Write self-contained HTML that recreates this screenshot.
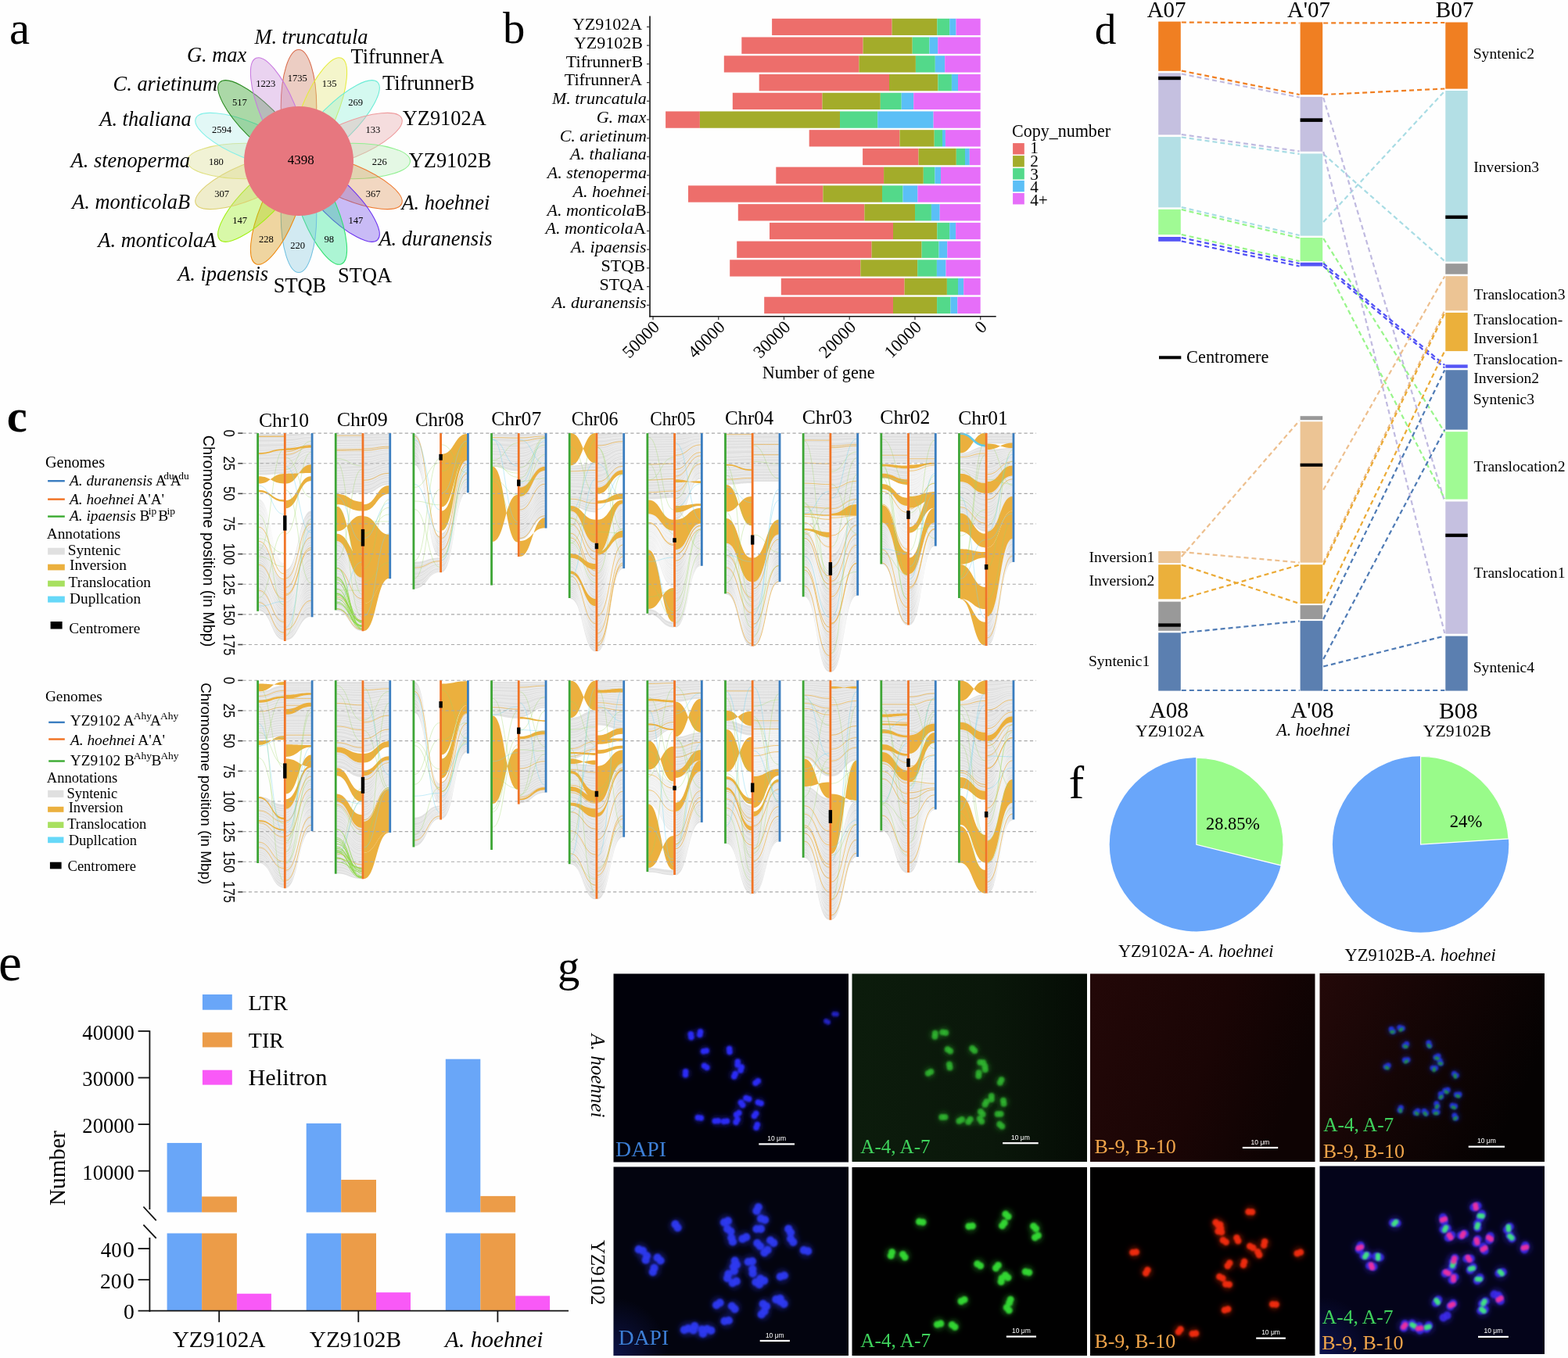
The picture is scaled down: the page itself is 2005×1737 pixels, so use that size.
<!DOCTYPE html>
<html><head><meta charset="utf-8"><title>Figure</title>
<style>html,body{margin:0;padding:0;background:#fff;} svg{display:block;}</style>
</head><body>
<svg width="2005" height="1737" viewBox="0 0 2005 1737">
<rect x="0" y="0" width="2005" height="1737" fill="#fefefe"/>
<text x="12.08" y="55.71" font-size="58.75" font-family='"Liberation Serif", "Times New Roman", serif' fill="#000">a</text>
<text x="642.98" y="55.33" font-size="56.60" font-family='"Liberation Serif", "Times New Roman", serif' fill="#000">b</text>
<text x="8.83" y="551.71" font-size="58.54" font-family='"Liberation Serif", "Times New Roman", serif' fill="#000" font-weight="bold">c</text>
<text x="1399.64" y="55.55" font-size="55.32" font-family='"Liberation Serif", "Times New Roman", serif' fill="#000">d</text>
<text x="-2.03" y="1254.33" font-size="67.29" font-family='"Liberation Serif", "Times New Roman", serif' fill="#000">e</text>
<text x="1366.71" y="1020.80" font-size="58.30" font-family='"Liberation Serif", "Times New Roman", serif' fill="#000">f</text>
<text x="712.91" y="1255.34" font-size="56.55" font-family='"Liberation Serif", "Times New Roman", serif' fill="#000">g</text>
<ellipse cx="382.00" cy="136.50" rx="22.8" ry="73.0" transform="rotate(0 382.00 136.50)" fill="#cd7a5f" fill-opacity="0.37" stroke="#d96a4a" stroke-width="1.05"/>
<ellipse cx="408.60" cy="141.79" rx="22.8" ry="73.0" transform="rotate(22.5 408.60 141.79)" fill="#e4e676" fill-opacity="0.37" stroke="#e6ec3c" stroke-width="1.05"/>
<ellipse cx="431.14" cy="156.86" rx="22.8" ry="73.0" transform="rotate(45 431.14 156.86)" fill="#8ef2d9" fill-opacity="0.37" stroke="#6aecd6" stroke-width="1.05"/>
<ellipse cx="446.21" cy="179.40" rx="22.8" ry="73.0" transform="rotate(67.5 446.21 179.40)" fill="#e6a5a7" fill-opacity="0.37" stroke="#ee9a9c" stroke-width="1.05"/>
<ellipse cx="451.50" cy="206.00" rx="22.8" ry="73.0" transform="rotate(90 451.50 206.00)" fill="#b9f0b9" fill-opacity="0.37" stroke="#90f090" stroke-width="1.05"/>
<ellipse cx="446.21" cy="232.60" rx="22.8" ry="73.0" transform="rotate(112.5 446.21 232.60)" fill="#de965a" fill-opacity="0.37" stroke="#ee7a30" stroke-width="1.05"/>
<ellipse cx="431.14" cy="255.14" rx="22.8" ry="73.0" transform="rotate(135 431.14 255.14)" fill="#6e48e8" fill-opacity="0.37" stroke="#6a30f0" stroke-width="1.05"/>
<ellipse cx="408.60" cy="270.21" rx="22.8" ry="73.0" transform="rotate(157.5 408.60 270.21)" fill="#20e68e" fill-opacity="0.37" stroke="#30e070" stroke-width="1.05"/>
<ellipse cx="382.00" cy="275.50" rx="22.8" ry="73.0" transform="rotate(180 382.00 275.50)" fill="#87c8de" fill-opacity="0.37" stroke="#70c0e0" stroke-width="1.05"/>
<ellipse cx="355.40" cy="270.21" rx="22.8" ry="73.0" transform="rotate(202.5 355.40 270.21)" fill="#d79100" fill-opacity="0.37" stroke="#ee8a10" stroke-width="1.05"/>
<ellipse cx="332.86" cy="255.14" rx="22.8" ry="73.0" transform="rotate(225 332.86 255.14)" fill="#98f016" fill-opacity="0.37" stroke="#a0f010" stroke-width="1.05"/>
<ellipse cx="317.79" cy="232.60" rx="22.8" ry="73.0" transform="rotate(247.5 317.79 232.60)" fill="#d7d276" fill-opacity="0.37" stroke="#ddd070" stroke-width="1.05"/>
<ellipse cx="312.50" cy="206.00" rx="22.8" ry="73.0" transform="rotate(270 312.50 206.00)" fill="#dcde91" fill-opacity="0.37" stroke="#e0e080" stroke-width="1.05"/>
<ellipse cx="317.79" cy="179.40" rx="22.8" ry="73.0" transform="rotate(292.5 317.79 179.40)" fill="#b4f0e8" fill-opacity="0.37" stroke="#80f0e8" stroke-width="1.05"/>
<ellipse cx="332.86" cy="156.86" rx="22.8" ry="73.0" transform="rotate(315 332.86 156.86)" fill="#1e9812" fill-opacity="0.37" stroke="#2a8a20" stroke-width="1.05"/>
<ellipse cx="355.40" cy="141.79" rx="22.8" ry="73.0" transform="rotate(337.5 355.40 141.79)" fill="#c88ada" fill-opacity="0.37" stroke="#c878e0" stroke-width="1.05"/>
<circle cx="382.0" cy="206.0" r="70" fill="#e7777f"/>
<text x="367.73" y="103.60" font-size="12.60" font-family='"Liberation Serif", "Times New Roman", serif' fill="#000"><tspan>1735</tspan></text>
<text x="327.13" y="111.40" font-size="12.60" font-family='"Liberation Serif", "Times New Roman", serif' fill="#000"><tspan>1223</tspan></text>
<text x="411.73" y="111.40" font-size="12.60" font-family='"Liberation Serif", "Times New Roman", serif' fill="#000"><tspan>135</tspan></text>
<text x="296.94" y="134.90" font-size="12.60" font-family='"Liberation Serif", "Times New Roman", serif' fill="#000"><tspan>517</tspan></text>
<text x="445.13" y="134.90" font-size="12.60" font-family='"Liberation Serif", "Times New Roman", serif' fill="#000"><tspan>269</tspan></text>
<text x="270.93" y="169.60" font-size="12.60" font-family='"Liberation Serif", "Times New Roman", serif' fill="#000"><tspan>2594</tspan></text>
<text x="467.53" y="169.60" font-size="12.60" font-family='"Liberation Serif", "Times New Roman", serif' fill="#000"><tspan>133</tspan></text>
<text x="266.93" y="210.70" font-size="12.60" font-family='"Liberation Serif", "Times New Roman", serif' fill="#000"><tspan>180</tspan></text>
<text x="475.83" y="210.70" font-size="12.60" font-family='"Liberation Serif", "Times New Roman", serif' fill="#000"><tspan>226</tspan></text>
<text x="274.23" y="251.80" font-size="12.60" font-family='"Liberation Serif", "Times New Roman", serif' fill="#000"><tspan>307</tspan></text>
<text x="467.63" y="251.80" font-size="12.60" font-family='"Liberation Serif", "Times New Roman", serif' fill="#000"><tspan>367</tspan></text>
<text x="297.23" y="286.20" font-size="12.60" font-family='"Liberation Serif", "Times New Roman", serif' fill="#000"><tspan>147</tspan></text>
<text x="445.43" y="286.20" font-size="12.60" font-family='"Liberation Serif", "Times New Roman", serif' fill="#000"><tspan>147</tspan></text>
<text x="331.03" y="310.10" font-size="12.60" font-family='"Liberation Serif", "Times New Roman", serif' fill="#000"><tspan>228</tspan></text>
<text x="414.42" y="310.10" font-size="12.60" font-family='"Liberation Serif", "Times New Roman", serif' fill="#000"><tspan>98</tspan></text>
<text x="371.13" y="318.00" font-size="12.60" font-family='"Liberation Serif", "Times New Roman", serif' fill="#000"><tspan>220</tspan></text>
<text x="367.86" y="210.30" font-size="17.00" font-family='"Liberation Serif", "Times New Roman", serif' fill="#000"><tspan>4398</tspan></text>
<text x="325.41" y="56.00" font-size="26.40" font-family='"Liberation Serif", "Times New Roman", serif' fill="#000"><tspan font-style="italic">M. truncatula</tspan></text>
<text x="238.97" y="79.00" font-size="26.40" font-family='"Liberation Serif", "Times New Roman", serif' fill="#000"><tspan font-style="italic">G. max</tspan></text>
<text x="448.47" y="80.60" font-size="26.40" font-family='"Liberation Serif", "Times New Roman", serif' fill="#000"><tspan>TifrunnerA</tspan></text>
<text x="144.60" y="116.00" font-size="26.40" font-family='"Liberation Serif", "Times New Roman", serif' fill="#000"><tspan font-style="italic">C. arietinum</tspan></text>
<text x="488.97" y="115.00" font-size="26.40" font-family='"Liberation Serif", "Times New Roman", serif' fill="#000"><tspan>TifrunnerB</tspan></text>
<text x="127.31" y="160.60" font-size="26.40" font-family='"Liberation Serif", "Times New Roman", serif' fill="#000"><tspan font-style="italic">A. thaliana</tspan></text>
<text x="514.74" y="160.30" font-size="26.40" font-family='"Liberation Serif", "Times New Roman", serif' fill="#000"><tspan>YZ9102A</tspan></text>
<text x="90.60" y="214.00" font-size="26.40" font-family='"Liberation Serif", "Times New Roman", serif' fill="#000"><tspan font-style="italic">A. stenoperma</tspan></text>
<text x="522.74" y="214.00" font-size="26.40" font-family='"Liberation Serif", "Times New Roman", serif' fill="#000"><tspan>YZ9102B</tspan></text>
<text x="92.12" y="266.60" font-size="26.40" font-family='"Liberation Serif", "Times New Roman", serif' fill="#000"><tspan font-style="italic">A. monticolaB</tspan></text>
<text x="513.45" y="268.00" font-size="26.40" font-family='"Liberation Serif", "Times New Roman", serif' fill="#000"><tspan font-style="italic">A. hoehnei</tspan></text>
<text x="125.36" y="316.00" font-size="26.40" font-family='"Liberation Serif", "Times New Roman", serif' fill="#000"><tspan font-style="italic">A. monticolaA</tspan></text>
<text x="484.45" y="314.00" font-size="26.40" font-family='"Liberation Serif", "Times New Roman", serif' fill="#000"><tspan font-style="italic">A. duranensis</tspan></text>
<text x="227.20" y="358.80" font-size="26.40" font-family='"Liberation Serif", "Times New Roman", serif' fill="#000"><tspan font-style="italic">A. ipaensis</tspan></text>
<text x="349.71" y="374.00" font-size="26.40" font-family='"Liberation Serif", "Times New Roman", serif' fill="#000"><tspan>STQB</tspan></text>
<text x="432.08" y="361.40" font-size="26.40" font-family='"Liberation Serif", "Times New Roman", serif' fill="#000"><tspan>STQA</tspan></text>
<rect x="987.10" y="23.80" width="153.50" height="21.30" fill="#ED6E6B"/>
<rect x="1140.60" y="23.80" width="57.70" height="21.30" fill="#A3AC2A"/>
<rect x="1198.30" y="23.80" width="15.90" height="21.30" fill="#53D98A"/>
<rect x="1214.20" y="23.80" width="8.30" height="21.30" fill="#5BBFF6"/>
<rect x="1222.50" y="23.80" width="31.20" height="21.30" fill="#E66EF9"/>
<rect x="948.30" y="47.53" width="155.30" height="21.30" fill="#ED6E6B"/>
<rect x="1103.60" y="47.53" width="63.10" height="21.30" fill="#A3AC2A"/>
<rect x="1166.70" y="47.53" width="21.70" height="21.30" fill="#53D98A"/>
<rect x="1188.40" y="47.53" width="10.80" height="21.30" fill="#5BBFF6"/>
<rect x="1199.20" y="47.53" width="54.50" height="21.30" fill="#E66EF9"/>
<rect x="925.80" y="71.26" width="172.60" height="21.30" fill="#ED6E6B"/>
<rect x="1098.40" y="71.26" width="72.50" height="21.30" fill="#A3AC2A"/>
<rect x="1170.90" y="71.26" width="24.90" height="21.30" fill="#53D98A"/>
<rect x="1195.80" y="71.26" width="12.40" height="21.30" fill="#5BBFF6"/>
<rect x="1208.20" y="71.26" width="45.50" height="21.30" fill="#E66EF9"/>
<rect x="970.70" y="94.99" width="166.30" height="21.30" fill="#ED6E6B"/>
<rect x="1137.00" y="94.99" width="62.40" height="21.30" fill="#A3AC2A"/>
<rect x="1199.40" y="94.99" width="17.50" height="21.30" fill="#53D98A"/>
<rect x="1216.90" y="94.99" width="8.10" height="21.30" fill="#5BBFF6"/>
<rect x="1225.00" y="94.99" width="28.70" height="21.30" fill="#E66EF9"/>
<rect x="936.80" y="118.72" width="114.70" height="21.30" fill="#ED6E6B"/>
<rect x="1051.50" y="118.72" width="74.30" height="21.30" fill="#A3AC2A"/>
<rect x="1125.80" y="118.72" width="26.90" height="21.30" fill="#53D98A"/>
<rect x="1152.70" y="118.72" width="15.50" height="21.30" fill="#5BBFF6"/>
<rect x="1168.20" y="118.72" width="85.50" height="21.30" fill="#E66EF9"/>
<rect x="851.10" y="142.45" width="43.80" height="21.30" fill="#ED6E6B"/>
<rect x="894.90" y="142.45" width="179.10" height="21.30" fill="#A3AC2A"/>
<rect x="1074.00" y="142.45" width="48.20" height="21.30" fill="#53D98A"/>
<rect x="1122.20" y="142.45" width="71.40" height="21.30" fill="#5BBFF6"/>
<rect x="1193.60" y="142.45" width="60.10" height="21.30" fill="#E66EF9"/>
<rect x="1034.70" y="166.18" width="115.80" height="21.30" fill="#ED6E6B"/>
<rect x="1150.50" y="166.18" width="44.20" height="21.30" fill="#A3AC2A"/>
<rect x="1194.70" y="166.18" width="10.30" height="21.30" fill="#53D98A"/>
<rect x="1205.00" y="166.18" width="3.90" height="21.30" fill="#5BBFF6"/>
<rect x="1208.90" y="166.18" width="44.80" height="21.30" fill="#E66EF9"/>
<rect x="1103.10" y="189.91" width="71.40" height="21.30" fill="#ED6E6B"/>
<rect x="1174.50" y="189.91" width="48.30" height="21.30" fill="#A3AC2A"/>
<rect x="1222.80" y="189.91" width="11.20" height="21.30" fill="#53D98A"/>
<rect x="1234.00" y="189.91" width="5.80" height="21.30" fill="#5BBFF6"/>
<rect x="1239.80" y="189.91" width="13.90" height="21.30" fill="#E66EF9"/>
<rect x="992.30" y="213.64" width="137.80" height="21.30" fill="#ED6E6B"/>
<rect x="1130.10" y="213.64" width="50.70" height="21.30" fill="#A3AC2A"/>
<rect x="1180.80" y="213.64" width="14.60" height="21.30" fill="#53D98A"/>
<rect x="1195.40" y="213.64" width="7.60" height="21.30" fill="#5BBFF6"/>
<rect x="1203.00" y="213.64" width="50.70" height="21.30" fill="#E66EF9"/>
<rect x="880.00" y="237.37" width="172.40" height="21.30" fill="#ED6E6B"/>
<rect x="1052.40" y="237.37" width="75.60" height="21.30" fill="#A3AC2A"/>
<rect x="1128.00" y="237.37" width="26.50" height="21.30" fill="#53D98A"/>
<rect x="1154.50" y="237.37" width="18.90" height="21.30" fill="#5BBFF6"/>
<rect x="1173.40" y="237.37" width="80.30" height="21.30" fill="#E66EF9"/>
<rect x="943.80" y="261.10" width="161.60" height="21.30" fill="#ED6E6B"/>
<rect x="1105.40" y="261.10" width="64.60" height="21.30" fill="#A3AC2A"/>
<rect x="1170.00" y="261.10" width="20.90" height="21.30" fill="#53D98A"/>
<rect x="1190.90" y="261.10" width="10.80" height="21.30" fill="#5BBFF6"/>
<rect x="1201.70" y="261.10" width="52.00" height="21.30" fill="#E66EF9"/>
<rect x="984.00" y="284.83" width="158.00" height="21.30" fill="#ED6E6B"/>
<rect x="1142.00" y="284.83" width="56.30" height="21.30" fill="#A3AC2A"/>
<rect x="1198.30" y="284.83" width="15.90" height="21.30" fill="#53D98A"/>
<rect x="1214.20" y="284.83" width="7.90" height="21.30" fill="#5BBFF6"/>
<rect x="1222.10" y="284.83" width="31.60" height="21.30" fill="#E66EF9"/>
<rect x="942.20" y="308.56" width="172.40" height="21.30" fill="#ED6E6B"/>
<rect x="1114.60" y="308.56" width="64.00" height="21.30" fill="#A3AC2A"/>
<rect x="1178.60" y="308.56" width="21.90" height="21.30" fill="#53D98A"/>
<rect x="1200.50" y="308.56" width="10.80" height="21.30" fill="#5BBFF6"/>
<rect x="1211.30" y="308.56" width="42.40" height="21.30" fill="#E66EF9"/>
<rect x="933.20" y="332.29" width="167.20" height="21.30" fill="#ED6E6B"/>
<rect x="1100.40" y="332.29" width="72.80" height="21.30" fill="#A3AC2A"/>
<rect x="1173.20" y="332.29" width="24.70" height="21.30" fill="#53D98A"/>
<rect x="1197.90" y="332.29" width="11.60" height="21.30" fill="#5BBFF6"/>
<rect x="1209.50" y="332.29" width="44.20" height="21.30" fill="#E66EF9"/>
<rect x="998.80" y="356.02" width="157.80" height="21.30" fill="#ED6E6B"/>
<rect x="1156.60" y="356.02" width="54.30" height="21.30" fill="#A3AC2A"/>
<rect x="1210.90" y="356.02" width="14.10" height="21.30" fill="#53D98A"/>
<rect x="1225.00" y="356.02" width="7.20" height="21.30" fill="#5BBFF6"/>
<rect x="1232.20" y="356.02" width="21.50" height="21.30" fill="#E66EF9"/>
<rect x="977.20" y="379.75" width="164.80" height="21.30" fill="#ED6E6B"/>
<rect x="1142.00" y="379.75" width="56.10" height="21.30" fill="#A3AC2A"/>
<rect x="1198.10" y="379.75" width="17.30" height="21.30" fill="#53D98A"/>
<rect x="1215.40" y="379.75" width="8.90" height="21.30" fill="#5BBFF6"/>
<rect x="1224.30" y="379.75" width="29.40" height="21.30" fill="#E66EF9"/>
<text x="731.90" y="38.30" font-size="22.00" font-family='"Liberation Serif", "Times New Roman", serif' fill="#000"><tspan>YZ9102A</tspan></text>
<text x="733.99" y="62.03" font-size="22.00" font-family='"Liberation Serif", "Times New Roman", serif' fill="#000"><tspan>YZ9102B</tspan></text>
<text x="723.87" y="85.76" font-size="22.00" font-family='"Liberation Serif", "Times New Roman", serif' fill="#000"><tspan>TifrunnerB</tspan></text>
<text x="721.78" y="109.49" font-size="22.00" font-family='"Liberation Serif", "Times New Roman", serif' fill="#000"><tspan>TifrunnerA</tspan></text>
<text x="705.88" y="133.22" font-size="22.00" font-family='"Liberation Serif", "Times New Roman", serif' fill="#000"><tspan font-style="italic">M. truncatula</tspan></text>
<text x="762.64" y="156.95" font-size="22.00" font-family='"Liberation Serif", "Times New Roman", serif' fill="#000"><tspan font-style="italic">G. max</tspan></text>
<text x="715.67" y="180.68" font-size="22.00" font-family='"Liberation Serif", "Times New Roman", serif' fill="#000"><tspan font-style="italic">C. arietinum</tspan></text>
<text x="729.09" y="204.41" font-size="22.00" font-family='"Liberation Serif", "Times New Roman", serif' fill="#000"><tspan font-style="italic">A. thaliana</tspan></text>
<text x="699.83" y="228.14" font-size="22.00" font-family='"Liberation Serif", "Times New Roman", serif' fill="#000"><tspan font-style="italic">A. stenoperma</tspan></text>
<text x="732.50" y="251.87" font-size="22.00" font-family='"Liberation Serif", "Times New Roman", serif' fill="#000"><tspan font-style="italic">A. hoehnei</tspan></text>
<text x="699.54" y="275.60" font-size="22.00" font-family='"Liberation Serif", "Times New Roman", serif' fill="#000"><tspan font-style="italic">A. monticola</tspan><tspan>B</tspan></text>
<text x="697.45" y="299.33" font-size="22.00" font-family='"Liberation Serif", "Times New Roman", serif' fill="#000"><tspan font-style="italic">A. monticola</tspan><tspan>A</tspan></text>
<text x="730.08" y="323.06" font-size="22.00" font-family='"Liberation Serif", "Times New Roman", serif' fill="#000"><tspan font-style="italic">A. ipaensis</tspan></text>
<text x="768.58" y="346.79" font-size="22.00" font-family='"Liberation Serif", "Times New Roman", serif' fill="#000"><tspan>STQB</tspan></text>
<text x="766.49" y="370.52" font-size="22.00" font-family='"Liberation Serif", "Times New Roman", serif' fill="#000"><tspan>STQA</tspan></text>
<text x="705.66" y="394.25" font-size="22.00" font-family='"Liberation Serif", "Times New Roman", serif' fill="#000"><tspan font-style="italic">A. duranensis</tspan></text>
<line x1="831.00" y1="20.50" x2="831.00" y2="405.40" stroke="#111" stroke-width="1.6"/>
<line x1="830.20" y1="404.70" x2="1273.70" y2="404.70" stroke="#111" stroke-width="1.6"/>
<line x1="827.00" y1="34.40" x2="831.00" y2="34.40" stroke="#333" stroke-width="1.2"/>
<line x1="827.00" y1="58.13" x2="831.00" y2="58.13" stroke="#333" stroke-width="1.2"/>
<line x1="827.00" y1="81.86" x2="831.00" y2="81.86" stroke="#333" stroke-width="1.2"/>
<line x1="827.00" y1="105.59" x2="831.00" y2="105.59" stroke="#333" stroke-width="1.2"/>
<line x1="827.00" y1="129.32" x2="831.00" y2="129.32" stroke="#333" stroke-width="1.2"/>
<line x1="827.00" y1="153.05" x2="831.00" y2="153.05" stroke="#333" stroke-width="1.2"/>
<line x1="827.00" y1="176.78" x2="831.00" y2="176.78" stroke="#333" stroke-width="1.2"/>
<line x1="827.00" y1="200.51" x2="831.00" y2="200.51" stroke="#333" stroke-width="1.2"/>
<line x1="827.00" y1="224.24" x2="831.00" y2="224.24" stroke="#333" stroke-width="1.2"/>
<line x1="827.00" y1="247.97" x2="831.00" y2="247.97" stroke="#333" stroke-width="1.2"/>
<line x1="827.00" y1="271.70" x2="831.00" y2="271.70" stroke="#333" stroke-width="1.2"/>
<line x1="827.00" y1="295.43" x2="831.00" y2="295.43" stroke="#333" stroke-width="1.2"/>
<line x1="827.00" y1="319.16" x2="831.00" y2="319.16" stroke="#333" stroke-width="1.2"/>
<line x1="827.00" y1="342.89" x2="831.00" y2="342.89" stroke="#333" stroke-width="1.2"/>
<line x1="827.00" y1="366.62" x2="831.00" y2="366.62" stroke="#333" stroke-width="1.2"/>
<line x1="827.00" y1="390.35" x2="831.00" y2="390.35" stroke="#333" stroke-width="1.2"/>
<line x1="1253.70" y1="404.70" x2="1253.70" y2="409.00" stroke="#333" stroke-width="1.2"/>
<text x="1263.20" y="419.50" font-size="22.5" font-family='"Liberation Serif", "Times New Roman", serif' text-anchor="end" transform="rotate(-45 1263.20 419.5)">0</text>
<line x1="1169.96" y1="404.70" x2="1169.96" y2="409.00" stroke="#333" stroke-width="1.2"/>
<text x="1179.46" y="419.50" font-size="22.5" font-family='"Liberation Serif", "Times New Roman", serif' text-anchor="end" transform="rotate(-45 1179.46 419.5)">10000</text>
<line x1="1086.22" y1="404.70" x2="1086.22" y2="409.00" stroke="#333" stroke-width="1.2"/>
<text x="1095.72" y="419.50" font-size="22.5" font-family='"Liberation Serif", "Times New Roman", serif' text-anchor="end" transform="rotate(-45 1095.72 419.5)">20000</text>
<line x1="1002.48" y1="404.70" x2="1002.48" y2="409.00" stroke="#333" stroke-width="1.2"/>
<text x="1011.98" y="419.50" font-size="22.5" font-family='"Liberation Serif", "Times New Roman", serif' text-anchor="end" transform="rotate(-45 1011.98 419.5)">30000</text>
<line x1="918.74" y1="404.70" x2="918.74" y2="409.00" stroke="#333" stroke-width="1.2"/>
<text x="928.24" y="419.50" font-size="22.5" font-family='"Liberation Serif", "Times New Roman", serif' text-anchor="end" transform="rotate(-45 928.24 419.5)">40000</text>
<line x1="835.00" y1="404.70" x2="835.00" y2="409.00" stroke="#333" stroke-width="1.2"/>
<text x="844.50" y="419.50" font-size="22.5" font-family='"Liberation Serif", "Times New Roman", serif' text-anchor="end" transform="rotate(-45 844.50 419.5)">50000</text>
<text x="974.63" y="483.70" font-size="22.18" font-family='"Liberation Serif", "Times New Roman", serif' fill="#000"><tspan>Number of gene</tspan></text>
<text x="1294.02" y="174.70" font-size="22.03" font-family='"Liberation Serif", "Times New Roman", serif' fill="#000"><tspan>Copy_number</tspan></text>
<rect x="1295.10" y="183.10" width="14.70" height="14.40" fill="#ED6E6B"/>
<text x="1317.20" y="196.40" font-size="21.20" font-family='"Liberation Serif", "Times New Roman", serif' fill="#000" text-anchor="start"><tspan>1</tspan></text>
<rect x="1295.10" y="199.10" width="14.70" height="14.40" fill="#A3AC2A"/>
<text x="1317.20" y="213.00" font-size="21.20" font-family='"Liberation Serif", "Times New Roman", serif' fill="#000" text-anchor="start"><tspan>2</tspan></text>
<rect x="1295.10" y="215.10" width="14.70" height="14.40" fill="#53D98A"/>
<text x="1317.20" y="229.50" font-size="21.20" font-family='"Liberation Serif", "Times New Roman", serif' fill="#000" text-anchor="start"><tspan>3</tspan></text>
<rect x="1295.10" y="230.90" width="14.70" height="14.40" fill="#5BBFF6"/>
<text x="1317.20" y="245.60" font-size="21.20" font-family='"Liberation Serif", "Times New Roman", serif' fill="#000" text-anchor="start"><tspan>4</tspan></text>
<rect x="1295.10" y="247.00" width="14.70" height="14.40" fill="#E66EF9"/>
<text x="1317.20" y="262.50" font-size="21.20" font-family='"Liberation Serif", "Times New Roman", serif' fill="#000" text-anchor="start"><tspan>4+</tspan></text>
<rect x="1481.20" y="27.60" width="28.60" height="63.20" fill="#F07F22"/>
<rect x="1481.20" y="93.30" width="28.60" height="79.10" fill="#C5C0E0"/>
<rect x="1481.20" y="97.80" width="28.60" height="4.40" fill="#000"/>
<rect x="1481.20" y="175.10" width="28.60" height="90.20" fill="#B3DFE5"/>
<rect x="1481.20" y="267.80" width="28.60" height="32.30" fill="#A0FA94"/>
<rect x="1481.20" y="303.00" width="28.60" height="5.80" fill="#5555F5"/>
<rect x="1662.60" y="28.40" width="28.60" height="92.80" fill="#F07F22"/>
<rect x="1662.60" y="123.90" width="28.60" height="69.90" fill="#C5C0E0"/>
<rect x="1662.60" y="151.30" width="28.60" height="4.60" fill="#000"/>
<rect x="1662.60" y="196.50" width="28.60" height="105.10" fill="#B3DFE5"/>
<rect x="1662.60" y="304.00" width="28.60" height="30.10" fill="#A0FA94"/>
<rect x="1662.60" y="335.80" width="28.60" height="4.70" fill="#5555F5"/>
<rect x="1848.30" y="28.50" width="28.40" height="85.10" fill="#F07F22"/>
<rect x="1848.30" y="116.00" width="28.40" height="218.60" fill="#B3DFE5"/>
<rect x="1848.30" y="275.50" width="28.40" height="4.40" fill="#000"/>
<rect x="1848.30" y="337.20" width="28.40" height="13.50" fill="#999999"/>
<rect x="1848.30" y="353.20" width="28.40" height="44.10" fill="#ECC494"/>
<rect x="1848.30" y="399.90" width="28.40" height="49.20" fill="#EBB03B"/>
<rect x="1848.30" y="466.40" width="28.40" height="4.30" fill="#5555F5"/>
<rect x="1848.30" y="473.30" width="28.40" height="76.30" fill="#5B7FB0"/>
<rect x="1848.30" y="552.20" width="28.40" height="86.40" fill="#A0FA94"/>
<rect x="1848.30" y="641.50" width="28.40" height="169.20" fill="#C5C0E0"/>
<rect x="1848.30" y="682.60" width="28.40" height="4.30" fill="#000"/>
<rect x="1848.30" y="813.60" width="28.40" height="70.00" fill="#5B7FB0"/>
<rect x="1481.20" y="705.00" width="28.60" height="15.20" fill="#ECC494"/>
<rect x="1481.20" y="722.20" width="28.60" height="44.10" fill="#EBB03B"/>
<rect x="1481.20" y="769.60" width="28.60" height="37.20" fill="#999999"/>
<rect x="1481.20" y="797.40" width="28.60" height="4.30" fill="#000"/>
<rect x="1481.20" y="809.30" width="28.60" height="74.30" fill="#5B7FB0"/>
<rect x="1662.60" y="532.20" width="28.60" height="5.00" fill="#999999"/>
<rect x="1662.60" y="539.30" width="28.60" height="180.30" fill="#ECC494"/>
<rect x="1662.60" y="592.70" width="28.60" height="4.10" fill="#000"/>
<rect x="1662.60" y="722.20" width="28.60" height="49.90" fill="#EBB03B"/>
<rect x="1662.60" y="774.10" width="28.60" height="17.80" fill="#999999"/>
<rect x="1662.60" y="794.10" width="28.60" height="89.50" fill="#5B7FB0"/>
<line x1="1510.8" y1="28.5" x2="1661.6" y2="29.5" stroke="#F07F22" stroke-width="2.2" stroke-dasharray="6 4"/>
<line x1="1510.8" y1="90.5" x2="1661.6" y2="121.0" stroke="#F07F22" stroke-width="2.2" stroke-dasharray="6 4"/>
<line x1="1510.8" y1="94.5" x2="1661.6" y2="124.5" stroke="#C0BAE0" stroke-width="2.2" stroke-dasharray="6 4"/>
<line x1="1510.8" y1="172.0" x2="1661.6" y2="193.5" stroke="#C0BAE0" stroke-width="2.2" stroke-dasharray="6 4"/>
<line x1="1510.8" y1="175.5" x2="1661.6" y2="197.0" stroke="#A8DCE4" stroke-width="2.2" stroke-dasharray="6 4"/>
<line x1="1510.8" y1="265.0" x2="1661.6" y2="301.0" stroke="#A8DCE4" stroke-width="2.2" stroke-dasharray="6 4"/>
<line x1="1510.8" y1="268.0" x2="1661.6" y2="304.5" stroke="#98F58A" stroke-width="2.2" stroke-dasharray="6 4"/>
<line x1="1510.8" y1="300.0" x2="1661.6" y2="334.0" stroke="#98F58A" stroke-width="2.2" stroke-dasharray="6 4"/>
<line x1="1510.8" y1="304.0" x2="1661.6" y2="337.0" stroke="#4F4FF5" stroke-width="2.2" stroke-dasharray="6 4"/>
<line x1="1510.8" y1="308.5" x2="1661.6" y2="340.5" stroke="#4F4FF5" stroke-width="2.2" stroke-dasharray="6 4"/>
<line x1="1692.2" y1="29.5" x2="1847.3" y2="29.0" stroke="#F07F22" stroke-width="2.2" stroke-dasharray="6 4"/>
<line x1="1692.2" y1="121.0" x2="1847.3" y2="113.5" stroke="#F07F22" stroke-width="2.2" stroke-dasharray="6 4"/>
<line x1="1692.2" y1="197.0" x2="1847.3" y2="334.0" stroke="#A8DCE4" stroke-width="2.2" stroke-dasharray="6 4"/>
<line x1="1692.2" y1="284.0" x2="1847.3" y2="116.5" stroke="#A8DCE4" stroke-width="2.2" stroke-dasharray="6 4"/>
<line x1="1692.2" y1="125.0" x2="1847.3" y2="641.5" stroke="#C0BAE0" stroke-width="2.2" stroke-dasharray="6 4"/>
<line x1="1692.2" y1="194.0" x2="1847.3" y2="810.0" stroke="#C0BAE0" stroke-width="2.2" stroke-dasharray="6 4"/>
<line x1="1692.2" y1="305.0" x2="1847.3" y2="553.0" stroke="#98F58A" stroke-width="2.2" stroke-dasharray="6 4"/>
<line x1="1692.2" y1="334.5" x2="1847.3" y2="638.0" stroke="#98F58A" stroke-width="2.2" stroke-dasharray="6 4"/>
<line x1="1692.2" y1="337.0" x2="1847.3" y2="467.0" stroke="#4F4FF5" stroke-width="2.2" stroke-dasharray="6 4"/>
<line x1="1692.2" y1="340.5" x2="1847.3" y2="470.5" stroke="#4F4FF5" stroke-width="2.2" stroke-dasharray="6 4"/>
<line x1="1510.8" y1="712.0" x2="1661.6" y2="538.0" stroke="#EDBF8E" stroke-width="2.2" stroke-dasharray="6 4"/>
<line x1="1510.8" y1="706.0" x2="1661.6" y2="719.5" stroke="#EDBF8E" stroke-width="2.2" stroke-dasharray="6 4"/>
<line x1="1510.8" y1="722.5" x2="1661.6" y2="772.0" stroke="#EBAA35" stroke-width="2.2" stroke-dasharray="6 4"/>
<line x1="1510.8" y1="766.0" x2="1661.6" y2="722.5" stroke="#EBAA35" stroke-width="2.2" stroke-dasharray="6 4"/>
<line x1="1510.8" y1="809.5" x2="1661.6" y2="794.5" stroke="#4F7BB5" stroke-width="2.2" stroke-dasharray="6 4"/>
<line x1="1510.8" y1="883.0" x2="1661.6" y2="883.0" stroke="#4F7BB5" stroke-width="2.2" stroke-dasharray="6 4"/>
<line x1="1692.2" y1="626.5" x2="1847.3" y2="353.5" stroke="#EDBF8E" stroke-width="2.2" stroke-dasharray="6 4"/>
<line x1="1692.2" y1="719.5" x2="1847.3" y2="397.0" stroke="#EDBF8E" stroke-width="2.2" stroke-dasharray="6 4"/>
<line x1="1692.2" y1="722.5" x2="1847.3" y2="400.5" stroke="#EBAA35" stroke-width="2.2" stroke-dasharray="6 4"/>
<line x1="1692.2" y1="771.5" x2="1847.3" y2="449.0" stroke="#EBAA35" stroke-width="2.2" stroke-dasharray="6 4"/>
<line x1="1692.2" y1="792.0" x2="1847.3" y2="473.5" stroke="#4F7BB5" stroke-width="2.2" stroke-dasharray="6 4"/>
<line x1="1692.2" y1="843.0" x2="1847.3" y2="549.5" stroke="#4F7BB5" stroke-width="2.2" stroke-dasharray="6 4"/>
<line x1="1692.2" y1="852.5" x2="1847.3" y2="813.5" stroke="#4F7BB5" stroke-width="2.2" stroke-dasharray="6 4"/>
<line x1="1692.2" y1="883.0" x2="1847.3" y2="883.0" stroke="#4F7BB5" stroke-width="2.2" stroke-dasharray="6 4"/>
<text x="1466.71" y="22.40" font-size="28.93" font-family='"Liberation Serif", "Times New Roman", serif' fill="#000"><tspan>A07</tspan></text>
<text x="1645.91" y="22.40" font-size="28.98" font-family='"Liberation Serif", "Times New Roman", serif' fill="#000"><tspan>A'07</tspan></text>
<text x="1835.72" y="22.40" font-size="29.28" font-family='"Liberation Serif", "Times New Roman", serif' fill="#000"><tspan>B07</tspan></text>
<text x="1883.73" y="75.10" font-size="19.60" font-family='"Liberation Serif", "Times New Roman", serif' fill="#000"><tspan>Syntenic2</tspan></text>
<text x="1884.31" y="220.20" font-size="19.60" font-family='"Liberation Serif", "Times New Roman", serif' fill="#000"><tspan>Inversion3</tspan></text>
<text x="1884.61" y="383.00" font-size="19.60" font-family='"Liberation Serif", "Times New Roman", serif' fill="#000"><tspan>Translocation3</tspan></text>
<text x="1884.61" y="415.40" font-size="19.60" font-family='"Liberation Serif", "Times New Roman", serif' fill="#000"><tspan>Translocation-</tspan></text>
<text x="1884.31" y="438.70" font-size="19.60" font-family='"Liberation Serif", "Times New Roman", serif' fill="#000"><tspan>Inversion1</tspan></text>
<text x="1884.61" y="466.40" font-size="19.60" font-family='"Liberation Serif", "Times New Roman", serif' fill="#000"><tspan>Translocation-</tspan></text>
<text x="1884.31" y="489.70" font-size="19.60" font-family='"Liberation Serif", "Times New Roman", serif' fill="#000"><tspan>Inversion2</tspan></text>
<text x="1883.73" y="517.30" font-size="19.60" font-family='"Liberation Serif", "Times New Roman", serif' fill="#000"><tspan>Syntenic3</tspan></text>
<text x="1884.61" y="603.30" font-size="19.60" font-family='"Liberation Serif", "Times New Roman", serif' fill="#000"><tspan>Translocation2</tspan></text>
<text x="1884.61" y="738.60" font-size="19.60" font-family='"Liberation Serif", "Times New Roman", serif' fill="#000"><tspan>Translocation1</tspan></text>
<text x="1883.73" y="859.50" font-size="19.60" font-family='"Liberation Serif", "Times New Roman", serif' fill="#000"><tspan>Syntenic4</tspan></text>
<text x="1392.51" y="718.90" font-size="19.60" font-family='"Liberation Serif", "Times New Roman", serif' fill="#000"><tspan>Inversion1</tspan></text>
<text x="1392.51" y="749.30" font-size="19.60" font-family='"Liberation Serif", "Times New Roman", serif' fill="#000"><tspan>Inversion2</tspan></text>
<text x="1391.93" y="851.90" font-size="19.60" font-family='"Liberation Serif", "Times New Roman", serif' fill="#000"><tspan>Syntenic1</tspan></text>
<text x="1469.71" y="917.80" font-size="29.10" font-family='"Liberation Serif", "Times New Roman", serif' fill="#000"><tspan>A08</tspan></text>
<text x="1650.31" y="917.80" font-size="29.03" font-family='"Liberation Serif", "Times New Roman", serif' fill="#000"><tspan>A'08</tspan></text>
<text x="1840.01" y="919.40" font-size="29.72" font-family='"Liberation Serif", "Times New Roman", serif' fill="#000"><tspan>B08</tspan></text>
<text x="1451.98" y="941.80" font-size="21.76" font-family='"Liberation Serif", "Times New Roman", serif' fill="#000"><tspan>YZ9102A</tspan></text>
<text x="1632.21" y="941.30" font-size="22.07" font-family='"Liberation Serif", "Times New Roman", serif' fill="#000"><tspan font-style="italic">A. hoehnei</tspan></text>
<text x="1819.68" y="942.40" font-size="21.75" font-family='"Liberation Serif", "Times New Roman", serif' fill="#000"><tspan>YZ9102B</tspan></text>
<rect x="1482.00" y="455.30" width="28.30" height="4.00" fill="#000"/>
<text x="1517.11" y="463.50" font-size="22.30" font-family='"Liberation Serif", "Times New Roman", serif' fill="#000"><tspan>Centromere</tspan></text>
<rect x="213.60" y="1461.94" width="44.50" height="88.66" fill="#69A6F8"/>
<rect x="258.10" y="1530.48" width="44.80" height="20.12" fill="#EC9C48"/>
<rect x="213.60" y="1577.50" width="44.50" height="99.10" fill="#69A6F8"/>
<rect x="258.10" y="1577.50" width="44.80" height="99.10" fill="#EC9C48"/>
<rect x="302.90" y="1654.73" width="44.00" height="21.87" fill="#F959F7"/>
<rect x="391.70" y="1436.91" width="44.50" height="113.69" fill="#69A6F8"/>
<rect x="436.20" y="1509.02" width="44.80" height="41.58" fill="#EC9C48"/>
<rect x="391.70" y="1577.50" width="44.50" height="99.10" fill="#69A6F8"/>
<rect x="436.20" y="1577.50" width="44.80" height="99.10" fill="#EC9C48"/>
<rect x="481.00" y="1653.14" width="44.00" height="23.46" fill="#F959F7"/>
<rect x="569.80" y="1354.66" width="44.50" height="195.94" fill="#69A6F8"/>
<rect x="614.30" y="1529.88" width="44.80" height="20.72" fill="#EC9C48"/>
<rect x="569.80" y="1577.50" width="44.50" height="99.10" fill="#69A6F8"/>
<rect x="614.30" y="1577.50" width="44.80" height="99.10" fill="#EC9C48"/>
<rect x="659.10" y="1657.52" width="44.00" height="19.08" fill="#F959F7"/>
<line x1="191.40" y1="1318.20" x2="191.40" y2="1547.00" stroke="#111" stroke-width="1.8"/>
<line x1="191.40" y1="1583.00" x2="191.40" y2="1678.00" stroke="#111" stroke-width="1.8"/>
<line x1="183.40" y1="1543.50" x2="199.70" y2="1561.10" stroke="#111" stroke-width="1.8"/>
<line x1="183.40" y1="1566.70" x2="199.70" y2="1583.80" stroke="#111" stroke-width="1.8"/>
<line x1="176.60" y1="1676.60" x2="727.00" y2="1676.60" stroke="#111" stroke-width="1.8"/>
<line x1="176.60" y1="1318.90" x2="191.40" y2="1318.90" stroke="#111" stroke-width="1.8"/>
<text x="105.36" y="1329.70" font-size="26.60" font-family='"Liberation Serif", "Times New Roman", serif' fill="#000"><tspan>40000</tspan></text>
<line x1="176.60" y1="1378.50" x2="191.40" y2="1378.50" stroke="#111" stroke-width="1.8"/>
<text x="105.36" y="1389.30" font-size="26.60" font-family='"Liberation Serif", "Times New Roman", serif' fill="#000"><tspan>30000</tspan></text>
<line x1="176.60" y1="1438.10" x2="191.40" y2="1438.10" stroke="#111" stroke-width="1.8"/>
<text x="105.36" y="1448.90" font-size="26.60" font-family='"Liberation Serif", "Times New Roman", serif' fill="#000"><tspan>20000</tspan></text>
<line x1="176.60" y1="1497.70" x2="191.40" y2="1497.70" stroke="#111" stroke-width="1.8"/>
<text x="105.36" y="1508.50" font-size="26.60" font-family='"Liberation Serif", "Times New Roman", serif' fill="#000"><tspan>10000</tspan></text>
<line x1="176.60" y1="1597.08" x2="191.40" y2="1597.08" stroke="#111" stroke-width="1.8"/>
<text x="128.76" y="1607.88" font-size="26.81" font-family='"Liberation Serif", "Times New Roman", serif' fill="#000"><tspan>40</tspan></text>
<text x="157.00" y="1607.88" font-size="30.00" font-family='"Liberation Serif", "Times New Roman", serif' fill="#000"><tspan>0</tspan></text>
<line x1="176.60" y1="1636.84" x2="191.40" y2="1636.84" stroke="#111" stroke-width="1.8"/>
<text x="128.06" y="1647.64" font-size="27.54" font-family='"Liberation Serif", "Times New Roman", serif' fill="#000"><tspan>20</tspan></text>
<text x="157.00" y="1647.64" font-size="30.00" font-family='"Liberation Serif", "Times New Roman", serif' fill="#000"><tspan>0</tspan></text>
<text x="158.10" y="1687.40" font-size="27.62" font-family='"Liberation Serif", "Times New Roman", serif' fill="#000"><tspan>0</tspan></text>
<line x1="280.20" y1="1676.60" x2="280.20" y2="1691.20" stroke="#111" stroke-width="1.8"/>
<line x1="458.30" y1="1676.60" x2="458.30" y2="1691.20" stroke="#111" stroke-width="1.8"/>
<line x1="636.40" y1="1676.60" x2="636.40" y2="1691.20" stroke="#111" stroke-width="1.8"/>
<text x="220.71" y="1722.60" font-size="29.31" font-family='"Liberation Serif", "Times New Roman", serif' fill="#000"><tspan>YZ9102A</tspan></text>
<text x="395.71" y="1722.60" font-size="29.33" font-family='"Liberation Serif", "Times New Roman", serif' fill="#000"><tspan>YZ9102B</tspan></text>
<text x="569.11" y="1722.60" font-size="29.31" font-family='"Liberation Serif", "Times New Roman", serif' fill="#000"><tspan font-style="italic">A. hoehnei</tspan></text>
<text x="0" y="0" font-size="29.2" font-family='"Liberation Serif", "Times New Roman", serif' transform="translate(82.5 1542) rotate(-90)">Number</text>
<rect x="258.90" y="1272.00" width="37.90" height="19.70" fill="#69A6F8"/>
<rect x="258.90" y="1320.50" width="37.90" height="19.00" fill="#EC9C48"/>
<rect x="258.90" y="1368.70" width="37.90" height="18.90" fill="#F959F7"/>
<text x="317.56" y="1291.70" font-size="28.00" font-family='"Liberation Serif", "Times New Roman", serif' fill="#000"><tspan>LTR</tspan></text>
<text x="317.84" y="1339.50" font-size="28.00" font-family='"Liberation Serif", "Times New Roman", serif' fill="#000"><tspan>TIR</tspan></text>
<text x="317.49" y="1387.60" font-size="30.27" font-family='"Liberation Serif", "Times New Roman", serif' fill="#000"><tspan>Helitron</tspan></text>
<circle cx="1529.9" cy="1080.3" r="111.2" fill="#69A6FA"/>
<path d="M1529.9,1080.3 L1529.9,969.0999999999999 A111.2,111.2 0 0 1 1637.86,1106.94 Z" fill="#99FB8A" stroke="#fff" stroke-width="1.2"/>
<circle cx="1816.6" cy="1080.0" r="112.7" fill="#69A6FA"/>
<path d="M1816.6,1080.0 L1816.6,967.3 A112.7,112.7 0 0 1 1929.08,1072.92 Z" fill="#99FB8A" stroke="#fff" stroke-width="1.2"/>
<text x="1541.99" y="1061.00" font-size="22.40" font-family='"Liberation Serif", "Times New Roman", serif' fill="#000"><tspan>28.85%</tspan></text>
<text x="1853.78" y="1058.40" font-size="22.68" font-family='"Liberation Serif", "Times New Roman", serif' fill="#000"><tspan>24%</tspan></text>
<text x="1429.98" y="1223.60" font-size="22.28" font-family='"Liberation Serif", "Times New Roman", serif' fill="#000"><tspan>YZ9102A- </tspan><tspan font-style="italic">A. hoehnei</tspan></text>
<text x="1719.58" y="1228.60" font-size="22.44" font-family='"Liberation Serif", "Times New Roman", serif' fill="#000"><tspan>YZ9102B-</tspan><tspan font-style="italic">A. hoehnei</tspan></text>
<defs>
<filter id="bl" x="-50%" y="-50%" width="200%" height="200%"><feGaussianBlur stdDeviation="1.1"/></filter><filter id="bl2" x="-50%" y="-50%" width="200%" height="200%"><feGaussianBlur stdDeviation="3"/></filter>
<linearGradient id="gGreen" x1="0" y1="0" x2="1" y2="0"><stop offset="0" stop-color="#0c1c0c"/><stop offset="0.6" stop-color="#0a170a"/><stop offset="1" stop-color="#050c05"/></linearGradient>
<linearGradient id="gRed" x1="0" y1="0" x2="1" y2="0.3"><stop offset="0" stop-color="#230808"/><stop offset="0.6" stop-color="#1a0505"/><stop offset="1" stop-color="#0e0303"/></linearGradient>
<linearGradient id="gMerge" x1="0" y1="0" x2="1" y2="0.4"><stop offset="0" stop-color="#240909"/><stop offset="0.5" stop-color="#140505"/><stop offset="1" stop-color="#050202"/></linearGradient>
</defs>
<rect x="784.50" y="1245.50" width="300.50" height="241.00" fill="#01010a"/>
<rect x="1089.50" y="1245.50" width="300.50" height="240.50" fill="url(#gGreen)"/>
<rect x="1394.00" y="1245.50" width="287.50" height="240.50" fill="url(#gRed)"/>
<rect x="1687.50" y="1245.00" width="287.50" height="241.00" fill="url(#gMerge)"/>
<rect x="784.50" y="1492.50" width="300.50" height="241.50" fill="#03040f"/>
<rect x="1089.50" y="1493.00" width="300.50" height="241.00" fill="#010101"/>
<rect x="1394.00" y="1493.00" width="287.50" height="241.00" fill="#010000"/>
<rect x="1687.50" y="1491.50" width="287.50" height="240.50" fill="#04041a"/>
<g filter="url(#bl2)" fill="#2a2cf5" fill-opacity="0.35"><circle cx="883.6" cy="1324.8" r="6.60"/><circle cx="895.3" cy="1321.6" r="6.60"/><circle cx="901.4" cy="1344.3" r="6.60"/><circle cx="932.8" cy="1343.5" r="6.60"/><circle cx="943.3" cy="1360.0" r="6.60"/><circle cx="947.6" cy="1367.0" r="6.60"/><circle cx="902.3" cy="1364.4" r="6.60"/><circle cx="876.6" cy="1372.8" r="6.60"/><circle cx="939.4" cy="1375.2" r="6.60"/><circle cx="967.7" cy="1384.0" r="6.60"/><circle cx="955.8" cy="1405.1" r="6.60"/><circle cx="948.5" cy="1411.9" r="6.60"/><circle cx="971.2" cy="1410.7" r="6.60"/><circle cx="943.3" cy="1424.6" r="6.60"/><circle cx="965.6" cy="1425.8" r="6.60"/><circle cx="894.4" cy="1429.9" r="6.60"/><circle cx="916.2" cy="1433.9" r="6.60"/><circle cx="927.6" cy="1434.2" r="6.60"/><circle cx="942.1" cy="1433.7" r="6.60"/><circle cx="967.7" cy="1440.3" r="6.60"/></g>
<g filter="url(#bl)" fill="#2a2cf5" fill-opacity="1.0"><circle cx="883.9" cy="1326.7" r="3.74"/><circle cx="883.3" cy="1322.8" r="3.74"/><circle cx="894.9" cy="1323.6" r="3.74"/><circle cx="895.6" cy="1319.7" r="3.74"/><circle cx="899.5" cy="1344.8" r="3.74"/><circle cx="903.3" cy="1343.9" r="3.74"/><circle cx="933.0" cy="1345.4" r="3.74"/><circle cx="932.6" cy="1341.5" r="3.74"/><circle cx="943.2" cy="1362.0" r="3.74"/><circle cx="943.3" cy="1358.1" r="3.74"/><circle cx="947.1" cy="1368.9" r="3.74"/><circle cx="948.2" cy="1365.1" r="3.74"/><circle cx="903.9" cy="1365.5" r="3.74"/><circle cx="900.6" cy="1363.3" r="3.74"/><circle cx="876.5" cy="1374.8" r="3.74"/><circle cx="876.7" cy="1370.8" r="3.74"/><circle cx="938.7" cy="1377.0" r="3.74"/><circle cx="940.2" cy="1373.4" r="3.74"/><circle cx="966.1" cy="1385.2" r="3.74"/><circle cx="969.3" cy="1382.8" r="3.74"/><circle cx="957.7" cy="1405.7" r="3.74"/><circle cx="954.0" cy="1404.5" r="3.74"/><circle cx="949.7" cy="1413.5" r="3.74"/><circle cx="947.4" cy="1410.3" r="3.74"/><circle cx="973.1" cy="1411.2" r="3.74"/><circle cx="969.3" cy="1410.1" r="3.74"/><circle cx="941.6" cy="1425.7" r="3.74"/><circle cx="944.9" cy="1423.5" r="3.74"/><circle cx="964.5" cy="1427.5" r="3.74"/><circle cx="966.8" cy="1424.2" r="3.74"/><circle cx="896.4" cy="1430.1" r="3.74"/><circle cx="892.4" cy="1429.6" r="3.74"/><circle cx="914.2" cy="1434.0" r="3.74"/><circle cx="918.2" cy="1433.8" r="3.74"/><circle cx="925.6" cy="1434.4" r="3.74"/><circle cx="929.5" cy="1434.0" r="3.74"/><circle cx="941.1" cy="1435.5" r="3.74"/><circle cx="943.0" cy="1431.9" r="3.74"/><circle cx="967.0" cy="1442.2" r="3.74"/><circle cx="968.4" cy="1438.5" r="3.74"/></g>
<g filter="url(#bl2)" fill="#2020c0" fill-opacity="0.35"><circle cx="1057.6" cy="1306.8" r="5.25"/><circle cx="1068.1" cy="1297.2" r="5.25"/></g>
<g filter="url(#bl)" fill="#2020c0" fill-opacity="1.0"><circle cx="1059.0" cy="1307.6" r="2.98"/><circle cx="1056.2" cy="1306.1" r="2.98"/><circle cx="1069.7" cy="1297.3" r="2.98"/><circle cx="1066.5" cy="1297.1" r="2.98"/></g>
<g filter="url(#bl2)" fill="#2fb52f" fill-opacity="0.2975"><circle cx="1195.6" cy="1323.8" r="6.90"/><circle cx="1207.3" cy="1320.6" r="6.90"/><circle cx="1213.4" cy="1343.3" r="6.90"/><circle cx="1244.8" cy="1342.5" r="6.90"/><circle cx="1255.3" cy="1359.0" r="6.90"/><circle cx="1259.6" cy="1366.0" r="6.90"/><circle cx="1214.3" cy="1363.4" r="6.90"/><circle cx="1188.6" cy="1371.8" r="6.90"/><circle cx="1251.4" cy="1374.2" r="6.90"/><circle cx="1279.7" cy="1383.0" r="6.90"/><circle cx="1267.8" cy="1404.1" r="6.90"/><circle cx="1260.5" cy="1410.9" r="6.90"/><circle cx="1283.2" cy="1409.7" r="6.90"/><circle cx="1255.3" cy="1423.6" r="6.90"/><circle cx="1277.6" cy="1424.8" r="6.90"/><circle cx="1206.4" cy="1428.9" r="6.90"/><circle cx="1228.2" cy="1432.9" r="6.90"/><circle cx="1239.6" cy="1433.2" r="6.90"/><circle cx="1254.1" cy="1432.7" r="6.90"/><circle cx="1279.7" cy="1439.3" r="6.90"/></g>
<g filter="url(#bl)" fill="#2fb52f" fill-opacity="0.85"><circle cx="1195.4" cy="1325.8" r="3.91"/><circle cx="1195.8" cy="1321.7" r="3.91"/><circle cx="1209.3" cy="1321.0" r="3.91"/><circle cx="1205.2" cy="1320.3" r="3.91"/><circle cx="1215.1" cy="1344.5" r="3.91"/><circle cx="1211.7" cy="1342.2" r="3.91"/><circle cx="1246.3" cy="1343.9" r="3.91"/><circle cx="1243.3" cy="1341.0" r="3.91"/><circle cx="1257.3" cy="1359.2" r="3.91"/><circle cx="1253.2" cy="1358.8" r="3.91"/><circle cx="1259.9" cy="1368.1" r="3.91"/><circle cx="1259.4" cy="1364.0" r="3.91"/><circle cx="1214.6" cy="1365.4" r="3.91"/><circle cx="1213.9" cy="1361.4" r="3.91"/><circle cx="1186.8" cy="1372.8" r="3.91"/><circle cx="1190.4" cy="1370.8" r="3.91"/><circle cx="1251.3" cy="1376.3" r="3.91"/><circle cx="1251.6" cy="1372.2" r="3.91"/><circle cx="1278.8" cy="1384.8" r="3.91"/><circle cx="1280.6" cy="1381.1" r="3.91"/><circle cx="1267.8" cy="1406.1" r="3.91"/><circle cx="1267.8" cy="1402.0" r="3.91"/><circle cx="1259.5" cy="1412.7" r="3.91"/><circle cx="1261.5" cy="1409.1" r="3.91"/><circle cx="1283.5" cy="1411.7" r="3.91"/><circle cx="1282.9" cy="1407.6" r="3.91"/><circle cx="1256.6" cy="1425.2" r="3.91"/><circle cx="1253.9" cy="1422.0" r="3.91"/><circle cx="1275.6" cy="1424.9" r="3.91"/><circle cx="1279.7" cy="1424.8" r="3.91"/><circle cx="1204.3" cy="1428.9" r="3.91"/><circle cx="1208.5" cy="1428.8" r="3.91"/><circle cx="1226.4" cy="1433.9" r="3.91"/><circle cx="1230.0" cy="1431.9" r="3.91"/><circle cx="1238.3" cy="1434.9" r="3.91"/><circle cx="1240.8" cy="1431.6" r="3.91"/><circle cx="1255.2" cy="1434.4" r="3.91"/><circle cx="1252.9" cy="1431.0" r="3.91"/><circle cx="1281.3" cy="1440.7" r="3.91"/><circle cx="1278.2" cy="1438.0" r="3.91"/></g>
<g filter="url(#bl2)" fill="#2333d8" fill-opacity="0.35"><circle cx="1780.3" cy="1317.9" r="6.00"/><circle cx="1791.5" cy="1314.9" r="6.00"/><circle cx="1797.4" cy="1336.6" r="6.00"/><circle cx="1827.4" cy="1335.7" r="6.00"/><circle cx="1837.5" cy="1351.6" r="6.00"/><circle cx="1841.6" cy="1358.3" r="6.00"/><circle cx="1798.2" cy="1355.8" r="6.00"/><circle cx="1773.6" cy="1363.8" r="6.00"/><circle cx="1833.8" cy="1366.1" r="6.00"/><circle cx="1860.8" cy="1374.5" r="6.00"/><circle cx="1849.5" cy="1394.7" r="6.00"/><circle cx="1842.5" cy="1401.2" r="6.00"/><circle cx="1864.2" cy="1400.1" r="6.00"/><circle cx="1837.5" cy="1413.4" r="6.00"/><circle cx="1858.8" cy="1414.6" r="6.00"/><circle cx="1790.7" cy="1418.4" r="6.00"/><circle cx="1811.6" cy="1422.3" r="6.00"/><circle cx="1822.4" cy="1422.6" r="6.00"/><circle cx="1836.3" cy="1422.1" r="6.00"/><circle cx="1860.8" cy="1428.5" r="6.00"/></g>
<g filter="url(#bl)" fill="#2333d8" fill-opacity="1.0"><circle cx="1781.4" cy="1319.3" r="3.40"/><circle cx="1779.2" cy="1316.5" r="3.40"/><circle cx="1793.3" cy="1315.3" r="3.40"/><circle cx="1789.8" cy="1314.5" r="3.40"/><circle cx="1796.0" cy="1337.8" r="3.40"/><circle cx="1798.7" cy="1335.4" r="3.40"/><circle cx="1828.0" cy="1337.5" r="3.40"/><circle cx="1826.9" cy="1334.0" r="3.40"/><circle cx="1835.9" cy="1352.4" r="3.40"/><circle cx="1839.0" cy="1350.8" r="3.40"/><circle cx="1842.3" cy="1360.0" r="3.40"/><circle cx="1841.0" cy="1356.6" r="3.40"/><circle cx="1796.4" cy="1356.0" r="3.40"/><circle cx="1800.0" cy="1355.6" r="3.40"/><circle cx="1772.0" cy="1364.6" r="3.40"/><circle cx="1775.2" cy="1363.0" r="3.40"/><circle cx="1835.6" cy="1366.2" r="3.40"/><circle cx="1832.0" cy="1366.1" r="3.40"/><circle cx="1862.3" cy="1375.6" r="3.40"/><circle cx="1859.4" cy="1373.4" r="3.40"/><circle cx="1847.7" cy="1395.2" r="3.40"/><circle cx="1851.2" cy="1394.2" r="3.40"/><circle cx="1842.6" cy="1403.0" r="3.40"/><circle cx="1842.3" cy="1399.4" r="3.40"/><circle cx="1862.4" cy="1400.2" r="3.40"/><circle cx="1866.0" cy="1399.9" r="3.40"/><circle cx="1838.0" cy="1415.1" r="3.40"/><circle cx="1836.9" cy="1411.7" r="3.40"/><circle cx="1860.6" cy="1415.0" r="3.40"/><circle cx="1857.1" cy="1414.2" r="3.40"/><circle cx="1790.0" cy="1420.1" r="3.40"/><circle cx="1791.4" cy="1416.8" r="3.40"/><circle cx="1810.2" cy="1423.4" r="3.40"/><circle cx="1812.9" cy="1421.1" r="3.40"/><circle cx="1823.6" cy="1424.0" r="3.40"/><circle cx="1821.2" cy="1421.3" r="3.40"/><circle cx="1838.0" cy="1422.6" r="3.40"/><circle cx="1834.5" cy="1421.6" r="3.40"/><circle cx="1861.7" cy="1430.0" r="3.40"/><circle cx="1859.9" cy="1426.9" r="3.40"/></g>
<g filter="url(#bl)" fill="#1f9a3a" fill-opacity="0.8"><circle cx="1779.2" cy="1320.0" r="2.21"/><circle cx="1781.5" cy="1319.7" r="2.21"/><circle cx="1790.7" cy="1317.7" r="2.21"/><circle cx="1792.4" cy="1316.1" r="2.21"/><circle cx="1798.5" cy="1339.0" r="2.21"/><circle cx="1796.3" cy="1338.2" r="2.21"/><circle cx="1828.3" cy="1338.6" r="2.21"/><circle cx="1826.6" cy="1336.9" r="2.21"/><circle cx="1838.6" cy="1354.0" r="2.21"/><circle cx="1836.3" cy="1353.2" r="2.21"/><circle cx="1842.8" cy="1360.5" r="2.21"/><circle cx="1840.5" cy="1360.1" r="2.21"/><circle cx="1797.3" cy="1358.5" r="2.21"/><circle cx="1799.1" cy="1357.1" r="2.21"/><circle cx="1774.6" cy="1366.4" r="2.21"/><circle cx="1772.6" cy="1365.2" r="2.21"/><circle cx="1833.6" cy="1369.3" r="2.21"/><circle cx="1834.0" cy="1367.0" r="2.21"/><circle cx="1861.0" cy="1377.7" r="2.21"/><circle cx="1860.6" cy="1375.3" r="2.21"/><circle cx="1850.4" cy="1397.4" r="2.21"/><circle cx="1848.5" cy="1396.1" r="2.21"/><circle cx="1841.7" cy="1404.1" r="2.21"/><circle cx="1843.2" cy="1402.4" r="2.21"/><circle cx="1865.3" cy="1402.5" r="2.21"/><circle cx="1863.1" cy="1401.6" r="2.21"/><circle cx="1836.9" cy="1416.5" r="2.21"/><circle cx="1838.0" cy="1414.4" r="2.21"/><circle cx="1859.9" cy="1417.0" r="2.21"/><circle cx="1857.7" cy="1416.2" r="2.21"/><circle cx="1791.0" cy="1421.6" r="2.21"/><circle cx="1790.4" cy="1419.3" r="2.21"/><circle cx="1812.5" cy="1425.0" r="2.21"/><circle cx="1810.6" cy="1423.5" r="2.21"/><circle cx="1823.2" cy="1425.5" r="2.21"/><circle cx="1821.6" cy="1423.7" r="2.21"/><circle cx="1835.1" cy="1424.2" r="2.21"/><circle cx="1837.4" cy="1424.0" r="2.21"/><circle cx="1859.9" cy="1431.1" r="2.21"/><circle cx="1861.8" cy="1429.8" r="2.21"/></g>
<g filter="url(#bl2)" fill="#2d38f0" fill-opacity="0.33249999999999996"><circle cx="865.0" cy="1568.1" r="9.00"/><circle cx="928.4" cy="1562.7" r="9.00"/><circle cx="932.3" cy="1573.5" r="9.00"/><circle cx="936.2" cy="1585.9" r="9.00"/><circle cx="951.9" cy="1583.5" r="9.00"/><circle cx="968.6" cy="1546.4" r="9.00"/><circle cx="975.6" cy="1559.6" r="9.00"/><circle cx="970.2" cy="1571.9" r="9.00"/><circle cx="987.2" cy="1588.2" r="9.00"/><circle cx="970.2" cy="1592.0" r="9.00"/><circle cx="979.4" cy="1600.5" r="9.00"/><circle cx="1009.6" cy="1574.3" r="9.00"/><circle cx="1012.7" cy="1586.6" r="9.00"/><circle cx="1030.5" cy="1599.8" r="9.00"/><circle cx="819.4" cy="1599.0" r="9.00"/><circle cx="826.4" cy="1609.0" r="9.00"/><circle cx="842.6" cy="1610.6" r="9.00"/><circle cx="835.7" cy="1624.5" r="9.00"/><circle cx="940.8" cy="1615.2" r="9.00"/><circle cx="938.5" cy="1623.0" r="9.00"/><circle cx="959.3" cy="1613.7" r="9.00"/><circle cx="962.4" cy="1626.1" r="9.00"/><circle cx="930.7" cy="1632.2" r="9.00"/><circle cx="939.2" cy="1640.0" r="9.00"/><circle cx="968.6" cy="1641.5" r="9.00"/><circle cx="974.8" cy="1636.9" r="9.00"/><circle cx="1000.3" cy="1632.2" r="9.00"/><circle cx="918.4" cy="1667.8" r="9.00"/><circle cx="937.7" cy="1672.4" r="9.00"/><circle cx="977.9" cy="1669.3" r="9.00"/><circle cx="975.6" cy="1679.4" r="9.00"/><circle cx="994.9" cy="1661.6" r="9.00"/><circle cx="1000.3" cy="1666.3" r="9.00"/><circle cx="929.2" cy="1689.4" r="9.00"/><circle cx="877.4" cy="1700.3" r="9.00"/><circle cx="887.5" cy="1698.7" r="9.00"/><circle cx="898.3" cy="1703.4" r="9.00"/><circle cx="906.8" cy="1701.0" r="9.00"/></g>
<g filter="url(#bl)" fill="#2d38f0" fill-opacity="0.95"><circle cx="866.6" cy="1570.3" r="5.10"/><circle cx="863.5" cy="1565.9" r="5.10"/><circle cx="925.9" cy="1563.6" r="5.10"/><circle cx="930.9" cy="1561.7" r="5.10"/><circle cx="934.4" cy="1575.1" r="5.10"/><circle cx="930.2" cy="1571.8" r="5.10"/><circle cx="937.0" cy="1588.4" r="5.10"/><circle cx="935.3" cy="1583.3" r="5.10"/><circle cx="949.5" cy="1584.7" r="5.10"/><circle cx="954.3" cy="1582.3" r="5.10"/><circle cx="967.5" cy="1548.9" r="5.10"/><circle cx="969.8" cy="1544.0" r="5.10"/><circle cx="978.1" cy="1560.4" r="5.10"/><circle cx="973.0" cy="1558.7" r="5.10"/><circle cx="967.5" cy="1572.0" r="5.10"/><circle cx="972.9" cy="1571.9" r="5.10"/><circle cx="989.3" cy="1589.9" r="5.10"/><circle cx="985.1" cy="1586.5" r="5.10"/><circle cx="972.0" cy="1594.0" r="5.10"/><circle cx="968.3" cy="1590.1" r="5.10"/><circle cx="977.4" cy="1602.3" r="5.10"/><circle cx="981.5" cy="1598.8" r="5.10"/><circle cx="1011.0" cy="1576.6" r="5.10"/><circle cx="1008.2" cy="1571.9" r="5.10"/><circle cx="1014.3" cy="1588.8" r="5.10"/><circle cx="1011.1" cy="1584.5" r="5.10"/><circle cx="1033.1" cy="1600.4" r="5.10"/><circle cx="1027.8" cy="1599.2" r="5.10"/><circle cx="822.0" cy="1599.8" r="5.10"/><circle cx="816.8" cy="1598.2" r="5.10"/><circle cx="825.7" cy="1611.7" r="5.10"/><circle cx="827.1" cy="1606.4" r="5.10"/><circle cx="844.6" cy="1612.5" r="5.10"/><circle cx="840.7" cy="1608.7" r="5.10"/><circle cx="834.8" cy="1627.1" r="5.10"/><circle cx="836.5" cy="1621.9" r="5.10"/><circle cx="941.9" cy="1617.7" r="5.10"/><circle cx="939.7" cy="1612.7" r="5.10"/><circle cx="938.9" cy="1625.6" r="5.10"/><circle cx="938.1" cy="1620.3" r="5.10"/><circle cx="956.7" cy="1614.0" r="5.10"/><circle cx="962.0" cy="1613.3" r="5.10"/><circle cx="962.6" cy="1628.8" r="5.10"/><circle cx="962.3" cy="1623.4" r="5.10"/><circle cx="930.1" cy="1634.9" r="5.10"/><circle cx="931.4" cy="1629.6" r="5.10"/><circle cx="936.8" cy="1641.1" r="5.10"/><circle cx="941.7" cy="1638.9" r="5.10"/><circle cx="970.9" cy="1643.0" r="5.10"/><circle cx="966.4" cy="1640.0" r="5.10"/><circle cx="977.2" cy="1638.1" r="5.10"/><circle cx="972.4" cy="1635.6" r="5.10"/><circle cx="997.7" cy="1633.0" r="5.10"/><circle cx="1002.9" cy="1631.5" r="5.10"/><circle cx="916.1" cy="1669.3" r="5.10"/><circle cx="920.6" cy="1666.3" r="5.10"/><circle cx="939.6" cy="1674.3" r="5.10"/><circle cx="935.8" cy="1670.5" r="5.10"/><circle cx="980.1" cy="1670.9" r="5.10"/><circle cx="975.7" cy="1667.8" r="5.10"/><circle cx="973.7" cy="1681.4" r="5.10"/><circle cx="977.4" cy="1677.4" r="5.10"/><circle cx="992.3" cy="1662.1" r="5.10"/><circle cx="997.6" cy="1661.1" r="5.10"/><circle cx="1002.5" cy="1667.8" r="5.10"/><circle cx="998.1" cy="1664.7" r="5.10"/><circle cx="926.5" cy="1689.9" r="5.10"/><circle cx="931.9" cy="1689.0" r="5.10"/><circle cx="874.9" cy="1701.2" r="5.10"/><circle cx="879.9" cy="1699.3" r="5.10"/><circle cx="886.6" cy="1701.3" r="5.10"/><circle cx="888.3" cy="1696.2" r="5.10"/><circle cx="898.9" cy="1706.0" r="5.10"/><circle cx="897.6" cy="1700.7" r="5.10"/><circle cx="909.3" cy="1701.9" r="5.10"/><circle cx="904.2" cy="1700.2" r="5.10"/></g>
<g filter="url(#bl2)" fill="#34d834" fill-opacity="0.33249999999999996"><circle cx="1177.8" cy="1563.0" r="7.80"/><circle cx="1241.2" cy="1568.4" r="7.80"/><circle cx="1287.5" cy="1554.5" r="7.80"/><circle cx="1282.9" cy="1566.1" r="7.80"/><circle cx="1323.1" cy="1569.9" r="7.80"/><circle cx="1325.4" cy="1581.5" r="7.80"/><circle cx="1139.9" cy="1604.0" r="7.80"/><circle cx="1155.8" cy="1606.3" r="7.80"/><circle cx="1251.7" cy="1617.9" r="7.80"/><circle cx="1274.9" cy="1620.2" r="7.80"/><circle cx="1313.5" cy="1627.1" r="7.80"/><circle cx="1287.2" cy="1632.6" r="7.80"/><circle cx="1280.6" cy="1637.2" r="7.80"/><circle cx="1231.1" cy="1663.5" r="7.80"/><circle cx="1291.4" cy="1664.3" r="7.80"/><circle cx="1288.8" cy="1674.3" r="7.80"/><circle cx="1200.6" cy="1693.6" r="7.80"/><circle cx="1219.2" cy="1695.9" r="7.80"/></g>
<g filter="url(#bl)" fill="#34d834" fill-opacity="0.95"><circle cx="1180.1" cy="1563.3" r="4.42"/><circle cx="1175.4" cy="1562.7" r="4.42"/><circle cx="1238.8" cy="1568.7" r="4.42"/><circle cx="1243.5" cy="1568.1" r="4.42"/><circle cx="1289.2" cy="1556.1" r="4.42"/><circle cx="1285.8" cy="1552.9" r="4.42"/><circle cx="1281.5" cy="1567.9" r="4.42"/><circle cx="1284.3" cy="1564.2" r="4.42"/><circle cx="1324.7" cy="1571.6" r="4.42"/><circle cx="1321.5" cy="1568.3" r="4.42"/><circle cx="1323.4" cy="1582.8" r="4.42"/><circle cx="1327.4" cy="1580.3" r="4.42"/><circle cx="1139.2" cy="1606.2" r="4.42"/><circle cx="1140.6" cy="1601.7" r="4.42"/><circle cx="1157.2" cy="1608.1" r="4.42"/><circle cx="1154.4" cy="1604.4" r="4.42"/><circle cx="1253.7" cy="1619.1" r="4.42"/><circle cx="1249.7" cy="1616.6" r="4.42"/><circle cx="1273.4" cy="1622.0" r="4.42"/><circle cx="1276.4" cy="1618.4" r="4.42"/><circle cx="1315.8" cy="1627.6" r="4.42"/><circle cx="1311.2" cy="1626.6" r="4.42"/><circle cx="1289.0" cy="1634.1" r="4.42"/><circle cx="1285.5" cy="1631.0" r="4.42"/><circle cx="1280.1" cy="1639.5" r="4.42"/><circle cx="1281.0" cy="1634.9" r="4.42"/><circle cx="1229.0" cy="1664.5" r="4.42"/><circle cx="1233.2" cy="1662.4" r="4.42"/><circle cx="1290.6" cy="1666.4" r="4.42"/><circle cx="1292.2" cy="1662.1" r="4.42"/><circle cx="1290.3" cy="1676.1" r="4.42"/><circle cx="1287.3" cy="1672.5" r="4.42"/><circle cx="1198.4" cy="1694.2" r="4.42"/><circle cx="1202.9" cy="1693.0" r="4.42"/><circle cx="1221.1" cy="1697.3" r="4.42"/><circle cx="1217.3" cy="1694.5" r="4.42"/></g>
<g filter="url(#bl2)" fill="#f02a10" fill-opacity="0.33249999999999996"><circle cx="1598.7" cy="1550.1" r="7.50"/><circle cx="1556.1" cy="1565.1" r="7.50"/><circle cx="1560.6" cy="1568.8" r="7.50"/><circle cx="1559.8" cy="1575.5" r="7.50"/><circle cx="1565.8" cy="1587.5" r="7.50"/><circle cx="1582.3" cy="1585.3" r="7.50"/><circle cx="1616.7" cy="1590.5" r="7.50"/><circle cx="1600.2" cy="1595.0" r="7.50"/><circle cx="1609.2" cy="1603.2" r="7.50"/><circle cx="1660.8" cy="1602.5" r="7.50"/><circle cx="1450.6" cy="1601.7" r="7.50"/><circle cx="1466.3" cy="1626.4" r="7.50"/><circle cx="1571.1" cy="1617.4" r="7.50"/><circle cx="1590.5" cy="1615.9" r="7.50"/><circle cx="1561.3" cy="1633.9" r="7.50"/><circle cx="1569.6" cy="1642.9" r="7.50"/><circle cx="1629.4" cy="1668.3" r="7.50"/><circle cx="1568.1" cy="1675.0" r="7.50"/><circle cx="1508.2" cy="1702.0" r="7.50"/><circle cx="1526.9" cy="1705.7" r="7.50"/></g>
<g filter="url(#bl)" fill="#f02a10" fill-opacity="0.95"><circle cx="1601.0" cy="1550.2" r="4.25"/><circle cx="1596.5" cy="1550.0" r="4.25"/><circle cx="1557.6" cy="1566.7" r="4.25"/><circle cx="1554.6" cy="1563.4" r="4.25"/><circle cx="1561.0" cy="1571.0" r="4.25"/><circle cx="1560.2" cy="1566.6" r="4.25"/><circle cx="1562.0" cy="1576.0" r="4.25"/><circle cx="1557.6" cy="1575.1" r="4.25"/><circle cx="1567.7" cy="1588.7" r="4.25"/><circle cx="1563.9" cy="1586.3" r="4.25"/><circle cx="1583.2" cy="1587.3" r="4.25"/><circle cx="1581.4" cy="1583.2" r="4.25"/><circle cx="1616.2" cy="1592.7" r="4.25"/><circle cx="1617.2" cy="1588.3" r="4.25"/><circle cx="1602.3" cy="1595.9" r="4.25"/><circle cx="1598.2" cy="1594.1" r="4.25"/><circle cx="1610.2" cy="1605.3" r="4.25"/><circle cx="1608.3" cy="1601.2" r="4.25"/><circle cx="1658.7" cy="1603.2" r="4.25"/><circle cx="1663.0" cy="1601.7" r="4.25"/><circle cx="1448.4" cy="1601.9" r="4.25"/><circle cx="1452.8" cy="1601.6" r="4.25"/><circle cx="1465.2" cy="1628.4" r="4.25"/><circle cx="1467.4" cy="1624.4" r="4.25"/><circle cx="1569.8" cy="1619.3" r="4.25"/><circle cx="1572.3" cy="1615.6" r="4.25"/><circle cx="1589.9" cy="1618.1" r="4.25"/><circle cx="1591.1" cy="1613.8" r="4.25"/><circle cx="1563.4" cy="1634.9" r="4.25"/><circle cx="1559.3" cy="1632.9" r="4.25"/><circle cx="1571.8" cy="1643.1" r="4.25"/><circle cx="1567.3" cy="1642.6" r="4.25"/><circle cx="1631.7" cy="1668.4" r="4.25"/><circle cx="1627.2" cy="1668.2" r="4.25"/><circle cx="1565.9" cy="1675.7" r="4.25"/><circle cx="1570.2" cy="1674.4" r="4.25"/><circle cx="1506.9" cy="1703.8" r="4.25"/><circle cx="1509.5" cy="1700.2" r="4.25"/><circle cx="1524.7" cy="1706.0" r="4.25"/><circle cx="1529.1" cy="1705.5" r="4.25"/></g>
<g filter="url(#bl2)" fill="#3a2ae8" fill-opacity="0.315"><circle cx="1783.8" cy="1564.3" r="9.00"/><circle cx="1893.7" cy="1555.3" r="9.00"/><circle cx="1889.2" cy="1568.1" r="9.00"/><circle cx="1928.9" cy="1571.0" r="9.00"/><circle cx="1931.9" cy="1582.3" r="9.00"/><circle cx="1746.3" cy="1606.2" r="9.00"/><circle cx="1762.1" cy="1607.7" r="9.00"/><circle cx="1857.8" cy="1617.4" r="9.00"/><circle cx="1881.8" cy="1622.7" r="9.00"/><circle cx="1919.2" cy="1627.9" r="9.00"/><circle cx="1890.7" cy="1636.1" r="9.00"/><circle cx="1837.6" cy="1664.6" r="9.00"/><circle cx="1897.5" cy="1666.1" r="9.00"/><circle cx="1896.0" cy="1675.8" r="9.00"/><circle cx="1807.0" cy="1695.2" r="9.00"/><circle cx="1825.7" cy="1697.5" r="9.00"/><circle cx="1848.1" cy="1571.8" r="9.00"/><circle cx="1887.0" cy="1543.4" r="9.00"/><circle cx="1845.9" cy="1559.8" r="9.00"/><circle cx="1854.1" cy="1581.5" r="9.00"/><circle cx="1870.5" cy="1579.3" r="9.00"/><circle cx="1905.0" cy="1583.8" r="9.00"/><circle cx="1888.5" cy="1587.5" r="9.00"/><circle cx="1897.5" cy="1597.2" r="9.00"/><circle cx="1949.9" cy="1595.7" r="9.00"/><circle cx="1738.9" cy="1595.7" r="9.00"/><circle cx="1753.8" cy="1619.7" r="9.00"/><circle cx="1859.3" cy="1611.4" r="9.00"/><circle cx="1878.0" cy="1610.0" r="9.00"/><circle cx="1850.3" cy="1627.9" r="9.00"/><circle cx="1858.6" cy="1635.4" r="9.00"/><circle cx="1917.7" cy="1661.6" r="9.00"/><circle cx="1856.3" cy="1669.1" r="9.00"/><circle cx="1795.7" cy="1696.0" r="9.00"/><circle cx="1815.2" cy="1699.0" r="9.00"/><circle cx="1848.1" cy="1684.0" r="9.00"/><circle cx="1913.2" cy="1656.3" r="9.00"/></g>
<g filter="url(#bl)" fill="#3a2ae8" fill-opacity="0.9"><circle cx="1786.5" cy="1564.5" r="5.10"/><circle cx="1781.1" cy="1564.1" r="5.10"/><circle cx="1892.6" cy="1557.8" r="5.10"/><circle cx="1894.9" cy="1552.9" r="5.10"/><circle cx="1889.4" cy="1570.7" r="5.10"/><circle cx="1889.1" cy="1565.4" r="5.10"/><circle cx="1927.1" cy="1573.1" r="5.10"/><circle cx="1930.7" cy="1569.0" r="5.10"/><circle cx="1933.3" cy="1584.5" r="5.10"/><circle cx="1930.4" cy="1580.0" r="5.10"/><circle cx="1743.6" cy="1606.2" r="5.10"/><circle cx="1749.0" cy="1606.2" r="5.10"/><circle cx="1764.7" cy="1608.3" r="5.10"/><circle cx="1759.4" cy="1607.1" r="5.10"/><circle cx="1857.4" cy="1620.1" r="5.10"/><circle cx="1858.2" cy="1614.8" r="5.10"/><circle cx="1879.9" cy="1624.7" r="5.10"/><circle cx="1883.6" cy="1620.7" r="5.10"/><circle cx="1916.6" cy="1628.7" r="5.10"/><circle cx="1921.7" cy="1627.1" r="5.10"/><circle cx="1888.9" cy="1638.1" r="5.10"/><circle cx="1892.6" cy="1634.2" r="5.10"/><circle cx="1836.0" cy="1666.7" r="5.10"/><circle cx="1839.2" cy="1662.4" r="5.10"/><circle cx="1895.3" cy="1667.7" r="5.10"/><circle cx="1899.6" cy="1664.4" r="5.10"/><circle cx="1893.4" cy="1676.5" r="5.10"/><circle cx="1898.6" cy="1675.1" r="5.10"/><circle cx="1808.2" cy="1697.7" r="5.10"/><circle cx="1805.7" cy="1692.8" r="5.10"/><circle cx="1824.2" cy="1699.7" r="5.10"/><circle cx="1827.1" cy="1695.2" r="5.10"/><circle cx="1845.5" cy="1572.6" r="5.10"/><circle cx="1850.7" cy="1571.0" r="5.10"/><circle cx="1884.5" cy="1544.4" r="5.10"/><circle cx="1889.5" cy="1542.3" r="5.10"/><circle cx="1846.6" cy="1562.4" r="5.10"/><circle cx="1845.2" cy="1557.2" r="5.10"/><circle cx="1851.9" cy="1583.2" r="5.10"/><circle cx="1856.2" cy="1579.9" r="5.10"/><circle cx="1868.1" cy="1580.4" r="5.10"/><circle cx="1873.0" cy="1578.2" r="5.10"/><circle cx="1904.3" cy="1586.4" r="5.10"/><circle cx="1905.6" cy="1581.1" r="5.10"/><circle cx="1887.5" cy="1590.0" r="5.10"/><circle cx="1889.5" cy="1585.0" r="5.10"/><circle cx="1898.5" cy="1599.7" r="5.10"/><circle cx="1896.5" cy="1594.7" r="5.10"/><circle cx="1949.2" cy="1598.3" r="5.10"/><circle cx="1950.5" cy="1593.1" r="5.10"/><circle cx="1738.0" cy="1598.3" r="5.10"/><circle cx="1739.8" cy="1593.2" r="5.10"/><circle cx="1756.4" cy="1620.4" r="5.10"/><circle cx="1751.2" cy="1619.0" r="5.10"/><circle cx="1858.2" cy="1613.9" r="5.10"/><circle cx="1860.5" cy="1609.0" r="5.10"/><circle cx="1875.3" cy="1610.0" r="5.10"/><circle cx="1880.7" cy="1609.9" r="5.10"/><circle cx="1847.8" cy="1628.9" r="5.10"/><circle cx="1852.9" cy="1626.9" r="5.10"/><circle cx="1856.8" cy="1637.4" r="5.10"/><circle cx="1860.3" cy="1633.4" r="5.10"/><circle cx="1918.6" cy="1664.1" r="5.10"/><circle cx="1916.8" cy="1659.0" r="5.10"/><circle cx="1854.5" cy="1671.1" r="5.10"/><circle cx="1858.1" cy="1667.1" r="5.10"/><circle cx="1795.0" cy="1698.6" r="5.10"/><circle cx="1796.4" cy="1693.4" r="5.10"/><circle cx="1815.7" cy="1701.6" r="5.10"/><circle cx="1814.7" cy="1696.3" r="5.10"/><circle cx="1845.7" cy="1685.3" r="5.10"/><circle cx="1850.5" cy="1682.7" r="5.10"/><circle cx="1915.8" cy="1657.0" r="5.10"/><circle cx="1910.6" cy="1655.6" r="5.10"/></g>
<g filter="url(#bl)" fill="#40e880" fill-opacity="0.9"><circle cx="1782.5" cy="1565.6" r="3.40"/><circle cx="1785.0" cy="1563.0" r="3.40"/><circle cx="1895.5" cy="1555.5" r="3.40"/><circle cx="1891.9" cy="1555.2" r="3.40"/><circle cx="1888.7" cy="1569.8" r="3.40"/><circle cx="1889.8" cy="1566.3" r="3.40"/><circle cx="1929.0" cy="1572.8" r="3.40"/><circle cx="1928.8" cy="1569.2" r="3.40"/><circle cx="1933.2" cy="1583.5" r="3.40"/><circle cx="1930.5" cy="1581.1" r="3.40"/><circle cx="1745.3" cy="1607.7" r="3.40"/><circle cx="1747.4" cy="1604.7" r="3.40"/><circle cx="1762.1" cy="1609.5" r="3.40"/><circle cx="1762.0" cy="1605.9" r="3.40"/><circle cx="1857.2" cy="1619.1" r="3.40"/><circle cx="1858.5" cy="1615.7" r="3.40"/><circle cx="1880.0" cy="1623.1" r="3.40"/><circle cx="1883.5" cy="1622.2" r="3.40"/><circle cx="1920.4" cy="1629.2" r="3.40"/><circle cx="1917.9" cy="1626.6" r="3.40"/><circle cx="1892.5" cy="1636.2" r="3.40"/><circle cx="1888.9" cy="1636.1" r="3.40"/><circle cx="1838.7" cy="1666.0" r="3.40"/><circle cx="1836.6" cy="1663.1" r="3.40"/><circle cx="1896.5" cy="1667.6" r="3.40"/><circle cx="1898.4" cy="1664.5" r="3.40"/><circle cx="1897.4" cy="1676.9" r="3.40"/><circle cx="1894.5" cy="1674.7" r="3.40"/><circle cx="1808.5" cy="1696.2" r="3.40"/><circle cx="1805.4" cy="1694.3" r="3.40"/><circle cx="1823.9" cy="1698.0" r="3.40"/><circle cx="1827.4" cy="1697.0" r="3.40"/><circle cx="1847.2" cy="1573.4" r="3.40"/><circle cx="1849.0" cy="1570.2" r="3.40"/></g>
<g filter="url(#bl)" fill="#f030a0" fill-opacity="0.9"><circle cx="1887.3" cy="1545.2" r="3.57"/><circle cx="1886.7" cy="1541.5" r="3.57"/><circle cx="1844.1" cy="1560.5" r="3.57"/><circle cx="1847.6" cy="1559.2" r="3.57"/><circle cx="1855.1" cy="1583.1" r="3.57"/><circle cx="1853.1" cy="1579.9" r="3.57"/><circle cx="1869.6" cy="1580.9" r="3.57"/><circle cx="1871.5" cy="1577.6" r="3.57"/><circle cx="1906.5" cy="1584.9" r="3.57"/><circle cx="1903.4" cy="1582.7" r="3.57"/><circle cx="1888.9" cy="1589.4" r="3.57"/><circle cx="1888.1" cy="1585.7" r="3.57"/><circle cx="1895.9" cy="1598.3" r="3.57"/><circle cx="1899.0" cy="1596.2" r="3.57"/><circle cx="1948.0" cy="1596.2" r="3.57"/><circle cx="1951.7" cy="1595.2" r="3.57"/><circle cx="1737.1" cy="1596.4" r="3.57"/><circle cx="1740.6" cy="1595.0" r="3.57"/><circle cx="1754.5" cy="1621.4" r="3.57"/><circle cx="1753.2" cy="1617.9" r="3.57"/><circle cx="1858.8" cy="1613.3" r="3.57"/><circle cx="1859.8" cy="1609.6" r="3.57"/><circle cx="1879.1" cy="1611.5" r="3.57"/><circle cx="1877.0" cy="1608.4" r="3.57"/><circle cx="1852.1" cy="1628.7" r="3.57"/><circle cx="1848.6" cy="1627.1" r="3.57"/><circle cx="1858.6" cy="1637.3" r="3.57"/><circle cx="1858.6" cy="1633.5" r="3.57"/><circle cx="1916.0" cy="1662.5" r="3.57"/><circle cx="1919.3" cy="1660.6" r="3.57"/><circle cx="1854.6" cy="1669.9" r="3.57"/><circle cx="1858.0" cy="1668.2" r="3.57"/><circle cx="1794.6" cy="1697.5" r="3.57"/><circle cx="1796.9" cy="1694.5" r="3.57"/><circle cx="1813.3" cy="1699.3" r="3.57"/><circle cx="1817.0" cy="1698.7" r="3.57"/></g>
<radialGradient id="haze" cx="0" cy="1" r="1"><stop offset="0" stop-color="#2030b0" stop-opacity="0.35"/><stop offset="1" stop-color="#2030b0" stop-opacity="0"/></radialGradient>
<rect x="784.5" y="1660" width="70" height="74" fill="url(#haze)"/>
<rect x="1687.5" y="1658" width="70" height="74" fill="url(#haze)"/>
<text x="787.06" y="1479.30" font-size="27.84" font-family='"Liberation Serif", "Times New Roman", serif' fill="#3D7FD6"><tspan>DAPI</tspan></text>
<text x="790.77" y="1719.60" font-size="27.58" font-family='"Liberation Serif", "Times New Roman", serif' fill="#3D7FD6"><tspan>DAPI</tspan></text>
<text x="1100.25" y="1475.00" font-size="25.15" font-family='"Liberation Serif", "Times New Roman", serif' fill="#3FD25C"><tspan>A-4, A-7</tspan></text>
<text x="1100.25" y="1723.00" font-size="25.29" font-family='"Liberation Serif", "Times New Roman", serif' fill="#3FD25C"><tspan>A-4, A-7</tspan></text>
<text x="1399.42" y="1474.80" font-size="26.11" font-family='"Liberation Serif", "Times New Roman", serif' fill="#F0A44A"><tspan>B-9, B-10</tspan></text>
<text x="1399.42" y="1724.40" font-size="25.95" font-family='"Liberation Serif", "Times New Roman", serif' fill="#F0A44A"><tspan>B-9, B-10</tspan></text>
<text x="1692.25" y="1447.20" font-size="25.32" font-family='"Liberation Serif", "Times New Roman", serif' fill="#3FD25C"><tspan>A-4, A-7</tspan></text>
<text x="1691.72" y="1481.00" font-size="26.08" font-family='"Liberation Serif", "Times New Roman", serif' fill="#F0A44A"><tspan>B-9, B-10</tspan></text>
<text x="1690.74" y="1693.00" font-size="25.55" font-family='"Liberation Serif", "Times New Roman", serif' fill="#3FD25C"><tspan>A-4, A-7</tspan></text>
<text x="1690.22" y="1725.90" font-size="26.08" font-family='"Liberation Serif", "Times New Roman", serif' fill="#F0A44A"><tspan>B-9, B-10</tspan></text>
<rect x="970.30" y="1462.30" width="45.70" height="2.20" fill="#fff"/>
<text x="993.15" y="1458.90" font-size="8.50" font-family='"Liberation Sans", Arial, sans-serif' fill="#fff" text-anchor="middle"><tspan>10 μm</tspan></text>
<rect x="1282.10" y="1461.10" width="45.60" height="2.20" fill="#fff"/>
<text x="1304.90" y="1457.70" font-size="8.50" font-family='"Liberation Sans", Arial, sans-serif' fill="#fff" text-anchor="middle"><tspan>10 μm</tspan></text>
<rect x="1588.80" y="1466.90" width="45.40" height="2.20" fill="#fff"/>
<text x="1611.50" y="1463.50" font-size="8.50" font-family='"Liberation Sans", Arial, sans-serif' fill="#fff" text-anchor="middle"><tspan>10 μm</tspan></text>
<rect x="1877.70" y="1465.60" width="46.30" height="2.20" fill="#fff"/>
<text x="1900.85" y="1462.20" font-size="8.50" font-family='"Liberation Sans", Arial, sans-serif' fill="#fff" text-anchor="middle"><tspan>10 μm</tspan></text>
<rect x="971.70" y="1713.90" width="38.20" height="2.20" fill="#fff"/>
<text x="990.80" y="1710.50" font-size="8.50" font-family='"Liberation Sans", Arial, sans-serif' fill="#fff" text-anchor="middle"><tspan>10 μm</tspan></text>
<rect x="1286.80" y="1708.50" width="38.20" height="2.20" fill="#fff"/>
<text x="1305.90" y="1705.10" font-size="8.50" font-family='"Liberation Sans", Arial, sans-serif' fill="#fff" text-anchor="middle"><tspan>10 μm</tspan></text>
<rect x="1606.20" y="1710.60" width="37.70" height="2.20" fill="#fff"/>
<text x="1625.05" y="1707.20" font-size="8.50" font-family='"Liberation Sans", Arial, sans-serif' fill="#fff" text-anchor="middle"><tspan>10 μm</tspan></text>
<rect x="1890.00" y="1708.80" width="38.90" height="2.20" fill="#fff"/>
<text x="1909.45" y="1705.40" font-size="8.50" font-family='"Liberation Sans", Arial, sans-serif' fill="#fff" text-anchor="middle"><tspan>10 μm</tspan></text>
<text x="0" y="0" font-size="25" font-family='"Liberation Serif", "Times New Roman", serif' font-style="italic" transform="translate(755.5 1322.5) rotate(90)">A. hoehnei</text>
<text x="0" y="0" font-size="25" font-family='"Liberation Serif", "Times New Roman", serif' transform="translate(755.5 1586) rotate(90)">YZ9102</text>
<text x="0" y="0" font-size="19.8" font-family='"Liberation Sans", Arial, sans-serif' textLength="270.6" lengthAdjust="spacingAndGlyphs" transform="translate(259.8 556.7) rotate(90)">Chromosome position (in Mbp)</text>
<text x="0" y="0" font-size="19.2" font-family='"Liberation Sans", Arial, sans-serif' textLength="258" lengthAdjust="spacingAndGlyphs" transform="translate(256.6 873.2) rotate(90)">Chromosome position (in Mbp)</text>
<text x="330.97" y="545.90" font-size="25.4" font-family='"Liberation Serif", "Times New Roman", serif' textLength="64.26" lengthAdjust="spacingAndGlyphs">Chr10</text>
<text x="430.66" y="544.50" font-size="25.4" font-family='"Liberation Serif", "Times New Roman", serif' textLength="64.98" lengthAdjust="spacingAndGlyphs">Chr09</text>
<text x="530.90" y="544.50" font-size="25.4" font-family='"Liberation Serif", "Times New Roman", serif' textLength="62.40" lengthAdjust="spacingAndGlyphs">Chr08</text>
<text x="628.17" y="543.90" font-size="25.4" font-family='"Liberation Serif", "Times New Roman", serif' textLength="64.10" lengthAdjust="spacingAndGlyphs">Chr07</text>
<text x="730.75" y="543.50" font-size="25.4" font-family='"Liberation Serif", "Times New Roman", serif' textLength="59.57" lengthAdjust="spacingAndGlyphs">Chr06</text>
<text x="831.27" y="543.50" font-size="25.4" font-family='"Liberation Serif", "Times New Roman", serif' textLength="57.96" lengthAdjust="spacingAndGlyphs">Chr05</text>
<text x="927.01" y="543.20" font-size="25.4" font-family='"Liberation Serif", "Times New Roman", serif' textLength="62.17" lengthAdjust="spacingAndGlyphs">Chr04</text>
<text x="1025.67" y="542.40" font-size="25.4" font-family='"Liberation Serif", "Times New Roman", serif' textLength="64.26" lengthAdjust="spacingAndGlyphs">Chr03</text>
<text x="1125.38" y="542.40" font-size="25.4" font-family='"Liberation Serif", "Times New Roman", serif' textLength="64.04" lengthAdjust="spacingAndGlyphs">Chr02</text>
<text x="1225.28" y="543.30" font-size="25.4" font-family='"Liberation Serif", "Times New Roman", serif' textLength="63.44" lengthAdjust="spacingAndGlyphs">Chr01</text>
<text x="57.89" y="597.80" font-size="20.16" font-family='"Liberation Serif", "Times New Roman", serif' fill="#000"><tspan>Genomes</tspan></text>
<line x1="61.10" y1="615.20" x2="82.80" y2="615.20" stroke="#3A7DC0" stroke-width="2.4"/>
<text x="89.06" y="620.50" font-size="19.30" font-family='"Liberation Serif", "Times New Roman", serif' fill="#000"><tspan font-style="italic">A. duranensis</tspan><tspan> A</tspan><tspan font-size="13.51" dy="-7.72" dx="-3.50">du</tspan><tspan dy="7.72" dx="-5.00">A</tspan><tspan font-size="13.51" dy="-7.72" dx="-3.50">du</tspan></text>
<line x1="61.10" y1="638.60" x2="82.80" y2="638.60" stroke="#F07020" stroke-width="2.4"/>
<text x="89.06" y="644.90" font-size="19.30" font-family='"Liberation Serif", "Times New Roman", serif' fill="#000"><tspan font-style="italic">A. hoehnei</tspan><tspan> A'A'</tspan></text>
<line x1="61.10" y1="660.60" x2="82.80" y2="660.60" stroke="#3AAA30" stroke-width="2.4"/>
<text x="89.06" y="665.90" font-size="19.30" font-family='"Liberation Serif", "Times New Roman", serif' fill="#000"><tspan font-style="italic">A. ipaensis</tspan><tspan> B</tspan><tspan font-size="13.51" dy="-7.72" dx="-1.50">ip</tspan><tspan dy="7.72" dx="-3.00"> B</tspan><tspan font-size="13.51" dy="-7.72" dx="-1.50">ip</tspan></text>
<text x="59.81" y="688.50" font-size="19.30" font-family='"Liberation Serif", "Times New Roman", serif' fill="#000"><tspan>Annotations</tspan></text>
<rect x="61.10" y="700.80" width="21.70" height="8.70" fill="#e0e0e0"/>
<text x="86.75" y="709.50" font-size="19.30" font-family='"Liberation Serif", "Times New Roman", serif' fill="#000"><tspan>Syntenic</tspan></text>
<rect x="61.10" y="721.70" width="21.70" height="7.70" fill="#EBB03E"/>
<text x="89.02" y="729.40" font-size="19.30" font-family='"Liberation Serif", "Times New Roman", serif' fill="#000"><tspan>Inversion</tspan></text>
<rect x="61.10" y="742.70" width="21.70" height="7.60" fill="#A8E060"/>
<text x="87.61" y="751.40" font-size="19.30" font-family='"Liberation Serif", "Times New Roman", serif' fill="#000"><tspan>Translocation</tspan></text>
<rect x="61.10" y="762.60" width="21.70" height="8.00" fill="#66D8F8"/>
<text x="89.12" y="772.30" font-size="19.30" font-family='"Liberation Serif", "Times New Roman", serif' fill="#000"><tspan>Dupllcation</tspan></text>
<rect x="64.60" y="795.00" width="15.00" height="9.50" fill="#000"/>
<text x="88.23" y="810.00" font-size="19.30" font-family='"Liberation Serif", "Times New Roman", serif' fill="#000"><tspan>Centromere</tspan></text>
<text x="57.93" y="896.70" font-size="19.30" font-family='"Liberation Serif", "Times New Roman", serif' fill="#000"><tspan>Genomes</tspan></text>
<line x1="62.20" y1="923.90" x2="82.80" y2="923.90" stroke="#3A7DC0" stroke-width="2.4"/>
<text x="89.81" y="928.10" font-size="19.30" font-family='"Liberation Serif", "Times New Roman", serif' fill="#000"><tspan>YZ9102 A</tspan><tspan font-size="13.51" dy="-7.72" dx="-1.00">Ahy</tspan><tspan dy="7.72" dx="-2.00">A</tspan><tspan font-size="13.51" dy="-7.72" dx="-1.00">Ahy</tspan></text>
<line x1="62.20" y1="945.50" x2="82.80" y2="945.50" stroke="#F07020" stroke-width="2.4"/>
<text x="90.06" y="952.50" font-size="19.30" font-family='"Liberation Serif", "Times New Roman", serif' fill="#000"><tspan font-style="italic">A. hoehnei</tspan><tspan> A'A'</tspan></text>
<line x1="62.20" y1="973.50" x2="82.80" y2="973.50" stroke="#3AAA30" stroke-width="2.4"/>
<text x="89.81" y="978.70" font-size="19.30" font-family='"Liberation Serif", "Times New Roman", serif' fill="#000"><tspan>YZ9102 B</tspan><tspan font-size="13.51" dy="-7.72" dx="-1.00">Ahy</tspan><tspan dy="7.72" dx="-0.50">B</tspan><tspan font-size="13.51" dy="-7.72" dx="-1.00">Ahy</tspan></text>
<text x="59.81" y="1000.70" font-size="18.50" font-family='"Liberation Serif", "Times New Roman", serif' fill="#000"><tspan>Annotations</tspan></text>
<rect x="61.10" y="1010.80" width="20.30" height="9.10" fill="#e0e0e0"/>
<text x="85.40" y="1021.30" font-size="18.50" font-family='"Liberation Serif", "Times New Roman", serif' fill="#000"><tspan>Syntenic</tspan></text>
<rect x="61.10" y="1031.80" width="20.30" height="7.00" fill="#EBB03E"/>
<text x="87.65" y="1039.10" font-size="18.50" font-family='"Liberation Serif", "Times New Roman", serif' fill="#000"><tspan>Inversion</tspan></text>
<rect x="61.10" y="1051.30" width="20.30" height="7.70" fill="#A8E060"/>
<text x="86.23" y="1060.00" font-size="18.50" font-family='"Liberation Serif", "Times New Roman", serif' fill="#000"><tspan>Translocation</tspan></text>
<rect x="61.10" y="1070.50" width="20.30" height="7.70" fill="#66D8F8"/>
<text x="87.74" y="1080.70" font-size="18.50" font-family='"Liberation Serif", "Times New Roman", serif' fill="#000"><tspan>Dupllcation</tspan></text>
<rect x="63.90" y="1102.70" width="14.70" height="8.70" fill="#000"/>
<text x="86.56" y="1114.20" font-size="18.50" font-family='"Liberation Serif", "Times New Roman", serif' fill="#000"><tspan>Centromere</tspan></text>
<path d="M330.8,638.5 C347.0,638.5 347.0,720.3 363.1,720.3 L363.1,742.0 C347.0,742.0 347.0,695.3 330.8,695.3 Z" fill="#e1e1e1" fill-opacity="0.55"/>
<path d="M330.8,641.5 C347.0,641.5 347.0,721.5 363.1,721.5 M330.8,644.5 C347.0,644.5 347.0,722.6 363.1,722.6 M330.8,648.8 C347.0,648.8 347.0,724.3 363.1,724.3 M330.8,651.0 C347.0,651.0 347.0,725.1 363.1,725.1 M330.8,655.3 C347.0,655.3 347.0,726.7 363.1,726.7 M330.8,658.3 C347.0,658.3 347.0,727.9 363.1,727.9 M330.8,661.0 C347.0,661.0 347.0,728.9 363.1,728.9 M330.8,665.2 C347.0,665.2 347.0,730.5 363.1,730.5 M330.8,667.6 C347.0,667.6 347.0,731.5 363.1,731.5 M330.8,671.8 C347.0,671.8 347.0,733.0 363.1,733.0 M330.8,674.4 C347.0,674.4 347.0,734.0 363.1,734.0 M330.8,677.8 C347.0,677.8 347.0,735.3 363.1,735.3 M330.8,681.8 C347.0,681.8 347.0,736.9 363.1,736.9 M330.8,685.9 C347.0,685.9 347.0,738.4 363.1,738.4 M330.8,687.8 C347.0,687.8 347.0,739.2 363.1,739.2 M330.8,691.4 C347.0,691.4 347.0,740.5 363.1,740.5 " fill="none" stroke="#fff" stroke-width="0.55" stroke-opacity="0.85"/>
<path d="M330.8,674.1 C347.0,674.1 347.0,733.9 363.1,733.9" fill="none" stroke="#EBAA35" stroke-width="0.8" stroke-opacity="0.8"/>
<path d="M330.8,692.3 C347.0,692.3 347.0,740.9 363.1,740.9" fill="none" stroke="#EBAA35" stroke-width="0.8" stroke-opacity="0.8"/>
<path d="M330.8,555.0 C347.0,555.0 347.0,555.0 363.1,555.0 L363.1,605.9 C347.0,605.9 347.0,607.6 330.8,607.6 Z" fill="#e1e1e1" fill-opacity="1.0"/>
<path d="M330.8,558.5 C347.0,558.5 347.0,558.3 363.1,558.3 M330.8,561.4 C347.0,561.4 347.0,561.2 363.1,561.2 M330.8,565.8 C347.0,565.8 347.0,565.5 363.1,565.5 M330.8,567.3 C347.0,567.3 347.0,566.9 363.1,566.9 M330.8,572.2 C347.0,572.2 347.0,571.6 363.1,571.6 M330.8,574.3 C347.0,574.3 347.0,573.7 363.1,573.7 M330.8,577.3 C347.0,577.3 347.0,576.6 363.1,576.6 M330.8,580.6 C347.0,580.6 347.0,579.8 363.1,579.8 M330.8,584.2 C347.0,584.2 347.0,583.3 363.1,583.3 M330.8,588.5 C347.0,588.5 347.0,587.5 363.1,587.5 M330.8,590.5 C347.0,590.5 347.0,589.4 363.1,589.4 M330.8,594.6 C347.0,594.6 347.0,593.4 363.1,593.4 M330.8,598.0 C347.0,598.0 347.0,596.7 363.1,596.7 M330.8,600.8 C347.0,600.8 347.0,599.3 363.1,599.3 M330.8,604.4 C347.0,604.4 347.0,602.9 363.1,602.9 " fill="none" stroke="#fff" stroke-width="0.55" stroke-opacity="0.85"/>
<path d="M330.8,558.3 C347.0,558.3 347.0,558.2 363.1,558.2" fill="none" stroke="#EBAA35" stroke-width="0.8" stroke-opacity="0.8"/>
<path d="M330.8,558.2 C347.0,558.2 347.0,558.1 363.1,558.1" fill="none" stroke="#EBAA35" stroke-width="0.8" stroke-opacity="0.8"/>
<path d="M330.8,695.3 C347.0,695.3 347.0,742.0 363.1,742.0 L363.1,818.8 C347.0,818.8 347.0,781.3 330.8,781.3 Z" fill="#e1e1e1" fill-opacity="1.0"/>
<path d="M330.8,698.0 C347.0,698.0 347.0,744.5 363.1,744.5 M330.8,702.2 C347.0,702.2 347.0,748.3 363.1,748.3 M330.8,705.1 C347.0,705.1 347.0,750.8 363.1,750.8 M330.8,708.1 C347.0,708.1 347.0,753.5 363.1,753.5 M330.8,712.0 C347.0,712.0 347.0,757.0 363.1,757.0 M330.8,715.0 C347.0,715.0 347.0,759.7 363.1,759.7 M330.8,718.0 C347.0,718.0 347.0,762.4 363.1,762.4 M330.8,722.3 C347.0,722.3 347.0,766.2 363.1,766.2 M330.8,725.4 C347.0,725.4 347.0,769.0 363.1,769.0 M330.8,727.8 C347.0,727.8 347.0,771.1 363.1,771.1 M330.8,731.8 C347.0,731.8 347.0,774.7 363.1,774.7 M330.8,735.0 C347.0,735.0 347.0,777.5 363.1,777.5 M330.8,739.0 C347.0,739.0 347.0,781.1 363.1,781.1 M330.8,742.0 C347.0,742.0 347.0,783.8 363.1,783.8 M330.8,744.5 C347.0,744.5 347.0,786.0 363.1,786.0 M330.8,749.1 C347.0,749.1 347.0,790.1 363.1,790.1 M330.8,750.7 C347.0,750.7 347.0,791.6 363.1,791.6 M330.8,754.6 C347.0,754.6 347.0,795.1 363.1,795.1 M330.8,758.6 C347.0,758.6 347.0,798.6 363.1,798.6 M330.8,760.7 C347.0,760.7 347.0,800.5 363.1,800.5 M330.8,764.7 C347.0,764.7 347.0,804.0 363.1,804.0 M330.8,767.1 C347.0,767.1 347.0,806.2 363.1,806.2 M330.8,771.7 C347.0,771.7 347.0,810.3 363.1,810.3 M330.8,775.2 C347.0,775.2 347.0,813.4 363.1,813.4 M330.8,778.1 C347.0,778.1 347.0,816.0 363.1,816.0 " fill="none" stroke="#fff" stroke-width="0.55" stroke-opacity="0.85"/>
<path d="M330.8,770.6 C347.0,770.6 347.0,809.3 363.1,809.3" fill="none" stroke="#EBAA35" stroke-width="0.8" stroke-opacity="0.8"/>
<path d="M330.8,722.3 C347.0,722.3 347.0,766.1 363.1,766.1" fill="none" stroke="#EBAA35" stroke-width="0.8" stroke-opacity="0.8"/>
<path d="M330.8,755.1 C347.0,755.1 347.0,795.4 363.1,795.4" fill="none" stroke="#EBAA35" stroke-width="0.8" stroke-opacity="0.8"/>
<path d="M330.8,579.2 C347.0,579.2 347.0,574.2 363.1,574.2 L363.1,575.9 C347.0,575.9 347.0,580.9 330.8,580.9 Z" fill="#EBB03E" fill-opacity="1.0"/>
<path d="M330.8,609.3 C347.0,609.3 347.0,618.5 363.1,618.5 L363.1,605.9 C347.0,605.9 347.0,618.5 330.8,618.5 Z" fill="#EBB03E" fill-opacity="1.0"/>
<path d="M330.8,626.8 C347.0,626.8 347.0,639.3 363.1,639.3 L363.1,641.8 C347.0,641.8 347.0,629.3 330.8,629.3 Z" fill="#EBB03E" fill-opacity="1.0"/>
<path d="M330.8,688.5 C347.0,688.5 347.0,707.5 363.1,707.5" fill="none" stroke="#9AD860" stroke-width="0.7" stroke-opacity="0.5"/>
<path d="M330.8,658.4 C347.0,658.4 347.0,774.0 363.1,774.0" fill="none" stroke="#9AD860" stroke-width="0.7" stroke-opacity="0.5"/>
<path d="M330.8,764.8 C347.0,764.8 347.0,680.4 363.1,680.4" fill="none" stroke="#9AD860" stroke-width="0.7" stroke-opacity="0.5"/>
<path d="M330.8,703.7 C347.0,703.7 347.0,574.6 363.1,574.6" fill="none" stroke="#9AD860" stroke-width="0.7" stroke-opacity="0.5"/>
<path d="M330.8,711.8 C347.0,711.8 347.0,724.7 363.1,724.7" fill="none" stroke="#9AD860" stroke-width="0.7" stroke-opacity="0.5"/>
<path d="M330.8,775.3 C347.0,775.3 347.0,769.4 363.1,769.4" fill="none" stroke="#72D4F0" stroke-width="0.7" stroke-opacity="0.6"/>
<path d="M330.8,621.1 C347.0,621.1 347.0,657.8 363.1,657.8" fill="none" stroke="#72D4F0" stroke-width="0.7" stroke-opacity="0.6"/>
<path d="M365.5,555.0 C381.7,555.0 381.7,555.0 397.9,555.0 L397.9,595.1 C381.7,595.1 381.7,618.5 365.5,618.5 Z" fill="#e1e1e1" fill-opacity="1.0"/>
<path d="M365.5,558.7 C381.7,558.7 381.7,557.3 397.9,557.3 M365.5,560.7 C381.7,560.7 381.7,558.6 397.9,558.6 M365.5,565.0 C381.7,565.0 381.7,561.3 397.9,561.3 M365.5,567.7 C381.7,567.7 381.7,563.0 397.9,563.0 M365.5,570.9 C381.7,570.9 381.7,565.1 397.9,565.1 M365.5,574.2 C381.7,574.2 381.7,567.1 397.9,567.1 M365.5,578.9 C381.7,578.9 381.7,570.1 397.9,570.1 M365.5,581.0 C381.7,581.0 381.7,571.4 397.9,571.4 M365.5,584.6 C381.7,584.6 381.7,573.7 397.9,573.7 M365.5,588.2 C381.7,588.2 381.7,576.0 397.9,576.0 M365.5,592.5 C381.7,592.5 381.7,578.7 397.9,578.7 M365.5,594.3 C381.7,594.3 381.7,579.8 397.9,579.8 M365.5,598.3 C381.7,598.3 381.7,582.4 397.9,582.4 M365.5,601.9 C381.7,601.9 381.7,584.6 397.9,584.6 M365.5,605.9 C381.7,605.9 381.7,587.1 397.9,587.1 M365.5,609.1 C381.7,609.1 381.7,589.2 397.9,589.2 M365.5,612.5 C381.7,612.5 381.7,591.3 397.9,591.3 M365.5,614.7 C381.7,614.7 381.7,592.7 397.9,592.7 " fill="none" stroke="#fff" stroke-width="0.55" stroke-opacity="0.85"/>
<path d="M365.5,581.4 C381.7,581.4 381.7,571.7 397.9,571.7" fill="none" stroke="#EBAA35" stroke-width="0.8" stroke-opacity="0.8"/>
<path d="M365.5,577.8 C381.7,577.8 381.7,569.4 397.9,569.4" fill="none" stroke="#EBAA35" stroke-width="0.8" stroke-opacity="0.8"/>
<path d="M365.5,728.7 C381.7,728.7 381.7,653.5 397.9,653.5 L397.9,788.8 C381.7,788.8 381.7,818.8 365.5,818.8 Z" fill="#e1e1e1" fill-opacity="1.0"/>
<path d="M365.5,731.3 C381.7,731.3 381.7,657.5 397.9,657.5 M365.5,733.6 C381.7,733.6 381.7,660.9 397.9,660.9 M365.5,734.7 C381.7,734.7 381.7,662.5 397.9,662.5 M365.5,736.8 C381.7,736.8 381.7,665.8 397.9,665.8 M365.5,739.1 C381.7,739.1 381.7,669.1 397.9,669.1 M365.5,741.2 C381.7,741.2 381.7,672.3 397.9,672.3 M365.5,743.7 C381.7,743.7 381.7,676.0 397.9,676.0 M365.5,746.0 C381.7,746.0 381.7,679.5 397.9,679.5 M365.5,747.7 C381.7,747.7 381.7,682.1 397.9,682.1 M365.5,749.5 C381.7,749.5 381.7,684.8 397.9,684.8 M365.5,752.2 C381.7,752.2 381.7,688.8 397.9,688.8 M365.5,754.3 C381.7,754.3 381.7,691.9 397.9,691.9 M365.5,756.7 C381.7,756.7 381.7,695.5 397.9,695.5 M365.5,759.3 C381.7,759.3 381.7,699.5 397.9,699.5 M365.5,761.1 C381.7,761.1 381.7,702.2 397.9,702.2 M365.5,763.0 C381.7,763.0 381.7,705.1 397.9,705.1 M365.5,765.3 C381.7,765.3 381.7,708.5 397.9,708.5 M365.5,767.5 C381.7,767.5 381.7,711.8 397.9,711.8 M365.5,768.9 C381.7,768.9 381.7,713.9 397.9,713.9 M365.5,772.1 C381.7,772.1 381.7,718.7 397.9,718.7 M365.5,774.1 C381.7,774.1 381.7,721.7 397.9,721.7 M365.5,776.4 C381.7,776.4 381.7,725.1 397.9,725.1 M365.5,778.4 C381.7,778.4 381.7,728.2 397.9,728.2 M365.5,780.1 C381.7,780.1 381.7,730.6 397.9,730.6 M365.5,782.2 C381.7,782.2 381.7,733.8 397.9,733.8 M365.5,784.0 C381.7,784.0 381.7,736.5 397.9,736.5 M365.5,786.8 C381.7,786.8 381.7,740.7 397.9,740.7 M365.5,788.2 C381.7,788.2 381.7,742.9 397.9,742.9 M365.5,790.4 C381.7,790.4 381.7,746.1 397.9,746.1 M365.5,792.7 C381.7,792.7 381.7,749.6 397.9,749.6 M365.5,794.8 C381.7,794.8 381.7,752.7 397.9,752.7 M365.5,797.2 C381.7,797.2 381.7,756.3 397.9,756.3 M365.5,798.9 C381.7,798.9 381.7,758.9 397.9,758.9 M365.5,801.0 C381.7,801.0 381.7,762.1 397.9,762.1 M365.5,803.4 C381.7,803.4 381.7,765.6 397.9,765.6 M365.5,805.4 C381.7,805.4 381.7,768.7 397.9,768.7 M365.5,807.9 C381.7,807.9 381.7,772.4 397.9,772.4 M365.5,809.6 C381.7,809.6 381.7,775.0 397.9,775.0 M365.5,812.9 C381.7,812.9 381.7,779.8 397.9,779.8 M365.5,814.7 C381.7,814.7 381.7,782.6 397.9,782.6 M365.5,816.2 C381.7,816.2 381.7,784.9 397.9,784.9 " fill="none" stroke="#fff" stroke-width="0.55" stroke-opacity="0.85"/>
<path d="M365.5,751.4 C381.7,751.4 381.7,687.6 397.9,687.6" fill="none" stroke="#EBAA35" stroke-width="0.8" stroke-opacity="0.8"/>
<path d="M365.5,760.0 C381.7,760.0 381.7,700.5 397.9,700.5" fill="none" stroke="#EBAA35" stroke-width="0.8" stroke-opacity="0.8"/>
<path d="M365.5,761.5 C381.7,761.5 381.7,702.8 397.9,702.8" fill="none" stroke="#EBAA35" stroke-width="0.8" stroke-opacity="0.8"/>
<path d="M365.5,739.7 C381.7,739.7 381.7,670.1 397.9,670.1" fill="none" stroke="#EBAA35" stroke-width="0.8" stroke-opacity="0.8"/>
<path d="M365.5,805.2 C381.7,805.2 381.7,768.3 397.9,768.3" fill="none" stroke="#EBAA35" stroke-width="0.8" stroke-opacity="0.8"/>
<path d="M365.5,573.4 C381.7,573.4 381.7,570.0 397.9,570.0 L397.9,572.6 C381.7,572.6 381.7,575.9 365.5,575.9 Z" fill="#EBB03E" fill-opacity="1.0"/>
<path d="M365.5,605.9 C381.7,605.9 381.7,605.1 397.9,605.1 L397.9,594.3 C381.7,594.3 381.7,618.5 365.5,618.5 Z" fill="#EBB03E" fill-opacity="1.0"/>
<path d="M365.5,640.2 C381.7,640.2 381.7,609.3 397.9,609.3 L397.9,615.1 C381.7,615.1 381.7,650.2 365.5,650.2 Z" fill="#EBB03E" fill-opacity="1.0"/>
<path d="M365.5,813.2 C381.7,813.2 381.7,664.0 397.9,664.0" fill="none" stroke="#9AD860" stroke-width="0.7" stroke-opacity="0.5"/>
<path d="M365.5,682.9 C381.7,682.9 381.7,578.4 397.9,578.4" fill="none" stroke="#9AD860" stroke-width="0.7" stroke-opacity="0.5"/>
<path d="M365.5,585.2 C381.7,585.2 381.7,636.3 397.9,636.3" fill="none" stroke="#9AD860" stroke-width="0.7" stroke-opacity="0.5"/>
<path d="M365.5,626.9 C381.7,626.9 381.7,745.8 397.9,745.8" fill="none" stroke="#9AD860" stroke-width="0.7" stroke-opacity="0.5"/>
<path d="M365.5,600.4 C381.7,600.4 381.7,564.3 397.9,564.3" fill="none" stroke="#9AD860" stroke-width="0.7" stroke-opacity="0.5"/>
<path d="M365.5,802.5 C381.7,802.5 381.7,678.1 397.9,678.1" fill="none" stroke="#72D4F0" stroke-width="0.7" stroke-opacity="0.6"/>
<path d="M365.5,596.6 C381.7,596.6 381.7,681.4 397.9,681.4" fill="none" stroke="#72D4F0" stroke-width="0.7" stroke-opacity="0.6"/>
<path d="M430.4,555.0 C446.6,555.0 446.6,555.0 462.8,555.0 L462.8,630.2 C446.6,630.2 446.6,631.8 430.4,631.8 Z" fill="#e1e1e1" fill-opacity="1.0"/>
<path d="M430.4,557.3 C446.6,557.3 446.6,557.3 462.8,557.3 M430.4,561.5 C446.6,561.5 446.6,561.3 462.8,561.3 M430.4,565.5 C446.6,565.5 446.6,565.3 462.8,565.3 M430.4,568.5 C446.6,568.5 446.6,568.2 462.8,568.2 M430.4,571.4 C446.6,571.4 446.6,571.0 462.8,571.0 M430.4,573.8 C446.6,573.8 446.6,573.4 462.8,573.4 M430.4,577.2 C446.6,577.2 446.6,576.7 462.8,576.7 M430.4,580.0 C446.6,580.0 446.6,579.4 462.8,579.4 M430.4,584.3 C446.6,584.3 446.6,583.7 462.8,583.7 M430.4,587.1 C446.6,587.1 446.6,586.4 462.8,586.4 M430.4,590.8 C446.6,590.8 446.6,590.0 462.8,590.0 M430.4,593.1 C446.6,593.1 446.6,592.3 462.8,592.3 M430.4,596.1 C446.6,596.1 446.6,595.2 462.8,595.2 M430.4,600.4 C446.6,600.4 446.6,599.4 462.8,599.4 M430.4,604.0 C446.6,604.0 446.6,602.9 462.8,602.9 M430.4,606.9 C446.6,606.9 446.6,605.8 462.8,605.8 M430.4,610.0 C446.6,610.0 446.6,608.8 462.8,608.8 M430.4,613.2 C446.6,613.2 446.6,612.0 462.8,612.0 M430.4,616.3 C446.6,616.3 446.6,615.0 462.8,615.0 M430.4,618.5 C446.6,618.5 446.6,617.1 462.8,617.1 M430.4,622.3 C446.6,622.3 446.6,620.8 462.8,620.8 M430.4,625.1 C446.6,625.1 446.6,623.6 462.8,623.6 M430.4,627.7 C446.6,627.7 446.6,626.1 462.8,626.1 " fill="none" stroke="#fff" stroke-width="0.55" stroke-opacity="0.85"/>
<path d="M430.4,557.2 C446.6,557.2 446.6,557.1 462.8,557.1" fill="none" stroke="#EBAA35" stroke-width="0.8" stroke-opacity="0.8"/>
<path d="M430.4,576.5 C446.6,576.5 446.6,576.0 462.8,576.0" fill="none" stroke="#EBAA35" stroke-width="0.8" stroke-opacity="0.8"/>
<path d="M430.4,574.9 C446.6,574.9 446.6,574.5 462.8,574.5" fill="none" stroke="#EBAA35" stroke-width="0.8" stroke-opacity="0.8"/>
<path d="M430.4,691.9 C446.6,691.9 446.6,738.7 462.8,738.7 L462.8,807.1 C446.6,807.1 446.6,781.3 430.4,781.3 Z" fill="#e1e1e1" fill-opacity="1.0"/>
<path d="M430.4,695.6 C446.6,695.6 446.6,741.5 462.8,741.5 M430.4,699.5 C446.6,699.5 446.6,744.5 462.8,744.5 M430.4,701.8 C446.6,701.8 446.6,746.2 462.8,746.2 M430.4,706.0 C446.6,706.0 446.6,749.5 462.8,749.5 M430.4,709.4 C446.6,709.4 446.6,752.1 462.8,752.1 M430.4,712.7 C446.6,712.7 446.6,754.6 462.8,754.6 M430.4,714.8 C446.6,714.8 446.6,756.2 462.8,756.2 M430.4,717.8 C446.6,717.8 446.6,758.5 462.8,758.5 M430.4,721.2 C446.6,721.2 446.6,761.1 462.8,761.1 M430.4,724.4 C446.6,724.4 446.6,763.6 462.8,763.6 M430.4,727.7 C446.6,727.7 446.6,766.1 462.8,766.1 M430.4,731.9 C446.6,731.9 446.6,769.3 462.8,769.3 M430.4,735.7 C446.6,735.7 446.6,772.3 462.8,772.3 M430.4,738.9 C446.6,738.9 446.6,774.7 462.8,774.7 M430.4,741.5 C446.6,741.5 446.6,776.7 462.8,776.7 M430.4,745.2 C446.6,745.2 446.6,779.5 462.8,779.5 M430.4,748.8 C446.6,748.8 446.6,782.2 462.8,782.2 M430.4,750.7 C446.6,750.7 446.6,783.7 462.8,783.7 M430.4,755.1 C446.6,755.1 446.6,787.1 462.8,787.1 M430.4,758.9 C446.6,758.9 446.6,790.0 462.8,790.0 M430.4,762.0 C446.6,762.0 446.6,792.4 462.8,792.4 M430.4,765.2 C446.6,765.2 446.6,794.9 462.8,794.9 M430.4,768.0 C446.6,768.0 446.6,797.0 462.8,797.0 M430.4,770.7 C446.6,770.7 446.6,799.1 462.8,799.1 M430.4,775.2 C446.6,775.2 446.6,802.5 462.8,802.5 M430.4,777.6 C446.6,777.6 446.6,804.4 462.8,804.4 " fill="none" stroke="#fff" stroke-width="0.55" stroke-opacity="0.85"/>
<path d="M430.4,763.5 C446.6,763.5 446.6,793.5 462.8,793.5" fill="none" stroke="#EBAA35" stroke-width="0.8" stroke-opacity="0.8"/>
<path d="M430.4,778.7 C446.6,778.7 446.6,805.2 462.8,805.2" fill="none" stroke="#EBAA35" stroke-width="0.8" stroke-opacity="0.8"/>
<path d="M430.4,727.3 C446.6,727.3 446.6,765.8 462.8,765.8" fill="none" stroke="#EBAA35" stroke-width="0.8" stroke-opacity="0.8"/>
<path d="M430.4,631.8 C446.6,631.8 446.6,641.8 462.8,641.8 L462.8,653.5 C446.6,653.5 446.6,645.2 430.4,645.2 Z" fill="#EBB03E" fill-opacity="1.0"/>
<path d="M430.4,647.7 C446.6,647.7 446.6,723.7 462.8,723.7 L462.8,659.4 C446.6,659.4 446.6,679.4 430.4,679.4 Z" fill="#EBB03E" fill-opacity="1.0"/>
<path d="M430.4,682.8 C446.6,682.8 446.6,712.0 462.8,712.0 L462.8,738.7 C446.6,738.7 446.6,691.9 430.4,691.9 Z" fill="#EBB03E" fill-opacity="1.0"/>
<path d="M430.4,645.9 C446.6,645.9 446.6,789.4 462.8,789.4" fill="none" stroke="#9AD860" stroke-width="0.7" stroke-opacity="0.5"/>
<path d="M430.4,715.9 C446.6,715.9 446.6,600.4 462.8,600.4" fill="none" stroke="#9AD860" stroke-width="0.7" stroke-opacity="0.5"/>
<path d="M430.4,586.6 C446.6,586.6 446.6,595.9 462.8,595.9" fill="none" stroke="#9AD860" stroke-width="0.7" stroke-opacity="0.5"/>
<path d="M430.4,754.8 C446.6,754.8 446.6,755.2 462.8,755.2" fill="none" stroke="#9AD860" stroke-width="0.7" stroke-opacity="0.5"/>
<path d="M430.4,590.7 C446.6,590.7 446.6,760.1 462.8,760.1" fill="none" stroke="#9AD860" stroke-width="0.7" stroke-opacity="0.5"/>
<path d="M430.4,771.1 C446.6,771.1 446.6,718.9 462.8,718.9" fill="none" stroke="#72D4F0" stroke-width="0.7" stroke-opacity="0.6"/>
<path d="M430.4,634.9 C446.6,634.9 446.6,692.5 462.8,692.5" fill="none" stroke="#72D4F0" stroke-width="0.7" stroke-opacity="0.6"/>
<path d="M465.1,712.0 C481.4,712.0 481.4,695.3 497.6,695.3 L497.6,738.7 C481.4,738.7 481.4,772.1 465.1,772.1 Z" fill="#e1e1e1" fill-opacity="0.55"/>
<path d="M465.1,714.6 C481.4,714.6 481.4,697.2 497.6,697.2 M465.1,717.7 C481.4,717.7 481.4,699.4 497.6,699.4 M465.1,722.9 C481.4,722.9 481.4,703.2 497.6,703.2 M465.1,725.6 C481.4,725.6 481.4,705.1 497.6,705.1 M465.1,728.7 C481.4,728.7 481.4,707.4 497.6,707.4 M465.1,732.9 C481.4,732.9 481.4,710.4 497.6,710.4 M465.1,735.2 C481.4,735.2 481.4,712.1 497.6,712.1 M465.1,739.4 C481.4,739.4 481.4,715.1 497.6,715.1 M465.1,742.7 C481.4,742.7 481.4,717.5 497.6,717.5 M465.1,744.8 C481.4,744.8 481.4,719.0 497.6,719.0 M465.1,748.2 C481.4,748.2 481.4,721.4 497.6,721.4 M465.1,751.6 C481.4,751.6 481.4,723.9 497.6,723.9 M465.1,754.9 C481.4,754.9 481.4,726.3 497.6,726.3 M465.1,758.9 C481.4,758.9 481.4,729.2 497.6,729.2 M465.1,761.6 C481.4,761.6 481.4,731.1 497.6,731.1 M465.1,765.2 C481.4,765.2 481.4,733.7 497.6,733.7 M465.1,768.0 C481.4,768.0 481.4,735.7 497.6,735.7 " fill="none" stroke="#fff" stroke-width="0.55" stroke-opacity="0.85"/>
<path d="M465.1,766.7 C481.4,766.7 481.4,734.8 497.6,734.8" fill="none" stroke="#EBAA35" stroke-width="0.8" stroke-opacity="0.8"/>
<path d="M465.1,733.2 C481.4,733.2 481.4,710.6 497.6,710.6" fill="none" stroke="#EBAA35" stroke-width="0.8" stroke-opacity="0.8"/>
<path d="M465.1,555.0 C481.4,555.0 481.4,555.0 497.6,555.0 L497.6,620.1 C481.4,620.1 481.4,631.8 465.1,631.8 Z" fill="#e1e1e1" fill-opacity="1.0"/>
<path d="M465.1,558.1 C481.4,558.1 481.4,557.7 497.6,557.7 M465.1,561.6 C481.4,561.6 481.4,560.6 497.6,560.6 M465.1,565.4 C481.4,565.4 481.4,563.8 497.6,563.8 M465.1,567.7 C481.4,567.7 481.4,565.7 497.6,565.7 M465.1,571.8 C481.4,571.8 481.4,569.3 497.6,569.3 M465.1,574.2 C481.4,574.2 481.4,571.3 497.6,571.3 M465.1,577.5 C481.4,577.5 481.4,574.1 497.6,574.1 M465.1,580.7 C481.4,580.7 481.4,576.8 497.6,576.8 M465.1,582.9 C481.4,582.9 481.4,578.7 497.6,578.7 M465.1,586.9 C481.4,586.9 481.4,582.1 497.6,582.1 M465.1,589.6 C481.4,589.6 481.4,584.3 497.6,584.3 M465.1,592.5 C481.4,592.5 481.4,586.8 497.6,586.8 M465.1,597.2 C481.4,597.2 481.4,590.8 497.6,590.8 M465.1,599.2 C481.4,599.2 481.4,592.5 497.6,592.5 M465.1,603.0 C481.4,603.0 481.4,595.7 497.6,595.7 M465.1,606.7 C481.4,606.7 481.4,598.8 497.6,598.8 M465.1,609.5 C481.4,609.5 481.4,601.2 497.6,601.2 M465.1,612.3 C481.4,612.3 481.4,603.6 497.6,603.6 M465.1,615.9 C481.4,615.9 481.4,606.6 497.6,606.6 M465.1,619.1 C481.4,619.1 481.4,609.4 497.6,609.4 M465.1,622.8 C481.4,622.8 481.4,612.5 497.6,612.5 M465.1,624.7 C481.4,624.7 481.4,614.1 497.6,614.1 M465.1,628.7 C481.4,628.7 481.4,617.5 497.6,617.5 " fill="none" stroke="#fff" stroke-width="0.55" stroke-opacity="0.85"/>
<path d="M465.1,574.1 C481.4,574.1 481.4,571.2 497.6,571.2" fill="none" stroke="#EBAA35" stroke-width="0.8" stroke-opacity="0.8"/>
<path d="M465.1,576.3 C481.4,576.3 481.4,573.1 497.6,573.1" fill="none" stroke="#EBAA35" stroke-width="0.8" stroke-opacity="0.8"/>
<path d="M465.1,614.3 C481.4,614.3 481.4,605.3 497.6,605.3" fill="none" stroke="#EBAA35" stroke-width="0.8" stroke-opacity="0.8"/>
<path d="M465.1,645.2 C481.4,645.2 481.4,621.0 497.6,621.0 L497.6,631.8 C481.4,631.8 481.4,653.5 465.1,653.5 Z" fill="#EBB03E" fill-opacity="1.0"/>
<path d="M465.1,660.2 C481.4,660.2 481.4,683.6 497.6,683.6 L497.6,739.5 C481.4,739.5 481.4,772.1 465.1,772.1 Z" fill="#EBB03E" fill-opacity="1.0"/>
<path d="M465.1,772.1 C481.4,772.1 481.4,738.7 497.6,738.7 L497.6,739.7 C481.4,739.7 481.4,807.1 465.1,807.1 Z" fill="#EBB03E" fill-opacity="1.0"/>
<path d="M465.1,682.6 C481.4,682.6 481.4,658.0 497.6,658.0" fill="none" stroke="#9AD860" stroke-width="0.7" stroke-opacity="0.5"/>
<path d="M465.1,743.9 C481.4,743.9 481.4,719.8 497.6,719.8" fill="none" stroke="#9AD860" stroke-width="0.7" stroke-opacity="0.5"/>
<path d="M465.1,666.9 C481.4,666.9 481.4,667.0 497.6,667.0" fill="none" stroke="#9AD860" stroke-width="0.7" stroke-opacity="0.5"/>
<path d="M465.1,682.1 C481.4,682.1 481.4,649.3 497.6,649.3" fill="none" stroke="#9AD860" stroke-width="0.7" stroke-opacity="0.5"/>
<path d="M465.1,727.6 C481.4,727.6 481.4,638.8 497.6,638.8" fill="none" stroke="#9AD860" stroke-width="0.7" stroke-opacity="0.5"/>
<path d="M465.1,688.8 C481.4,688.8 481.4,643.3 497.6,643.3" fill="none" stroke="#72D4F0" stroke-width="0.7" stroke-opacity="0.6"/>
<path d="M465.1,788.1 C481.4,788.1 481.4,682.2 497.6,682.2" fill="none" stroke="#72D4F0" stroke-width="0.7" stroke-opacity="0.6"/>
<path d="M530.1,555.0 C546.3,555.0 546.3,685.3 562.4,685.3 L562.4,712.0 C546.3,712.0 546.3,595.1 530.1,595.1 Z" fill="#e1e1e1" fill-opacity="1.0"/>
<path d="M530.1,559.1 C546.3,559.1 546.3,688.0 562.4,688.0 M530.1,562.6 C546.3,562.6 546.3,690.3 562.4,690.3 M530.1,564.6 C546.3,564.6 546.3,691.6 562.4,691.6 M530.1,568.5 C546.3,568.5 546.3,694.2 562.4,694.2 M530.1,572.6 C546.3,572.6 546.3,697.0 562.4,697.0 M530.1,575.7 C546.3,575.7 546.3,699.1 562.4,699.1 M530.1,577.7 C546.3,577.7 546.3,700.4 562.4,700.4 M530.1,581.0 C546.3,581.0 546.3,702.6 562.4,702.6 M530.1,585.0 C546.3,585.0 546.3,705.2 562.4,705.2 M530.1,587.6 C546.3,587.6 546.3,706.9 562.4,706.9 M530.1,591.2 C546.3,591.2 546.3,709.4 562.4,709.4 " fill="none" stroke="#fff" stroke-width="0.55" stroke-opacity="0.85"/>
<path d="M530.1,557.9 C546.3,557.9 546.3,687.2 562.4,687.2" fill="none" stroke="#EBAA35" stroke-width="0.8" stroke-opacity="0.8"/>
<path d="M530.1,718.7 C546.3,718.7 546.3,713.6 562.4,713.6 L562.4,732.0 C546.3,732.0 546.3,752.9 530.1,752.9 Z" fill="#e1e1e1" fill-opacity="1.0"/>
<path d="M530.1,722.4 C546.3,722.4 546.3,715.7 562.4,715.7 M530.1,726.1 C546.3,726.1 546.3,717.6 562.4,717.6 M530.1,729.7 C546.3,729.7 546.3,719.6 562.4,719.6 M530.1,731.6 C546.3,731.6 546.3,720.6 562.4,720.6 M530.1,736.2 C546.3,736.2 546.3,723.1 562.4,723.1 M530.1,739.5 C546.3,739.5 546.3,724.8 562.4,724.8 M530.1,741.9 C546.3,741.9 546.3,726.1 562.4,726.1 M530.1,746.8 C546.3,746.8 546.3,728.8 562.4,728.8 M530.1,750.4 C546.3,750.4 546.3,730.7 562.4,730.7 " fill="none" stroke="#fff" stroke-width="0.55" stroke-opacity="0.85"/>
<path d="M530.1,726.2 C546.3,726.2 546.3,717.7 562.4,717.7" fill="none" stroke="#EBAA35" stroke-width="0.8" stroke-opacity="0.8"/>
<path d="M530.1,739.8 C546.3,739.8 546.3,626.0 562.4,626.0" fill="none" stroke="#9AD860" stroke-width="0.7" stroke-opacity="0.5"/>
<path d="M530.1,651.5 C546.3,651.5 546.3,725.5 562.4,725.5" fill="none" stroke="#9AD860" stroke-width="0.7" stroke-opacity="0.5"/>
<path d="M530.1,717.0 C546.3,717.0 546.3,586.2 562.4,586.2" fill="none" stroke="#9AD860" stroke-width="0.7" stroke-opacity="0.5"/>
<path d="M530.1,641.0 C546.3,641.0 546.3,645.8 562.4,645.8" fill="none" stroke="#9AD860" stroke-width="0.7" stroke-opacity="0.5"/>
<path d="M530.1,623.4 C546.3,623.4 546.3,592.0 562.4,592.0" fill="none" stroke="#9AD860" stroke-width="0.7" stroke-opacity="0.5"/>
<path d="M530.1,619.5 C546.3,619.5 546.3,680.5 562.4,680.5" fill="none" stroke="#72D4F0" stroke-width="0.7" stroke-opacity="0.6"/>
<path d="M530.1,562.8 C546.3,562.8 546.3,652.2 562.4,652.2" fill="none" stroke="#72D4F0" stroke-width="0.7" stroke-opacity="0.6"/>
<path d="M564.8,681.9 C581.0,681.9 581.0,588.4 597.2,588.4 L597.2,629.3 C581.0,629.3 581.0,732.0 564.8,732.0 Z" fill="#e1e1e1" fill-opacity="1.0"/>
<path d="M564.8,685.1 C581.0,685.1 581.0,591.0 597.2,591.0 M564.8,687.6 C581.0,687.6 581.0,593.1 597.2,593.1 M564.8,691.6 C581.0,691.6 581.0,596.3 597.2,596.3 M564.8,695.5 C581.0,695.5 581.0,599.5 597.2,599.5 M564.8,698.6 C581.0,698.6 581.0,602.1 597.2,602.1 M564.8,701.1 C581.0,701.1 581.0,604.1 597.2,604.1 M564.8,706.3 C581.0,706.3 581.0,608.3 597.2,608.3 M564.8,709.2 C581.0,709.2 581.0,610.7 597.2,610.7 M564.8,712.9 C581.0,712.9 581.0,613.7 597.2,613.7 M564.8,714.5 C581.0,714.5 581.0,615.0 597.2,615.0 M564.8,718.2 C581.0,718.2 581.0,618.0 597.2,618.0 M564.8,721.1 C581.0,721.1 581.0,620.4 597.2,620.4 M564.8,725.9 C581.0,725.9 581.0,624.3 597.2,624.3 M564.8,728.2 C581.0,728.2 581.0,626.2 597.2,626.2 " fill="none" stroke="#fff" stroke-width="0.55" stroke-opacity="0.85"/>
<path d="M564.8,688.4 C581.0,688.4 581.0,593.7 597.2,593.7" fill="none" stroke="#EBAA35" stroke-width="0.8" stroke-opacity="0.8"/>
<path d="M564.8,703.1 C581.0,703.1 581.0,605.7 597.2,605.7" fill="none" stroke="#EBAA35" stroke-width="0.8" stroke-opacity="0.8"/>
<path d="M564.8,580.9 C581.0,580.9 581.0,555.0 597.2,555.0 L597.2,585.1 C581.0,585.1 581.0,648.5 564.8,648.5 Z" fill="#EBB03E" fill-opacity="1.0"/>
<path d="M564.8,653.5 C581.0,653.5 581.0,584.2 597.2,584.2 L597.2,588.7 C581.0,588.7 581.0,678.6 564.8,678.6 Z" fill="#EBB03E" fill-opacity="1.0"/>
<path d="M564.8,712.3 C581.0,712.3 581.0,613.2 597.2,613.2" fill="none" stroke="#9AD860" stroke-width="0.7" stroke-opacity="0.5"/>
<path d="M564.8,602.6 C581.0,602.6 581.0,569.0 597.2,569.0" fill="none" stroke="#9AD860" stroke-width="0.7" stroke-opacity="0.5"/>
<path d="M564.8,713.6 C581.0,713.6 581.0,596.8 597.2,596.8" fill="none" stroke="#9AD860" stroke-width="0.7" stroke-opacity="0.5"/>
<path d="M564.8,676.8 C581.0,676.8 581.0,565.0 597.2,565.0" fill="none" stroke="#9AD860" stroke-width="0.7" stroke-opacity="0.5"/>
<path d="M564.8,568.8 C581.0,568.8 581.0,604.6 597.2,604.6" fill="none" stroke="#9AD860" stroke-width="0.7" stroke-opacity="0.5"/>
<path d="M564.8,630.6 C581.0,630.6 581.0,563.9 597.2,563.9" fill="none" stroke="#72D4F0" stroke-width="0.7" stroke-opacity="0.6"/>
<path d="M564.8,716.8 C581.0,716.8 581.0,601.0 597.2,601.0" fill="none" stroke="#72D4F0" stroke-width="0.7" stroke-opacity="0.6"/>
<path d="M629.8,555.0 C645.9,555.0 645.9,555.0 662.1,555.0 L662.1,602.6 C645.9,602.6 645.9,596.8 629.8,596.8 Z" fill="#e1e1e1" fill-opacity="1.0"/>
<path d="M629.8,558.5 C645.9,558.5 645.9,559.0 662.1,559.0 M629.8,560.2 C645.9,560.2 645.9,561.0 662.1,561.0 M629.8,564.6 C645.9,564.6 645.9,565.9 662.1,565.9 M629.8,566.2 C645.9,566.2 645.9,567.7 662.1,567.7 M629.8,570.6 C645.9,570.6 645.9,572.8 662.1,572.8 M629.8,572.8 C645.9,572.8 645.9,575.3 662.1,575.3 M629.8,575.6 C645.9,575.6 645.9,578.5 662.1,578.5 M629.8,579.0 C645.9,579.0 645.9,582.3 662.1,582.3 M629.8,582.6 C645.9,582.6 645.9,586.5 662.1,586.5 M629.8,584.4 C645.9,584.4 645.9,588.5 662.1,588.5 M629.8,587.2 C645.9,587.2 645.9,591.7 662.1,591.7 M629.8,590.8 C645.9,590.8 645.9,595.9 662.1,595.9 M629.8,593.3 C645.9,593.3 645.9,598.7 662.1,598.7 " fill="none" stroke="#fff" stroke-width="0.55" stroke-opacity="0.85"/>
<path d="M629.8,559.6 C645.9,559.6 645.9,560.2 662.1,560.2" fill="none" stroke="#EBAA35" stroke-width="0.8" stroke-opacity="0.8"/>
<path d="M629.8,596.8 C645.9,596.8 645.9,693.6 662.1,693.6 L662.1,632.7 C645.9,632.7 645.9,692.8 629.8,692.8 Z" fill="#EBB03E" fill-opacity="1.0"/>
<path d="M629.8,588.9 C645.9,588.9 645.9,566.6 662.1,566.6" fill="none" stroke="#9AD860" stroke-width="0.7" stroke-opacity="0.5"/>
<path d="M629.8,596.3 C645.9,596.3 645.9,605.2 662.1,605.2" fill="none" stroke="#9AD860" stroke-width="0.7" stroke-opacity="0.5"/>
<path d="M629.8,615.4 C645.9,615.4 645.9,671.4 662.1,671.4" fill="none" stroke="#9AD860" stroke-width="0.7" stroke-opacity="0.5"/>
<path d="M629.8,612.6 C645.9,612.6 645.9,633.1 662.1,633.1" fill="none" stroke="#9AD860" stroke-width="0.7" stroke-opacity="0.5"/>
<path d="M629.8,591.9 C645.9,591.9 645.9,610.4 662.1,610.4" fill="none" stroke="#9AD860" stroke-width="0.7" stroke-opacity="0.5"/>
<path d="M629.8,562.5 C645.9,562.5 645.9,596.1 662.1,596.1" fill="none" stroke="#72D4F0" stroke-width="0.7" stroke-opacity="0.6"/>
<path d="M629.8,561.9 C645.9,561.9 645.9,667.5 662.1,667.5" fill="none" stroke="#72D4F0" stroke-width="0.7" stroke-opacity="0.6"/>
<path d="M664.5,555.0 C680.7,555.0 680.7,555.0 696.9,555.0 L696.9,596.8 C680.7,596.8 680.7,625.1 664.5,625.1 Z" fill="#e1e1e1" fill-opacity="1.0"/>
<path d="M664.5,558.5 C680.7,558.5 680.7,557.1 696.9,557.1 M664.5,561.1 C680.7,561.1 680.7,558.6 696.9,558.6 M664.5,565.0 C680.7,565.0 680.7,561.0 696.9,561.0 M664.5,569.2 C680.7,569.2 680.7,563.5 696.9,563.5 M664.5,570.9 C680.7,570.9 680.7,564.5 696.9,564.5 M664.5,575.7 C680.7,575.7 680.7,567.3 696.9,567.3 M664.5,578.3 C680.7,578.3 680.7,568.9 696.9,568.9 M664.5,581.7 C680.7,581.7 680.7,570.9 696.9,570.9 M664.5,585.7 C680.7,585.7 680.7,573.3 696.9,573.3 M664.5,588.2 C680.7,588.2 680.7,574.8 696.9,574.8 M664.5,591.8 C680.7,591.8 680.7,576.9 696.9,576.9 M664.5,595.5 C680.7,595.5 680.7,579.1 696.9,579.1 M664.5,599.4 C680.7,599.4 680.7,581.4 696.9,581.4 M664.5,601.5 C680.7,601.5 680.7,582.7 696.9,582.7 M664.5,605.8 C680.7,605.8 680.7,585.2 696.9,585.2 M664.5,608.9 C680.7,608.9 680.7,587.1 696.9,587.1 M664.5,612.1 C680.7,612.1 680.7,589.0 696.9,589.0 M664.5,614.9 C680.7,614.9 680.7,590.7 696.9,590.7 M664.5,618.2 C680.7,618.2 680.7,592.6 696.9,592.6 M664.5,620.9 C680.7,620.9 680.7,594.2 696.9,594.2 " fill="none" stroke="#fff" stroke-width="0.55" stroke-opacity="0.85"/>
<path d="M664.5,564.1 C680.7,564.1 680.7,560.4 696.9,560.4" fill="none" stroke="#EBAA35" stroke-width="0.8" stroke-opacity="0.8"/>
<path d="M664.5,560.0 C680.7,560.0 680.7,558.0 696.9,558.0" fill="none" stroke="#EBAA35" stroke-width="0.8" stroke-opacity="0.8"/>
<path d="M664.5,635.2 C680.7,635.2 680.7,600.1 696.9,600.1 L696.9,661.9 C680.7,661.9 680.7,690.3 664.5,690.3 Z" fill="#e1e1e1" fill-opacity="1.0"/>
<path d="M664.5,638.5 C680.7,638.5 680.7,603.8 696.9,603.8 M664.5,640.5 C680.7,640.5 680.7,606.1 696.9,606.1 M664.5,643.3 C680.7,643.3 680.7,609.2 696.9,609.2 M664.5,646.0 C680.7,646.0 680.7,612.3 696.9,612.3 M664.5,650.3 C680.7,650.3 680.7,617.0 696.9,617.0 M664.5,653.2 C680.7,653.2 680.7,620.3 696.9,620.3 M664.5,655.8 C680.7,655.8 680.7,623.2 696.9,623.2 M664.5,658.0 C680.7,658.0 680.7,625.7 696.9,625.7 M664.5,660.8 C680.7,660.8 680.7,628.9 696.9,628.9 M664.5,663.8 C680.7,663.8 680.7,632.2 696.9,632.2 M664.5,667.0 C680.7,667.0 680.7,635.8 696.9,635.8 M664.5,669.4 C680.7,669.4 680.7,638.5 696.9,638.5 M664.5,672.8 C680.7,672.8 680.7,642.3 696.9,642.3 M664.5,675.4 C680.7,675.4 680.7,645.2 696.9,645.2 M664.5,679.5 C680.7,679.5 680.7,649.8 696.9,649.8 M664.5,682.4 C680.7,682.4 680.7,653.0 696.9,653.0 M664.5,684.5 C680.7,684.5 680.7,655.5 696.9,655.5 M664.5,686.9 C680.7,686.9 680.7,658.1 696.9,658.1 " fill="none" stroke="#fff" stroke-width="0.55" stroke-opacity="0.85"/>
<path d="M664.5,688.4 C680.7,688.4 680.7,659.8 696.9,659.8" fill="none" stroke="#EBAA35" stroke-width="0.8" stroke-opacity="0.8"/>
<path d="M664.5,652.2 C680.7,652.2 680.7,619.2 696.9,619.2" fill="none" stroke="#EBAA35" stroke-width="0.8" stroke-opacity="0.8"/>
<path d="M664.5,623.5 C680.7,623.5 680.7,596.8 696.9,596.8 L696.9,601.8 C680.7,601.8 680.7,635.2 664.5,635.2 Z" fill="#EBB03E" fill-opacity="1.0"/>
<path d="M664.5,691.9 C680.7,691.9 680.7,675.2 696.9,675.2 L696.9,661.9 C680.7,661.9 680.7,712.0 664.5,712.0 Z" fill="#EBB03E" fill-opacity="1.0"/>
<path d="M664.5,611.8 C680.7,611.8 680.7,559.2 696.9,559.2" fill="none" stroke="#9AD860" stroke-width="0.7" stroke-opacity="0.5"/>
<path d="M664.5,615.5 C680.7,615.5 680.7,612.0 696.9,612.0" fill="none" stroke="#9AD860" stroke-width="0.7" stroke-opacity="0.5"/>
<path d="M664.5,633.5 C680.7,633.5 680.7,581.5 696.9,581.5" fill="none" stroke="#9AD860" stroke-width="0.7" stroke-opacity="0.5"/>
<path d="M664.5,633.8 C680.7,633.8 680.7,559.7 696.9,559.7" fill="none" stroke="#9AD860" stroke-width="0.7" stroke-opacity="0.5"/>
<path d="M664.5,598.2 C680.7,598.2 680.7,569.1 696.9,569.1" fill="none" stroke="#9AD860" stroke-width="0.7" stroke-opacity="0.5"/>
<path d="M664.5,618.2 C680.7,618.2 680.7,563.7 696.9,563.7" fill="none" stroke="#72D4F0" stroke-width="0.7" stroke-opacity="0.6"/>
<path d="M664.5,562.4 C680.7,562.4 680.7,593.0 696.9,593.0" fill="none" stroke="#72D4F0" stroke-width="0.7" stroke-opacity="0.6"/>
<path d="M729.4,595.5 C745.6,595.5 745.6,592.7 761.7,592.7 L761.7,655.4 C745.6,655.4 745.6,648.0 729.4,648.0 Z" fill="#e1e1e1" fill-opacity="1.0"/>
<path d="M729.4,597.9 C745.6,597.9 745.6,595.5 761.7,595.5 M729.4,601.2 C745.6,601.2 745.6,599.5 761.7,599.5 M729.4,603.9 C745.6,603.9 745.6,602.7 761.7,602.7 M729.4,607.0 C745.6,607.0 745.6,606.4 761.7,606.4 M729.4,609.6 C745.6,609.6 745.6,609.5 761.7,609.5 M729.4,612.5 C745.6,612.5 745.6,613.0 761.7,613.0 M729.4,615.5 C745.6,615.5 745.6,616.6 761.7,616.6 M729.4,617.4 C745.6,617.4 745.6,618.9 761.7,618.9 M729.4,620.1 C745.6,620.1 745.6,622.1 761.7,622.1 M729.4,623.9 C745.6,623.9 745.6,626.7 761.7,626.7 M729.4,625.3 C745.6,625.3 745.6,628.3 761.7,628.3 M729.4,629.0 C745.6,629.0 745.6,632.8 761.7,632.8 M729.4,631.6 C745.6,631.6 745.6,635.9 761.7,635.9 M729.4,633.4 C745.6,633.4 745.6,638.0 761.7,638.0 M729.4,637.5 C745.6,637.5 745.6,642.9 761.7,642.9 M729.4,640.3 C745.6,640.3 745.6,646.3 761.7,646.3 M729.4,642.7 C745.6,642.7 745.6,649.1 761.7,649.1 M729.4,645.6 C745.6,645.6 745.6,652.6 761.7,652.6 " fill="none" stroke="#fff" stroke-width="0.55" stroke-opacity="0.85"/>
<path d="M729.4,638.1 C745.6,638.1 745.6,643.7 761.7,643.7" fill="none" stroke="#EBAA35" stroke-width="0.8" stroke-opacity="0.8"/>
<path d="M729.4,602.8 C745.6,602.8 745.6,601.5 761.7,601.5" fill="none" stroke="#EBAA35" stroke-width="0.8" stroke-opacity="0.8"/>
<path d="M729.4,653.6 C745.6,653.6 745.6,694.8 761.7,694.8 L761.7,833.3 C745.6,833.3 745.6,765.9 729.4,765.9 Z" fill="#e1e1e1" fill-opacity="1.0"/>
<path d="M729.4,656.2 C745.6,656.2 745.6,698.0 761.7,698.0 M729.4,658.8 C745.6,658.8 745.6,701.2 761.7,701.2 M729.4,661.9 C745.6,661.9 745.6,705.1 761.7,705.1 M729.4,664.5 C745.6,664.5 745.6,708.2 761.7,708.2 M729.4,667.1 C745.6,667.1 745.6,711.5 761.7,711.5 M729.4,669.4 C745.6,669.4 745.6,714.2 761.7,714.2 M729.4,672.5 C745.6,672.5 745.6,718.1 761.7,718.1 M729.4,674.8 C745.6,674.8 745.6,720.9 761.7,720.9 M729.4,677.4 C745.6,677.4 745.6,724.1 761.7,724.1 M729.4,679.3 C745.6,679.3 745.6,726.4 761.7,726.4 M729.4,681.6 C745.6,681.6 745.6,729.3 761.7,729.3 M729.4,684.3 C745.6,684.3 745.6,732.7 761.7,732.7 M729.4,687.3 C745.6,687.3 745.6,736.4 761.7,736.4 M729.4,689.5 C745.6,689.5 745.6,739.1 761.7,739.1 M729.4,693.3 C745.6,693.3 745.6,743.7 761.7,743.7 M729.4,695.5 C745.6,695.5 745.6,746.4 761.7,746.4 M729.4,698.2 C745.6,698.2 745.6,749.8 761.7,749.8 M729.4,700.8 C745.6,700.8 745.6,753.0 761.7,753.0 M729.4,703.5 C745.6,703.5 745.6,756.3 761.7,756.3 M729.4,705.8 C745.6,705.8 745.6,759.2 761.7,759.2 M729.4,707.6 C745.6,707.6 745.6,761.4 761.7,761.4 M729.4,711.5 C745.6,711.5 745.6,766.2 761.7,766.2 M729.4,714.0 C745.6,714.0 745.6,769.3 761.7,769.3 M729.4,716.3 C745.6,716.3 745.6,772.1 761.7,772.1 M729.4,718.9 C745.6,718.9 745.6,775.4 761.7,775.4 M729.4,721.7 C745.6,721.7 745.6,778.8 761.7,778.8 M729.4,723.4 C745.6,723.4 745.6,780.9 761.7,780.9 M729.4,727.1 C745.6,727.1 745.6,785.4 761.7,785.4 M729.4,728.9 C745.6,728.9 745.6,787.7 761.7,787.7 M729.4,731.3 C745.6,731.3 745.6,790.6 761.7,790.6 M729.4,734.2 C745.6,734.2 745.6,794.2 761.7,794.2 M729.4,737.5 C745.6,737.5 745.6,798.3 761.7,798.3 M729.4,739.3 C745.6,739.3 745.6,800.5 761.7,800.5 M729.4,742.8 C745.6,742.8 745.6,804.8 761.7,804.8 M729.4,745.7 C745.6,745.7 745.6,808.4 761.7,808.4 M729.4,747.6 C745.6,747.6 745.6,810.7 761.7,810.7 M729.4,750.0 C745.6,750.0 745.6,813.7 761.7,813.7 M729.4,752.8 C745.6,752.8 745.6,817.1 761.7,817.1 M729.4,755.7 C745.6,755.7 745.6,820.8 761.7,820.8 M729.4,758.5 C745.6,758.5 745.6,824.1 761.7,824.1 M729.4,760.9 C745.6,760.9 745.6,827.1 761.7,827.1 M729.4,763.5 C745.6,763.5 745.6,830.3 761.7,830.3 " fill="none" stroke="#fff" stroke-width="0.55" stroke-opacity="0.85"/>
<path d="M729.4,662.3 C745.6,662.3 745.6,705.5 761.7,705.5" fill="none" stroke="#EBAA35" stroke-width="0.8" stroke-opacity="0.8"/>
<path d="M729.4,670.1 C745.6,670.1 745.6,715.2 761.7,715.2" fill="none" stroke="#EBAA35" stroke-width="0.8" stroke-opacity="0.8"/>
<path d="M729.4,682.1 C745.6,682.1 745.6,729.9 761.7,729.9" fill="none" stroke="#EBAA35" stroke-width="0.8" stroke-opacity="0.8"/>
<path d="M729.4,737.0 C745.6,737.0 745.6,797.7 761.7,797.7" fill="none" stroke="#EBAA35" stroke-width="0.8" stroke-opacity="0.8"/>
<path d="M729.4,687.8 C745.6,687.8 745.6,736.9 761.7,736.9" fill="none" stroke="#EBAA35" stroke-width="0.8" stroke-opacity="0.8"/>
<path d="M729.4,553.8 C745.6,553.8 745.6,592.7 761.7,592.7 L761.7,553.8 C745.6,553.8 745.6,595.5 729.4,595.5 Z" fill="#EBB03E" fill-opacity="1.0"/>
<path d="M729.4,647.0 C745.6,647.0 745.6,664.8 761.7,664.8 L761.7,694.8 C745.6,694.8 745.6,653.6 729.4,653.6 Z" fill="#EBB03E" fill-opacity="1.0"/>
<path d="M729.4,707.9 C745.6,707.9 745.6,721.0 761.7,721.0 L761.7,728.5 C745.6,728.5 745.6,713.5 729.4,713.5 Z" fill="#EBB03E" fill-opacity="1.0"/>
<path d="M729.4,730.3 C745.6,730.3 745.6,765.9 761.7,765.9 L761.7,775.3 C745.6,775.3 745.6,734.1 729.4,734.1 Z" fill="#EBB03E" fill-opacity="1.0"/>
<path d="M729.4,673.2 C745.6,673.2 745.6,562.5 761.7,562.5" fill="none" stroke="#9AD860" stroke-width="0.7" stroke-opacity="0.5"/>
<path d="M729.4,571.3 C745.6,571.3 745.6,631.4 761.7,631.4" fill="none" stroke="#9AD860" stroke-width="0.7" stroke-opacity="0.5"/>
<path d="M729.4,694.1 C745.6,694.1 745.6,745.3 761.7,745.3" fill="none" stroke="#9AD860" stroke-width="0.7" stroke-opacity="0.5"/>
<path d="M729.4,694.8 C745.6,694.8 745.6,637.3 761.7,637.3" fill="none" stroke="#9AD860" stroke-width="0.7" stroke-opacity="0.5"/>
<path d="M729.4,662.9 C745.6,662.9 745.6,684.1 761.7,684.1" fill="none" stroke="#9AD860" stroke-width="0.7" stroke-opacity="0.5"/>
<path d="M729.4,652.8 C745.6,652.8 745.6,591.0 761.7,591.0" fill="none" stroke="#72D4F0" stroke-width="0.7" stroke-opacity="0.6"/>
<path d="M729.4,738.6 C745.6,738.6 745.6,612.7 761.7,612.7" fill="none" stroke="#72D4F0" stroke-width="0.7" stroke-opacity="0.6"/>
<path d="M764.1,553.8 C780.3,553.8 780.3,553.8 796.5,553.8 L796.5,601.2 C780.3,601.2 780.3,623.6 764.1,623.6 Z" fill="#e1e1e1" fill-opacity="1.0"/>
<path d="M764.1,558.1 C780.3,558.1 780.3,556.7 796.5,556.7 M764.1,561.3 C780.3,561.3 780.3,558.9 796.5,558.9 M764.1,562.8 C780.3,562.8 780.3,559.9 796.5,559.9 M764.1,567.0 C780.3,567.0 780.3,562.8 796.5,562.8 M764.1,571.1 C780.3,571.1 780.3,565.5 796.5,565.5 M764.1,574.7 C780.3,574.7 780.3,568.0 796.5,568.0 M764.1,577.0 C780.3,577.0 780.3,569.5 796.5,569.5 M764.1,579.9 C780.3,579.9 780.3,571.5 796.5,571.5 M764.1,583.1 C780.3,583.1 780.3,573.7 796.5,573.7 M764.1,587.9 C780.3,587.9 780.3,577.0 796.5,577.0 M764.1,589.8 C780.3,589.8 780.3,578.2 796.5,578.2 M764.1,593.9 C780.3,593.9 780.3,581.0 796.5,581.0 M764.1,596.3 C780.3,596.3 780.3,582.6 796.5,582.6 M764.1,600.4 C780.3,600.4 780.3,585.4 796.5,585.4 M764.1,604.6 C780.3,604.6 780.3,588.2 796.5,588.2 M764.1,606.3 C780.3,606.3 780.3,589.4 796.5,589.4 M764.1,611.0 C780.3,611.0 780.3,592.6 796.5,592.6 M764.1,613.7 C780.3,613.7 780.3,594.4 796.5,594.4 M764.1,617.7 C780.3,617.7 780.3,597.2 796.5,597.2 M764.1,620.7 C780.3,620.7 780.3,599.2 796.5,599.2 " fill="none" stroke="#fff" stroke-width="0.55" stroke-opacity="0.85"/>
<path d="M764.1,570.0 C780.3,570.0 780.3,564.8 796.5,564.8" fill="none" stroke="#EBAA35" stroke-width="0.8" stroke-opacity="0.8"/>
<path d="M764.1,616.5 C780.3,616.5 780.3,596.3 796.5,596.3" fill="none" stroke="#EBAA35" stroke-width="0.8" stroke-opacity="0.8"/>
<path d="M764.1,709.7 C780.3,709.7 780.3,644.2 796.5,644.2 L796.5,727.5 C780.3,727.5 780.3,833.3 764.1,833.3 Z" fill="#e1e1e1" fill-opacity="1.0"/>
<path d="M764.1,713.0 C780.3,713.0 780.3,646.4 796.5,646.4 M764.1,715.3 C780.3,715.3 780.3,648.0 796.5,648.0 M764.1,718.5 C780.3,718.5 780.3,650.1 796.5,650.1 M764.1,722.7 C780.3,722.7 780.3,653.0 796.5,653.0 M764.1,725.9 C780.3,725.9 780.3,655.1 796.5,655.1 M764.1,728.9 C780.3,728.9 780.3,657.1 796.5,657.1 M764.1,731.8 C780.3,731.8 780.3,659.1 796.5,659.1 M764.1,735.4 C780.3,735.4 780.3,661.5 796.5,661.5 M764.1,738.6 C780.3,738.6 780.3,663.7 796.5,663.7 M764.1,742.9 C780.3,742.9 780.3,666.6 796.5,666.6 M764.1,744.5 C780.3,744.5 780.3,667.7 796.5,667.7 M764.1,749.2 C780.3,749.2 780.3,670.8 796.5,670.8 M764.1,752.7 C780.3,752.7 780.3,673.2 796.5,673.2 M764.1,754.5 C780.3,754.5 780.3,674.4 796.5,674.4 M764.1,759.3 C780.3,759.3 780.3,677.7 796.5,677.7 M764.1,762.2 C780.3,762.2 780.3,679.6 796.5,679.6 M764.1,765.8 C780.3,765.8 780.3,682.0 796.5,682.0 M764.1,767.8 C780.3,767.8 780.3,683.4 796.5,683.4 M764.1,771.3 C780.3,771.3 780.3,685.7 796.5,685.7 M764.1,774.5 C780.3,774.5 780.3,687.9 796.5,687.9 M764.1,779.0 C780.3,779.0 780.3,690.9 796.5,690.9 M764.1,781.4 C780.3,781.4 780.3,692.6 796.5,692.6 M764.1,784.2 C780.3,784.2 780.3,694.5 796.5,694.5 M764.1,787.6 C780.3,787.6 780.3,696.7 796.5,696.7 M764.1,790.6 C780.3,790.6 780.3,698.7 796.5,698.7 M764.1,793.4 C780.3,793.4 780.3,700.6 796.5,700.6 M764.1,796.7 C780.3,796.7 780.3,702.9 796.5,702.9 M764.1,801.4 C780.3,801.4 780.3,706.0 796.5,706.0 M764.1,803.6 C780.3,803.6 780.3,707.5 796.5,707.5 M764.1,808.1 C780.3,808.1 780.3,710.6 796.5,710.6 M764.1,810.0 C780.3,810.0 780.3,711.8 796.5,711.8 M764.1,813.3 C780.3,813.3 780.3,714.1 796.5,714.1 M764.1,817.0 C780.3,817.0 780.3,716.6 796.5,716.6 M764.1,819.7 C780.3,819.7 780.3,718.3 796.5,718.3 M764.1,823.3 C780.3,823.3 780.3,720.8 796.5,720.8 M764.1,827.7 C780.3,827.7 780.3,723.7 796.5,723.7 M764.1,830.8 C780.3,830.8 780.3,725.8 796.5,725.8 " fill="none" stroke="#fff" stroke-width="0.55" stroke-opacity="0.85"/>
<path d="M764.1,810.0 C780.3,810.0 780.3,711.9 796.5,711.9" fill="none" stroke="#EBAA35" stroke-width="0.8" stroke-opacity="0.8"/>
<path d="M764.1,787.7 C780.3,787.7 780.3,696.8 796.5,696.8" fill="none" stroke="#EBAA35" stroke-width="0.8" stroke-opacity="0.8"/>
<path d="M764.1,822.6 C780.3,822.6 780.3,720.3 796.5,720.3" fill="none" stroke="#EBAA35" stroke-width="0.8" stroke-opacity="0.8"/>
<path d="M764.1,826.0 C780.3,826.0 780.3,722.6 796.5,722.6" fill="none" stroke="#EBAA35" stroke-width="0.8" stroke-opacity="0.8"/>
<path d="M764.1,623.6 C780.3,623.6 780.3,601.2 796.5,601.2 L796.5,606.8 C780.3,606.8 780.3,632.0 764.1,632.0 Z" fill="#EBB03E" fill-opacity="1.0"/>
<path d="M764.1,640.5 C780.3,640.5 780.3,631.1 796.5,631.1 L796.5,638.6 C780.3,638.6 780.3,644.2 764.1,644.2 Z" fill="#EBB03E" fill-opacity="1.0"/>
<path d="M764.1,664.8 C780.3,664.8 780.3,639.5 796.5,639.5 L796.5,644.2 C780.3,644.2 780.3,707.9 764.1,707.9 Z" fill="#EBB03E" fill-opacity="1.0"/>
<path d="M764.1,706.0 C780.3,706.0 780.3,678.8 796.5,678.8 L796.5,687.3 C780.3,687.3 780.3,709.7 764.1,709.7 Z" fill="#EBB03E" fill-opacity="1.0"/>
<path d="M764.1,706.8 C780.3,706.8 780.3,676.4 796.5,676.4" fill="none" stroke="#9AD860" stroke-width="0.7" stroke-opacity="0.5"/>
<path d="M764.1,572.4 C780.3,572.4 780.3,678.5 796.5,678.5" fill="none" stroke="#9AD860" stroke-width="0.7" stroke-opacity="0.5"/>
<path d="M764.1,680.4 C780.3,680.4 780.3,681.8 796.5,681.8" fill="none" stroke="#9AD860" stroke-width="0.7" stroke-opacity="0.5"/>
<path d="M764.1,732.5 C780.3,732.5 780.3,605.8 796.5,605.8" fill="none" stroke="#9AD860" stroke-width="0.7" stroke-opacity="0.5"/>
<path d="M764.1,572.3 C780.3,572.3 780.3,710.2 796.5,710.2" fill="none" stroke="#9AD860" stroke-width="0.7" stroke-opacity="0.5"/>
<path d="M764.1,593.3 C780.3,593.3 780.3,636.1 796.5,636.1" fill="none" stroke="#72D4F0" stroke-width="0.7" stroke-opacity="0.6"/>
<path d="M764.1,651.5 C780.3,651.5 780.3,607.6 796.5,607.6" fill="none" stroke="#72D4F0" stroke-width="0.7" stroke-opacity="0.6"/>
<path d="M829.1,657.3 C845.2,657.3 845.2,678.8 861.4,678.8 L861.4,750.9 C845.2,750.9 845.2,703.2 829.1,703.2 Z" fill="#e1e1e1" fill-opacity="0.55"/>
<path d="M829.1,659.7 C845.2,659.7 845.2,682.6 861.4,682.6 M829.1,662.1 C845.2,662.1 845.2,686.3 861.4,686.3 M829.1,663.3 C845.2,663.3 845.2,688.2 861.4,688.2 M829.1,665.9 C845.2,665.9 845.2,692.3 861.4,692.3 M829.1,667.5 C845.2,667.5 845.2,694.8 861.4,694.8 M829.1,669.9 C845.2,669.9 845.2,698.6 861.4,698.6 M829.1,671.8 C845.2,671.8 845.2,701.6 861.4,701.6 M829.1,673.6 C845.2,673.6 845.2,704.4 861.4,704.4 M829.1,675.7 C845.2,675.7 845.2,707.7 861.4,707.7 M829.1,677.8 C845.2,677.8 845.2,711.0 861.4,711.0 M829.1,680.8 C845.2,680.8 845.2,715.7 861.4,715.7 M829.1,682.3 C845.2,682.3 845.2,718.2 861.4,718.2 M829.1,684.1 C845.2,684.1 845.2,720.9 861.4,720.9 M829.1,687.0 C845.2,687.0 845.2,725.5 861.4,725.5 M829.1,689.2 C845.2,689.2 845.2,729.0 861.4,729.0 M829.1,690.6 C845.2,690.6 845.2,731.2 861.4,731.2 M829.1,692.3 C845.2,692.3 845.2,733.8 861.4,733.8 M829.1,694.5 C845.2,694.5 845.2,737.2 861.4,737.2 M829.1,696.4 C845.2,696.4 845.2,740.3 861.4,740.3 M829.1,698.8 C845.2,698.8 845.2,744.1 861.4,744.1 M829.1,700.6 C845.2,700.6 845.2,746.8 861.4,746.8 " fill="none" stroke="#fff" stroke-width="0.55" stroke-opacity="0.85"/>
<path d="M829.1,668.3 C845.2,668.3 845.2,696.1 861.4,696.1" fill="none" stroke="#EBAA35" stroke-width="0.8" stroke-opacity="0.8"/>
<path d="M829.1,669.2 C845.2,669.2 845.2,697.5 861.4,697.5" fill="none" stroke="#EBAA35" stroke-width="0.8" stroke-opacity="0.8"/>
<path d="M829.1,553.8 C845.2,553.8 845.2,553.8 861.4,553.8 L861.4,636.7 C845.2,636.7 845.2,638.6 829.1,638.6 Z" fill="#e1e1e1" fill-opacity="1.0"/>
<path d="M829.1,557.2 C845.2,557.2 845.2,557.1 861.4,557.1 M829.1,561.1 C845.2,561.1 845.2,560.9 861.4,560.9 M829.1,564.1 C845.2,564.1 845.2,563.8 861.4,563.8 M829.1,566.7 C845.2,566.7 845.2,566.4 861.4,566.4 M829.1,569.9 C845.2,569.9 845.2,569.6 861.4,569.6 M829.1,573.4 C845.2,573.4 845.2,573.0 861.4,573.0 M829.1,576.4 C845.2,576.4 845.2,575.9 861.4,575.9 M829.1,579.6 C845.2,579.6 845.2,579.0 861.4,579.0 M829.1,582.3 C845.2,582.3 845.2,581.7 861.4,581.7 M829.1,586.0 C845.2,586.0 845.2,585.3 861.4,585.3 M829.1,590.6 C845.2,590.6 845.2,589.8 861.4,589.8 M829.1,592.2 C845.2,592.2 845.2,591.4 861.4,591.4 M829.1,596.2 C845.2,596.2 845.2,595.3 861.4,595.3 M829.1,599.7 C845.2,599.7 845.2,598.7 861.4,598.7 M829.1,603.4 C845.2,603.4 845.2,602.3 861.4,602.3 M829.1,605.4 C845.2,605.4 845.2,604.3 861.4,604.3 M829.1,608.8 C845.2,608.8 845.2,607.6 861.4,607.6 M829.1,612.0 C845.2,612.0 845.2,610.7 861.4,610.7 M829.1,615.6 C845.2,615.6 845.2,614.2 861.4,614.2 M829.1,618.9 C845.2,618.9 845.2,617.5 861.4,617.5 M829.1,623.2 C845.2,623.2 845.2,621.6 861.4,621.6 M829.1,626.2 C845.2,626.2 845.2,624.6 861.4,624.6 M829.1,629.5 C845.2,629.5 845.2,627.9 861.4,627.9 M829.1,631.1 C845.2,631.1 845.2,629.4 861.4,629.4 M829.1,634.4 C845.2,634.4 845.2,632.6 861.4,632.6 " fill="none" stroke="#fff" stroke-width="0.55" stroke-opacity="0.85"/>
<path d="M829.1,614.0 C845.2,614.0 845.2,612.6 861.4,612.6" fill="none" stroke="#EBAA35" stroke-width="0.8" stroke-opacity="0.8"/>
<path d="M829.1,629.8 C845.2,629.8 845.2,628.1 861.4,628.1" fill="none" stroke="#EBAA35" stroke-width="0.8" stroke-opacity="0.8"/>
<path d="M829.1,593.9 C845.2,593.9 845.2,593.0 861.4,593.0" fill="none" stroke="#EBAA35" stroke-width="0.8" stroke-opacity="0.8"/>
<path d="M829.1,779.0 C845.2,779.0 845.2,795.8 861.4,795.8 L861.4,802.4 C845.2,802.4 845.2,785.5 829.1,785.5 Z" fill="#e1e1e1" fill-opacity="1.0"/>
<path d="M829.1,782.4 C845.2,782.4 845.2,799.3 861.4,799.3 " fill="none" stroke="#fff" stroke-width="0.55" stroke-opacity="0.85"/>
<path d="M829.1,639.5 C845.2,639.5 845.2,664.8 861.4,664.8 L861.4,678.8 C845.2,678.8 845.2,657.3 829.1,657.3 Z" fill="#EBB03E" fill-opacity="1.0"/>
<path d="M829.1,703.2 C845.2,703.2 845.2,795.8 861.4,795.8 L861.4,751.9 C845.2,751.9 845.2,779.0 829.1,779.0 Z" fill="#EBB03E" fill-opacity="1.0"/>
<path d="M829.1,559.1 C845.2,559.1 845.2,652.2 861.4,652.2" fill="none" stroke="#9AD860" stroke-width="0.7" stroke-opacity="0.5"/>
<path d="M829.1,763.6 C845.2,763.6 845.2,755.3 861.4,755.3" fill="none" stroke="#9AD860" stroke-width="0.7" stroke-opacity="0.5"/>
<path d="M829.1,747.8 C845.2,747.8 845.2,790.2 861.4,790.2" fill="none" stroke="#9AD860" stroke-width="0.7" stroke-opacity="0.5"/>
<path d="M829.1,613.9 C845.2,613.9 845.2,585.0 861.4,585.0" fill="none" stroke="#9AD860" stroke-width="0.7" stroke-opacity="0.5"/>
<path d="M829.1,593.2 C845.2,593.2 845.2,683.3 861.4,683.3" fill="none" stroke="#9AD860" stroke-width="0.7" stroke-opacity="0.5"/>
<path d="M829.1,709.6 C845.2,709.6 845.2,782.9 861.4,782.9" fill="none" stroke="#72D4F0" stroke-width="0.7" stroke-opacity="0.6"/>
<path d="M829.1,718.3 C845.2,718.3 845.2,713.0 861.4,713.0" fill="none" stroke="#72D4F0" stroke-width="0.7" stroke-opacity="0.6"/>
<path d="M863.8,553.8 C880.0,553.8 880.0,553.8 896.1,553.8 L896.1,612.4 C880.0,612.4 880.0,664.8 863.8,664.8 Z" fill="#e1e1e1" fill-opacity="1.0"/>
<path d="M863.8,557.6 C880.0,557.6 880.0,555.8 896.1,555.8 M863.8,560.2 C880.0,560.2 880.0,557.2 896.1,557.2 M863.8,563.7 C880.0,563.7 880.0,559.0 896.1,559.0 M863.8,566.0 C880.0,566.0 880.0,560.2 896.1,560.2 M863.8,570.7 C880.0,570.7 880.0,562.7 896.1,562.7 M863.8,572.9 C880.0,572.9 880.0,563.9 896.1,563.9 M863.8,577.5 C880.0,577.5 880.0,566.3 896.1,566.3 M863.8,580.2 C880.0,580.2 880.0,567.7 896.1,567.7 M863.8,582.8 C880.0,582.8 880.0,569.1 896.1,569.1 M863.8,585.7 C880.0,585.7 880.0,570.6 896.1,570.6 M863.8,589.2 C880.0,589.2 880.0,572.5 896.1,572.5 M863.8,593.2 C880.0,593.2 880.0,574.6 896.1,574.6 M863.8,596.6 C880.0,596.6 880.0,576.4 896.1,576.4 M863.8,598.7 C880.0,598.7 880.0,577.5 896.1,577.5 M863.8,601.9 C880.0,601.9 880.0,579.2 896.1,579.2 M863.8,606.1 C880.0,606.1 880.0,581.4 896.1,581.4 M863.8,609.5 C880.0,609.5 880.0,583.2 896.1,583.2 M863.8,612.3 C880.0,612.3 880.0,584.7 896.1,584.7 M863.8,615.3 C880.0,615.3 880.0,586.3 896.1,586.3 M863.8,619.3 C880.0,619.3 880.0,588.4 896.1,588.4 M863.8,621.4 C880.0,621.4 880.0,589.5 896.1,589.5 M863.8,625.2 C880.0,625.2 880.0,591.5 896.1,591.5 M863.8,628.8 C880.0,628.8 880.0,593.4 896.1,593.4 M863.8,633.1 C880.0,633.1 880.0,595.6 896.1,595.6 M863.8,635.7 C880.0,635.7 880.0,597.0 896.1,597.0 M863.8,639.4 C880.0,639.4 880.0,599.0 896.1,599.0 M863.8,641.9 C880.0,641.9 880.0,600.3 896.1,600.3 M863.8,644.7 C880.0,644.7 880.0,601.8 896.1,601.8 M863.8,648.0 C880.0,648.0 880.0,603.5 896.1,603.5 M863.8,652.6 C880.0,652.6 880.0,606.0 896.1,606.0 M863.8,655.4 C880.0,655.4 880.0,607.4 896.1,607.4 M863.8,657.9 C880.0,657.9 880.0,608.7 896.1,608.7 M863.8,660.6 C880.0,660.6 880.0,610.2 896.1,610.2 " fill="none" stroke="#fff" stroke-width="0.55" stroke-opacity="0.85"/>
<path d="M863.8,609.1 C880.0,609.1 880.0,583.0 896.1,583.0" fill="none" stroke="#EBAA35" stroke-width="0.8" stroke-opacity="0.8"/>
<path d="M863.8,628.7 C880.0,628.7 880.0,593.3 896.1,593.3" fill="none" stroke="#EBAA35" stroke-width="0.8" stroke-opacity="0.8"/>
<path d="M863.8,600.4 C880.0,600.4 880.0,578.4 896.1,578.4" fill="none" stroke="#EBAA35" stroke-width="0.8" stroke-opacity="0.8"/>
<path d="M863.8,582.4 C880.0,582.4 880.0,568.9 896.1,568.9" fill="none" stroke="#EBAA35" stroke-width="0.8" stroke-opacity="0.8"/>
<path d="M863.8,703.2 C880.0,703.2 880.0,669.5 896.1,669.5 L896.1,723.8 C880.0,723.8 880.0,802.4 863.8,802.4 Z" fill="#e1e1e1" fill-opacity="1.0"/>
<path d="M863.8,706.7 C880.0,706.7 880.0,671.4 896.1,671.4 M863.8,710.4 C880.0,710.4 880.0,673.4 896.1,673.4 M863.8,712.3 C880.0,712.3 880.0,674.5 896.1,674.5 M863.8,715.1 C880.0,715.1 880.0,676.0 896.1,676.0 M863.8,718.9 C880.0,718.9 880.0,678.1 896.1,678.1 M863.8,722.2 C880.0,722.2 880.0,679.9 896.1,679.9 M863.8,725.9 C880.0,725.9 880.0,681.9 896.1,681.9 M863.8,728.2 C880.0,728.2 880.0,683.2 896.1,683.2 M863.8,732.6 C880.0,732.6 880.0,685.6 896.1,685.6 M863.8,735.6 C880.0,735.6 880.0,687.2 896.1,687.2 M863.8,738.4 C880.0,738.4 880.0,688.8 896.1,688.8 M863.8,741.0 C880.0,741.0 880.0,690.2 896.1,690.2 M863.8,745.7 C880.0,745.7 880.0,692.7 896.1,692.7 M863.8,747.6 C880.0,747.6 880.0,693.8 896.1,693.8 M863.8,751.8 C880.0,751.8 880.0,696.1 896.1,696.1 M863.8,753.9 C880.0,753.9 880.0,697.2 896.1,697.2 M863.8,757.1 C880.0,757.1 880.0,699.0 896.1,699.0 M863.8,761.3 C880.0,761.3 880.0,701.3 896.1,701.3 M863.8,763.6 C880.0,763.6 880.0,702.5 896.1,702.5 M863.8,768.1 C880.0,768.1 880.0,705.0 896.1,705.0 M863.8,770.4 C880.0,770.4 880.0,706.3 896.1,706.3 M863.8,773.0 C880.0,773.0 880.0,707.7 896.1,707.7 M863.8,776.3 C880.0,776.3 880.0,709.5 896.1,709.5 M863.8,779.8 C880.0,779.8 880.0,711.4 896.1,711.4 M863.8,783.5 C880.0,783.5 880.0,713.4 896.1,713.4 M863.8,787.3 C880.0,787.3 880.0,715.5 896.1,715.5 M863.8,788.9 C880.0,788.9 880.0,716.4 896.1,716.4 M863.8,792.6 C880.0,792.6 880.0,718.4 896.1,718.4 M863.8,795.4 C880.0,795.4 880.0,720.0 896.1,720.0 M863.8,800.1 C880.0,800.1 880.0,722.5 896.1,722.5 " fill="none" stroke="#fff" stroke-width="0.55" stroke-opacity="0.85"/>
<path d="M863.8,717.3 C880.0,717.3 880.0,677.2 896.1,677.2" fill="none" stroke="#EBAA35" stroke-width="0.8" stroke-opacity="0.8"/>
<path d="M863.8,708.3 C880.0,708.3 880.0,672.3 896.1,672.3" fill="none" stroke="#EBAA35" stroke-width="0.8" stroke-opacity="0.8"/>
<path d="M863.8,709.1 C880.0,709.1 880.0,672.7 896.1,672.7" fill="none" stroke="#EBAA35" stroke-width="0.8" stroke-opacity="0.8"/>
<path d="M863.8,613.3 C880.0,613.3 880.0,618.0 896.1,618.0 L896.1,615.2 C880.0,615.2 880.0,617.1 863.8,617.1 Z" fill="#EBB03E" fill-opacity="1.0"/>
<path d="M863.8,647.0 C880.0,647.0 880.0,644.2 896.1,644.2 L896.1,647.0 C880.0,647.0 880.0,655.4 863.8,655.4 Z" fill="#EBB03E" fill-opacity="1.0"/>
<path d="M863.8,664.8 C880.0,664.8 880.0,649.8 896.1,649.8 L896.1,669.5 C880.0,669.5 880.0,703.2 863.8,703.2 Z" fill="#EBB03E" fill-opacity="1.0"/>
<path d="M863.8,652.6 C880.0,652.6 880.0,702.5 896.1,702.5" fill="none" stroke="#9AD860" stroke-width="0.7" stroke-opacity="0.5"/>
<path d="M863.8,769.1 C880.0,769.1 880.0,676.1 896.1,676.1" fill="none" stroke="#9AD860" stroke-width="0.7" stroke-opacity="0.5"/>
<path d="M863.8,796.2 C880.0,796.2 880.0,707.9 896.1,707.9" fill="none" stroke="#9AD860" stroke-width="0.7" stroke-opacity="0.5"/>
<path d="M863.8,637.4 C880.0,637.4 880.0,588.7 896.1,588.7" fill="none" stroke="#9AD860" stroke-width="0.7" stroke-opacity="0.5"/>
<path d="M863.8,781.6 C880.0,781.6 880.0,678.3 896.1,678.3" fill="none" stroke="#9AD860" stroke-width="0.7" stroke-opacity="0.5"/>
<path d="M863.8,566.7 C880.0,566.7 880.0,665.2 896.1,665.2" fill="none" stroke="#72D4F0" stroke-width="0.7" stroke-opacity="0.6"/>
<path d="M863.8,649.1 C880.0,649.1 880.0,618.8 896.1,618.8" fill="none" stroke="#72D4F0" stroke-width="0.7" stroke-opacity="0.6"/>
<path d="M928.7,553.8 C944.9,553.8 944.9,553.8 961.0,553.8 L961.0,618.0 C944.9,618.0 944.9,619.9 928.7,619.9 Z" fill="#e1e1e1" fill-opacity="1.0"/>
<path d="M928.7,556.8 C944.9,556.8 944.9,556.7 961.0,556.7 M928.7,559.8 C944.9,559.8 944.9,559.6 961.0,559.6 M928.7,562.7 C944.9,562.7 944.9,562.5 961.0,562.5 M928.7,566.6 C944.9,566.6 944.9,566.2 961.0,566.2 M928.7,570.0 C944.9,570.0 944.9,569.6 961.0,569.6 M928.7,574.5 C944.9,574.5 944.9,573.9 961.0,573.9 M928.7,576.2 C944.9,576.2 944.9,575.5 961.0,575.5 M928.7,581.2 C944.9,581.2 944.9,580.4 961.0,580.4 M928.7,583.0 C944.9,583.0 944.9,582.1 961.0,582.1 M928.7,586.6 C944.9,586.6 944.9,585.6 961.0,585.6 M928.7,590.8 C944.9,590.8 944.9,589.7 961.0,589.7 M928.7,594.1 C944.9,594.1 944.9,592.9 961.0,592.9 M928.7,596.6 C944.9,596.6 944.9,595.4 961.0,595.4 M928.7,599.2 C944.9,599.2 944.9,597.9 961.0,597.9 M928.7,603.3 C944.9,603.3 944.9,601.9 961.0,601.9 M928.7,606.4 C944.9,606.4 944.9,604.9 961.0,604.9 M928.7,610.8 C944.9,610.8 944.9,609.2 961.0,609.2 M928.7,612.7 C944.9,612.7 944.9,611.0 961.0,611.0 M928.7,616.3 C944.9,616.3 944.9,614.5 961.0,614.5 " fill="none" stroke="#fff" stroke-width="0.55" stroke-opacity="0.85"/>
<path d="M928.7,613.1 C944.9,613.1 944.9,611.4 961.0,611.4" fill="none" stroke="#EBAA35" stroke-width="0.8" stroke-opacity="0.8"/>
<path d="M928.7,555.8 C944.9,555.8 944.9,555.7 961.0,555.7" fill="none" stroke="#EBAA35" stroke-width="0.8" stroke-opacity="0.8"/>
<path d="M928.7,694.8 C944.9,694.8 944.9,745.3 961.0,745.3 L961.0,826.7 C944.9,826.7 944.9,760.3 928.7,760.3 Z" fill="#e1e1e1" fill-opacity="1.0"/>
<path d="M928.7,697.2 C944.9,697.2 944.9,748.4 961.0,748.4 M928.7,700.5 C944.9,700.5 944.9,752.4 961.0,752.4 M928.7,703.0 C944.9,703.0 944.9,755.6 961.0,755.6 M928.7,704.5 C944.9,704.5 944.9,757.4 961.0,757.4 M928.7,707.1 C944.9,707.1 944.9,760.7 961.0,760.7 M928.7,709.8 C944.9,709.8 944.9,764.0 961.0,764.0 M928.7,713.8 C944.9,713.8 944.9,768.9 961.0,768.9 M928.7,715.3 C944.9,715.3 944.9,770.9 961.0,770.9 M928.7,718.7 C944.9,718.7 944.9,775.1 961.0,775.1 M928.7,721.6 C944.9,721.6 944.9,778.7 961.0,778.7 M928.7,723.3 C944.9,723.3 944.9,780.8 961.0,780.8 M928.7,725.8 C944.9,725.8 944.9,783.9 961.0,783.9 M928.7,729.5 C944.9,729.5 944.9,788.5 961.0,788.5 M928.7,731.6 C944.9,731.6 944.9,791.1 961.0,791.1 M928.7,733.7 C944.9,733.7 944.9,793.7 961.0,793.7 M928.7,737.0 C944.9,737.0 944.9,797.8 961.0,797.8 M928.7,739.0 C944.9,739.0 944.9,800.3 961.0,800.3 M928.7,741.6 C944.9,741.6 944.9,803.5 961.0,803.5 M928.7,743.8 C944.9,743.8 944.9,806.2 961.0,806.2 M928.7,747.6 C944.9,747.6 944.9,810.9 961.0,810.9 M928.7,750.4 C944.9,750.4 944.9,814.5 961.0,814.5 M928.7,752.6 C944.9,752.6 944.9,817.2 961.0,817.2 M928.7,755.7 C944.9,755.7 944.9,821.1 961.0,821.1 M928.7,756.9 C944.9,756.9 944.9,822.5 961.0,822.5 " fill="none" stroke="#fff" stroke-width="0.55" stroke-opacity="0.85"/>
<path d="M928.7,710.1 C944.9,710.1 944.9,764.3 961.0,764.3" fill="none" stroke="#EBAA35" stroke-width="0.8" stroke-opacity="0.8"/>
<path d="M928.7,725.9 C944.9,725.9 944.9,784.0 961.0,784.0" fill="none" stroke="#EBAA35" stroke-width="0.8" stroke-opacity="0.8"/>
<path d="M928.7,757.4 C944.9,757.4 944.9,823.2 961.0,823.2" fill="none" stroke="#EBAA35" stroke-width="0.8" stroke-opacity="0.8"/>
<path d="M928.7,593.7 C944.9,593.7 944.9,600.2 961.0,600.2 L961.0,602.1 C944.9,602.1 944.9,595.5 928.7,595.5 Z" fill="#EBB03E" fill-opacity="1.0"/>
<path d="M928.7,619.9 C944.9,619.9 944.9,672.3 961.0,672.3 L961.0,634.9 C944.9,634.9 944.9,654.5 928.7,654.5 Z" fill="#EBB03E" fill-opacity="1.0"/>
<path d="M928.7,662.9 C944.9,662.9 944.9,713.5 961.0,713.5 L961.0,744.4 C944.9,744.4 944.9,694.8 928.7,694.8 Z" fill="#EBB03E" fill-opacity="1.0"/>
<path d="M928.7,745.4 C944.9,745.4 944.9,660.5 961.0,660.5" fill="none" stroke="#9AD860" stroke-width="0.7" stroke-opacity="0.5"/>
<path d="M928.7,608.1 C944.9,608.1 944.9,671.9 961.0,671.9" fill="none" stroke="#9AD860" stroke-width="0.7" stroke-opacity="0.5"/>
<path d="M928.7,655.5 C944.9,655.5 944.9,802.6 961.0,802.6" fill="none" stroke="#9AD860" stroke-width="0.7" stroke-opacity="0.5"/>
<path d="M928.7,594.8 C944.9,594.8 944.9,769.7 961.0,769.7" fill="none" stroke="#9AD860" stroke-width="0.7" stroke-opacity="0.5"/>
<path d="M928.7,703.3 C944.9,703.3 944.9,775.0 961.0,775.0" fill="none" stroke="#9AD860" stroke-width="0.7" stroke-opacity="0.5"/>
<path d="M928.7,710.0 C944.9,710.0 944.9,718.4 961.0,718.4" fill="none" stroke="#72D4F0" stroke-width="0.7" stroke-opacity="0.6"/>
<path d="M928.7,623.1 C944.9,623.1 944.9,642.9 961.0,642.9" fill="none" stroke="#72D4F0" stroke-width="0.7" stroke-opacity="0.6"/>
<path d="M963.4,553.8 C979.6,553.8 979.6,553.8 995.8,553.8 L995.8,616.1 C979.6,616.1 979.6,616.1 963.4,616.1 Z" fill="#e1e1e1" fill-opacity="1.0"/>
<path d="M963.4,556.8 C979.6,556.8 979.6,556.8 995.8,556.8 M963.4,560.9 C979.6,560.9 979.6,560.9 995.8,560.9 M963.4,562.8 C979.6,562.8 979.6,562.8 995.8,562.8 M963.4,566.3 C979.6,566.3 979.6,566.3 995.8,566.3 M963.4,570.7 C979.6,570.7 979.6,570.7 995.8,570.7 M963.4,573.0 C979.6,573.0 979.6,573.0 995.8,573.0 M963.4,575.9 C979.6,575.9 979.6,575.9 995.8,575.9 M963.4,579.1 C979.6,579.1 979.6,579.1 995.8,579.1 M963.4,583.4 C979.6,583.4 979.6,583.4 995.8,583.4 M963.4,586.3 C979.6,586.3 979.6,586.3 995.8,586.3 M963.4,590.8 C979.6,590.8 979.6,590.8 995.8,590.8 M963.4,593.9 C979.6,593.9 979.6,593.9 995.8,593.9 M963.4,597.4 C979.6,597.4 979.6,597.4 995.8,597.4 M963.4,599.3 C979.6,599.3 979.6,599.3 995.8,599.3 M963.4,602.2 C979.6,602.2 979.6,602.2 995.8,602.2 M963.4,605.5 C979.6,605.5 979.6,605.5 995.8,605.5 M963.4,609.6 C979.6,609.6 979.6,609.6 995.8,609.6 M963.4,613.3 C979.6,613.3 979.6,613.3 995.8,613.3 " fill="none" stroke="#fff" stroke-width="0.55" stroke-opacity="0.85"/>
<path d="M963.4,581.7 C979.6,581.7 979.6,581.7 995.8,581.7" fill="none" stroke="#EBAA35" stroke-width="0.8" stroke-opacity="0.8"/>
<path d="M963.4,568.4 C979.6,568.4 979.6,568.4 995.8,568.4" fill="none" stroke="#EBAA35" stroke-width="0.8" stroke-opacity="0.8"/>
<path d="M963.4,744.4 C979.6,744.4 979.6,683.5 995.8,683.5 L995.8,744.4 C979.6,744.4 979.6,826.7 963.4,826.7 Z" fill="#e1e1e1" fill-opacity="1.0"/>
<path d="M963.4,747.5 C979.6,747.5 979.6,685.8 995.8,685.8 M963.4,751.2 C979.6,751.2 979.6,688.6 995.8,688.6 M963.4,754.6 C979.6,754.6 979.6,691.1 995.8,691.1 M963.4,758.0 C979.6,758.0 979.6,693.6 995.8,693.6 M963.4,761.5 C979.6,761.5 979.6,696.2 995.8,696.2 M963.4,764.5 C979.6,764.5 979.6,698.4 995.8,698.4 M963.4,766.7 C979.6,766.7 979.6,700.0 995.8,700.0 M963.4,771.4 C979.6,771.4 979.6,703.5 995.8,703.5 M963.4,773.6 C979.6,773.6 979.6,705.1 995.8,705.1 M963.4,777.4 C979.6,777.4 979.6,708.0 995.8,708.0 M963.4,780.4 C979.6,780.4 979.6,710.1 995.8,710.1 M963.4,784.4 C979.6,784.4 979.6,713.1 995.8,713.1 M963.4,786.6 C979.6,786.6 979.6,714.7 995.8,714.7 M963.4,790.0 C979.6,790.0 979.6,717.2 995.8,717.2 M963.4,793.3 C979.6,793.3 979.6,719.7 995.8,719.7 M963.4,796.4 C979.6,796.4 979.6,722.0 995.8,722.0 M963.4,801.1 C979.6,801.1 979.6,725.5 995.8,725.5 M963.4,803.8 C979.6,803.8 979.6,727.4 995.8,727.4 M963.4,806.6 C979.6,806.6 979.6,729.5 995.8,729.5 M963.4,810.1 C979.6,810.1 979.6,732.0 995.8,732.0 M963.4,814.5 C979.6,814.5 979.6,735.3 995.8,735.3 M963.4,816.9 C979.6,816.9 979.6,737.1 995.8,737.1 M963.4,819.6 C979.6,819.6 979.6,739.1 995.8,739.1 M963.4,824.0 C979.6,824.0 979.6,742.4 995.8,742.4 " fill="none" stroke="#fff" stroke-width="0.55" stroke-opacity="0.85"/>
<path d="M963.4,798.2 C979.6,798.2 979.6,723.3 995.8,723.3" fill="none" stroke="#EBAA35" stroke-width="0.8" stroke-opacity="0.8"/>
<path d="M963.4,826.0 C979.6,826.0 979.6,743.8 995.8,743.8" fill="none" stroke="#EBAA35" stroke-width="0.8" stroke-opacity="0.8"/>
<path d="M963.4,752.8 C979.6,752.8 979.6,689.8 995.8,689.8" fill="none" stroke="#EBAA35" stroke-width="0.8" stroke-opacity="0.8"/>
<path d="M963.4,713.5 C979.6,713.5 979.6,664.8 995.8,664.8 L995.8,683.5 C979.6,683.5 979.6,744.4 963.4,744.4 Z" fill="#EBB03E" fill-opacity="1.0"/>
<path d="M963.4,683.7 C979.6,683.7 979.6,706.6 995.8,706.6" fill="none" stroke="#9AD860" stroke-width="0.7" stroke-opacity="0.5"/>
<path d="M963.4,779.7 C979.6,779.7 979.6,723.8 995.8,723.8" fill="none" stroke="#9AD860" stroke-width="0.7" stroke-opacity="0.5"/>
<path d="M963.4,569.7 C979.6,569.7 979.6,612.0 995.8,612.0" fill="none" stroke="#9AD860" stroke-width="0.7" stroke-opacity="0.5"/>
<path d="M963.4,590.4 C979.6,590.4 979.6,593.2 995.8,593.2" fill="none" stroke="#9AD860" stroke-width="0.7" stroke-opacity="0.5"/>
<path d="M963.4,814.4 C979.6,814.4 979.6,664.1 995.8,664.1" fill="none" stroke="#9AD860" stroke-width="0.7" stroke-opacity="0.5"/>
<path d="M963.4,803.2 C979.6,803.2 979.6,626.1 995.8,626.1" fill="none" stroke="#72D4F0" stroke-width="0.7" stroke-opacity="0.6"/>
<path d="M963.4,786.4 C979.6,786.4 979.6,640.0 995.8,640.0" fill="none" stroke="#72D4F0" stroke-width="0.7" stroke-opacity="0.6"/>
<path d="M1028.4,659.6 C1044.5,659.6 1044.5,659.8 1060.7,659.8 L1060.7,732.2 C1044.5,732.2 1044.5,676.0 1028.4,676.0 Z" fill="#e1e1e1" fill-opacity="0.55"/>
<path d="M1028.4,660.2 C1044.5,660.2 1044.5,662.6 1060.7,662.6 M1028.4,661.2 C1044.5,661.2 1044.5,666.9 1060.7,666.9 M1028.4,662.0 C1044.5,662.0 1044.5,670.5 1060.7,670.5 M1028.4,662.4 C1044.5,662.4 1044.5,672.1 1060.7,672.1 M1028.4,663.4 C1044.5,663.4 1044.5,676.4 1060.7,676.4 M1028.4,664.1 C1044.5,664.1 1044.5,679.7 1060.7,679.7 M1028.4,664.7 C1044.5,664.7 1044.5,682.2 1060.7,682.2 M1028.4,665.5 C1044.5,665.5 1044.5,685.8 1060.7,685.8 M1028.4,666.1 C1044.5,666.1 1044.5,688.7 1060.7,688.7 M1028.4,666.9 C1044.5,666.9 1044.5,692.1 1060.7,692.1 M1028.4,667.7 C1044.5,667.7 1044.5,695.5 1060.7,695.5 M1028.4,668.6 C1044.5,668.6 1044.5,699.5 1060.7,699.5 M1028.4,669.4 C1044.5,669.4 1044.5,702.9 1060.7,702.9 M1028.4,669.9 C1044.5,669.9 1044.5,705.3 1060.7,705.3 M1028.4,670.6 C1044.5,670.6 1044.5,708.2 1060.7,708.2 M1028.4,671.5 C1044.5,671.5 1044.5,712.1 1060.7,712.1 M1028.4,672.4 C1044.5,672.4 1044.5,716.1 1060.7,716.1 M1028.4,672.9 C1044.5,672.9 1044.5,718.4 1060.7,718.4 M1028.4,673.7 C1044.5,673.7 1044.5,721.9 1060.7,721.9 M1028.4,674.4 C1044.5,674.4 1044.5,725.0 1060.7,725.0 M1028.4,675.4 C1044.5,675.4 1044.5,729.5 1060.7,729.5 " fill="none" stroke="#fff" stroke-width="0.55" stroke-opacity="0.85"/>
<path d="M1028.4,668.6 C1044.5,668.6 1044.5,699.5 1060.7,699.5" fill="none" stroke="#EBAA35" stroke-width="0.8" stroke-opacity="0.8"/>
<path d="M1028.4,660.6 C1044.5,660.6 1044.5,664.3 1060.7,664.3" fill="none" stroke="#EBAA35" stroke-width="0.8" stroke-opacity="0.8"/>
<path d="M1028.4,553.8 C1044.5,553.8 1044.5,553.8 1060.7,553.8 L1060.7,659.6 C1044.5,659.6 1044.5,657.3 1028.4,657.3 Z" fill="#e1e1e1" fill-opacity="1.0"/>
<path d="M1028.4,556.2 C1044.5,556.2 1044.5,556.2 1060.7,556.2 M1028.4,559.9 C1044.5,559.9 1044.5,560.0 1060.7,560.0 M1028.4,563.3 C1044.5,563.3 1044.5,563.5 1060.7,563.5 M1028.4,566.6 C1044.5,566.6 1044.5,566.9 1060.7,566.9 M1028.4,568.7 C1044.5,568.7 1044.5,569.0 1060.7,569.0 M1028.4,572.0 C1044.5,572.0 1044.5,572.4 1060.7,572.4 M1028.4,576.1 C1044.5,576.1 1044.5,576.6 1060.7,576.6 M1028.4,578.7 C1044.5,578.7 1044.5,579.3 1060.7,579.3 M1028.4,581.6 C1044.5,581.6 1044.5,582.2 1060.7,582.2 M1028.4,584.8 C1044.5,584.8 1044.5,585.5 1060.7,585.5 M1028.4,589.2 C1044.5,589.2 1044.5,589.9 1060.7,589.9 M1028.4,591.1 C1044.5,591.1 1044.5,591.9 1060.7,591.9 M1028.4,594.7 C1044.5,594.7 1044.5,595.6 1060.7,595.6 M1028.4,597.4 C1044.5,597.4 1044.5,598.4 1060.7,598.4 M1028.4,600.7 C1044.5,600.7 1044.5,601.7 1060.7,601.7 M1028.4,604.7 C1044.5,604.7 1044.5,605.8 1060.7,605.8 M1028.4,608.1 C1044.5,608.1 1044.5,609.2 1060.7,609.2 M1028.4,610.0 C1044.5,610.0 1044.5,611.2 1060.7,611.2 M1028.4,612.8 C1044.5,612.8 1044.5,614.1 1060.7,614.1 M1028.4,617.0 C1044.5,617.0 1044.5,618.3 1060.7,618.3 M1028.4,619.1 C1044.5,619.1 1044.5,620.5 1060.7,620.5 M1028.4,621.9 C1044.5,621.9 1044.5,623.4 1060.7,623.4 M1028.4,626.7 C1044.5,626.7 1044.5,628.3 1060.7,628.3 M1028.4,628.9 C1044.5,628.9 1044.5,630.6 1060.7,630.6 M1028.4,632.8 C1044.5,632.8 1044.5,634.5 1060.7,634.5 M1028.4,635.2 C1044.5,635.2 1044.5,636.9 1060.7,636.9 M1028.4,639.2 C1044.5,639.2 1044.5,641.1 1060.7,641.1 M1028.4,641.6 C1044.5,641.6 1044.5,643.5 1060.7,643.5 M1028.4,644.1 C1044.5,644.1 1044.5,646.1 1060.7,646.1 M1028.4,647.0 C1044.5,647.0 1044.5,649.0 1060.7,649.0 M1028.4,651.1 C1044.5,651.1 1044.5,653.3 1060.7,653.3 M1028.4,654.4 C1044.5,654.4 1044.5,656.6 1060.7,656.6 " fill="none" stroke="#fff" stroke-width="0.55" stroke-opacity="0.85"/>
<path d="M1028.4,648.0 C1044.5,648.0 1044.5,650.0 1060.7,650.0" fill="none" stroke="#EBAA35" stroke-width="0.8" stroke-opacity="0.8"/>
<path d="M1028.4,563.0 C1044.5,563.0 1044.5,563.2 1060.7,563.2" fill="none" stroke="#EBAA35" stroke-width="0.8" stroke-opacity="0.8"/>
<path d="M1028.4,618.2 C1044.5,618.2 1044.5,619.6 1060.7,619.6" fill="none" stroke="#EBAA35" stroke-width="0.8" stroke-opacity="0.8"/>
<path d="M1028.4,592.2 C1044.5,592.2 1044.5,593.0 1060.7,593.0" fill="none" stroke="#EBAA35" stroke-width="0.8" stroke-opacity="0.8"/>
<path d="M1028.4,678.3 C1044.5,678.3 1044.5,732.2 1060.7,732.2 L1060.7,859.5 C1044.5,859.5 1044.5,763.1 1028.4,763.1 Z" fill="#e1e1e1" fill-opacity="1.0"/>
<path d="M1028.4,680.5 C1044.5,680.5 1044.5,735.5 1060.7,735.5 M1028.4,682.2 C1044.5,682.2 1044.5,738.0 1060.7,738.0 M1028.4,684.5 C1044.5,684.5 1044.5,741.6 1060.7,741.6 M1028.4,687.0 C1044.5,687.0 1044.5,745.3 1060.7,745.3 M1028.4,689.7 C1044.5,689.7 1044.5,749.3 1060.7,749.3 M1028.4,690.8 C1044.5,690.8 1044.5,751.0 1060.7,751.0 M1028.4,693.5 C1044.5,693.5 1044.5,755.0 1060.7,755.0 M1028.4,696.1 C1044.5,696.1 1044.5,758.9 1060.7,758.9 M1028.4,698.5 C1044.5,698.5 1044.5,762.5 1060.7,762.5 M1028.4,699.6 C1044.5,699.6 1044.5,764.2 1060.7,764.2 M1028.4,701.7 C1044.5,701.7 1044.5,767.4 1060.7,767.4 M1028.4,705.0 C1044.5,705.0 1044.5,772.2 1060.7,772.2 M1028.4,707.2 C1044.5,707.2 1044.5,775.6 1060.7,775.6 M1028.4,708.7 C1044.5,708.7 1044.5,777.9 1060.7,777.9 M1028.4,710.3 C1044.5,710.3 1044.5,780.3 1060.7,780.3 M1028.4,713.6 C1044.5,713.6 1044.5,785.3 1060.7,785.3 M1028.4,715.1 C1044.5,715.1 1044.5,787.5 1060.7,787.5 M1028.4,717.9 C1044.5,717.9 1044.5,791.7 1060.7,791.7 M1028.4,719.8 C1044.5,719.8 1044.5,794.4 1060.7,794.4 M1028.4,722.2 C1044.5,722.2 1044.5,798.1 1060.7,798.1 M1028.4,723.5 C1044.5,723.5 1044.5,800.1 1060.7,800.1 M1028.4,726.5 C1044.5,726.5 1044.5,804.6 1060.7,804.6 M1028.4,727.9 C1044.5,727.9 1044.5,806.7 1060.7,806.7 M1028.4,730.3 C1044.5,730.3 1044.5,810.3 1060.7,810.3 M1028.4,733.1 C1044.5,733.1 1044.5,814.5 1060.7,814.5 M1028.4,735.2 C1044.5,735.2 1044.5,817.7 1060.7,817.7 M1028.4,736.6 C1044.5,736.6 1044.5,819.7 1060.7,819.7 M1028.4,738.8 C1044.5,738.8 1044.5,823.0 1060.7,823.0 M1028.4,741.2 C1044.5,741.2 1044.5,826.7 1060.7,826.7 M1028.4,743.5 C1044.5,743.5 1044.5,830.1 1060.7,830.1 M1028.4,745.5 C1044.5,745.5 1044.5,833.1 1060.7,833.1 M1028.4,747.4 C1044.5,747.4 1044.5,835.9 1060.7,835.9 M1028.4,749.7 C1044.5,749.7 1044.5,839.4 1060.7,839.4 M1028.4,752.5 C1044.5,752.5 1044.5,843.6 1060.7,843.6 M1028.4,754.9 C1044.5,754.9 1044.5,847.2 1060.7,847.2 M1028.4,756.0 C1044.5,756.0 1044.5,848.8 1060.7,848.8 M1028.4,758.8 C1044.5,758.8 1044.5,853.1 1060.7,853.1 M1028.4,761.2 C1044.5,761.2 1044.5,856.7 1060.7,856.7 " fill="none" stroke="#fff" stroke-width="0.55" stroke-opacity="0.85"/>
<path d="M1028.4,681.5 C1044.5,681.5 1044.5,737.0 1060.7,737.0" fill="none" stroke="#EBAA35" stroke-width="0.8" stroke-opacity="0.8"/>
<path d="M1028.4,749.4 C1044.5,749.4 1044.5,838.9 1060.7,838.9" fill="none" stroke="#EBAA35" stroke-width="0.8" stroke-opacity="0.8"/>
<path d="M1028.4,688.3 C1044.5,688.3 1044.5,747.2 1060.7,747.2" fill="none" stroke="#EBAA35" stroke-width="0.8" stroke-opacity="0.8"/>
<path d="M1028.4,729.1 C1044.5,729.1 1044.5,808.5 1060.7,808.5" fill="none" stroke="#EBAA35" stroke-width="0.8" stroke-opacity="0.8"/>
<path d="M1028.4,724.9 C1044.5,724.9 1044.5,802.2 1060.7,802.2" fill="none" stroke="#EBAA35" stroke-width="0.8" stroke-opacity="0.8"/>
<path d="M1028.4,657.3 C1044.5,657.3 1044.5,658.6 1060.7,658.6 L1060.7,659.8 C1044.5,659.8 1044.5,658.4 1028.4,658.4 Z" fill="#EBB03E" fill-opacity="1.0"/>
<path d="M1028.4,676.0 C1044.5,676.0 1044.5,680.7 1060.7,680.7 L1060.7,687.3 C1044.5,687.3 1044.5,678.3 1028.4,678.3 Z" fill="#EBB03E" fill-opacity="1.0"/>
<path d="M1028.4,684.0 C1044.5,684.0 1044.5,649.5 1060.7,649.5" fill="none" stroke="#9AD860" stroke-width="0.7" stroke-opacity="0.5"/>
<path d="M1028.4,642.8 C1044.5,642.8 1044.5,731.1 1060.7,731.1" fill="none" stroke="#9AD860" stroke-width="0.7" stroke-opacity="0.5"/>
<path d="M1028.4,643.9 C1044.5,643.9 1044.5,753.7 1060.7,753.7" fill="none" stroke="#9AD860" stroke-width="0.7" stroke-opacity="0.5"/>
<path d="M1028.4,648.1 C1044.5,648.1 1044.5,688.5 1060.7,688.5" fill="none" stroke="#9AD860" stroke-width="0.7" stroke-opacity="0.5"/>
<path d="M1028.4,563.8 C1044.5,563.8 1044.5,741.9 1060.7,741.9" fill="none" stroke="#9AD860" stroke-width="0.7" stroke-opacity="0.5"/>
<path d="M1028.4,656.6 C1044.5,656.6 1044.5,628.6 1060.7,628.6" fill="none" stroke="#72D4F0" stroke-width="0.7" stroke-opacity="0.6"/>
<path d="M1028.4,711.2 C1044.5,711.2 1044.5,789.4 1060.7,789.4" fill="none" stroke="#72D4F0" stroke-width="0.7" stroke-opacity="0.6"/>
<path d="M1063.1,659.6 C1079.2,659.6 1079.2,659.6 1095.5,659.6 L1095.5,664.8 C1079.2,664.8 1079.2,709.7 1063.1,709.7 Z" fill="#e1e1e1" fill-opacity="0.55"/>
<path d="M1063.1,662.8 C1079.2,662.8 1079.2,659.9 1095.5,659.9 M1063.1,665.6 C1079.2,665.6 1079.2,660.2 1095.5,660.2 M1063.1,669.5 C1079.2,669.5 1079.2,660.6 1095.5,660.6 M1063.1,672.2 C1079.2,672.2 1079.2,660.9 1095.5,660.9 M1063.1,675.5 C1079.2,675.5 1079.2,661.2 1095.5,661.2 M1063.1,679.5 C1079.2,679.5 1079.2,661.6 1095.5,661.6 M1063.1,682.2 C1079.2,682.2 1079.2,661.9 1095.5,661.9 M1063.1,686.2 C1079.2,686.2 1079.2,662.3 1095.5,662.3 M1063.1,689.7 C1079.2,689.7 1079.2,662.7 1095.5,662.7 M1063.1,692.1 C1079.2,692.1 1079.2,663.0 1095.5,663.0 M1063.1,696.6 C1079.2,696.6 1079.2,663.4 1095.5,663.4 M1063.1,698.9 C1079.2,698.9 1079.2,663.7 1095.5,663.7 M1063.1,703.5 C1079.2,703.5 1079.2,664.2 1095.5,664.2 M1063.1,706.9 C1079.2,706.9 1079.2,664.5 1095.5,664.5 " fill="none" stroke="#fff" stroke-width="0.55" stroke-opacity="0.85"/>
<path d="M1063.1,685.2 C1079.2,685.2 1079.2,662.2 1095.5,662.2" fill="none" stroke="#EBAA35" stroke-width="0.8" stroke-opacity="0.8"/>
<path d="M1063.1,662.3 C1079.2,662.3 1079.2,659.8 1095.5,659.8" fill="none" stroke="#EBAA35" stroke-width="0.8" stroke-opacity="0.8"/>
<path d="M1063.1,553.8 C1079.2,553.8 1079.2,553.8 1095.5,553.8 L1095.5,644.2 C1079.2,644.2 1079.2,657.3 1063.1,657.3 Z" fill="#e1e1e1" fill-opacity="1.0"/>
<path d="M1063.1,557.0 C1079.2,557.0 1079.2,556.6 1095.5,556.6 M1063.1,560.0 C1079.2,560.0 1079.2,559.2 1095.5,559.2 M1063.1,564.4 C1079.2,564.4 1079.2,563.0 1095.5,563.0 M1063.1,566.0 C1079.2,566.0 1079.2,564.5 1095.5,564.5 M1063.1,570.7 C1079.2,570.7 1079.2,568.5 1095.5,568.5 M1063.1,574.2 C1079.2,574.2 1079.2,571.6 1095.5,571.6 M1063.1,576.9 C1079.2,576.9 1079.2,574.0 1095.5,574.0 M1063.1,580.3 C1079.2,580.3 1079.2,576.9 1095.5,576.9 M1063.1,582.3 C1079.2,582.3 1079.2,578.7 1095.5,578.7 M1063.1,587.1 C1079.2,587.1 1079.2,582.9 1095.5,582.9 M1063.1,589.4 C1079.2,589.4 1079.2,584.9 1095.5,584.9 M1063.1,593.5 C1079.2,593.5 1079.2,588.5 1095.5,588.5 M1063.1,596.7 C1079.2,596.7 1079.2,591.2 1095.5,591.2 M1063.1,598.4 C1079.2,598.4 1079.2,592.8 1095.5,592.8 M1063.1,602.9 C1079.2,602.9 1079.2,596.7 1095.5,596.7 M1063.1,606.4 C1079.2,606.4 1079.2,599.7 1095.5,599.7 M1063.1,607.9 C1079.2,607.9 1079.2,601.1 1095.5,601.1 M1063.1,611.7 C1079.2,611.7 1079.2,604.4 1095.5,604.4 M1063.1,615.8 C1079.2,615.8 1079.2,607.9 1095.5,607.9 M1063.1,617.8 C1079.2,617.8 1079.2,609.7 1095.5,609.7 M1063.1,622.5 C1079.2,622.5 1079.2,613.8 1095.5,613.8 M1063.1,624.5 C1079.2,624.5 1079.2,615.6 1095.5,615.6 M1063.1,628.8 C1079.2,628.8 1079.2,619.3 1095.5,619.3 M1063.1,630.7 C1079.2,630.7 1079.2,621.0 1095.5,621.0 M1063.1,634.7 C1079.2,634.7 1079.2,624.4 1095.5,624.4 M1063.1,638.7 C1079.2,638.7 1079.2,628.0 1095.5,628.0 M1063.1,640.6 C1079.2,640.6 1079.2,629.6 1095.5,629.6 M1063.1,643.9 C1079.2,643.9 1079.2,632.5 1095.5,632.5 M1063.1,647.6 C1079.2,647.6 1079.2,635.7 1095.5,635.7 M1063.1,650.5 C1079.2,650.5 1079.2,638.3 1095.5,638.3 M1063.1,653.2 C1079.2,653.2 1079.2,640.6 1095.5,640.6 " fill="none" stroke="#fff" stroke-width="0.55" stroke-opacity="0.85"/>
<path d="M1063.1,572.6 C1079.2,572.6 1079.2,570.3 1095.5,570.3" fill="none" stroke="#EBAA35" stroke-width="0.8" stroke-opacity="0.8"/>
<path d="M1063.1,570.5 C1079.2,570.5 1079.2,568.4 1095.5,568.4" fill="none" stroke="#EBAA35" stroke-width="0.8" stroke-opacity="0.8"/>
<path d="M1063.1,650.7 C1079.2,650.7 1079.2,638.5 1095.5,638.5" fill="none" stroke="#EBAA35" stroke-width="0.8" stroke-opacity="0.8"/>
<path d="M1063.1,624.2 C1079.2,624.2 1079.2,615.3 1095.5,615.3" fill="none" stroke="#EBAA35" stroke-width="0.8" stroke-opacity="0.8"/>
<path d="M1063.1,709.7 C1079.2,709.7 1079.2,661.1 1095.5,661.1 L1095.5,762.1 C1079.2,762.1 1079.2,859.5 1063.1,859.5 Z" fill="#e1e1e1" fill-opacity="1.0"/>
<path d="M1063.1,713.8 C1079.2,713.8 1079.2,663.8 1095.5,663.8 M1063.1,715.6 C1079.2,715.6 1079.2,665.0 1095.5,665.0 M1063.1,720.1 C1079.2,720.1 1079.2,668.0 1095.5,668.0 M1063.1,722.0 C1079.2,722.0 1079.2,669.3 1095.5,669.3 M1063.1,726.1 C1079.2,726.1 1079.2,672.1 1095.5,672.1 M1063.1,729.5 C1079.2,729.5 1079.2,674.4 1095.5,674.4 M1063.1,732.2 C1079.2,732.2 1079.2,676.3 1095.5,676.3 M1063.1,736.5 C1079.2,736.5 1079.2,679.1 1095.5,679.1 M1063.1,739.1 C1079.2,739.1 1079.2,680.9 1095.5,680.9 M1063.1,742.4 C1079.2,742.4 1079.2,683.1 1095.5,683.1 M1063.1,746.3 C1079.2,746.3 1079.2,685.7 1095.5,685.7 M1063.1,748.0 C1079.2,748.0 1079.2,686.9 1095.5,686.9 M1063.1,753.0 C1079.2,753.0 1079.2,690.3 1095.5,690.3 M1063.1,755.6 C1079.2,755.6 1079.2,692.0 1095.5,692.0 M1063.1,758.4 C1079.2,758.4 1079.2,693.9 1095.5,693.9 M1063.1,762.4 C1079.2,762.4 1079.2,696.6 1095.5,696.6 M1063.1,764.6 C1079.2,764.6 1079.2,698.1 1095.5,698.1 M1063.1,769.3 C1079.2,769.3 1079.2,701.3 1095.5,701.3 M1063.1,771.7 C1079.2,771.7 1079.2,702.9 1095.5,702.9 M1063.1,774.6 C1079.2,774.6 1079.2,704.8 1095.5,704.8 M1063.1,778.6 C1079.2,778.6 1079.2,707.6 1095.5,707.6 M1063.1,781.2 C1079.2,781.2 1079.2,709.3 1095.5,709.3 M1063.1,784.0 C1079.2,784.0 1079.2,711.2 1095.5,711.2 M1063.1,788.3 C1079.2,788.3 1079.2,714.1 1095.5,714.1 M1063.1,790.2 C1079.2,790.2 1079.2,715.4 1095.5,715.4 M1063.1,795.0 C1079.2,795.0 1079.2,718.6 1095.5,718.6 M1063.1,797.2 C1079.2,797.2 1079.2,720.1 1095.5,720.1 M1063.1,801.2 C1079.2,801.2 1079.2,722.8 1095.5,722.8 M1063.1,805.1 C1079.2,805.1 1079.2,725.4 1095.5,725.4 M1063.1,807.6 C1079.2,807.6 1079.2,727.1 1095.5,727.1 M1063.1,811.0 C1079.2,811.0 1079.2,729.4 1095.5,729.4 M1063.1,813.5 C1079.2,813.5 1079.2,731.1 1095.5,731.1 M1063.1,816.2 C1079.2,816.2 1079.2,732.9 1095.5,732.9 M1063.1,819.5 C1079.2,819.5 1079.2,735.2 1095.5,735.2 M1063.1,823.0 C1079.2,823.0 1079.2,737.5 1095.5,737.5 M1063.1,827.2 C1079.2,827.2 1079.2,740.3 1095.5,740.3 M1063.1,830.1 C1079.2,830.1 1079.2,742.3 1095.5,742.3 M1063.1,833.5 C1079.2,833.5 1079.2,744.6 1095.5,744.6 M1063.1,837.5 C1079.2,837.5 1079.2,747.3 1095.5,747.3 M1063.1,839.2 C1079.2,839.2 1079.2,748.5 1095.5,748.5 M1063.1,842.7 C1079.2,842.7 1079.2,750.8 1095.5,750.8 M1063.1,846.8 C1079.2,846.8 1079.2,753.6 1095.5,753.6 M1063.1,848.8 C1079.2,848.8 1079.2,754.9 1095.5,754.9 M1063.1,852.0 C1079.2,852.0 1079.2,757.1 1095.5,757.1 M1063.1,856.0 C1079.2,856.0 1079.2,759.8 1095.5,759.8 " fill="none" stroke="#fff" stroke-width="0.55" stroke-opacity="0.85"/>
<path d="M1063.1,725.7 C1079.2,725.7 1079.2,671.8 1095.5,671.8" fill="none" stroke="#EBAA35" stroke-width="0.8" stroke-opacity="0.8"/>
<path d="M1063.1,763.2 C1079.2,763.2 1079.2,697.2 1095.5,697.2" fill="none" stroke="#EBAA35" stroke-width="0.8" stroke-opacity="0.8"/>
<path d="M1063.1,743.3 C1079.2,743.3 1079.2,683.7 1095.5,683.7" fill="none" stroke="#EBAA35" stroke-width="0.8" stroke-opacity="0.8"/>
<path d="M1063.1,797.1 C1079.2,797.1 1079.2,720.1 1095.5,720.1" fill="none" stroke="#EBAA35" stroke-width="0.8" stroke-opacity="0.8"/>
<path d="M1063.1,798.0 C1079.2,798.0 1079.2,720.6 1095.5,720.6" fill="none" stroke="#EBAA35" stroke-width="0.8" stroke-opacity="0.8"/>
<path d="M1063.1,656.9 C1079.2,656.9 1079.2,645.1 1095.5,645.1 L1095.5,659.6 C1079.2,659.6 1079.2,659.6 1063.1,659.6 Z" fill="#EBB03E" fill-opacity="1.0"/>
<path d="M1063.1,619.4 C1079.2,619.4 1079.2,682.4 1095.5,682.4" fill="none" stroke="#9AD860" stroke-width="0.7" stroke-opacity="0.5"/>
<path d="M1063.1,699.3 C1079.2,699.3 1079.2,585.7 1095.5,585.7" fill="none" stroke="#9AD860" stroke-width="0.7" stroke-opacity="0.5"/>
<path d="M1063.1,835.7 C1079.2,835.7 1079.2,607.2 1095.5,607.2" fill="none" stroke="#9AD860" stroke-width="0.7" stroke-opacity="0.5"/>
<path d="M1063.1,603.2 C1079.2,603.2 1079.2,578.0 1095.5,578.0" fill="none" stroke="#9AD860" stroke-width="0.7" stroke-opacity="0.5"/>
<path d="M1063.1,747.6 C1079.2,747.6 1079.2,731.3 1095.5,731.3" fill="none" stroke="#9AD860" stroke-width="0.7" stroke-opacity="0.5"/>
<path d="M1063.1,790.1 C1079.2,790.1 1079.2,638.5 1095.5,638.5" fill="none" stroke="#72D4F0" stroke-width="0.7" stroke-opacity="0.6"/>
<path d="M1063.1,637.1 C1079.2,637.1 1079.2,561.4 1095.5,561.4" fill="none" stroke="#72D4F0" stroke-width="0.7" stroke-opacity="0.6"/>
<path d="M1128.0,625.5 C1144.2,625.5 1144.2,647.0 1160.3,647.0 L1160.3,706.0 C1144.2,706.0 1144.2,646.1 1128.0,646.1 Z" fill="#e1e1e1" fill-opacity="0.55"/>
<path d="M1128.0,626.7 C1144.2,626.7 1144.2,650.6 1160.3,650.6 M1128.0,627.8 C1144.2,627.8 1144.2,653.7 1160.3,653.7 M1128.0,628.8 C1144.2,628.8 1144.2,656.6 1160.3,656.6 M1128.0,630.2 C1144.2,630.2 1144.2,660.4 1160.3,660.4 M1128.0,631.2 C1144.2,631.2 1144.2,663.3 1160.3,663.3 M1128.0,632.7 C1144.2,632.7 1144.2,667.5 1160.3,667.5 M1128.0,633.7 C1144.2,633.7 1144.2,670.4 1160.3,670.4 M1128.0,634.5 C1144.2,634.5 1144.2,672.7 1160.3,672.7 M1128.0,636.1 C1144.2,636.1 1144.2,677.3 1160.3,677.3 M1128.0,636.6 C1144.2,636.6 1144.2,678.9 1160.3,678.9 M1128.0,638.1 C1144.2,638.1 1144.2,683.1 1160.3,683.1 M1128.0,639.2 C1144.2,639.2 1144.2,686.1 1160.3,686.1 M1128.0,640.2 C1144.2,640.2 1144.2,689.1 1160.3,689.1 M1128.0,641.2 C1144.2,641.2 1144.2,692.0 1160.3,692.0 M1128.0,642.8 C1144.2,642.8 1144.2,696.7 1160.3,696.7 M1128.0,643.5 C1144.2,643.5 1144.2,698.5 1160.3,698.5 M1128.0,645.0 C1144.2,645.0 1144.2,702.8 1160.3,702.8 " fill="none" stroke="#fff" stroke-width="0.55" stroke-opacity="0.85"/>
<path d="M1128.0,644.9 C1144.2,644.9 1144.2,702.5 1160.3,702.5" fill="none" stroke="#EBAA35" stroke-width="0.8" stroke-opacity="0.8"/>
<path d="M1128.0,628.4 C1144.2,628.4 1144.2,655.4 1160.3,655.4" fill="none" stroke="#EBAA35" stroke-width="0.8" stroke-opacity="0.8"/>
<path d="M1128.0,553.8 C1144.2,553.8 1144.2,553.8 1160.3,553.8 L1160.3,593.7 C1144.2,593.7 1144.2,593.7 1128.0,593.7 Z" fill="#e1e1e1" fill-opacity="1.0"/>
<path d="M1128.0,556.5 C1144.2,556.5 1144.2,556.5 1160.3,556.5 M1128.0,560.7 C1144.2,560.7 1144.2,560.7 1160.3,560.7 M1128.0,563.8 C1144.2,563.8 1144.2,563.8 1160.3,563.8 M1128.0,567.4 C1144.2,567.4 1144.2,567.4 1160.3,567.4 M1128.0,571.0 C1144.2,571.0 1144.2,571.0 1160.3,571.0 M1128.0,573.1 C1144.2,573.1 1144.2,573.1 1160.3,573.1 M1128.0,576.7 C1144.2,576.7 1144.2,576.7 1160.3,576.7 M1128.0,580.0 C1144.2,580.0 1144.2,580.0 1160.3,580.0 M1128.0,582.8 C1144.2,582.8 1144.2,582.8 1160.3,582.8 M1128.0,587.8 C1144.2,587.8 1144.2,587.8 1160.3,587.8 M1128.0,590.9 C1144.2,590.9 1144.2,590.9 1160.3,590.9 " fill="none" stroke="#fff" stroke-width="0.55" stroke-opacity="0.85"/>
<path d="M1128.0,582.3 C1144.2,582.3 1144.2,582.3 1160.3,582.3" fill="none" stroke="#EBAA35" stroke-width="0.8" stroke-opacity="0.8"/>
<path d="M1128.0,596.5 C1144.2,596.5 1144.2,599.3 1160.3,599.3 L1160.3,613.3 C1144.2,613.3 1144.2,605.8 1128.0,605.8 Z" fill="#e1e1e1" fill-opacity="1.0"/>
<path d="M1128.0,598.1 C1144.2,598.1 1144.2,601.8 1160.3,601.8 M1128.0,601.6 C1144.2,601.6 1144.2,607.0 1160.3,607.0 M1128.0,603.8 C1144.2,603.8 1144.2,610.3 1160.3,610.3 " fill="none" stroke="#fff" stroke-width="0.55" stroke-opacity="0.85"/>
<path d="M1128.0,668.5 C1144.2,668.5 1144.2,735.9 1160.3,735.9 L1160.3,799.6 C1144.2,799.6 1144.2,721.9 1128.0,721.9 Z" fill="#e1e1e1" fill-opacity="1.0"/>
<path d="M1128.0,671.3 C1144.2,671.3 1144.2,739.2 1160.3,739.2 M1128.0,674.6 C1144.2,674.6 1144.2,743.1 1160.3,743.1 M1128.0,676.9 C1144.2,676.9 1144.2,745.9 1160.3,745.9 M1128.0,679.3 C1144.2,679.3 1144.2,748.8 1160.3,748.8 M1128.0,681.9 C1144.2,681.9 1144.2,751.9 1160.3,751.9 M1128.0,684.9 C1144.2,684.9 1144.2,755.5 1160.3,755.5 M1128.0,687.4 C1144.2,687.4 1144.2,758.5 1160.3,758.5 M1128.0,690.7 C1144.2,690.7 1144.2,762.4 1160.3,762.4 M1128.0,694.2 C1144.2,694.2 1144.2,766.6 1160.3,766.6 M1128.0,697.0 C1144.2,697.0 1144.2,769.8 1160.3,769.8 M1128.0,700.0 C1144.2,700.0 1144.2,773.5 1160.3,773.5 M1128.0,702.6 C1144.2,702.6 1144.2,776.6 1160.3,776.6 M1128.0,704.7 C1144.2,704.7 1144.2,779.0 1160.3,779.0 M1128.0,708.0 C1144.2,708.0 1144.2,782.9 1160.3,782.9 M1128.0,710.6 C1144.2,710.6 1144.2,786.1 1160.3,786.1 M1128.0,714.0 C1144.2,714.0 1144.2,790.1 1160.3,790.1 M1128.0,716.3 C1144.2,716.3 1144.2,792.9 1160.3,792.9 M1128.0,718.7 C1144.2,718.7 1144.2,795.8 1160.3,795.8 " fill="none" stroke="#fff" stroke-width="0.55" stroke-opacity="0.85"/>
<path d="M1128.0,702.8 C1144.2,702.8 1144.2,776.8 1160.3,776.8" fill="none" stroke="#EBAA35" stroke-width="0.8" stroke-opacity="0.8"/>
<path d="M1128.0,720.0 C1144.2,720.0 1144.2,797.4 1160.3,797.4" fill="none" stroke="#EBAA35" stroke-width="0.8" stroke-opacity="0.8"/>
<path d="M1128.0,593.7 C1144.2,593.7 1144.2,595.5 1160.3,595.5 L1160.3,599.3 C1144.2,599.3 1144.2,596.5 1128.0,596.5 Z" fill="#EBB03E" fill-opacity="1.0"/>
<path d="M1128.0,605.8 C1144.2,605.8 1144.2,613.3 1160.3,613.3 L1160.3,619.9 C1144.2,619.9 1144.2,611.5 1128.0,611.5 Z" fill="#EBB03E" fill-opacity="1.0"/>
<path d="M1128.0,618.9 C1144.2,618.9 1144.2,636.7 1160.3,636.7 L1160.3,647.0 C1144.2,647.0 1144.2,625.5 1128.0,625.5 Z" fill="#EBB03E" fill-opacity="1.0"/>
<path d="M1128.0,646.1 C1144.2,646.1 1144.2,706.0 1160.3,706.0 L1160.3,735.9 C1144.2,735.9 1144.2,668.5 1128.0,668.5 Z" fill="#EBB03E" fill-opacity="1.0"/>
<path d="M1128.0,593.3 C1144.2,593.3 1144.2,766.3 1160.3,766.3" fill="none" stroke="#9AD860" stroke-width="0.7" stroke-opacity="0.5"/>
<path d="M1128.0,561.5 C1144.2,561.5 1144.2,620.4 1160.3,620.4" fill="none" stroke="#9AD860" stroke-width="0.7" stroke-opacity="0.5"/>
<path d="M1128.0,596.3 C1144.2,596.3 1144.2,734.2 1160.3,734.2" fill="none" stroke="#9AD860" stroke-width="0.7" stroke-opacity="0.5"/>
<path d="M1128.0,707.8 C1144.2,707.8 1144.2,734.7 1160.3,734.7" fill="none" stroke="#9AD860" stroke-width="0.7" stroke-opacity="0.5"/>
<path d="M1128.0,610.5 C1144.2,610.5 1144.2,766.3 1160.3,766.3" fill="none" stroke="#9AD860" stroke-width="0.7" stroke-opacity="0.5"/>
<path d="M1128.0,610.8 C1144.2,610.8 1144.2,615.4 1160.3,615.4" fill="none" stroke="#72D4F0" stroke-width="0.7" stroke-opacity="0.6"/>
<path d="M1128.0,702.0 C1144.2,702.0 1144.2,707.6 1160.3,707.6" fill="none" stroke="#72D4F0" stroke-width="0.7" stroke-opacity="0.6"/>
<path d="M1162.7,599.3 C1178.9,599.3 1178.9,593.7 1195.1,593.7 L1195.1,629.2 C1178.9,629.2 1178.9,674.2 1162.7,674.2 Z" fill="#e1e1e1" fill-opacity="0.55"/>
<path d="M1162.7,602.9 C1178.9,602.9 1178.9,595.4 1195.1,595.4 M1162.7,606.1 C1178.9,606.1 1178.9,596.9 1195.1,596.9 M1162.7,610.0 C1178.9,610.0 1178.9,598.8 1195.1,598.8 M1162.7,612.2 C1178.9,612.2 1178.9,599.8 1195.1,599.8 M1162.7,616.2 C1178.9,616.2 1178.9,601.7 1195.1,601.7 M1162.7,619.2 C1178.9,619.2 1178.9,603.1 1195.1,603.1 M1162.7,622.8 C1178.9,622.8 1178.9,604.8 1195.1,604.8 M1162.7,625.2 C1178.9,625.2 1178.9,606.0 1195.1,606.0 M1162.7,629.0 C1178.9,629.0 1178.9,607.8 1195.1,607.8 M1162.7,632.0 C1178.9,632.0 1178.9,609.2 1195.1,609.2 M1162.7,634.7 C1178.9,634.7 1178.9,610.5 1195.1,610.5 M1162.7,637.8 C1178.9,637.8 1178.9,612.0 1195.1,612.0 M1162.7,641.8 C1178.9,641.8 1178.9,613.9 1195.1,613.9 M1162.7,644.0 C1178.9,644.0 1178.9,614.9 1195.1,614.9 M1162.7,648.9 C1178.9,648.9 1178.9,617.2 1195.1,617.2 M1162.7,650.7 C1178.9,650.7 1178.9,618.1 1195.1,618.1 M1162.7,653.7 C1178.9,653.7 1178.9,619.5 1195.1,619.5 M1162.7,657.1 C1178.9,657.1 1178.9,621.1 1195.1,621.1 M1162.7,662.0 C1178.9,662.0 1178.9,623.5 1195.1,623.5 M1162.7,664.1 C1178.9,664.1 1178.9,624.5 1195.1,624.5 M1162.7,667.0 C1178.9,667.0 1178.9,625.8 1195.1,625.8 M1162.7,670.0 C1178.9,670.0 1178.9,627.3 1195.1,627.3 " fill="none" stroke="#fff" stroke-width="0.55" stroke-opacity="0.85"/>
<path d="M1162.7,602.4 C1178.9,602.4 1178.9,595.2 1195.1,595.2" fill="none" stroke="#EBAA35" stroke-width="0.8" stroke-opacity="0.8"/>
<path d="M1162.7,651.1 C1178.9,651.1 1178.9,618.3 1195.1,618.3" fill="none" stroke="#EBAA35" stroke-width="0.8" stroke-opacity="0.8"/>
<path d="M1162.7,553.8 C1178.9,553.8 1178.9,553.8 1195.1,553.8 L1195.1,591.8 C1178.9,591.8 1178.9,591.8 1162.7,591.8 Z" fill="#e1e1e1" fill-opacity="1.0"/>
<path d="M1162.7,557.5 C1178.9,557.5 1178.9,557.5 1195.1,557.5 M1162.7,561.1 C1178.9,561.1 1178.9,561.1 1195.1,561.1 M1162.7,564.7 C1178.9,564.7 1178.9,564.7 1195.1,564.7 M1162.7,566.7 C1178.9,566.7 1178.9,566.7 1195.1,566.7 M1162.7,571.3 C1178.9,571.3 1178.9,571.3 1195.1,571.3 M1162.7,574.2 C1178.9,574.2 1178.9,574.2 1195.1,574.2 M1162.7,578.6 C1178.9,578.6 1178.9,578.6 1195.1,578.6 M1162.7,582.1 C1178.9,582.1 1178.9,582.1 1195.1,582.1 M1162.7,585.7 C1178.9,585.7 1178.9,585.7 1195.1,585.7 M1162.7,587.4 C1178.9,587.4 1178.9,587.4 1195.1,587.4 " fill="none" stroke="#fff" stroke-width="0.55" stroke-opacity="0.85"/>
<path d="M1162.7,586.8 C1178.9,586.8 1178.9,586.8 1195.1,586.8" fill="none" stroke="#EBAA35" stroke-width="0.8" stroke-opacity="0.8"/>
<path d="M1162.7,734.1 C1178.9,734.1 1178.9,668.5 1195.1,668.5 L1195.1,698.5 C1178.9,698.5 1178.9,799.6 1162.7,799.6 Z" fill="#e1e1e1" fill-opacity="1.0"/>
<path d="M1162.7,738.2 C1178.9,738.2 1178.9,670.4 1195.1,670.4 M1162.7,741.5 C1178.9,741.5 1178.9,671.9 1195.1,671.9 M1162.7,743.1 C1178.9,743.1 1178.9,672.7 1195.1,672.7 M1162.7,746.6 C1178.9,746.6 1178.9,674.3 1195.1,674.3 M1162.7,749.7 C1178.9,749.7 1178.9,675.7 1195.1,675.7 M1162.7,752.8 C1178.9,752.8 1178.9,677.1 1195.1,677.1 M1162.7,757.7 C1178.9,757.7 1178.9,679.3 1195.1,679.3 M1162.7,760.9 C1178.9,760.9 1178.9,680.8 1195.1,680.8 M1162.7,763.8 C1178.9,763.8 1178.9,682.1 1195.1,682.1 M1162.7,767.5 C1178.9,767.5 1178.9,683.8 1195.1,683.8 M1162.7,770.4 C1178.9,770.4 1178.9,685.1 1195.1,685.1 M1162.7,773.0 C1178.9,773.0 1178.9,686.3 1195.1,686.3 M1162.7,775.9 C1178.9,775.9 1178.9,687.7 1195.1,687.7 M1162.7,779.1 C1178.9,779.1 1178.9,689.2 1195.1,689.2 M1162.7,783.7 C1178.9,783.7 1178.9,691.2 1195.1,691.2 M1162.7,785.9 C1178.9,785.9 1178.9,692.2 1195.1,692.2 M1162.7,789.4 C1178.9,789.4 1178.9,693.8 1195.1,693.8 M1162.7,792.9 C1178.9,792.9 1178.9,695.4 1195.1,695.4 M1162.7,795.4 C1178.9,795.4 1178.9,696.6 1195.1,696.6 " fill="none" stroke="#fff" stroke-width="0.55" stroke-opacity="0.85"/>
<path d="M1162.7,750.9 C1178.9,750.9 1178.9,676.2 1195.1,676.2" fill="none" stroke="#EBAA35" stroke-width="0.8" stroke-opacity="0.8"/>
<path d="M1162.7,752.6 C1178.9,752.6 1178.9,677.0 1195.1,677.0" fill="none" stroke="#EBAA35" stroke-width="0.8" stroke-opacity="0.8"/>
<path d="M1162.7,594.6 C1178.9,594.6 1178.9,591.8 1195.1,591.8 L1195.1,593.7 C1178.9,593.7 1178.9,599.3 1162.7,599.3 Z" fill="#EBB03E" fill-opacity="1.0"/>
<path d="M1162.7,634.9 C1178.9,634.9 1178.9,629.2 1195.1,629.2 L1195.1,638.6 C1178.9,638.6 1178.9,649.8 1162.7,649.8 Z" fill="#EBB03E" fill-opacity="1.0"/>
<path d="M1162.7,674.2 C1178.9,674.2 1178.9,629.2 1195.1,629.2 L1195.1,649.8 C1178.9,649.8 1178.9,681.7 1162.7,681.7 Z" fill="#EBB03E" fill-opacity="1.0"/>
<path d="M1162.7,713.5 C1178.9,713.5 1178.9,649.8 1195.1,649.8 L1195.1,668.5 C1178.9,668.5 1178.9,734.1 1162.7,734.1 Z" fill="#EBB03E" fill-opacity="1.0"/>
<path d="M1162.7,727.6 C1178.9,727.6 1178.9,608.6 1195.1,608.6" fill="none" stroke="#9AD860" stroke-width="0.7" stroke-opacity="0.5"/>
<path d="M1162.7,634.6 C1178.9,634.6 1178.9,688.7 1195.1,688.7" fill="none" stroke="#9AD860" stroke-width="0.7" stroke-opacity="0.5"/>
<path d="M1162.7,677.7 C1178.9,677.7 1178.9,673.5 1195.1,673.5" fill="none" stroke="#9AD860" stroke-width="0.7" stroke-opacity="0.5"/>
<path d="M1162.7,704.6 C1178.9,704.6 1178.9,563.3 1195.1,563.3" fill="none" stroke="#9AD860" stroke-width="0.7" stroke-opacity="0.5"/>
<path d="M1162.7,656.3 C1178.9,656.3 1178.9,617.8 1195.1,617.8" fill="none" stroke="#9AD860" stroke-width="0.7" stroke-opacity="0.5"/>
<path d="M1162.7,741.1 C1178.9,741.1 1178.9,605.7 1195.1,605.7" fill="none" stroke="#72D4F0" stroke-width="0.7" stroke-opacity="0.6"/>
<path d="M1162.7,725.0 C1178.9,725.0 1178.9,631.4 1195.1,631.4" fill="none" stroke="#72D4F0" stroke-width="0.7" stroke-opacity="0.6"/>
<path d="M1227.7,579.6 C1243.8,579.6 1243.8,571.2 1260.0,571.2 L1260.0,618.0 C1243.8,618.0 1243.8,606.8 1227.7,606.8 Z" fill="#e1e1e1" fill-opacity="1.0"/>
<path d="M1227.7,581.2 C1243.8,581.2 1243.8,574.0 1260.0,574.0 M1227.7,583.9 C1243.8,583.9 1243.8,578.6 1260.0,578.6 M1227.7,585.0 C1243.8,585.0 1243.8,580.4 1260.0,580.4 M1227.7,587.8 C1243.8,587.8 1243.8,585.2 1260.0,585.2 M1227.7,588.9 C1243.8,588.9 1243.8,587.3 1260.0,587.3 M1227.7,590.7 C1243.8,590.7 1243.8,590.3 1260.0,590.3 M1227.7,592.9 C1243.8,592.9 1243.8,594.0 1260.0,594.0 M1227.7,595.4 C1243.8,595.4 1243.8,598.5 1260.0,598.5 M1227.7,597.6 C1243.8,597.6 1243.8,602.3 1260.0,602.3 M1227.7,598.4 C1243.8,598.4 1243.8,603.6 1260.0,603.6 M1227.7,600.9 C1243.8,600.9 1243.8,608.0 1260.0,608.0 M1227.7,602.9 C1243.8,602.9 1243.8,611.3 1260.0,611.3 M1227.7,605.2 C1243.8,605.2 1243.8,615.3 1260.0,615.3 " fill="none" stroke="#fff" stroke-width="0.55" stroke-opacity="0.85"/>
<path d="M1227.7,584.6 C1243.8,584.6 1243.8,579.8 1260.0,579.8" fill="none" stroke="#EBAA35" stroke-width="0.8" stroke-opacity="0.8"/>
<path d="M1227.7,616.1 C1243.8,616.1 1243.8,631.1 1260.0,631.1 L1260.0,679.8 C1243.8,679.8 1243.8,657.3 1227.7,657.3 Z" fill="#e1e1e1" fill-opacity="1.0"/>
<path d="M1227.7,618.9 C1243.8,618.9 1243.8,634.3 1260.0,634.3 M1227.7,621.4 C1243.8,621.4 1243.8,637.3 1260.0,637.3 M1227.7,624.9 C1243.8,624.9 1243.8,641.5 1260.0,641.5 M1227.7,626.7 C1243.8,626.7 1243.8,643.6 1260.0,643.6 M1227.7,630.6 C1243.8,630.6 1243.8,648.2 1260.0,648.2 M1227.7,632.3 C1243.8,632.3 1243.8,650.2 1260.0,650.2 M1227.7,634.9 C1243.8,634.9 1243.8,653.3 1260.0,653.3 M1227.7,638.4 C1243.8,638.4 1243.8,657.5 1260.0,657.5 M1227.7,640.8 C1243.8,640.8 1243.8,660.3 1260.0,660.3 M1227.7,642.9 C1243.8,642.9 1243.8,662.8 1260.0,662.8 M1227.7,646.6 C1243.8,646.6 1243.8,667.1 1260.0,667.1 M1227.7,648.4 C1243.8,648.4 1243.8,669.2 1260.0,669.2 M1227.7,652.3 C1243.8,652.3 1243.8,673.9 1260.0,673.9 M1227.7,654.9 C1243.8,654.9 1243.8,676.9 1260.0,676.9 " fill="none" stroke="#fff" stroke-width="0.55" stroke-opacity="0.85"/>
<path d="M1227.7,648.5 C1243.8,648.5 1243.8,669.4 1260.0,669.4" fill="none" stroke="#EBAA35" stroke-width="0.8" stroke-opacity="0.8"/>
<path d="M1227.7,553.8 C1243.8,553.8 1243.8,571.2 1260.0,571.2 L1260.0,553.8 C1243.8,553.8 1243.8,579.6 1227.7,579.6 Z" fill="#EBB03E" fill-opacity="1.0"/>
<path d="M1227.7,605.8 C1243.8,605.8 1243.8,618.0 1260.0,618.0 L1260.0,631.1 C1243.8,631.1 1243.8,616.1 1227.7,616.1 Z" fill="#EBB03E" fill-opacity="1.0"/>
<path d="M1227.7,656.4 C1243.8,656.4 1243.8,682.6 1260.0,682.6 L1260.0,700.4 C1243.8,700.4 1243.8,679.8 1227.7,679.8 Z" fill="#EBB03E" fill-opacity="1.0"/>
<path d="M1227.7,702.2 C1243.8,702.2 1243.8,706.0 1260.0,706.0 L1260.0,713.5 C1243.8,713.5 1243.8,721.9 1227.7,721.9 Z" fill="#EBB03E" fill-opacity="1.0"/>
<path d="M1227.7,721.9 C1243.8,721.9 1243.8,750.9 1260.0,750.9 L1260.0,779.0 C1243.8,779.0 1243.8,765.9 1227.7,765.9 Z" fill="#EBB03E" fill-opacity="1.0"/>
<path d="M1227.7,765.9 C1243.8,765.9 1243.8,795.8 1260.0,795.8 L1260.0,825.8 C1243.8,825.8 1243.8,766.3 1227.7,766.3 Z" fill="#EBB03E" fill-opacity="1.0"/>
<path d="M1227.7,685.3 C1243.8,685.3 1243.8,652.2 1260.0,652.2" fill="none" stroke="#9AD860" stroke-width="0.7" stroke-opacity="0.5"/>
<path d="M1227.7,639.7 C1243.8,639.7 1243.8,662.4 1260.0,662.4" fill="none" stroke="#9AD860" stroke-width="0.7" stroke-opacity="0.5"/>
<path d="M1227.7,738.0 C1243.8,738.0 1243.8,581.7 1260.0,581.7" fill="none" stroke="#9AD860" stroke-width="0.7" stroke-opacity="0.5"/>
<path d="M1227.7,737.6 C1243.8,737.6 1243.8,565.7 1260.0,565.7" fill="none" stroke="#9AD860" stroke-width="0.7" stroke-opacity="0.5"/>
<path d="M1227.7,600.5 C1243.8,600.5 1243.8,628.0 1260.0,628.0" fill="none" stroke="#9AD860" stroke-width="0.7" stroke-opacity="0.5"/>
<path d="M1227.7,740.2 C1243.8,740.2 1243.8,690.3 1260.0,690.3" fill="none" stroke="#72D4F0" stroke-width="0.7" stroke-opacity="0.6"/>
<path d="M1227.7,635.3 C1243.8,635.3 1243.8,790.5 1260.0,790.5" fill="none" stroke="#72D4F0" stroke-width="0.7" stroke-opacity="0.6"/>
<path d="M1262.4,553.8 C1278.6,553.8 1278.6,553.8 1294.8,553.8 L1294.8,567.5 C1278.6,567.5 1278.6,567.5 1262.4,567.5 Z" fill="#e1e1e1" fill-opacity="1.0"/>
<path d="M1262.4,556.7 C1278.6,556.7 1278.6,556.7 1294.8,556.7 M1262.4,560.6 C1278.6,560.6 1278.6,560.6 1294.8,560.6 M1262.4,564.1 C1278.6,564.1 1278.6,564.1 1294.8,564.1 " fill="none" stroke="#fff" stroke-width="0.55" stroke-opacity="0.85"/>
<path d="M1262.4,575.0 C1278.6,575.0 1278.6,573.1 1294.8,573.1 L1294.8,595.5 C1278.6,595.5 1278.6,616.1 1262.4,616.1 Z" fill="#e1e1e1" fill-opacity="1.0"/>
<path d="M1262.4,578.9 C1278.6,578.9 1278.6,575.2 1294.8,575.2 M1262.4,582.3 C1278.6,582.3 1278.6,577.1 1294.8,577.1 M1262.4,585.5 C1278.6,585.5 1278.6,578.9 1294.8,578.9 M1262.4,588.4 C1278.6,588.4 1278.6,580.4 1294.8,580.4 M1262.4,591.8 C1278.6,591.8 1278.6,582.2 1294.8,582.2 M1262.4,594.8 C1278.6,594.8 1278.6,583.9 1294.8,583.9 M1262.4,599.7 C1278.6,599.7 1278.6,586.6 1294.8,586.6 M1262.4,602.7 C1278.6,602.7 1278.6,588.2 1294.8,588.2 M1262.4,606.3 C1278.6,606.3 1278.6,590.2 1294.8,590.2 M1262.4,608.6 C1278.6,608.6 1278.6,591.4 1294.8,591.4 M1262.4,612.6 C1278.6,612.6 1278.6,593.6 1294.8,593.6 " fill="none" stroke="#fff" stroke-width="0.55" stroke-opacity="0.85"/>
<path d="M1262.4,606.8 C1278.6,606.8 1278.6,590.5 1294.8,590.5" fill="none" stroke="#EBAA35" stroke-width="0.8" stroke-opacity="0.8"/>
<path d="M1262.4,631.1 C1278.6,631.1 1278.6,608.6 1294.8,608.6 L1294.8,634.9 C1278.6,634.9 1278.6,679.8 1262.4,679.8 Z" fill="#e1e1e1" fill-opacity="1.0"/>
<path d="M1262.4,634.5 C1278.6,634.5 1278.6,610.5 1294.8,610.5 M1262.4,636.9 C1278.6,636.9 1278.6,611.7 1294.8,611.7 M1262.4,640.8 C1278.6,640.8 1278.6,613.8 1294.8,613.8 M1262.4,644.8 C1278.6,644.8 1278.6,616.0 1294.8,616.0 M1262.4,646.8 C1278.6,646.8 1278.6,617.1 1294.8,617.1 M1262.4,650.0 C1278.6,650.0 1278.6,618.8 1294.8,618.8 M1262.4,653.4 C1278.6,653.4 1278.6,620.7 1294.8,620.7 M1262.4,657.5 C1278.6,657.5 1278.6,622.8 1294.8,622.8 M1262.4,661.0 C1278.6,661.0 1278.6,624.7 1294.8,624.7 M1262.4,662.9 C1278.6,662.9 1278.6,625.8 1294.8,625.8 M1262.4,666.1 C1278.6,666.1 1278.6,627.5 1294.8,627.5 M1262.4,669.6 C1278.6,669.6 1278.6,629.3 1294.8,629.3 M1262.4,673.0 C1278.6,673.0 1278.6,631.2 1294.8,631.2 M1262.4,676.6 C1278.6,676.6 1278.6,633.1 1294.8,633.1 " fill="none" stroke="#fff" stroke-width="0.55" stroke-opacity="0.85"/>
<path d="M1262.4,638.9 C1278.6,638.9 1278.6,612.9 1294.8,612.9" fill="none" stroke="#EBAA35" stroke-width="0.8" stroke-opacity="0.8"/>
<path d="M1262.4,788.4 C1278.6,788.4 1278.6,689.1 1294.8,689.1 L1294.8,719.1 C1278.6,719.1 1278.6,825.8 1262.4,825.8 Z" fill="#e1e1e1" fill-opacity="1.0"/>
<path d="M1262.4,791.4 C1278.6,791.4 1278.6,691.6 1294.8,691.6 M1262.4,794.5 C1278.6,794.5 1278.6,694.1 1294.8,694.1 M1262.4,799.5 C1278.6,799.5 1278.6,698.1 1294.8,698.1 M1262.4,802.4 C1278.6,802.4 1278.6,700.4 1294.8,700.4 M1262.4,804.6 C1278.6,804.6 1278.6,702.1 1294.8,702.1 M1262.4,809.7 C1278.6,809.7 1278.6,706.2 1294.8,706.2 M1262.4,811.4 C1278.6,811.4 1278.6,707.5 1294.8,707.5 M1262.4,815.3 C1278.6,815.3 1278.6,710.7 1294.8,710.7 M1262.4,820.0 C1278.6,820.0 1278.6,714.4 1294.8,714.4 M1262.4,823.0 C1278.6,823.0 1278.6,716.9 1294.8,716.9 " fill="none" stroke="#fff" stroke-width="0.55" stroke-opacity="0.85"/>
<path d="M1262.4,815.8 C1278.6,815.8 1278.6,711.1 1294.8,711.1" fill="none" stroke="#EBAA35" stroke-width="0.8" stroke-opacity="0.8"/>
<path d="M1262.4,567.5 C1278.6,567.5 1278.6,573.1 1294.8,573.1 L1294.8,566.5 C1278.6,566.5 1278.6,575.0 1262.4,575.0 Z" fill="#EBB03E" fill-opacity="1.0"/>
<path d="M1262.4,616.1 C1278.6,616.1 1278.6,595.5 1294.8,595.5 L1294.8,608.6 C1278.6,608.6 1278.6,631.1 1262.4,631.1 Z" fill="#EBB03E" fill-opacity="1.0"/>
<path d="M1262.4,679.8 C1278.6,679.8 1278.6,634.9 1294.8,634.9 L1294.8,653.6 C1278.6,653.6 1278.6,700.4 1262.4,700.4 Z" fill="#EBB03E" fill-opacity="1.0"/>
<path d="M1262.4,700.4 C1278.6,700.4 1278.6,653.6 1294.8,653.6 L1294.8,689.1 C1278.6,689.1 1278.6,788.4 1262.4,788.4 Z" fill="#EBB03E" fill-opacity="1.0"/>
<path d="M1262.4,673.0 C1278.6,673.0 1278.6,589.5 1294.8,589.5" fill="none" stroke="#9AD860" stroke-width="0.7" stroke-opacity="0.5"/>
<path d="M1262.4,726.1 C1278.6,726.1 1278.6,575.6 1294.8,575.6" fill="none" stroke="#9AD860" stroke-width="0.7" stroke-opacity="0.5"/>
<path d="M1262.4,613.1 C1278.6,613.1 1278.6,619.2 1294.8,619.2" fill="none" stroke="#9AD860" stroke-width="0.7" stroke-opacity="0.5"/>
<path d="M1262.4,568.0 C1278.6,568.0 1278.6,620.9 1294.8,620.9" fill="none" stroke="#9AD860" stroke-width="0.7" stroke-opacity="0.5"/>
<path d="M1262.4,766.2 C1278.6,766.2 1278.6,666.4 1294.8,666.4" fill="none" stroke="#9AD860" stroke-width="0.7" stroke-opacity="0.5"/>
<path d="M1262.4,690.1 C1278.6,690.1 1278.6,657.0 1294.8,657.0" fill="none" stroke="#72D4F0" stroke-width="0.7" stroke-opacity="0.6"/>
<path d="M1262.4,680.4 C1278.6,680.4 1278.6,581.1 1294.8,581.1" fill="none" stroke="#72D4F0" stroke-width="0.7" stroke-opacity="0.6"/>
<path d="M330.8,884.5 C347.0,884.5 347.0,877.0 363.1,877.0 L363.1,942.1 C347.0,942.1 347.0,945.5 330.8,945.5 Z" fill="#e1e1e1" fill-opacity="1.0"/>
<path d="M330.8,887.8 C347.0,887.8 347.0,880.5 363.1,880.5 M330.8,890.5 C347.0,890.5 347.0,883.4 363.1,883.4 M330.8,894.1 C347.0,894.1 347.0,887.3 363.1,887.3 M330.8,897.5 C347.0,897.5 347.0,890.8 363.1,890.8 M330.8,899.6 C347.0,899.6 347.0,893.2 363.1,893.2 M330.8,903.0 C347.0,903.0 347.0,896.7 363.1,896.7 M330.8,906.3 C347.0,906.3 347.0,900.3 363.1,900.3 M330.8,908.8 C347.0,908.8 347.0,902.9 363.1,902.9 M330.8,911.5 C347.0,911.5 347.0,905.8 363.1,905.8 M330.8,915.4 C347.0,915.4 347.0,910.0 363.1,910.0 M330.8,918.8 C347.0,918.8 347.0,913.6 363.1,913.6 M330.8,921.6 C347.0,921.6 347.0,916.6 363.1,916.6 M330.8,924.5 C347.0,924.5 347.0,919.7 363.1,919.7 M330.8,927.8 C347.0,927.8 347.0,923.3 363.1,923.3 M330.8,930.6 C347.0,930.6 347.0,926.2 363.1,926.2 M330.8,933.6 C347.0,933.6 347.0,929.4 363.1,929.4 M330.8,936.3 C347.0,936.3 347.0,932.3 363.1,932.3 M330.8,939.1 C347.0,939.1 347.0,935.3 363.1,935.3 M330.8,942.7 C347.0,942.7 347.0,939.1 363.1,939.1 " fill="none" stroke="#fff" stroke-width="0.55" stroke-opacity="0.85"/>
<path d="M330.8,890.5 C347.0,890.5 347.0,883.4 363.1,883.4" fill="none" stroke="#EBAA35" stroke-width="0.8" stroke-opacity="0.8"/>
<path d="M330.8,910.1 C347.0,910.1 347.0,904.4 363.1,904.4" fill="none" stroke="#EBAA35" stroke-width="0.8" stroke-opacity="0.8"/>
<path d="M330.8,1019.0 C347.0,1019.0 347.0,1029.0 363.1,1029.0 L363.1,1135.8 C347.0,1135.8 347.0,1104.1 330.8,1104.1 Z" fill="#e1e1e1" fill-opacity="1.0"/>
<path d="M330.8,1022.0 C347.0,1022.0 347.0,1032.8 363.1,1032.8 M330.8,1024.4 C347.0,1024.4 347.0,1035.9 363.1,1035.9 M330.8,1026.9 C347.0,1026.9 347.0,1038.9 363.1,1038.9 M330.8,1028.9 C347.0,1028.9 347.0,1041.4 363.1,1041.4 M330.8,1031.7 C347.0,1031.7 347.0,1045.0 363.1,1045.0 M330.8,1034.4 C347.0,1034.4 347.0,1048.3 363.1,1048.3 M330.8,1037.2 C347.0,1037.2 347.0,1051.9 363.1,1051.9 M330.8,1039.5 C347.0,1039.5 347.0,1054.7 363.1,1054.7 M330.8,1042.5 C347.0,1042.5 347.0,1058.5 363.1,1058.5 M330.8,1045.4 C347.0,1045.4 347.0,1062.2 363.1,1062.2 M330.8,1046.8 C347.0,1046.8 347.0,1064.0 363.1,1064.0 M330.8,1050.2 C347.0,1050.2 347.0,1068.1 363.1,1068.1 M330.8,1052.9 C347.0,1052.9 347.0,1071.6 363.1,1071.6 M330.8,1054.9 C347.0,1054.9 347.0,1074.1 363.1,1074.1 M330.8,1057.6 C347.0,1057.6 347.0,1077.5 363.1,1077.5 M330.8,1061.0 C347.0,1061.0 347.0,1081.7 363.1,1081.7 M330.8,1062.1 C347.0,1062.1 347.0,1083.1 363.1,1083.1 M330.8,1065.5 C347.0,1065.5 347.0,1087.3 363.1,1087.3 M330.8,1067.5 C347.0,1067.5 347.0,1089.8 363.1,1089.8 M330.8,1071.0 C347.0,1071.0 347.0,1094.3 363.1,1094.3 M330.8,1073.8 C347.0,1073.8 347.0,1097.8 363.1,1097.8 M330.8,1075.8 C347.0,1075.8 347.0,1100.3 363.1,1100.3 M330.8,1077.7 C347.0,1077.7 347.0,1102.7 363.1,1102.7 M330.8,1081.0 C347.0,1081.0 347.0,1106.8 363.1,1106.8 M330.8,1083.5 C347.0,1083.5 347.0,1110.0 363.1,1110.0 M330.8,1086.4 C347.0,1086.4 347.0,1113.6 363.1,1113.6 M330.8,1088.6 C347.0,1088.6 347.0,1116.4 363.1,1116.4 M330.8,1091.4 C347.0,1091.4 347.0,1119.9 363.1,1119.9 M330.8,1094.3 C347.0,1094.3 347.0,1123.5 363.1,1123.5 M330.8,1096.4 C347.0,1096.4 347.0,1126.2 363.1,1126.2 M330.8,1098.8 C347.0,1098.8 347.0,1129.2 363.1,1129.2 M330.8,1102.2 C347.0,1102.2 347.0,1133.5 363.1,1133.5 " fill="none" stroke="#fff" stroke-width="0.55" stroke-opacity="0.85"/>
<path d="M330.8,1036.8 C347.0,1036.8 347.0,1051.4 363.1,1051.4" fill="none" stroke="#EBAA35" stroke-width="0.8" stroke-opacity="0.8"/>
<path d="M330.8,1077.2 C347.0,1077.2 347.0,1102.1 363.1,1102.1" fill="none" stroke="#EBAA35" stroke-width="0.8" stroke-opacity="0.8"/>
<path d="M330.8,1052.4 C347.0,1052.4 347.0,1070.9 363.1,1070.9" fill="none" stroke="#EBAA35" stroke-width="0.8" stroke-opacity="0.8"/>
<path d="M330.8,1083.9 C347.0,1083.9 347.0,1110.5 363.1,1110.5" fill="none" stroke="#EBAA35" stroke-width="0.8" stroke-opacity="0.8"/>
<path d="M330.8,874.5 C347.0,874.5 347.0,876.2 363.1,876.2 L363.1,872.0 C347.0,872.0 347.0,884.5 330.8,884.5 Z" fill="#EBB03E" fill-opacity="1.0"/>
<path d="M330.8,895.4 C347.0,895.4 347.0,890.4 363.1,890.4 L363.1,892.9 C347.0,892.9 347.0,898.7 330.8,898.7 Z" fill="#EBB03E" fill-opacity="1.0"/>
<path d="M330.8,947.2 C347.0,947.2 347.0,946.3 363.1,946.3 L363.1,941.3 C347.0,941.3 347.0,953.0 330.8,953.0 Z" fill="#EBB03E" fill-opacity="1.0"/>
<path d="M330.8,1019.0 C347.0,1019.0 347.0,1045.7 363.1,1045.7 L363.1,1048.2 C347.0,1048.2 347.0,1021.0 330.8,1021.0 Z" fill="#EBB03E" fill-opacity="1.0"/>
<path d="M330.8,1049.0 C347.0,1049.0 347.0,1060.7 363.1,1060.7 L363.1,1062.4 C347.0,1062.4 347.0,1050.7 330.8,1050.7 Z" fill="#EBB03E" fill-opacity="1.0"/>
<path d="M330.8,902.7 C347.0,902.7 347.0,1127.2 363.1,1127.2" fill="none" stroke="#9AD860" stroke-width="0.7" stroke-opacity="0.5"/>
<path d="M330.8,954.8 C347.0,954.8 347.0,889.8 363.1,889.8" fill="none" stroke="#9AD860" stroke-width="0.7" stroke-opacity="0.5"/>
<path d="M330.8,936.7 C347.0,936.7 347.0,977.6 363.1,977.6" fill="none" stroke="#9AD860" stroke-width="0.7" stroke-opacity="0.5"/>
<path d="M330.8,878.3 C347.0,878.3 347.0,982.4 363.1,982.4" fill="none" stroke="#9AD860" stroke-width="0.7" stroke-opacity="0.5"/>
<path d="M330.8,969.4 C347.0,969.4 347.0,1054.0 363.1,1054.0" fill="none" stroke="#9AD860" stroke-width="0.7" stroke-opacity="0.5"/>
<path d="M330.8,954.1 C347.0,954.1 347.0,943.2 363.1,943.2" fill="none" stroke="#72D4F0" stroke-width="0.7" stroke-opacity="0.6"/>
<path d="M330.8,925.5 C347.0,925.5 347.0,1065.0 363.1,1065.0" fill="none" stroke="#72D4F0" stroke-width="0.7" stroke-opacity="0.6"/>
<path d="M365.5,872.0 C381.7,872.0 381.7,872.0 397.9,872.0 L397.9,952.2 C381.7,952.2 381.7,952.2 365.5,952.2 Z" fill="#e1e1e1" fill-opacity="1.0"/>
<path d="M365.5,876.1 C381.7,876.1 381.7,876.1 397.9,876.1 M365.5,878.5 C381.7,878.5 381.7,878.5 397.9,878.5 M365.5,881.1 C381.7,881.1 381.7,881.1 397.9,881.1 M365.5,885.4 C381.7,885.4 381.7,885.4 397.9,885.4 M365.5,887.8 C381.7,887.8 381.7,887.8 397.9,887.8 M365.5,890.7 C381.7,890.7 381.7,890.7 397.9,890.7 M365.5,893.7 C381.7,893.7 381.7,893.7 397.9,893.7 M365.5,898.2 C381.7,898.2 381.7,898.2 397.9,898.2 M365.5,901.5 C381.7,901.5 381.7,901.5 397.9,901.5 M365.5,904.3 C381.7,904.3 381.7,904.3 397.9,904.3 M365.5,907.2 C381.7,907.2 381.7,907.2 397.9,907.2 M365.5,910.6 C381.7,910.6 381.7,910.6 397.9,910.6 M365.5,913.2 C381.7,913.2 381.7,913.2 397.9,913.2 M365.5,917.8 C381.7,917.8 381.7,917.8 397.9,917.8 M365.5,919.8 C381.7,919.8 381.7,919.8 397.9,919.8 M365.5,923.6 C381.7,923.6 381.7,923.6 397.9,923.6 M365.5,927.1 C381.7,927.1 381.7,927.1 397.9,927.1 M365.5,930.3 C381.7,930.3 381.7,930.3 397.9,930.3 M365.5,932.9 C381.7,932.9 381.7,932.9 397.9,932.9 M365.5,935.7 C381.7,935.7 381.7,935.7 397.9,935.7 M365.5,939.4 C381.7,939.4 381.7,939.4 397.9,939.4 M365.5,941.8 C381.7,941.8 381.7,941.8 397.9,941.8 M365.5,946.4 C381.7,946.4 381.7,946.4 397.9,946.4 M365.5,948.7 C381.7,948.7 381.7,948.7 397.9,948.7 " fill="none" stroke="#fff" stroke-width="0.55" stroke-opacity="0.85"/>
<path d="M365.5,940.2 C381.7,940.2 381.7,940.2 397.9,940.2" fill="none" stroke="#EBAA35" stroke-width="0.8" stroke-opacity="0.8"/>
<path d="M365.5,893.5 C381.7,893.5 381.7,893.5 397.9,893.5" fill="none" stroke="#EBAA35" stroke-width="0.8" stroke-opacity="0.8"/>
<path d="M365.5,902.2 C381.7,902.2 381.7,902.2 397.9,902.2" fill="none" stroke="#EBAA35" stroke-width="0.8" stroke-opacity="0.8"/>
<path d="M365.5,1034.8 C381.7,1034.8 381.7,980.6 397.9,980.6 L397.9,1063.2 C381.7,1063.2 381.7,1135.8 365.5,1135.8 Z" fill="#e1e1e1" fill-opacity="1.0"/>
<path d="M365.5,1037.6 C381.7,1037.6 381.7,982.8 397.9,982.8 M365.5,1041.2 C381.7,1041.2 381.7,985.8 397.9,985.8 M365.5,1044.0 C381.7,1044.0 381.7,988.0 397.9,988.0 M365.5,1046.9 C381.7,1046.9 381.7,990.4 397.9,990.4 M365.5,1051.5 C381.7,1051.5 381.7,994.2 397.9,994.2 M365.5,1053.9 C381.7,1053.9 381.7,996.2 397.9,996.2 M365.5,1057.1 C381.7,1057.1 381.7,998.8 397.9,998.8 M365.5,1060.5 C381.7,1060.5 381.7,1001.6 397.9,1001.6 M365.5,1064.1 C381.7,1064.1 381.7,1004.5 397.9,1004.5 M365.5,1067.3 C381.7,1067.3 381.7,1007.1 397.9,1007.1 M365.5,1070.9 C381.7,1070.9 381.7,1010.1 397.9,1010.1 M365.5,1074.2 C381.7,1074.2 381.7,1012.8 397.9,1012.8 M365.5,1076.9 C381.7,1076.9 381.7,1015.0 397.9,1015.0 M365.5,1081.3 C381.7,1081.3 381.7,1018.6 397.9,1018.6 M365.5,1084.4 C381.7,1084.4 381.7,1021.1 397.9,1021.1 M365.5,1086.1 C381.7,1086.1 381.7,1022.5 397.9,1022.5 M365.5,1090.9 C381.7,1090.9 381.7,1026.4 397.9,1026.4 M365.5,1094.3 C381.7,1094.3 381.7,1029.2 397.9,1029.2 M365.5,1097.3 C381.7,1097.3 381.7,1031.7 397.9,1031.7 M365.5,1099.3 C381.7,1099.3 381.7,1033.3 397.9,1033.3 M365.5,1103.9 C381.7,1103.9 381.7,1037.1 397.9,1037.1 M365.5,1106.8 C381.7,1106.8 381.7,1039.4 397.9,1039.4 M365.5,1108.8 C381.7,1108.8 381.7,1041.1 397.9,1041.1 M365.5,1112.1 C381.7,1112.1 381.7,1043.8 397.9,1043.8 M365.5,1117.2 C381.7,1117.2 381.7,1047.9 397.9,1047.9 M365.5,1119.8 C381.7,1119.8 381.7,1050.1 397.9,1050.1 M365.5,1122.3 C381.7,1122.3 381.7,1052.1 397.9,1052.1 M365.5,1125.3 C381.7,1125.3 381.7,1054.6 397.9,1054.6 M365.5,1128.6 C381.7,1128.6 381.7,1057.3 397.9,1057.3 M365.5,1132.1 C381.7,1132.1 381.7,1060.1 397.9,1060.1 " fill="none" stroke="#fff" stroke-width="0.55" stroke-opacity="0.85"/>
<path d="M365.5,1113.2 C381.7,1113.2 381.7,1044.7 397.9,1044.7" fill="none" stroke="#EBAA35" stroke-width="0.8" stroke-opacity="0.8"/>
<path d="M365.5,1069.8 C381.7,1069.8 381.7,1009.2 397.9,1009.2" fill="none" stroke="#EBAA35" stroke-width="0.8" stroke-opacity="0.8"/>
<path d="M365.5,1050.2 C381.7,1050.2 381.7,993.2 397.9,993.2" fill="none" stroke="#EBAA35" stroke-width="0.8" stroke-opacity="0.8"/>
<path d="M365.5,1126.1 C381.7,1126.1 381.7,1055.3 397.9,1055.3" fill="none" stroke="#EBAA35" stroke-width="0.8" stroke-opacity="0.8"/>
<path d="M365.5,888.7 C381.7,888.7 381.7,886.2 397.9,886.2 L397.9,888.7 C381.7,888.7 381.7,893.7 365.5,893.7 Z" fill="#EBB03E" fill-opacity="1.0"/>
<path d="M365.5,907.1 C381.7,907.1 381.7,898.7 397.9,898.7 L397.9,903.7 C381.7,903.7 381.7,913.8 365.5,913.8 Z" fill="#EBB03E" fill-opacity="1.0"/>
<path d="M365.5,952.2 C381.7,952.2 381.7,953.0 397.9,953.0 L397.9,955.5 C381.7,955.5 381.7,968.0 365.5,968.0 Z" fill="#EBB03E" fill-opacity="1.0"/>
<path d="M365.5,970.5 C381.7,970.5 381.7,980.6 397.9,980.6 L397.9,965.5 C381.7,965.5 381.7,1015.6 365.5,1015.6 Z" fill="#EBB03E" fill-opacity="1.0"/>
<path d="M365.5,1022.3 C381.7,1022.3 381.7,978.9 397.9,978.9 L397.9,981.4 C381.7,981.4 381.7,1034.8 365.5,1034.8 Z" fill="#EBB03E" fill-opacity="1.0"/>
<path d="M365.5,1077.9 C381.7,1077.9 381.7,906.0 397.9,906.0" fill="none" stroke="#9AD860" stroke-width="0.7" stroke-opacity="0.5"/>
<path d="M365.5,1103.3 C381.7,1103.3 381.7,986.5 397.9,986.5" fill="none" stroke="#9AD860" stroke-width="0.7" stroke-opacity="0.5"/>
<path d="M365.5,1075.2 C381.7,1075.2 381.7,997.5 397.9,997.5" fill="none" stroke="#9AD860" stroke-width="0.7" stroke-opacity="0.5"/>
<path d="M365.5,1104.1 C381.7,1104.1 381.7,1019.4 397.9,1019.4" fill="none" stroke="#9AD860" stroke-width="0.7" stroke-opacity="0.5"/>
<path d="M365.5,1089.9 C381.7,1089.9 381.7,911.4 397.9,911.4" fill="none" stroke="#9AD860" stroke-width="0.7" stroke-opacity="0.5"/>
<path d="M365.5,1052.6 C381.7,1052.6 381.7,972.3 397.9,972.3" fill="none" stroke="#72D4F0" stroke-width="0.7" stroke-opacity="0.6"/>
<path d="M365.5,1065.2 C381.7,1065.2 381.7,955.5 397.9,955.5" fill="none" stroke="#72D4F0" stroke-width="0.7" stroke-opacity="0.6"/>
<path d="M430.4,872.0 C446.6,872.0 446.6,872.0 462.8,872.0 L462.8,962.2 C446.6,962.2 446.6,955.5 430.4,955.5 Z" fill="#e1e1e1" fill-opacity="1.0"/>
<path d="M430.4,875.7 C446.6,875.7 446.6,876.0 462.8,876.0 M430.4,878.1 C446.6,878.1 446.6,878.6 462.8,878.6 M430.4,880.5 C446.6,880.5 446.6,881.2 462.8,881.2 M430.4,883.5 C446.6,883.5 446.6,884.4 462.8,884.4 M430.4,886.3 C446.6,886.3 446.6,887.4 462.8,887.4 M430.4,889.9 C446.6,889.9 446.6,891.3 462.8,891.3 M430.4,892.1 C446.6,892.1 446.6,893.7 462.8,893.7 M430.4,895.8 C446.6,895.8 446.6,897.7 462.8,897.7 M430.4,898.2 C446.6,898.2 446.6,900.3 462.8,900.3 M430.4,901.8 C446.6,901.8 446.6,904.2 462.8,904.2 M430.4,904.8 C446.6,904.8 446.6,907.4 462.8,907.4 M430.4,907.9 C446.6,907.9 446.6,910.7 462.8,910.7 M430.4,911.4 C446.6,911.4 446.6,914.6 462.8,914.6 M430.4,912.9 C446.6,912.9 446.6,916.1 462.8,916.1 M430.4,917.4 C446.6,917.4 446.6,921.0 462.8,921.0 M430.4,919.7 C446.6,919.7 446.6,923.5 462.8,923.5 M430.4,922.8 C446.6,922.8 446.6,926.9 462.8,926.9 M430.4,926.0 C446.6,926.0 446.6,930.3 462.8,930.3 M430.4,929.3 C446.6,929.3 446.6,933.9 462.8,933.9 M430.4,931.4 C446.6,931.4 446.6,936.2 462.8,936.2 M430.4,934.5 C446.6,934.5 446.6,939.5 462.8,939.5 M430.4,938.4 C446.6,938.4 446.6,943.8 462.8,943.8 M430.4,939.8 C446.6,939.8 446.6,945.3 462.8,945.3 M430.4,943.8 C446.6,943.8 446.6,949.6 462.8,949.6 M430.4,946.8 C446.6,946.8 446.6,952.8 462.8,952.8 M430.4,948.7 C446.6,948.7 446.6,954.8 462.8,954.8 M430.4,952.7 C446.6,952.7 446.6,959.2 462.8,959.2 " fill="none" stroke="#fff" stroke-width="0.55" stroke-opacity="0.85"/>
<path d="M430.4,929.0 C446.6,929.0 446.6,933.6 462.8,933.6" fill="none" stroke="#EBAA35" stroke-width="0.8" stroke-opacity="0.8"/>
<path d="M430.4,949.8 C446.6,949.8 446.6,956.0 462.8,956.0" fill="none" stroke="#EBAA35" stroke-width="0.8" stroke-opacity="0.8"/>
<path d="M430.4,899.6 C446.6,899.6 446.6,901.8 462.8,901.8" fill="none" stroke="#EBAA35" stroke-width="0.8" stroke-opacity="0.8"/>
<path d="M430.4,962.2 C446.6,962.2 446.6,975.5 462.8,975.5 L462.8,993.9 C446.6,993.9 446.6,982.2 430.4,982.2 Z" fill="#e1e1e1" fill-opacity="1.0"/>
<path d="M430.4,966.5 C446.6,966.5 446.6,979.5 462.8,979.5 M430.4,968.9 C446.6,968.9 446.6,981.7 462.8,981.7 M430.4,972.2 C446.6,972.2 446.6,984.7 462.8,984.7 M430.4,976.3 C446.6,976.3 446.6,988.5 462.8,988.5 M430.4,977.9 C446.6,977.9 446.6,990.0 462.8,990.0 " fill="none" stroke="#fff" stroke-width="0.55" stroke-opacity="0.85"/>
<path d="M430.4,1025.6 C446.6,1025.6 446.6,1059.0 462.8,1059.0 L462.8,1124.1 C446.6,1124.1 446.6,1117.5 430.4,1117.5 Z" fill="#e1e1e1" fill-opacity="1.0"/>
<path d="M430.4,1029.3 C446.6,1029.3 446.6,1061.7 462.8,1061.7 M430.4,1032.4 C446.6,1032.4 446.6,1063.9 462.8,1063.9 M430.4,1035.2 C446.6,1035.2 446.6,1065.8 462.8,1065.8 M430.4,1039.5 C446.6,1039.5 446.6,1068.8 462.8,1068.8 M430.4,1041.8 C446.6,1041.8 446.6,1070.5 462.8,1070.5 M430.4,1045.3 C446.6,1045.3 446.6,1072.9 462.8,1072.9 M430.4,1048.6 C446.6,1048.6 446.6,1075.3 462.8,1075.3 M430.4,1052.4 C446.6,1052.4 446.6,1078.0 462.8,1078.0 M430.4,1054.6 C446.6,1054.6 446.6,1079.6 462.8,1079.6 M430.4,1058.3 C446.6,1058.3 446.6,1082.2 462.8,1082.2 M430.4,1061.6 C446.6,1061.6 446.6,1084.5 462.8,1084.5 M430.4,1065.1 C446.6,1065.1 446.6,1087.0 462.8,1087.0 M430.4,1068.9 C446.6,1068.9 446.6,1089.7 462.8,1089.7 M430.4,1071.1 C446.6,1071.1 446.6,1091.3 462.8,1091.3 M430.4,1075.5 C446.6,1075.5 446.6,1094.4 462.8,1094.4 M430.4,1077.9 C446.6,1077.9 446.6,1096.1 462.8,1096.1 M430.4,1081.4 C446.6,1081.4 446.6,1098.6 462.8,1098.6 M430.4,1084.2 C446.6,1084.2 446.6,1100.6 462.8,1100.6 M430.4,1088.0 C446.6,1088.0 446.6,1103.2 462.8,1103.2 M430.4,1092.2 C446.6,1092.2 446.6,1106.2 462.8,1106.2 M430.4,1094.8 C446.6,1094.8 446.6,1108.1 462.8,1108.1 M430.4,1098.4 C446.6,1098.4 446.6,1110.6 462.8,1110.6 M430.4,1100.7 C446.6,1100.7 446.6,1112.3 462.8,1112.3 M430.4,1104.0 C446.6,1104.0 446.6,1114.6 462.8,1114.6 M430.4,1107.2 C446.6,1107.2 446.6,1116.9 462.8,1116.9 M430.4,1111.1 C446.6,1111.1 446.6,1119.6 462.8,1119.6 M430.4,1114.5 C446.6,1114.5 446.6,1122.0 462.8,1122.0 " fill="none" stroke="#fff" stroke-width="0.55" stroke-opacity="0.85"/>
<path d="M430.4,1097.7 C446.6,1097.7 446.6,1110.1 462.8,1110.1" fill="none" stroke="#EBAA35" stroke-width="0.8" stroke-opacity="0.8"/>
<path d="M430.4,1029.3 C446.6,1029.3 446.6,1061.6 462.8,1061.6" fill="none" stroke="#EBAA35" stroke-width="0.8" stroke-opacity="0.8"/>
<path d="M430.4,1092.0 C446.6,1092.0 446.6,1106.1 462.8,1106.1" fill="none" stroke="#EBAA35" stroke-width="0.8" stroke-opacity="0.8"/>
<path d="M430.4,955.5 C446.6,955.5 446.6,963.9 462.8,963.9 L462.8,975.5 C446.6,975.5 446.6,962.2 430.4,962.2 Z" fill="#EBB03E" fill-opacity="1.0"/>
<path d="M430.4,982.2 C446.6,982.2 446.6,1012.3 462.8,1012.3 L462.8,1025.6 C446.6,1025.6 446.6,992.2 430.4,992.2 Z" fill="#EBB03E" fill-opacity="1.0"/>
<path d="M430.4,1015.6 C446.6,1015.6 446.6,1042.3 462.8,1042.3 L462.8,1059.0 C446.6,1059.0 446.6,1025.6 430.4,1025.6 Z" fill="#EBB03E" fill-opacity="1.0"/>
<path d="M430.4,1085.5 C446.6,1085.5 446.6,1008.4 462.8,1008.4" fill="none" stroke="#9AD860" stroke-width="0.7" stroke-opacity="0.5"/>
<path d="M430.4,887.1 C446.6,887.1 446.6,948.6 462.8,948.6" fill="none" stroke="#9AD860" stroke-width="0.7" stroke-opacity="0.5"/>
<path d="M430.4,876.8 C446.6,876.8 446.6,921.6 462.8,921.6" fill="none" stroke="#9AD860" stroke-width="0.7" stroke-opacity="0.5"/>
<path d="M430.4,1094.0 C446.6,1094.0 446.6,1023.8 462.8,1023.8" fill="none" stroke="#9AD860" stroke-width="0.7" stroke-opacity="0.5"/>
<path d="M430.4,1031.5 C446.6,1031.5 446.6,1067.8 462.8,1067.8" fill="none" stroke="#9AD860" stroke-width="0.7" stroke-opacity="0.5"/>
<path d="M430.4,1091.3 C446.6,1091.3 446.6,1024.6 462.8,1024.6" fill="none" stroke="#72D4F0" stroke-width="0.7" stroke-opacity="0.6"/>
<path d="M430.4,1021.7 C446.6,1021.7 446.6,1028.2 462.8,1028.2" fill="none" stroke="#72D4F0" stroke-width="0.7" stroke-opacity="0.6"/>
<path d="M465.1,872.0 C481.4,872.0 481.4,872.0 497.6,872.0 L497.6,947.2 C481.4,947.2 481.4,962.2 465.1,962.2 Z" fill="#e1e1e1" fill-opacity="1.0"/>
<path d="M465.1,875.6 C481.4,875.6 481.4,875.0 497.6,875.0 M465.1,878.6 C481.4,878.6 481.4,877.5 497.6,877.5 M465.1,882.0 C481.4,882.0 481.4,880.4 497.6,880.4 M465.1,884.3 C481.4,884.3 481.4,882.3 497.6,882.3 M465.1,888.4 C481.4,888.4 481.4,885.7 497.6,885.7 M465.1,891.3 C481.4,891.3 481.4,888.1 497.6,888.1 M465.1,895.1 C481.4,895.1 481.4,891.2 497.6,891.2 M465.1,897.0 C481.4,897.0 481.4,892.8 497.6,892.8 M465.1,900.4 C481.4,900.4 481.4,895.7 497.6,895.7 M465.1,903.3 C481.4,903.3 481.4,898.1 497.6,898.1 M465.1,908.0 C481.4,908.0 481.4,902.0 497.6,902.0 M465.1,911.5 C481.4,911.5 481.4,904.9 497.6,904.9 M465.1,914.2 C481.4,914.2 481.4,907.2 497.6,907.2 M465.1,916.8 C481.4,916.8 481.4,909.4 497.6,909.4 M465.1,920.9 C481.4,920.9 481.4,912.8 497.6,912.8 M465.1,924.1 C481.4,924.1 481.4,915.4 497.6,915.4 M465.1,926.9 C481.4,926.9 481.4,917.7 497.6,917.7 M465.1,929.5 C481.4,929.5 481.4,919.9 497.6,919.9 M465.1,932.8 C481.4,932.8 481.4,922.7 497.6,922.7 M465.1,936.3 C481.4,936.3 481.4,925.6 497.6,925.6 M465.1,939.3 C481.4,939.3 481.4,928.1 497.6,928.1 M465.1,942.7 C481.4,942.7 481.4,930.9 497.6,930.9 M465.1,946.4 C481.4,946.4 481.4,934.0 497.6,934.0 M465.1,950.1 C481.4,950.1 481.4,937.1 497.6,937.1 M465.1,951.7 C481.4,951.7 481.4,938.4 497.6,938.4 M465.1,955.9 C481.4,955.9 481.4,941.9 497.6,941.9 M465.1,958.1 C481.4,958.1 481.4,943.7 497.6,943.7 " fill="none" stroke="#fff" stroke-width="0.55" stroke-opacity="0.85"/>
<path d="M465.1,882.7 C481.4,882.7 481.4,880.9 497.6,880.9" fill="none" stroke="#EBAA35" stroke-width="0.8" stroke-opacity="0.8"/>
<path d="M465.1,945.1 C481.4,945.1 481.4,932.9 497.6,932.9" fill="none" stroke="#EBAA35" stroke-width="0.8" stroke-opacity="0.8"/>
<path d="M465.1,923.9 C481.4,923.9 481.4,915.2 497.6,915.2" fill="none" stroke="#EBAA35" stroke-width="0.8" stroke-opacity="0.8"/>
<path d="M465.1,992.2 C481.4,992.2 481.4,972.2 497.6,972.2 L497.6,1008.9 C481.4,1008.9 481.4,1050.7 465.1,1050.7 Z" fill="#e1e1e1" fill-opacity="1.0"/>
<path d="M465.1,996.3 C481.4,996.3 481.4,974.8 497.6,974.8 M465.1,998.6 C481.4,998.6 481.4,976.2 497.6,976.2 M465.1,1001.0 C481.4,1001.0 481.4,977.7 497.6,977.7 M465.1,1005.0 C481.4,1005.0 481.4,980.2 497.6,980.2 M465.1,1008.7 C481.4,1008.7 481.4,982.5 497.6,982.5 M465.1,1012.6 C481.4,1012.6 481.4,985.0 497.6,985.0 M465.1,1015.9 C481.4,1015.9 481.4,987.1 497.6,987.1 M465.1,1018.2 C481.4,1018.2 481.4,988.5 497.6,988.5 M465.1,1021.3 C481.4,1021.3 481.4,990.5 497.6,990.5 M465.1,1023.9 C481.4,1023.9 481.4,992.1 497.6,992.1 M465.1,1028.2 C481.4,1028.2 481.4,994.8 497.6,994.8 M465.1,1030.6 C481.4,1030.6 481.4,996.3 497.6,996.3 M465.1,1033.8 C481.4,1033.8 481.4,998.3 497.6,998.3 M465.1,1036.7 C481.4,1036.7 481.4,1000.2 497.6,1000.2 M465.1,1040.0 C481.4,1040.0 481.4,1002.2 497.6,1002.2 M465.1,1044.5 C481.4,1044.5 481.4,1005.1 497.6,1005.1 M465.1,1046.7 C481.4,1046.7 481.4,1006.4 497.6,1006.4 " fill="none" stroke="#fff" stroke-width="0.55" stroke-opacity="0.85"/>
<path d="M465.1,1048.7 C481.4,1048.7 481.4,1007.7 497.6,1007.7" fill="none" stroke="#EBAA35" stroke-width="0.8" stroke-opacity="0.8"/>
<path d="M465.1,997.4 C481.4,997.4 481.4,975.4 497.6,975.4" fill="none" stroke="#EBAA35" stroke-width="0.8" stroke-opacity="0.8"/>
<path d="M465.1,963.9 C481.4,963.9 481.4,948.0 497.6,948.0 L497.6,955.5 C481.4,955.5 481.4,975.5 465.1,975.5 Z" fill="#EBB03E" fill-opacity="1.0"/>
<path d="M465.1,985.6 C481.4,985.6 481.4,967.2 497.6,967.2 L497.6,972.2 C481.4,972.2 481.4,992.2 465.1,992.2 Z" fill="#EBB03E" fill-opacity="1.0"/>
<path d="M465.1,1050.7 C481.4,1050.7 481.4,1008.9 497.6,1008.9 L497.6,1064.0 C481.4,1064.0 481.4,1090.8 465.1,1090.8 Z" fill="#EBB03E" fill-opacity="1.0"/>
<path d="M465.1,1090.8 C481.4,1090.8 481.4,1064.0 497.6,1064.0 L497.6,1064.9 C481.4,1064.9 481.4,1124.1 465.1,1124.1 Z" fill="#EBB03E" fill-opacity="1.0"/>
<path d="M465.1,1087.5 C481.4,1087.5 481.4,899.1 497.6,899.1" fill="none" stroke="#9AD860" stroke-width="0.7" stroke-opacity="0.5"/>
<path d="M465.1,879.6 C481.4,879.6 481.4,1008.2 497.6,1008.2" fill="none" stroke="#9AD860" stroke-width="0.7" stroke-opacity="0.5"/>
<path d="M465.1,934.4 C481.4,934.4 481.4,1010.8 497.6,1010.8" fill="none" stroke="#9AD860" stroke-width="0.7" stroke-opacity="0.5"/>
<path d="M465.1,921.0 C481.4,921.0 481.4,884.6 497.6,884.6" fill="none" stroke="#9AD860" stroke-width="0.7" stroke-opacity="0.5"/>
<path d="M465.1,1064.2 C481.4,1064.2 481.4,1007.1 497.6,1007.1" fill="none" stroke="#9AD860" stroke-width="0.7" stroke-opacity="0.5"/>
<path d="M465.1,1084.0 C481.4,1084.0 481.4,1010.1 497.6,1010.1" fill="none" stroke="#72D4F0" stroke-width="0.7" stroke-opacity="0.6"/>
<path d="M465.1,895.9 C481.4,895.9 481.4,991.4 497.6,991.4" fill="none" stroke="#72D4F0" stroke-width="0.7" stroke-opacity="0.6"/>
<path d="M530.1,872.0 C546.3,872.0 546.3,1002.3 562.4,1002.3 L562.4,1027.3 C546.3,1027.3 546.3,912.1 530.1,912.1 Z" fill="#e1e1e1" fill-opacity="1.0"/>
<path d="M530.1,875.8 C546.3,875.8 546.3,1004.6 562.4,1004.6 M530.1,878.6 C546.3,878.6 546.3,1006.4 562.4,1006.4 M530.1,882.9 C546.3,882.9 546.3,1009.1 562.4,1009.1 M530.1,884.9 C546.3,884.9 546.3,1010.3 562.4,1010.3 M530.1,889.6 C546.3,889.6 546.3,1013.3 562.4,1013.3 M530.1,892.5 C546.3,892.5 546.3,1015.1 562.4,1015.1 M530.1,894.4 C546.3,894.4 546.3,1016.3 562.4,1016.3 M530.1,897.8 C546.3,897.8 546.3,1018.3 562.4,1018.3 M530.1,902.4 C546.3,902.4 546.3,1021.2 562.4,1021.2 M530.1,906.0 C546.3,906.0 546.3,1023.5 562.4,1023.5 M530.1,907.9 C546.3,907.9 546.3,1024.7 562.4,1024.7 " fill="none" stroke="#fff" stroke-width="0.55" stroke-opacity="0.85"/>
<path d="M530.1,884.5 C546.3,884.5 546.3,1010.0 562.4,1010.0" fill="none" stroke="#EBAA35" stroke-width="0.8" stroke-opacity="0.8"/>
<path d="M530.1,1045.7 C546.3,1045.7 546.3,1030.6 562.4,1030.6 L562.4,1047.3 C546.3,1047.3 546.3,1082.4 530.1,1082.4 Z" fill="#e1e1e1" fill-opacity="1.0"/>
<path d="M530.1,1049.5 C546.3,1049.5 546.3,1032.4 562.4,1032.4 M530.1,1051.7 C546.3,1051.7 546.3,1033.4 562.4,1033.4 M530.1,1056.4 C546.3,1056.4 546.3,1035.5 562.4,1035.5 M530.1,1059.0 C546.3,1059.0 546.3,1036.7 562.4,1036.7 M530.1,1061.5 C546.3,1061.5 546.3,1037.8 562.4,1037.8 M530.1,1065.4 C546.3,1065.4 546.3,1039.6 562.4,1039.6 M530.1,1069.2 C546.3,1069.2 546.3,1041.3 562.4,1041.3 M530.1,1072.3 C546.3,1072.3 546.3,1042.7 562.4,1042.7 M530.1,1076.1 C546.3,1076.1 546.3,1044.5 562.4,1044.5 M530.1,1078.4 C546.3,1078.4 546.3,1045.5 562.4,1045.5 " fill="none" stroke="#fff" stroke-width="0.55" stroke-opacity="0.85"/>
<path d="M530.1,1075.0 C546.3,1075.0 546.3,1044.0 562.4,1044.0" fill="none" stroke="#EBAA35" stroke-width="0.8" stroke-opacity="0.8"/>
<path d="M530.1,949.1 C546.3,949.1 546.3,983.8 562.4,983.8" fill="none" stroke="#9AD860" stroke-width="0.7" stroke-opacity="0.5"/>
<path d="M530.1,1003.3 C546.3,1003.3 546.3,945.6 562.4,945.6" fill="none" stroke="#9AD860" stroke-width="0.7" stroke-opacity="0.5"/>
<path d="M530.1,953.7 C546.3,953.7 546.3,1007.5 562.4,1007.5" fill="none" stroke="#9AD860" stroke-width="0.7" stroke-opacity="0.5"/>
<path d="M530.1,1067.3 C546.3,1067.3 546.3,1007.3 562.4,1007.3" fill="none" stroke="#9AD860" stroke-width="0.7" stroke-opacity="0.5"/>
<path d="M530.1,990.5 C546.3,990.5 546.3,924.5 562.4,924.5" fill="none" stroke="#9AD860" stroke-width="0.7" stroke-opacity="0.5"/>
<path d="M530.1,887.6 C546.3,887.6 546.3,1039.1 562.4,1039.1" fill="none" stroke="#72D4F0" stroke-width="0.7" stroke-opacity="0.6"/>
<path d="M530.1,1018.2 C546.3,1018.2 546.3,1014.5 562.4,1014.5" fill="none" stroke="#72D4F0" stroke-width="0.7" stroke-opacity="0.6"/>
<path d="M564.8,1000.6 C581.0,1000.6 581.0,912.1 597.2,912.1 L597.2,962.2 C581.0,962.2 581.0,1047.3 564.8,1047.3 Z" fill="#e1e1e1" fill-opacity="1.0"/>
<path d="M564.8,1003.4 C581.0,1003.4 581.0,915.1 597.2,915.1 M564.8,1007.0 C581.0,1007.0 581.0,919.0 597.2,919.0 M564.8,1010.8 C581.0,1010.8 581.0,923.1 597.2,923.1 M564.8,1013.7 C581.0,1013.7 581.0,926.1 597.2,926.1 M564.8,1016.4 C581.0,1016.4 581.0,929.0 597.2,929.0 M564.8,1018.9 C581.0,1018.9 581.0,931.7 597.2,931.7 M564.8,1022.3 C581.0,1022.3 581.0,935.3 597.2,935.3 M564.8,1026.2 C581.0,1026.2 581.0,939.6 597.2,939.6 M564.8,1028.4 C581.0,1028.4 581.0,941.9 597.2,941.9 M564.8,1032.1 C581.0,1032.1 581.0,945.9 597.2,945.9 M564.8,1035.1 C581.0,1035.1 581.0,949.0 597.2,949.0 M564.8,1038.7 C581.0,1038.7 581.0,953.0 597.2,953.0 M564.8,1041.7 C581.0,1041.7 581.0,956.1 597.2,956.1 M564.8,1043.8 C581.0,1043.8 581.0,958.4 597.2,958.4 " fill="none" stroke="#fff" stroke-width="0.55" stroke-opacity="0.85"/>
<path d="M564.8,1000.7 C581.0,1000.7 581.0,912.2 597.2,912.2" fill="none" stroke="#EBAA35" stroke-width="0.8" stroke-opacity="0.8"/>
<path d="M564.8,1012.9 C581.0,1012.9 581.0,925.3 597.2,925.3" fill="none" stroke="#EBAA35" stroke-width="0.8" stroke-opacity="0.8"/>
<path d="M564.8,874.5 C581.0,874.5 581.0,871.2 597.2,871.2 L597.2,902.1 C581.0,902.1 581.0,965.5 564.8,965.5 Z" fill="#EBB03E" fill-opacity="1.0"/>
<path d="M564.8,970.5 C581.0,970.5 581.0,902.1 597.2,902.1 L597.2,912.1 C581.0,912.1 581.0,995.6 564.8,995.6 Z" fill="#EBB03E" fill-opacity="1.0"/>
<path d="M564.8,946.4 C581.0,946.4 581.0,924.2 597.2,924.2" fill="none" stroke="#9AD860" stroke-width="0.7" stroke-opacity="0.5"/>
<path d="M564.8,1012.5 C581.0,1012.5 581.0,949.3 597.2,949.3" fill="none" stroke="#9AD860" stroke-width="0.7" stroke-opacity="0.5"/>
<path d="M564.8,882.4 C581.0,882.4 581.0,944.8 597.2,944.8" fill="none" stroke="#9AD860" stroke-width="0.7" stroke-opacity="0.5"/>
<path d="M564.8,1011.8 C581.0,1011.8 581.0,947.6 597.2,947.6" fill="none" stroke="#9AD860" stroke-width="0.7" stroke-opacity="0.5"/>
<path d="M564.8,971.5 C581.0,971.5 581.0,898.1 597.2,898.1" fill="none" stroke="#9AD860" stroke-width="0.7" stroke-opacity="0.5"/>
<path d="M564.8,1018.5 C581.0,1018.5 581.0,942.6 597.2,942.6" fill="none" stroke="#72D4F0" stroke-width="0.7" stroke-opacity="0.6"/>
<path d="M564.8,990.5 C581.0,990.5 581.0,951.5 597.2,951.5" fill="none" stroke="#72D4F0" stroke-width="0.7" stroke-opacity="0.6"/>
<path d="M629.8,872.0 C645.9,872.0 645.9,872.0 662.1,872.0 L662.1,918.8 C645.9,918.8 645.9,915.4 629.8,915.4 Z" fill="#e1e1e1" fill-opacity="1.0"/>
<path d="M629.8,874.8 C645.9,874.8 645.9,875.1 662.1,875.1 M629.8,877.4 C645.9,877.4 645.9,877.9 662.1,877.9 M629.8,881.4 C645.9,881.4 645.9,882.1 662.1,882.1 M629.8,885.0 C645.9,885.0 645.9,886.0 662.1,886.0 M629.8,887.0 C645.9,887.0 645.9,888.1 662.1,888.1 M629.8,891.1 C645.9,891.1 645.9,892.6 662.1,892.6 M629.8,894.5 C645.9,894.5 645.9,896.3 662.1,896.3 M629.8,896.3 C645.9,896.3 645.9,898.2 662.1,898.2 M629.8,900.1 C645.9,900.1 645.9,902.3 662.1,902.3 M629.8,903.4 C645.9,903.4 645.9,905.8 662.1,905.8 M629.8,906.1 C645.9,906.1 645.9,908.7 662.1,908.7 M629.8,908.7 C645.9,908.7 645.9,911.5 662.1,911.5 M629.8,911.9 C645.9,911.9 645.9,914.9 662.1,914.9 " fill="none" stroke="#fff" stroke-width="0.55" stroke-opacity="0.85"/>
<path d="M629.8,904.6 C645.9,904.6 645.9,907.1 662.1,907.1" fill="none" stroke="#EBAA35" stroke-width="0.8" stroke-opacity="0.8"/>
<path d="M629.8,915.4 C645.9,915.4 645.9,1009.8 662.1,1009.8 L662.1,957.2 C645.9,957.2 645.9,1028.1 629.8,1028.1 Z" fill="#EBB03E" fill-opacity="1.0"/>
<path d="M629.8,1038.9 C645.9,1038.9 645.9,943.5 662.1,943.5" fill="none" stroke="#9AD860" stroke-width="0.7" stroke-opacity="0.5"/>
<path d="M629.8,893.4 C645.9,893.4 645.9,994.9 662.1,994.9" fill="none" stroke="#9AD860" stroke-width="0.7" stroke-opacity="0.5"/>
<path d="M629.8,1034.9 C645.9,1034.9 645.9,909.8 662.1,909.8" fill="none" stroke="#9AD860" stroke-width="0.7" stroke-opacity="0.5"/>
<path d="M629.8,995.1 C645.9,995.1 645.9,1008.3 662.1,1008.3" fill="none" stroke="#9AD860" stroke-width="0.7" stroke-opacity="0.5"/>
<path d="M629.8,1058.2 C645.9,1058.2 645.9,952.7 662.1,952.7" fill="none" stroke="#9AD860" stroke-width="0.7" stroke-opacity="0.5"/>
<path d="M629.8,973.8 C645.9,973.8 645.9,962.7 662.1,962.7" fill="none" stroke="#72D4F0" stroke-width="0.7" stroke-opacity="0.6"/>
<path d="M629.8,914.4 C645.9,914.4 645.9,903.8 662.1,903.8" fill="none" stroke="#72D4F0" stroke-width="0.7" stroke-opacity="0.6"/>
<path d="M664.5,872.0 C680.7,872.0 680.7,872.0 696.9,872.0 L696.9,905.4 C680.7,905.4 680.7,917.1 664.5,917.1 Z" fill="#e1e1e1" fill-opacity="1.0"/>
<path d="M664.5,874.6 C680.7,874.6 680.7,873.9 696.9,873.9 M664.5,878.8 C680.7,878.8 680.7,877.1 696.9,877.1 M664.5,881.4 C680.7,881.4 680.7,879.0 696.9,879.0 M664.5,885.0 C680.7,885.0 680.7,881.7 696.9,881.7 M664.5,887.9 C680.7,887.9 680.7,883.8 696.9,883.8 M664.5,891.4 C680.7,891.4 680.7,886.4 696.9,886.4 M664.5,893.9 C680.7,893.9 680.7,888.2 696.9,888.2 M664.5,896.9 C680.7,896.9 680.7,890.4 696.9,890.4 M664.5,902.0 C680.7,902.0 680.7,894.2 696.9,894.2 M664.5,904.0 C680.7,904.0 680.7,895.7 696.9,895.7 M664.5,906.7 C680.7,906.7 680.7,897.7 696.9,897.7 M664.5,910.9 C680.7,910.9 680.7,900.8 696.9,900.8 M664.5,914.4 C680.7,914.4 680.7,903.4 696.9,903.4 " fill="none" stroke="#fff" stroke-width="0.55" stroke-opacity="0.85"/>
<path d="M664.5,879.1 C680.7,879.1 680.7,877.2 696.9,877.2" fill="none" stroke="#EBAA35" stroke-width="0.8" stroke-opacity="0.8"/>
<path d="M664.5,945.5 C680.7,945.5 680.7,939.6 696.9,939.6 L696.9,1013.9 C680.7,1013.9 680.7,1027.3 664.5,1027.3 Z" fill="#e1e1e1" fill-opacity="1.0"/>
<path d="M664.5,948.9 C680.7,948.9 680.7,942.8 696.9,942.8 M664.5,951.7 C680.7,951.7 680.7,945.3 696.9,945.3 M664.5,955.3 C680.7,955.3 680.7,948.6 696.9,948.6 M664.5,957.6 C680.7,957.6 680.7,950.7 696.9,950.7 M664.5,960.9 C680.7,960.9 680.7,953.7 696.9,953.7 M664.5,966.1 C680.7,966.1 680.7,958.3 696.9,958.3 M664.5,969.1 C680.7,969.1 680.7,961.1 696.9,961.1 M664.5,971.6 C680.7,971.6 680.7,963.4 696.9,963.4 M664.5,975.1 C680.7,975.1 680.7,966.5 696.9,966.5 M664.5,977.7 C680.7,977.7 680.7,968.9 696.9,968.9 M664.5,982.0 C680.7,982.0 680.7,972.8 696.9,972.8 M664.5,984.6 C680.7,984.6 680.7,975.2 696.9,975.2 M664.5,988.9 C680.7,988.9 680.7,979.1 696.9,979.1 M664.5,991.8 C680.7,991.8 680.7,981.7 696.9,981.7 M664.5,995.2 C680.7,995.2 680.7,984.8 696.9,984.8 M664.5,998.8 C680.7,998.8 680.7,988.0 696.9,988.0 M664.5,1000.6 C680.7,1000.6 680.7,989.7 696.9,989.7 M664.5,1003.5 C680.7,1003.5 680.7,992.3 696.9,992.3 M664.5,1007.1 C680.7,1007.1 680.7,995.6 696.9,995.6 M664.5,1010.3 C680.7,1010.3 680.7,998.5 696.9,998.5 M664.5,1013.4 C680.7,1013.4 680.7,1001.3 696.9,1001.3 M664.5,1016.6 C680.7,1016.6 680.7,1004.2 696.9,1004.2 M664.5,1020.9 C680.7,1020.9 680.7,1008.1 696.9,1008.1 M664.5,1024.8 C680.7,1024.8 680.7,1011.6 696.9,1011.6 " fill="none" stroke="#fff" stroke-width="0.55" stroke-opacity="0.85"/>
<path d="M664.5,983.0 C680.7,983.0 680.7,973.7 696.9,973.7" fill="none" stroke="#EBAA35" stroke-width="0.8" stroke-opacity="0.8"/>
<path d="M664.5,1023.0 C680.7,1023.0 680.7,1010.0 696.9,1010.0" fill="none" stroke="#EBAA35" stroke-width="0.8" stroke-opacity="0.8"/>
<path d="M664.5,1019.9 C680.7,1019.9 680.7,1007.3 696.9,1007.3" fill="none" stroke="#EBAA35" stroke-width="0.8" stroke-opacity="0.8"/>
<path d="M664.5,917.1 C680.7,917.1 680.7,921.3 696.9,921.3 L696.9,922.9 C680.7,922.9 680.7,919.6 664.5,919.6 Z" fill="#EBB03E" fill-opacity="1.0"/>
<path d="M664.5,942.1 C680.7,942.1 680.7,934.6 696.9,934.6 L696.9,939.6 C680.7,939.6 680.7,945.5 664.5,945.5 Z" fill="#EBB03E" fill-opacity="1.0"/>
<path d="M664.5,1021.5 C680.7,1021.5 680.7,1007.3 696.9,1007.3 L696.9,1009.8 C680.7,1009.8 680.7,1023.1 664.5,1023.1 Z" fill="#EBB03E" fill-opacity="1.0"/>
<path d="M664.5,884.8 C680.7,884.8 680.7,955.0 696.9,955.0" fill="none" stroke="#9AD860" stroke-width="0.7" stroke-opacity="0.5"/>
<path d="M664.5,934.2 C680.7,934.2 680.7,891.3 696.9,891.3" fill="none" stroke="#9AD860" stroke-width="0.7" stroke-opacity="0.5"/>
<path d="M664.5,1017.6 C680.7,1017.6 680.7,909.6 696.9,909.6" fill="none" stroke="#9AD860" stroke-width="0.7" stroke-opacity="0.5"/>
<path d="M664.5,959.0 C680.7,959.0 680.7,960.7 696.9,960.7" fill="none" stroke="#9AD860" stroke-width="0.7" stroke-opacity="0.5"/>
<path d="M664.5,1017.1 C680.7,1017.1 680.7,964.6 696.9,964.6" fill="none" stroke="#9AD860" stroke-width="0.7" stroke-opacity="0.5"/>
<path d="M664.5,933.6 C680.7,933.6 680.7,935.1 696.9,935.1" fill="none" stroke="#72D4F0" stroke-width="0.7" stroke-opacity="0.6"/>
<path d="M664.5,899.0 C680.7,899.0 680.7,1004.0 696.9,1004.0" fill="none" stroke="#72D4F0" stroke-width="0.7" stroke-opacity="0.6"/>
<path d="M729.4,918.2 C745.6,918.2 745.6,908.8 761.7,908.8 L761.7,961.2 C745.6,961.2 745.6,970.6 729.4,970.6 Z" fill="#e1e1e1" fill-opacity="1.0"/>
<path d="M729.4,922.4 C745.6,922.4 745.6,913.0 761.7,913.0 M729.4,924.2 C745.6,924.2 745.6,914.8 761.7,914.8 M729.4,927.1 C745.6,927.1 745.6,917.7 761.7,917.7 M729.4,930.8 C745.6,930.8 745.6,921.4 761.7,921.4 M729.4,934.2 C745.6,934.2 745.6,924.9 761.7,924.9 M729.4,938.6 C745.6,938.6 745.6,929.2 761.7,929.2 M729.4,941.9 C745.6,941.9 745.6,932.5 761.7,932.5 M729.4,945.0 C745.6,945.0 745.6,935.7 761.7,935.7 M729.4,946.8 C745.6,946.8 745.6,937.4 761.7,937.4 M729.4,951.5 C745.6,951.5 745.6,942.1 761.7,942.1 M729.4,954.6 C745.6,954.6 745.6,945.2 761.7,945.2 M729.4,957.8 C745.6,957.8 745.6,948.4 761.7,948.4 M729.4,961.7 C745.6,961.7 745.6,952.3 761.7,952.3 M729.4,963.1 C745.6,963.1 745.6,953.8 761.7,953.8 M729.4,966.6 C745.6,966.6 745.6,957.2 761.7,957.2 " fill="none" stroke="#fff" stroke-width="0.55" stroke-opacity="0.85"/>
<path d="M729.4,957.7 C745.6,957.7 745.6,948.4 761.7,948.4" fill="none" stroke="#EBAA35" stroke-width="0.8" stroke-opacity="0.8"/>
<path d="M729.4,967.4 C745.6,967.4 745.6,958.0 761.7,958.0" fill="none" stroke="#EBAA35" stroke-width="0.8" stroke-opacity="0.8"/>
<path d="M729.4,977.1 C745.6,977.1 745.6,978.1 761.7,978.1 L761.7,1150.3 C745.6,1150.3 745.6,1105.4 729.4,1105.4 Z" fill="#e1e1e1" fill-opacity="1.0"/>
<path d="M729.4,979.8 C745.6,979.8 745.6,981.7 761.7,981.7 M729.4,981.7 C745.6,981.7 745.6,984.2 761.7,984.2 M729.4,984.5 C745.6,984.5 745.6,988.0 761.7,988.0 M729.4,987.2 C745.6,987.2 745.6,991.6 761.7,991.6 M729.4,988.6 C745.6,988.6 745.6,993.5 761.7,993.5 M729.4,991.4 C745.6,991.4 745.6,997.2 761.7,997.2 M729.4,993.7 C745.6,993.7 745.6,1000.3 761.7,1000.3 M729.4,995.9 C745.6,995.9 745.6,1003.3 761.7,1003.3 M729.4,998.9 C745.6,998.9 745.6,1007.3 761.7,1007.3 M729.4,1000.8 C745.6,1000.8 745.6,1009.9 761.7,1009.9 M729.4,1003.4 C745.6,1003.4 745.6,1013.3 761.7,1013.3 M729.4,1005.6 C745.6,1005.6 745.6,1016.4 761.7,1016.4 M729.4,1008.8 C745.6,1008.8 745.6,1020.7 761.7,1020.7 M729.4,1010.3 C745.6,1010.3 745.6,1022.6 761.7,1022.6 M729.4,1013.7 C745.6,1013.7 745.6,1027.2 761.7,1027.2 M729.4,1015.4 C745.6,1015.4 745.6,1029.5 761.7,1029.5 M729.4,1017.6 C745.6,1017.6 745.6,1032.4 761.7,1032.4 M729.4,1021.3 C745.6,1021.3 745.6,1037.4 761.7,1037.4 M729.4,1022.7 C745.6,1022.7 745.6,1039.3 761.7,1039.3 M729.4,1026.1 C745.6,1026.1 745.6,1043.9 761.7,1043.9 M729.4,1028.5 C745.6,1028.5 745.6,1047.0 761.7,1047.0 M729.4,1030.9 C745.6,1030.9 745.6,1050.3 761.7,1050.3 M729.4,1032.2 C745.6,1032.2 745.6,1052.1 761.7,1052.1 M729.4,1035.1 C745.6,1035.1 745.6,1055.9 761.7,1055.9 M729.4,1037.0 C745.6,1037.0 745.6,1058.5 761.7,1058.5 M729.4,1040.7 C745.6,1040.7 745.6,1063.4 761.7,1063.4 M729.4,1042.9 C745.6,1042.9 745.6,1066.5 761.7,1066.5 M729.4,1045.1 C745.6,1045.1 745.6,1069.3 761.7,1069.3 M729.4,1047.2 C745.6,1047.2 745.6,1072.2 761.7,1072.2 M729.4,1049.5 C745.6,1049.5 745.6,1075.2 761.7,1075.2 M729.4,1052.6 C745.6,1052.6 745.6,1079.4 761.7,1079.4 M729.4,1054.5 C745.6,1054.5 745.6,1082.0 761.7,1082.0 M729.4,1057.2 C745.6,1057.2 745.6,1085.5 761.7,1085.5 M729.4,1058.9 C745.6,1058.9 745.6,1087.8 761.7,1087.8 M729.4,1061.4 C745.6,1061.4 745.6,1091.2 761.7,1091.2 M729.4,1063.6 C745.6,1063.6 745.6,1094.2 761.7,1094.2 M729.4,1067.0 C745.6,1067.0 745.6,1098.7 761.7,1098.7 M729.4,1069.1 C745.6,1069.1 745.6,1101.6 761.7,1101.6 M729.4,1071.0 C745.6,1071.0 745.6,1104.1 761.7,1104.1 M729.4,1074.4 C745.6,1074.4 745.6,1108.8 761.7,1108.8 M729.4,1076.0 C745.6,1076.0 745.6,1110.8 761.7,1110.8 M729.4,1078.6 C745.6,1078.6 745.6,1114.4 761.7,1114.4 M729.4,1080.7 C745.6,1080.7 745.6,1117.1 761.7,1117.1 M729.4,1083.2 C745.6,1083.2 745.6,1120.6 761.7,1120.6 M729.4,1086.5 C745.6,1086.5 745.6,1124.9 761.7,1124.9 M729.4,1088.2 C745.6,1088.2 745.6,1127.2 761.7,1127.2 M729.4,1090.4 C745.6,1090.4 745.6,1130.1 761.7,1130.1 M729.4,1093.2 C745.6,1093.2 745.6,1134.0 761.7,1134.0 M729.4,1095.4 C745.6,1095.4 745.6,1136.9 761.7,1136.9 M729.4,1098.7 C745.6,1098.7 745.6,1141.3 761.7,1141.3 M729.4,1100.0 C745.6,1100.0 745.6,1143.0 761.7,1143.0 M729.4,1103.6 C745.6,1103.6 745.6,1148.0 761.7,1148.0 " fill="none" stroke="#fff" stroke-width="0.55" stroke-opacity="0.85"/>
<path d="M729.4,984.4 C745.6,984.4 745.6,987.9 761.7,987.9" fill="none" stroke="#EBAA35" stroke-width="0.8" stroke-opacity="0.8"/>
<path d="M729.4,1091.9 C745.6,1091.9 745.6,1132.2 761.7,1132.2" fill="none" stroke="#EBAA35" stroke-width="0.8" stroke-opacity="0.8"/>
<path d="M729.4,1062.8 C745.6,1062.8 745.6,1093.2 761.7,1093.2" fill="none" stroke="#EBAA35" stroke-width="0.8" stroke-opacity="0.8"/>
<path d="M729.4,1004.2 C745.6,1004.2 745.6,1014.4 761.7,1014.4" fill="none" stroke="#EBAA35" stroke-width="0.8" stroke-opacity="0.8"/>
<path d="M729.4,1038.3 C745.6,1038.3 745.6,1060.3 761.7,1060.3" fill="none" stroke="#EBAA35" stroke-width="0.8" stroke-opacity="0.8"/>
<path d="M729.4,1013.8 C745.6,1013.8 745.6,1027.4 761.7,1027.4" fill="none" stroke="#EBAA35" stroke-width="0.8" stroke-opacity="0.8"/>
<path d="M729.4,870.4 C745.6,870.4 745.6,908.8 761.7,908.8 L761.7,870.4 C745.6,870.4 745.6,918.2 729.4,918.2 Z" fill="#EBB03E" fill-opacity="1.0"/>
<path d="M729.4,962.1 C745.6,962.1 745.6,963.1 761.7,963.1 L761.7,965.9 C745.6,965.9 745.6,964.0 729.4,964.0 Z" fill="#EBB03E" fill-opacity="1.0"/>
<path d="M729.4,970.6 C745.6,970.6 745.6,978.1 761.7,978.1 L761.7,972.4 C745.6,972.4 745.6,977.1 729.4,977.1 Z" fill="#EBB03E" fill-opacity="1.0"/>
<path d="M729.4,985.5 C745.6,985.5 745.6,1011.8 761.7,1011.8 L761.7,1023.0 C745.6,1023.0 745.6,989.3 729.4,989.3 Z" fill="#EBB03E" fill-opacity="1.0"/>
<path d="M729.4,1006.1 C745.6,1006.1 745.6,1019.2 761.7,1019.2 L761.7,1026.7 C745.6,1026.7 745.6,1011.8 729.4,1011.8 Z" fill="#EBB03E" fill-opacity="1.0"/>
<path d="M729.4,1026.7 C745.6,1026.7 745.6,1034.2 761.7,1034.2 L761.7,1045.5 C745.6,1045.5 745.6,1030.5 729.4,1030.5 Z" fill="#EBB03E" fill-opacity="1.0"/>
<path d="M729.4,933.3 C745.6,933.3 745.6,929.6 761.7,929.6" fill="none" stroke="#9AD860" stroke-width="0.7" stroke-opacity="0.5"/>
<path d="M729.4,957.2 C745.6,957.2 745.6,1142.3 761.7,1142.3" fill="none" stroke="#9AD860" stroke-width="0.7" stroke-opacity="0.5"/>
<path d="M729.4,1099.8 C745.6,1099.8 745.6,1124.5 761.7,1124.5" fill="none" stroke="#9AD860" stroke-width="0.7" stroke-opacity="0.5"/>
<path d="M729.4,897.2 C745.6,897.2 745.6,953.3 761.7,953.3" fill="none" stroke="#9AD860" stroke-width="0.7" stroke-opacity="0.5"/>
<path d="M729.4,1076.9 C745.6,1076.9 745.6,890.8 761.7,890.8" fill="none" stroke="#9AD860" stroke-width="0.7" stroke-opacity="0.5"/>
<path d="M729.4,1038.7 C745.6,1038.7 745.6,954.4 761.7,954.4" fill="none" stroke="#72D4F0" stroke-width="0.7" stroke-opacity="0.6"/>
<path d="M729.4,1095.4 C745.6,1095.4 745.6,879.6 761.7,879.6" fill="none" stroke="#72D4F0" stroke-width="0.7" stroke-opacity="0.6"/>
<path d="M764.1,870.4 C780.3,870.4 780.3,870.4 796.5,870.4 L796.5,933.1 C780.3,933.1 780.3,927.5 764.1,927.5 Z" fill="#e1e1e1" fill-opacity="1.0"/>
<path d="M764.1,874.0 C780.3,874.0 780.3,874.3 796.5,874.3 M764.1,876.1 C780.3,876.1 780.3,876.7 796.5,876.7 M764.1,878.8 C780.3,878.8 780.3,879.6 796.5,879.6 M764.1,881.5 C780.3,881.5 780.3,882.6 796.5,882.6 M764.1,886.0 C780.3,886.0 780.3,887.6 796.5,887.6 M764.1,888.5 C780.3,888.5 780.3,890.3 796.5,890.3 M764.1,890.9 C780.3,890.9 780.3,892.9 796.5,892.9 M764.1,894.3 C780.3,894.3 780.3,896.7 796.5,896.7 M764.1,898.2 C780.3,898.2 780.3,900.9 796.5,900.9 M764.1,900.0 C780.3,900.0 780.3,902.9 796.5,902.9 M764.1,903.6 C780.3,903.6 780.3,906.9 796.5,906.9 M764.1,905.8 C780.3,905.8 780.3,909.3 796.5,909.3 M764.1,908.9 C780.3,908.9 780.3,912.7 796.5,912.7 M764.1,913.0 C780.3,913.0 780.3,917.2 796.5,917.2 M764.1,915.9 C780.3,915.9 780.3,920.4 796.5,920.4 M764.1,918.0 C780.3,918.0 780.3,922.6 796.5,922.6 M764.1,920.7 C780.3,920.7 780.3,925.7 796.5,925.7 M764.1,923.8 C780.3,923.8 780.3,929.0 796.5,929.0 " fill="none" stroke="#fff" stroke-width="0.55" stroke-opacity="0.85"/>
<path d="M764.1,905.2 C780.3,905.2 780.3,908.6 796.5,908.6" fill="none" stroke="#EBAA35" stroke-width="0.8" stroke-opacity="0.8"/>
<path d="M764.1,898.7 C780.3,898.7 780.3,901.5 796.5,901.5" fill="none" stroke="#EBAA35" stroke-width="0.8" stroke-opacity="0.8"/>
<path d="M764.1,1026.7 C780.3,1026.7 780.3,976.2 796.5,976.2 L796.5,1070.7 C780.3,1070.7 780.3,1150.3 764.1,1150.3 Z" fill="#e1e1e1" fill-opacity="1.0"/>
<path d="M764.1,1029.5 C780.3,1029.5 780.3,978.3 796.5,978.3 M764.1,1032.7 C780.3,1032.7 780.3,980.7 796.5,980.7 M764.1,1036.7 C780.3,1036.7 780.3,983.8 796.5,983.8 M764.1,1040.1 C780.3,1040.1 780.3,986.5 796.5,986.5 M764.1,1043.6 C780.3,1043.6 780.3,989.1 796.5,989.1 M764.1,1046.4 C780.3,1046.4 780.3,991.2 796.5,991.2 M764.1,1048.9 C780.3,1048.9 780.3,993.2 796.5,993.2 M764.1,1051.9 C780.3,1051.9 780.3,995.4 796.5,995.4 M764.1,1056.4 C780.3,1056.4 780.3,998.9 796.5,998.9 M764.1,1059.1 C780.3,1059.1 780.3,1000.9 796.5,1000.9 M764.1,1062.9 C780.3,1062.9 780.3,1003.9 796.5,1003.9 M764.1,1064.9 C780.3,1064.9 780.3,1005.4 796.5,1005.4 M764.1,1069.6 C780.3,1069.6 780.3,1009.0 796.5,1009.0 M764.1,1071.9 C780.3,1071.9 780.3,1010.8 796.5,1010.8 M764.1,1076.2 C780.3,1076.2 780.3,1014.0 796.5,1014.0 M764.1,1079.5 C780.3,1079.5 780.3,1016.5 796.5,1016.5 M764.1,1082.0 C780.3,1082.0 780.3,1018.5 796.5,1018.5 M764.1,1084.3 C780.3,1084.3 780.3,1020.2 796.5,1020.2 M764.1,1089.3 C780.3,1089.3 780.3,1024.1 796.5,1024.1 M764.1,1091.7 C780.3,1091.7 780.3,1025.9 796.5,1025.9 M764.1,1095.7 C780.3,1095.7 780.3,1029.0 796.5,1029.0 M764.1,1097.8 C780.3,1097.8 780.3,1030.6 796.5,1030.6 M764.1,1100.9 C780.3,1100.9 780.3,1032.9 796.5,1032.9 M764.1,1105.4 C780.3,1105.4 780.3,1036.4 796.5,1036.4 M764.1,1107.8 C780.3,1107.8 780.3,1038.2 796.5,1038.2 M764.1,1110.6 C780.3,1110.6 780.3,1040.4 796.5,1040.4 M764.1,1114.3 C780.3,1114.3 780.3,1043.2 796.5,1043.2 M764.1,1118.0 C780.3,1118.0 780.3,1046.0 796.5,1046.0 M764.1,1120.1 C780.3,1120.1 780.3,1047.6 796.5,1047.6 M764.1,1124.3 C780.3,1124.3 780.3,1050.9 796.5,1050.9 M764.1,1127.4 C780.3,1127.4 780.3,1053.2 796.5,1053.2 M764.1,1130.8 C780.3,1130.8 780.3,1055.8 796.5,1055.8 M764.1,1133.3 C780.3,1133.3 780.3,1057.7 796.5,1057.7 M764.1,1137.7 C780.3,1137.7 780.3,1061.1 796.5,1061.1 M764.1,1141.1 C780.3,1141.1 780.3,1063.7 796.5,1063.7 M764.1,1144.5 C780.3,1144.5 780.3,1066.3 796.5,1066.3 M764.1,1146.7 C780.3,1146.7 780.3,1068.0 796.5,1068.0 " fill="none" stroke="#fff" stroke-width="0.55" stroke-opacity="0.85"/>
<path d="M764.1,1114.6 C780.3,1114.6 780.3,1043.4 796.5,1043.4" fill="none" stroke="#EBAA35" stroke-width="0.8" stroke-opacity="0.8"/>
<path d="M764.1,1073.9 C780.3,1073.9 780.3,1012.2 796.5,1012.2" fill="none" stroke="#EBAA35" stroke-width="0.8" stroke-opacity="0.8"/>
<path d="M764.1,1119.6 C780.3,1119.6 780.3,1047.2 796.5,1047.2" fill="none" stroke="#EBAA35" stroke-width="0.8" stroke-opacity="0.8"/>
<path d="M764.1,1034.3 C780.3,1034.3 780.3,982.0 796.5,982.0" fill="none" stroke="#EBAA35" stroke-width="0.8" stroke-opacity="0.8"/>
<path d="M764.1,882.6 C780.3,882.6 780.3,880.7 796.5,880.7 L796.5,885.4 C780.3,885.4 780.3,886.3 764.1,886.3 Z" fill="#EBB03E" fill-opacity="1.0"/>
<path d="M764.1,940.6 C780.3,940.6 780.3,931.3 796.5,931.3 L796.5,938.8 C780.3,938.8 780.3,950.0 764.1,950.0 Z" fill="#EBB03E" fill-opacity="1.0"/>
<path d="M764.1,944.4 C780.3,944.4 780.3,944.4 796.5,944.4 L796.5,948.1 C780.3,948.1 780.3,951.9 764.1,951.9 Z" fill="#EBB03E" fill-opacity="1.0"/>
<path d="M764.1,959.3 C780.3,959.3 780.3,953.7 796.5,953.7 L796.5,957.5 C780.3,957.5 780.3,964.0 764.1,964.0 Z" fill="#EBB03E" fill-opacity="1.0"/>
<path d="M764.1,979.9 C780.3,979.9 780.3,959.3 796.5,959.3 L796.5,976.2 C780.3,976.2 780.3,1026.7 764.1,1026.7 Z" fill="#EBB03E" fill-opacity="1.0"/>
<path d="M764.1,1039.8 C780.3,1039.8 780.3,983.7 796.5,983.7 L796.5,986.5 C780.3,986.5 780.3,1044.5 764.1,1044.5 Z" fill="#EBB03E" fill-opacity="1.0"/>
<path d="M764.1,1110.4 C780.3,1110.4 780.3,1057.0 796.5,1057.0" fill="none" stroke="#9AD860" stroke-width="0.7" stroke-opacity="0.5"/>
<path d="M764.1,1008.6 C780.3,1008.6 780.3,973.0 796.5,973.0" fill="none" stroke="#9AD860" stroke-width="0.7" stroke-opacity="0.5"/>
<path d="M764.1,1018.2 C780.3,1018.2 780.3,977.6 796.5,977.6" fill="none" stroke="#9AD860" stroke-width="0.7" stroke-opacity="0.5"/>
<path d="M764.1,880.9 C780.3,880.9 780.3,1059.5 796.5,1059.5" fill="none" stroke="#9AD860" stroke-width="0.7" stroke-opacity="0.5"/>
<path d="M764.1,935.6 C780.3,935.6 780.3,910.0 796.5,910.0" fill="none" stroke="#9AD860" stroke-width="0.7" stroke-opacity="0.5"/>
<path d="M764.1,903.0 C780.3,903.0 780.3,923.0 796.5,923.0" fill="none" stroke="#72D4F0" stroke-width="0.7" stroke-opacity="0.6"/>
<path d="M764.1,1095.4 C780.3,1095.4 780.3,881.0 796.5,881.0" fill="none" stroke="#72D4F0" stroke-width="0.7" stroke-opacity="0.6"/>
<path d="M829.1,984.6 C845.2,984.6 845.2,999.6 861.4,999.6 L861.4,1063.2 C845.2,1063.2 845.2,1028.6 829.1,1028.6 Z" fill="#e1e1e1" fill-opacity="0.55"/>
<path d="M829.1,986.4 C845.2,986.4 845.2,1002.1 861.4,1002.1 M829.1,989.5 C845.2,989.5 845.2,1006.7 861.4,1006.7 M829.1,991.1 C845.2,991.1 845.2,1009.0 861.4,1009.0 M829.1,993.2 C845.2,993.2 845.2,1012.0 861.4,1012.0 M829.1,996.3 C845.2,996.3 845.2,1016.5 861.4,1016.5 M829.1,998.6 C845.2,998.6 845.2,1019.8 861.4,1019.8 M829.1,1000.9 C845.2,1000.9 845.2,1023.1 861.4,1023.1 M829.1,1003.4 C845.2,1003.4 845.2,1026.8 861.4,1026.8 M829.1,1004.9 C845.2,1004.9 845.2,1028.9 861.4,1028.9 M829.1,1008.3 C845.2,1008.3 845.2,1033.8 861.4,1033.8 M829.1,1010.4 C845.2,1010.4 845.2,1036.9 861.4,1036.9 M829.1,1011.8 C845.2,1011.8 845.2,1038.9 861.4,1038.9 M829.1,1014.2 C845.2,1014.2 845.2,1042.4 861.4,1042.4 M829.1,1017.0 C845.2,1017.0 845.2,1046.5 861.4,1046.5 M829.1,1019.3 C845.2,1019.3 845.2,1049.8 861.4,1049.8 M829.1,1021.4 C845.2,1021.4 845.2,1052.7 861.4,1052.7 M829.1,1023.4 C845.2,1023.4 845.2,1055.8 861.4,1055.8 M829.1,1026.2 C845.2,1026.2 845.2,1059.7 861.4,1059.7 " fill="none" stroke="#fff" stroke-width="0.55" stroke-opacity="0.85"/>
<path d="M829.1,990.6 C845.2,990.6 845.2,1008.3 861.4,1008.3" fill="none" stroke="#EBAA35" stroke-width="0.8" stroke-opacity="0.8"/>
<path d="M829.1,1010.6 C845.2,1010.6 845.2,1037.3 861.4,1037.3" fill="none" stroke="#EBAA35" stroke-width="0.8" stroke-opacity="0.8"/>
<path d="M829.1,870.4 C845.2,870.4 845.2,870.4 861.4,870.4 L861.4,933.1 C845.2,933.1 845.2,947.2 829.1,947.2 Z" fill="#e1e1e1" fill-opacity="1.0"/>
<path d="M829.1,874.5 C845.2,874.5 845.2,873.7 861.4,873.7 M829.1,876.4 C845.2,876.4 845.2,875.3 861.4,875.3 M829.1,880.6 C845.2,880.6 845.2,878.7 861.4,878.7 M829.1,884.3 C845.2,884.3 845.2,881.7 861.4,881.7 M829.1,886.4 C845.2,886.4 845.2,883.5 861.4,883.5 M829.1,891.1 C845.2,891.1 845.2,887.3 861.4,887.3 M829.1,894.7 C845.2,894.7 845.2,890.2 861.4,890.2 M829.1,896.9 C845.2,896.9 845.2,892.1 861.4,892.1 M829.1,900.3 C845.2,900.3 845.2,894.8 861.4,894.8 M829.1,904.5 C845.2,904.5 845.2,898.2 861.4,898.2 M829.1,907.2 C845.2,907.2 845.2,900.5 861.4,900.5 M829.1,910.3 C845.2,910.3 845.2,903.0 861.4,903.0 M829.1,914.7 C845.2,914.7 845.2,906.6 861.4,906.6 M829.1,917.7 C845.2,917.7 845.2,909.0 861.4,909.0 M829.1,920.2 C845.2,920.2 845.2,911.1 861.4,911.1 M829.1,923.3 C845.2,923.3 845.2,913.6 861.4,913.6 M829.1,926.8 C845.2,926.8 845.2,916.5 861.4,916.5 M829.1,930.4 C845.2,930.4 845.2,919.4 861.4,919.4 M829.1,934.8 C845.2,934.8 845.2,923.0 861.4,923.0 M829.1,937.8 C845.2,937.8 845.2,925.5 861.4,925.5 M829.1,941.3 C845.2,941.3 845.2,928.4 861.4,928.4 M829.1,944.5 C845.2,944.5 845.2,930.9 861.4,930.9 " fill="none" stroke="#fff" stroke-width="0.55" stroke-opacity="0.85"/>
<path d="M829.1,935.5 C845.2,935.5 845.2,923.6 861.4,923.6" fill="none" stroke="#EBAA35" stroke-width="0.8" stroke-opacity="0.8"/>
<path d="M829.1,874.5 C845.2,874.5 845.2,873.8 861.4,873.8" fill="none" stroke="#EBAA35" stroke-width="0.8" stroke-opacity="0.8"/>
<path d="M829.1,910.1 C845.2,910.1 845.2,902.9 861.4,902.9" fill="none" stroke="#EBAA35" stroke-width="0.8" stroke-opacity="0.8"/>
<path d="M829.1,1110.0 C845.2,1110.0 845.2,1112.8 861.4,1112.8 L861.4,1119.4 C845.2,1119.4 845.2,1115.7 829.1,1115.7 Z" fill="#e1e1e1" fill-opacity="1.0"/>
<path d="M829.1,1113.6 C845.2,1113.6 845.2,1117.0 861.4,1117.0 " fill="none" stroke="#fff" stroke-width="0.55" stroke-opacity="0.85"/>
<path d="M829.1,893.8 C845.2,893.8 845.2,895.7 861.4,895.7 L861.4,898.5 C845.2,898.5 845.2,896.6 829.1,896.6 Z" fill="#EBB03E" fill-opacity="1.0"/>
<path d="M829.1,925.6 C845.2,925.6 845.2,932.2 861.4,932.2 L861.4,934.1 C845.2,934.1 845.2,927.5 829.1,927.5 Z" fill="#EBB03E" fill-opacity="1.0"/>
<path d="M829.1,947.2 C845.2,947.2 845.2,999.6 861.4,999.6 L861.4,954.7 C845.2,954.7 845.2,984.6 829.1,984.6 Z" fill="#EBB03E" fill-opacity="1.0"/>
<path d="M829.1,1028.6 C845.2,1028.6 845.2,1112.8 861.4,1112.8 L861.4,1068.9 C845.2,1068.9 845.2,1110.0 829.1,1110.0 Z" fill="#EBB03E" fill-opacity="1.0"/>
<path d="M829.1,1094.7 C845.2,1094.7 845.2,934.8 861.4,934.8" fill="none" stroke="#9AD860" stroke-width="0.7" stroke-opacity="0.5"/>
<path d="M829.1,974.4 C845.2,974.4 845.2,1026.3 861.4,1026.3" fill="none" stroke="#9AD860" stroke-width="0.7" stroke-opacity="0.5"/>
<path d="M829.1,960.9 C845.2,960.9 845.2,1002.0 861.4,1002.0" fill="none" stroke="#9AD860" stroke-width="0.7" stroke-opacity="0.5"/>
<path d="M829.1,891.6 C845.2,891.6 845.2,978.7 861.4,978.7" fill="none" stroke="#9AD860" stroke-width="0.7" stroke-opacity="0.5"/>
<path d="M829.1,993.8 C845.2,993.8 845.2,880.3 861.4,880.3" fill="none" stroke="#9AD860" stroke-width="0.7" stroke-opacity="0.5"/>
<path d="M829.1,908.0 C845.2,908.0 845.2,1106.8 861.4,1106.8" fill="none" stroke="#72D4F0" stroke-width="0.7" stroke-opacity="0.6"/>
<path d="M829.1,1057.6 C845.2,1057.6 845.2,1098.9 861.4,1098.9" fill="none" stroke="#72D4F0" stroke-width="0.7" stroke-opacity="0.6"/>
<path d="M863.8,870.4 C880.0,870.4 880.0,870.4 896.1,870.4 L896.1,893.8 C880.0,893.8 880.0,897.6 863.8,897.6 Z" fill="#e1e1e1" fill-opacity="1.0"/>
<path d="M863.8,874.1 C880.0,874.1 880.0,873.6 896.1,873.6 M863.8,877.8 C880.0,877.8 880.0,876.8 896.1,876.8 M863.8,881.4 C880.0,881.4 880.0,879.9 896.1,879.9 M863.8,884.8 C880.0,884.8 880.0,882.8 896.1,882.8 M863.8,886.4 C880.0,886.4 880.0,884.2 896.1,884.2 M863.8,891.1 C880.0,891.1 880.0,888.2 896.1,888.2 M863.8,893.7 C880.0,893.7 880.0,890.5 896.1,890.5 " fill="none" stroke="#fff" stroke-width="0.55" stroke-opacity="0.85"/>
<path d="M863.8,888.8 C880.0,888.8 880.0,886.3 896.1,886.3" fill="none" stroke="#EBAA35" stroke-width="0.8" stroke-opacity="0.8"/>
<path d="M863.8,942.5 C880.0,942.5 880.0,936.9 896.1,936.9 L896.1,983.7 C880.0,983.7 880.0,993.0 863.8,993.0 Z" fill="#e1e1e1" fill-opacity="1.0"/>
<path d="M863.8,945.4 C880.0,945.4 880.0,939.6 896.1,939.6 M863.8,949.3 C880.0,949.3 880.0,943.2 896.1,943.2 M863.8,953.5 C880.0,953.5 880.0,947.0 896.1,947.0 M863.8,956.2 C880.0,956.2 880.0,949.6 896.1,949.6 M863.8,958.8 C880.0,958.8 880.0,952.0 896.1,952.0 M863.8,962.8 C880.0,962.8 880.0,955.6 896.1,955.6 M863.8,965.9 C880.0,965.9 880.0,958.6 896.1,958.6 M863.8,970.4 C880.0,970.4 880.0,962.7 896.1,962.7 M863.8,972.4 C880.0,972.4 880.0,964.6 896.1,964.6 M863.8,975.8 C880.0,975.8 880.0,967.7 896.1,967.7 M863.8,979.9 C880.0,979.9 880.0,971.5 896.1,971.5 M863.8,982.2 C880.0,982.2 880.0,973.6 896.1,973.6 M863.8,986.5 C880.0,986.5 880.0,977.6 896.1,977.6 M863.8,990.6 C880.0,990.6 880.0,981.4 896.1,981.4 " fill="none" stroke="#fff" stroke-width="0.55" stroke-opacity="0.85"/>
<path d="M863.8,968.5 C880.0,968.5 880.0,960.9 896.1,960.9" fill="none" stroke="#EBAA35" stroke-width="0.8" stroke-opacity="0.8"/>
<path d="M863.8,956.1 C880.0,956.1 880.0,949.4 896.1,949.4" fill="none" stroke="#EBAA35" stroke-width="0.8" stroke-opacity="0.8"/>
<path d="M863.8,1038.0 C880.0,1038.0 880.0,986.5 896.1,986.5 L896.1,1052.0 C880.0,1052.0 880.0,1119.4 863.8,1119.4 Z" fill="#e1e1e1" fill-opacity="1.0"/>
<path d="M863.8,1041.2 C880.0,1041.2 880.0,989.1 896.1,989.1 M863.8,1044.5 C880.0,1044.5 880.0,991.8 896.1,991.8 M863.8,1047.0 C880.0,1047.0 880.0,993.8 896.1,993.8 M863.8,1050.3 C880.0,1050.3 880.0,996.4 896.1,996.4 M863.8,1053.5 C880.0,1053.5 880.0,999.0 896.1,999.0 M863.8,1057.1 C880.0,1057.1 880.0,1001.9 896.1,1001.9 M863.8,1060.6 C880.0,1060.6 880.0,1004.7 896.1,1004.7 M863.8,1063.6 C880.0,1063.6 880.0,1007.1 896.1,1007.1 M863.8,1066.8 C880.0,1066.8 880.0,1009.7 896.1,1009.7 M863.8,1069.7 C880.0,1069.7 880.0,1012.0 896.1,1012.0 M863.8,1073.9 C880.0,1073.9 880.0,1015.4 896.1,1015.4 M863.8,1077.7 C880.0,1077.7 880.0,1018.5 896.1,1018.5 M863.8,1080.5 C880.0,1080.5 880.0,1020.7 896.1,1020.7 M863.8,1083.7 C880.0,1083.7 880.0,1023.3 896.1,1023.3 M863.8,1087.1 C880.0,1087.1 880.0,1026.0 896.1,1026.0 M863.8,1089.5 C880.0,1089.5 880.0,1027.9 896.1,1027.9 M863.8,1093.7 C880.0,1093.7 880.0,1031.4 896.1,1031.4 M863.8,1096.5 C880.0,1096.5 880.0,1033.6 896.1,1033.6 M863.8,1099.9 C880.0,1099.9 880.0,1036.4 896.1,1036.4 M863.8,1103.3 C880.0,1103.3 880.0,1039.1 896.1,1039.1 M863.8,1106.3 C880.0,1106.3 880.0,1041.5 896.1,1041.5 M863.8,1109.3 C880.0,1109.3 880.0,1043.8 896.1,1043.8 M863.8,1112.4 C880.0,1112.4 880.0,1046.4 896.1,1046.4 M863.8,1115.6 C880.0,1115.6 880.0,1048.9 896.1,1048.9 " fill="none" stroke="#fff" stroke-width="0.55" stroke-opacity="0.85"/>
<path d="M863.8,1079.7 C880.0,1079.7 880.0,1020.1 896.1,1020.1" fill="none" stroke="#EBAA35" stroke-width="0.8" stroke-opacity="0.8"/>
<path d="M863.8,1069.2 C880.0,1069.2 880.0,1011.6 896.1,1011.6" fill="none" stroke="#EBAA35" stroke-width="0.8" stroke-opacity="0.8"/>
<path d="M863.8,1085.7 C880.0,1085.7 880.0,1024.9 896.1,1024.9" fill="none" stroke="#EBAA35" stroke-width="0.8" stroke-opacity="0.8"/>
<path d="M863.8,897.6 C880.0,897.6 880.0,936.9 896.1,936.9 L896.1,893.8 C880.0,893.8 880.0,942.5 863.8,942.5 Z" fill="#EBB03E" fill-opacity="1.0"/>
<path d="M863.8,985.5 C880.0,985.5 880.0,959.3 896.1,959.3 L896.1,972.4 C880.0,972.4 880.0,994.9 863.8,994.9 Z" fill="#EBB03E" fill-opacity="1.0"/>
<path d="M863.8,1026.7 C880.0,1026.7 880.0,972.4 896.1,972.4 L896.1,986.5 C880.0,986.5 880.0,1038.0 863.8,1038.0 Z" fill="#EBB03E" fill-opacity="1.0"/>
<path d="M863.8,878.1 C880.0,878.1 880.0,935.8 896.1,935.8" fill="none" stroke="#9AD860" stroke-width="0.7" stroke-opacity="0.5"/>
<path d="M863.8,1081.0 C880.0,1081.0 880.0,916.2 896.1,916.2" fill="none" stroke="#9AD860" stroke-width="0.7" stroke-opacity="0.5"/>
<path d="M863.8,1008.2 C880.0,1008.2 880.0,959.6 896.1,959.6" fill="none" stroke="#9AD860" stroke-width="0.7" stroke-opacity="0.5"/>
<path d="M863.8,943.3 C880.0,943.3 880.0,1044.8 896.1,1044.8" fill="none" stroke="#9AD860" stroke-width="0.7" stroke-opacity="0.5"/>
<path d="M863.8,945.8 C880.0,945.8 880.0,1007.8 896.1,1007.8" fill="none" stroke="#9AD860" stroke-width="0.7" stroke-opacity="0.5"/>
<path d="M863.8,913.1 C880.0,913.1 880.0,886.8 896.1,886.8" fill="none" stroke="#72D4F0" stroke-width="0.7" stroke-opacity="0.6"/>
<path d="M863.8,1083.3 C880.0,1083.3 880.0,950.8 896.1,950.8" fill="none" stroke="#72D4F0" stroke-width="0.7" stroke-opacity="0.6"/>
<path d="M928.7,870.4 C944.9,870.4 944.9,870.4 961.0,870.4 L961.0,908.8 C944.9,908.8 944.9,908.8 928.7,908.8 Z" fill="#e1e1e1" fill-opacity="1.0"/>
<path d="M928.7,873.0 C944.9,873.0 944.9,873.0 961.0,873.0 M928.7,877.2 C944.9,877.2 944.9,877.2 961.0,877.2 M928.7,880.8 C944.9,880.8 944.9,880.8 961.0,880.8 M928.7,884.9 C944.9,884.9 944.9,884.9 961.0,884.9 M928.7,887.0 C944.9,887.0 944.9,887.0 961.0,887.0 M928.7,890.8 C944.9,890.8 944.9,890.8 961.0,890.8 M928.7,895.8 C944.9,895.8 944.9,895.8 961.0,895.8 M928.7,898.8 C944.9,898.8 944.9,898.8 961.0,898.8 M928.7,901.1 C944.9,901.1 944.9,901.1 961.0,901.1 M928.7,905.0 C944.9,905.0 944.9,905.0 961.0,905.0 " fill="none" stroke="#fff" stroke-width="0.55" stroke-opacity="0.85"/>
<path d="M928.7,883.9 C944.9,883.9 944.9,883.9 961.0,883.9" fill="none" stroke="#EBAA35" stroke-width="0.8" stroke-opacity="0.8"/>
<path d="M928.7,921.9 C944.9,921.9 944.9,928.5 961.0,928.5 L961.0,940.6 C944.9,940.6 944.9,933.1 928.7,933.1 Z" fill="#e1e1e1" fill-opacity="1.0"/>
<path d="M928.7,926.0 C944.9,926.0 944.9,932.9 961.0,932.9 M928.7,929.7 C944.9,929.7 944.9,936.8 961.0,936.8 " fill="none" stroke="#fff" stroke-width="0.55" stroke-opacity="0.85"/>
<path d="M928.7,996.8 C944.9,996.8 944.9,1030.5 961.0,1030.5 L961.0,1143.7 C944.9,1143.7 944.9,1079.1 928.7,1079.1 Z" fill="#e1e1e1" fill-opacity="1.0"/>
<path d="M928.7,999.6 C944.9,999.6 944.9,1034.4 961.0,1034.4 M928.7,1001.9 C944.9,1001.9 944.9,1037.6 961.0,1037.6 M928.7,1003.9 C944.9,1003.9 944.9,1040.2 961.0,1040.2 M928.7,1006.5 C944.9,1006.5 944.9,1043.9 961.0,1043.9 M928.7,1008.9 C944.9,1008.9 944.9,1047.1 961.0,1047.1 M928.7,1011.3 C944.9,1011.3 944.9,1050.4 961.0,1050.4 M928.7,1013.2 C944.9,1013.2 944.9,1053.1 961.0,1053.1 M928.7,1016.0 C944.9,1016.0 944.9,1056.9 961.0,1056.9 M928.7,1018.3 C944.9,1018.3 944.9,1060.0 961.0,1060.0 M928.7,1020.9 C944.9,1020.9 944.9,1063.6 961.0,1063.6 M928.7,1022.1 C944.9,1022.1 944.9,1065.3 961.0,1065.3 M928.7,1025.5 C944.9,1025.5 944.9,1070.0 961.0,1070.0 M928.7,1026.7 C944.9,1026.7 944.9,1071.6 961.0,1071.6 M928.7,1030.1 C944.9,1030.1 944.9,1076.3 961.0,1076.3 M928.7,1032.2 C944.9,1032.2 944.9,1079.2 961.0,1079.2 M928.7,1034.4 C944.9,1034.4 944.9,1082.2 961.0,1082.2 M928.7,1037.4 C944.9,1037.4 944.9,1086.4 961.0,1086.4 M928.7,1039.2 C944.9,1039.2 944.9,1088.9 961.0,1088.9 M928.7,1041.4 C944.9,1041.4 944.9,1091.8 961.0,1091.8 M928.7,1044.2 C944.9,1044.2 944.9,1095.7 961.0,1095.7 M928.7,1046.7 C944.9,1046.7 944.9,1099.2 961.0,1099.2 M928.7,1048.7 C944.9,1048.7 944.9,1101.9 961.0,1101.9 M928.7,1050.7 C944.9,1050.7 944.9,1104.7 961.0,1104.7 M928.7,1053.2 C944.9,1053.2 944.9,1108.0 961.0,1108.0 M928.7,1055.6 C944.9,1055.6 944.9,1111.3 961.0,1111.3 M928.7,1058.3 C944.9,1058.3 944.9,1115.0 961.0,1115.0 M928.7,1060.0 C944.9,1060.0 944.9,1117.4 961.0,1117.4 M928.7,1062.5 C944.9,1062.5 944.9,1120.9 961.0,1120.9 M928.7,1065.1 C944.9,1065.1 944.9,1124.4 961.0,1124.4 M928.7,1067.2 C944.9,1067.2 944.9,1127.3 961.0,1127.3 M928.7,1069.5 C944.9,1069.5 944.9,1130.4 961.0,1130.4 M928.7,1072.5 C944.9,1072.5 944.9,1134.6 961.0,1134.6 M928.7,1074.9 C944.9,1074.9 944.9,1137.9 961.0,1137.9 M928.7,1076.8 C944.9,1076.8 944.9,1140.5 961.0,1140.5 " fill="none" stroke="#fff" stroke-width="0.55" stroke-opacity="0.85"/>
<path d="M928.7,1033.4 C944.9,1033.4 944.9,1080.8 961.0,1080.8" fill="none" stroke="#EBAA35" stroke-width="0.8" stroke-opacity="0.8"/>
<path d="M928.7,1012.0 C944.9,1012.0 944.9,1051.3 961.0,1051.3" fill="none" stroke="#EBAA35" stroke-width="0.8" stroke-opacity="0.8"/>
<path d="M928.7,1021.8 C944.9,1021.8 944.9,1064.9 961.0,1064.9" fill="none" stroke="#EBAA35" stroke-width="0.8" stroke-opacity="0.8"/>
<path d="M928.7,1008.7 C944.9,1008.7 944.9,1046.9 961.0,1046.9" fill="none" stroke="#EBAA35" stroke-width="0.8" stroke-opacity="0.8"/>
<path d="M928.7,908.8 C944.9,908.8 944.9,928.5 961.0,928.5 L961.0,909.7 C944.9,909.7 944.9,921.9 928.7,921.9 Z" fill="#EBB03E" fill-opacity="1.0"/>
<path d="M928.7,933.1 C944.9,933.1 944.9,987.4 961.0,987.4 L961.0,942.5 C944.9,942.5 944.9,987.4 928.7,987.4 Z" fill="#EBB03E" fill-opacity="1.0"/>
<path d="M928.7,993.0 C944.9,993.0 944.9,1021.1 961.0,1021.1 L961.0,1028.6 C944.9,1028.6 944.9,996.8 928.7,996.8 Z" fill="#EBB03E" fill-opacity="1.0"/>
<path d="M928.7,1007.1 C944.9,1007.1 944.9,1056.7 961.0,1056.7 L961.0,1062.3 C944.9,1062.3 944.9,1009.9 928.7,1009.9 Z" fill="#EBB03E" fill-opacity="1.0"/>
<path d="M928.7,989.6 C944.9,989.6 944.9,1028.1 961.0,1028.1" fill="none" stroke="#9AD860" stroke-width="0.7" stroke-opacity="0.5"/>
<path d="M928.7,892.8 C944.9,892.8 944.9,1117.1 961.0,1117.1" fill="none" stroke="#9AD860" stroke-width="0.7" stroke-opacity="0.5"/>
<path d="M928.7,939.6 C944.9,939.6 944.9,1096.9 961.0,1096.9" fill="none" stroke="#9AD860" stroke-width="0.7" stroke-opacity="0.5"/>
<path d="M928.7,1041.8 C944.9,1041.8 944.9,1127.3 961.0,1127.3" fill="none" stroke="#9AD860" stroke-width="0.7" stroke-opacity="0.5"/>
<path d="M928.7,915.9 C944.9,915.9 944.9,987.4 961.0,987.4" fill="none" stroke="#9AD860" stroke-width="0.7" stroke-opacity="0.5"/>
<path d="M928.7,1056.1 C944.9,1056.1 944.9,878.1 961.0,878.1" fill="none" stroke="#72D4F0" stroke-width="0.7" stroke-opacity="0.6"/>
<path d="M928.7,884.7 C944.9,884.7 944.9,1023.8 961.0,1023.8" fill="none" stroke="#72D4F0" stroke-width="0.7" stroke-opacity="0.6"/>
<path d="M963.4,933.1 C979.6,933.1 979.6,933.1 995.8,933.1 L995.8,983.7 C979.6,983.7 979.6,993.0 963.4,993.0 Z" fill="#e1e1e1" fill-opacity="0.55"/>
<path d="M963.4,936.5 C979.6,936.5 979.6,935.9 995.8,935.9 M963.4,940.6 C979.6,940.6 979.6,939.5 995.8,939.5 M963.4,943.7 C979.6,943.7 979.6,942.0 995.8,942.0 M963.4,946.5 C979.6,946.5 979.6,944.4 995.8,944.4 M963.4,950.8 C979.6,950.8 979.6,948.0 995.8,948.0 M963.4,953.1 C979.6,953.1 979.6,950.0 995.8,950.0 M963.4,956.5 C979.6,956.5 979.6,952.8 995.8,952.8 M963.4,960.1 C979.6,960.1 979.6,955.9 995.8,955.9 M963.4,962.9 C979.6,962.9 979.6,958.2 995.8,958.2 M963.4,966.1 C979.6,966.1 979.6,961.0 995.8,961.0 M963.4,969.9 C979.6,969.9 979.6,964.2 995.8,964.2 M963.4,972.8 C979.6,972.8 979.6,966.6 995.8,966.6 M963.4,977.3 C979.6,977.3 979.6,970.4 995.8,970.4 M963.4,980.1 C979.6,980.1 979.6,972.7 995.8,972.7 M963.4,983.1 C979.6,983.1 979.6,975.3 995.8,975.3 M963.4,985.6 C979.6,985.6 979.6,977.4 995.8,977.4 M963.4,989.5 C979.6,989.5 979.6,980.7 995.8,980.7 " fill="none" stroke="#fff" stroke-width="0.55" stroke-opacity="0.85"/>
<path d="M963.4,957.1 C979.6,957.1 979.6,953.4 995.8,953.4" fill="none" stroke="#EBAA35" stroke-width="0.8" stroke-opacity="0.8"/>
<path d="M963.4,966.8 C979.6,966.8 979.6,961.5 995.8,961.5" fill="none" stroke="#EBAA35" stroke-width="0.8" stroke-opacity="0.8"/>
<path d="M963.4,870.4 C979.6,870.4 979.6,870.4 995.8,870.4 L995.8,933.1 C979.6,933.1 979.6,933.1 963.4,933.1 Z" fill="#e1e1e1" fill-opacity="1.0"/>
<path d="M963.4,873.9 C979.6,873.9 979.6,873.9 995.8,873.9 M963.4,877.8 C979.6,877.8 979.6,877.8 995.8,877.8 M963.4,881.2 C979.6,881.2 979.6,881.2 995.8,881.2 M963.4,883.6 C979.6,883.6 979.6,883.6 995.8,883.6 M963.4,886.8 C979.6,886.8 979.6,886.8 995.8,886.8 M963.4,890.5 C979.6,890.5 979.6,890.5 995.8,890.5 M963.4,894.5 C979.6,894.5 979.6,894.5 995.8,894.5 M963.4,896.5 C979.6,896.5 979.6,896.5 995.8,896.5 M963.4,900.2 C979.6,900.2 979.6,900.2 995.8,900.2 M963.4,904.1 C979.6,904.1 979.6,904.1 995.8,904.1 M963.4,906.1 C979.6,906.1 979.6,906.1 995.8,906.1 M963.4,909.7 C979.6,909.7 979.6,909.7 995.8,909.7 M963.4,914.3 C979.6,914.3 979.6,914.3 995.8,914.3 M963.4,917.3 C979.6,917.3 979.6,917.3 995.8,917.3 M963.4,920.0 C979.6,920.0 979.6,920.0 995.8,920.0 M963.4,922.5 C979.6,922.5 979.6,922.5 995.8,922.5 M963.4,927.3 C979.6,927.3 979.6,927.3 995.8,927.3 M963.4,930.2 C979.6,930.2 979.6,930.2 995.8,930.2 " fill="none" stroke="#fff" stroke-width="0.55" stroke-opacity="0.85"/>
<path d="M963.4,921.9 C979.6,921.9 979.6,921.9 995.8,921.9" fill="none" stroke="#EBAA35" stroke-width="0.8" stroke-opacity="0.8"/>
<path d="M963.4,932.5 C979.6,932.5 979.6,932.5 995.8,932.5" fill="none" stroke="#EBAA35" stroke-width="0.8" stroke-opacity="0.8"/>
<path d="M963.4,1044.5 C979.6,1044.5 979.6,1000.5 995.8,1000.5 L995.8,1076.3 C979.6,1076.3 979.6,1143.7 963.4,1143.7 Z" fill="#e1e1e1" fill-opacity="1.0"/>
<path d="M963.4,1048.5 C979.6,1048.5 979.6,1003.5 995.8,1003.5 M963.4,1050.8 C979.6,1050.8 979.6,1005.3 995.8,1005.3 M963.4,1053.5 C979.6,1053.5 979.6,1007.4 995.8,1007.4 M963.4,1056.9 C979.6,1056.9 979.6,1010.0 995.8,1010.0 M963.4,1060.5 C979.6,1060.5 979.6,1012.8 995.8,1012.8 M963.4,1063.7 C979.6,1063.7 979.6,1015.2 995.8,1015.2 M963.4,1066.3 C979.6,1066.3 979.6,1017.2 995.8,1017.2 M963.4,1069.5 C979.6,1069.5 979.6,1019.6 995.8,1019.6 M963.4,1073.6 C979.6,1073.6 979.6,1022.7 995.8,1022.7 M963.4,1076.7 C979.6,1076.7 979.6,1025.1 995.8,1025.1 M963.4,1079.4 C979.6,1079.4 979.6,1027.2 995.8,1027.2 M963.4,1083.9 C979.6,1083.9 979.6,1030.6 995.8,1030.6 M963.4,1086.4 C979.6,1086.4 979.6,1032.5 995.8,1032.5 M963.4,1088.4 C979.6,1088.4 979.6,1034.1 995.8,1034.1 M963.4,1092.4 C979.6,1092.4 979.6,1037.1 995.8,1037.1 M963.4,1096.3 C979.6,1096.3 979.6,1040.1 995.8,1040.1 M963.4,1098.6 C979.6,1098.6 979.6,1041.8 995.8,1041.8 M963.4,1102.5 C979.6,1102.5 979.6,1044.8 995.8,1044.8 M963.4,1104.4 C979.6,1104.4 979.6,1046.3 995.8,1046.3 M963.4,1108.1 C979.6,1108.1 979.6,1049.2 995.8,1049.2 M963.4,1112.4 C979.6,1112.4 979.6,1052.4 995.8,1052.4 M963.4,1115.1 C979.6,1115.1 979.6,1054.5 995.8,1054.5 M963.4,1118.4 C979.6,1118.4 979.6,1057.0 995.8,1057.0 M963.4,1120.7 C979.6,1120.7 979.6,1058.8 995.8,1058.8 M963.4,1124.5 C979.6,1124.5 979.6,1061.7 995.8,1061.7 M963.4,1127.8 C979.6,1127.8 979.6,1064.2 995.8,1064.2 M963.4,1130.5 C979.6,1130.5 979.6,1066.2 995.8,1066.2 M963.4,1134.4 C979.6,1134.4 979.6,1069.2 995.8,1069.2 M963.4,1137.4 C979.6,1137.4 979.6,1071.5 995.8,1071.5 M963.4,1141.5 C979.6,1141.5 979.6,1074.6 995.8,1074.6 " fill="none" stroke="#fff" stroke-width="0.55" stroke-opacity="0.85"/>
<path d="M963.4,1101.5 C979.6,1101.5 979.6,1044.1 995.8,1044.1" fill="none" stroke="#EBAA35" stroke-width="0.8" stroke-opacity="0.8"/>
<path d="M963.4,1085.3 C979.6,1085.3 979.6,1031.7 995.8,1031.7" fill="none" stroke="#EBAA35" stroke-width="0.8" stroke-opacity="0.8"/>
<path d="M963.4,1056.6 C979.6,1056.6 979.6,1009.7 995.8,1009.7" fill="none" stroke="#EBAA35" stroke-width="0.8" stroke-opacity="0.8"/>
<path d="M963.4,993.0 C979.6,993.0 979.6,983.7 995.8,983.7 L995.8,992.1 C979.6,992.1 979.6,1033.3 963.4,1033.3 Z" fill="#EBB03E" fill-opacity="1.0"/>
<path d="M963.4,1038.0 C979.6,1038.0 979.6,996.8 995.8,996.8 L995.8,1000.5 C979.6,1000.5 979.6,1044.5 963.4,1044.5 Z" fill="#EBB03E" fill-opacity="1.0"/>
<path d="M963.4,916.5 C979.6,916.5 979.6,1024.4 995.8,1024.4" fill="none" stroke="#9AD860" stroke-width="0.7" stroke-opacity="0.5"/>
<path d="M963.4,903.3 C979.6,903.3 979.6,895.0 995.8,895.0" fill="none" stroke="#9AD860" stroke-width="0.7" stroke-opacity="0.5"/>
<path d="M963.4,920.1 C979.6,920.1 979.6,977.9 995.8,977.9" fill="none" stroke="#9AD860" stroke-width="0.7" stroke-opacity="0.5"/>
<path d="M963.4,1091.6 C979.6,1091.6 979.6,995.6 995.8,995.6" fill="none" stroke="#9AD860" stroke-width="0.7" stroke-opacity="0.5"/>
<path d="M963.4,1087.3 C979.6,1087.3 979.6,887.5 995.8,887.5" fill="none" stroke="#9AD860" stroke-width="0.7" stroke-opacity="0.5"/>
<path d="M963.4,878.6 C979.6,878.6 979.6,1026.6 995.8,1026.6" fill="none" stroke="#72D4F0" stroke-width="0.7" stroke-opacity="0.6"/>
<path d="M963.4,960.1 C979.6,960.1 979.6,1015.7 995.8,1015.7" fill="none" stroke="#72D4F0" stroke-width="0.7" stroke-opacity="0.6"/>
<path d="M1028.4,870.4 C1044.5,870.4 1044.5,870.4 1060.7,870.4 L1060.7,993.0 C1044.5,993.0 1044.5,970.6 1028.4,970.6 Z" fill="#e1e1e1" fill-opacity="1.0"/>
<path d="M1028.4,872.8 C1044.5,872.8 1044.5,873.4 1060.7,873.4 M1028.4,875.2 C1044.5,875.2 1044.5,876.2 1060.7,876.2 M1028.4,878.0 C1044.5,878.0 1044.5,879.7 1060.7,879.7 M1028.4,880.3 C1044.5,880.3 1044.5,882.6 1060.7,882.6 M1028.4,884.2 C1044.5,884.2 1044.5,887.3 1060.7,887.3 M1028.4,886.4 C1044.5,886.4 1044.5,889.9 1060.7,889.9 M1028.4,888.6 C1044.5,888.6 1044.5,892.7 1060.7,892.7 M1028.4,891.4 C1044.5,891.4 1044.5,896.1 1060.7,896.1 M1028.4,894.0 C1044.5,894.0 1044.5,899.2 1060.7,899.2 M1028.4,896.1 C1044.5,896.1 1044.5,901.8 1060.7,901.8 M1028.4,900.0 C1044.5,900.0 1044.5,906.7 1060.7,906.7 M1028.4,902.2 C1044.5,902.2 1044.5,909.3 1060.7,909.3 M1028.4,905.4 C1044.5,905.4 1044.5,913.3 1060.7,913.3 M1028.4,907.2 C1044.5,907.2 1044.5,915.5 1060.7,915.5 M1028.4,910.1 C1044.5,910.1 1044.5,919.1 1060.7,919.1 M1028.4,912.2 C1044.5,912.2 1044.5,921.6 1060.7,921.6 M1028.4,914.5 C1044.5,914.5 1044.5,924.4 1060.7,924.4 M1028.4,918.5 C1044.5,918.5 1044.5,929.3 1060.7,929.3 M1028.4,921.1 C1044.5,921.1 1044.5,932.4 1060.7,932.4 M1028.4,922.8 C1044.5,922.8 1044.5,934.6 1060.7,934.6 M1028.4,926.4 C1044.5,926.4 1044.5,939.0 1060.7,939.0 M1028.4,928.9 C1044.5,928.9 1044.5,942.0 1060.7,942.0 M1028.4,930.7 C1044.5,930.7 1044.5,944.3 1060.7,944.3 M1028.4,933.8 C1044.5,933.8 1044.5,948.1 1060.7,948.1 M1028.4,937.0 C1044.5,937.0 1044.5,952.0 1060.7,952.0 M1028.4,938.9 C1044.5,938.9 1044.5,954.3 1060.7,954.3 M1028.4,942.3 C1044.5,942.3 1044.5,958.4 1060.7,958.4 M1028.4,943.8 C1044.5,943.8 1044.5,960.3 1060.7,960.3 M1028.4,946.7 C1044.5,946.7 1044.5,963.8 1060.7,963.8 M1028.4,949.8 C1044.5,949.8 1044.5,967.6 1060.7,967.6 M1028.4,951.7 C1044.5,951.7 1044.5,969.9 1060.7,969.9 M1028.4,954.5 C1044.5,954.5 1044.5,973.3 1060.7,973.3 M1028.4,958.0 C1044.5,958.0 1044.5,977.6 1060.7,977.6 M1028.4,960.0 C1044.5,960.0 1044.5,980.1 1060.7,980.1 M1028.4,963.1 C1044.5,963.1 1044.5,983.9 1060.7,983.9 M1028.4,964.9 C1044.5,964.9 1044.5,986.1 1060.7,986.1 M1028.4,967.4 C1044.5,967.4 1044.5,989.2 1060.7,989.2 " fill="none" stroke="#fff" stroke-width="0.55" stroke-opacity="0.85"/>
<path d="M1028.4,906.3 C1044.5,906.3 1044.5,914.4 1060.7,914.4" fill="none" stroke="#EBAA35" stroke-width="0.8" stroke-opacity="0.8"/>
<path d="M1028.4,889.1 C1044.5,889.1 1044.5,893.3 1060.7,893.3" fill="none" stroke="#EBAA35" stroke-width="0.8" stroke-opacity="0.8"/>
<path d="M1028.4,967.7 C1044.5,967.7 1044.5,989.5 1060.7,989.5" fill="none" stroke="#EBAA35" stroke-width="0.8" stroke-opacity="0.8"/>
<path d="M1028.4,899.5 C1044.5,899.5 1044.5,906.1 1060.7,906.1" fill="none" stroke="#EBAA35" stroke-width="0.8" stroke-opacity="0.8"/>
<path d="M1028.4,1006.1 C1044.5,1006.1 1044.5,1021.1 1060.7,1021.1 L1060.7,1176.5 C1044.5,1176.5 1044.5,1096.9 1028.4,1096.9 Z" fill="#e1e1e1" fill-opacity="1.0"/>
<path d="M1028.4,1008.1 C1044.5,1008.1 1044.5,1024.5 1060.7,1024.5 M1028.4,1009.5 C1044.5,1009.5 1044.5,1026.8 1060.7,1026.8 M1028.4,1011.9 C1044.5,1011.9 1044.5,1030.9 1060.7,1030.9 M1028.4,1013.6 C1044.5,1013.6 1044.5,1033.8 1060.7,1033.8 M1028.4,1015.5 C1044.5,1015.5 1044.5,1037.1 1060.7,1037.1 M1028.4,1017.0 C1044.5,1017.0 1044.5,1039.7 1060.7,1039.7 M1028.4,1019.0 C1044.5,1019.0 1044.5,1043.0 1060.7,1043.0 M1028.4,1021.6 C1044.5,1021.6 1044.5,1047.6 1060.7,1047.6 M1028.4,1023.0 C1044.5,1023.0 1044.5,1050.0 1060.7,1050.0 M1028.4,1024.8 C1044.5,1024.8 1044.5,1053.0 1060.7,1053.0 M1028.4,1026.6 C1044.5,1026.6 1044.5,1056.1 1060.7,1056.1 M1028.4,1028.6 C1044.5,1028.6 1044.5,1059.5 1060.7,1059.5 M1028.4,1030.4 C1044.5,1030.4 1044.5,1062.7 1060.7,1062.7 M1028.4,1032.1 C1044.5,1032.1 1044.5,1065.5 1060.7,1065.5 M1028.4,1034.7 C1044.5,1034.7 1044.5,1070.0 1060.7,1070.0 M1028.4,1036.2 C1044.5,1036.2 1044.5,1072.6 1060.7,1072.6 M1028.4,1037.9 C1044.5,1037.9 1044.5,1075.5 1060.7,1075.5 M1028.4,1040.4 C1044.5,1040.4 1044.5,1079.8 1060.7,1079.8 M1028.4,1041.6 C1044.5,1041.6 1044.5,1081.8 1060.7,1081.8 M1028.4,1043.7 C1044.5,1043.7 1044.5,1085.4 1060.7,1085.4 M1028.4,1046.2 C1044.5,1046.2 1044.5,1089.7 1060.7,1089.7 M1028.4,1047.3 C1044.5,1047.3 1044.5,1091.6 1060.7,1091.6 M1028.4,1049.6 C1044.5,1049.6 1044.5,1095.5 1060.7,1095.5 M1028.4,1051.9 C1044.5,1051.9 1044.5,1099.5 1060.7,1099.5 M1028.4,1053.8 C1044.5,1053.8 1044.5,1102.6 1060.7,1102.6 M1028.4,1054.9 C1044.5,1054.9 1044.5,1104.6 1060.7,1104.6 M1028.4,1057.0 C1044.5,1057.0 1044.5,1108.2 1060.7,1108.2 M1028.4,1059.4 C1044.5,1059.4 1044.5,1112.2 1060.7,1112.2 M1028.4,1060.9 C1044.5,1060.9 1044.5,1114.7 1060.7,1114.7 M1028.4,1063.4 C1044.5,1063.4 1044.5,1119.1 1060.7,1119.1 M1028.4,1064.4 C1044.5,1064.4 1044.5,1120.9 1060.7,1120.9 M1028.4,1067.2 C1044.5,1067.2 1044.5,1125.6 1060.7,1125.6 M1028.4,1068.6 C1044.5,1068.6 1044.5,1127.9 1060.7,1127.9 M1028.4,1070.1 C1044.5,1070.1 1044.5,1130.6 1060.7,1130.6 M1028.4,1072.3 C1044.5,1072.3 1044.5,1134.3 1060.7,1134.3 M1028.4,1073.8 C1044.5,1073.8 1044.5,1136.9 1060.7,1136.9 M1028.4,1076.4 C1044.5,1076.4 1044.5,1141.3 1060.7,1141.3 M1028.4,1077.7 C1044.5,1077.7 1044.5,1143.7 1060.7,1143.7 M1028.4,1080.4 C1044.5,1080.4 1044.5,1148.1 1060.7,1148.1 M1028.4,1081.9 C1044.5,1081.9 1044.5,1150.8 1060.7,1150.8 M1028.4,1083.5 C1044.5,1083.5 1044.5,1153.6 1060.7,1153.6 M1028.4,1085.3 C1044.5,1085.3 1044.5,1156.6 1060.7,1156.6 M1028.4,1087.6 C1044.5,1087.6 1044.5,1160.5 1060.7,1160.5 M1028.4,1089.0 C1044.5,1089.0 1044.5,1163.0 1060.7,1163.0 M1028.4,1091.7 C1044.5,1091.7 1044.5,1167.5 1060.7,1167.5 M1028.4,1092.7 C1044.5,1092.7 1044.5,1169.3 1060.7,1169.3 M1028.4,1095.1 C1044.5,1095.1 1044.5,1173.3 1060.7,1173.3 " fill="none" stroke="#fff" stroke-width="0.55" stroke-opacity="0.85"/>
<path d="M1028.4,1055.4 C1044.5,1055.4 1044.5,1105.4 1060.7,1105.4" fill="none" stroke="#EBAA35" stroke-width="0.8" stroke-opacity="0.8"/>
<path d="M1028.4,1030.7 C1044.5,1030.7 1044.5,1063.1 1060.7,1063.1" fill="none" stroke="#EBAA35" stroke-width="0.8" stroke-opacity="0.8"/>
<path d="M1028.4,1076.2 C1044.5,1076.2 1044.5,1141.0 1060.7,1141.0" fill="none" stroke="#EBAA35" stroke-width="0.8" stroke-opacity="0.8"/>
<path d="M1028.4,1041.1 C1044.5,1041.1 1044.5,1080.9 1060.7,1080.9" fill="none" stroke="#EBAA35" stroke-width="0.8" stroke-opacity="0.8"/>
<path d="M1028.4,1065.8 C1044.5,1065.8 1044.5,1123.3 1060.7,1123.3" fill="none" stroke="#EBAA35" stroke-width="0.8" stroke-opacity="0.8"/>
<path d="M1028.4,1057.7 C1044.5,1057.7 1044.5,1109.3 1060.7,1109.3" fill="none" stroke="#EBAA35" stroke-width="0.8" stroke-opacity="0.8"/>
<path d="M1028.4,970.6 C1044.5,970.6 1044.5,1021.1 1060.7,1021.1 L1060.7,1000.5 C1044.5,1000.5 1044.5,1006.1 1028.4,1006.1 Z" fill="#EBB03E" fill-opacity="1.0"/>
<path d="M1028.4,942.6 C1044.5,942.6 1044.5,990.9 1060.7,990.9" fill="none" stroke="#9AD860" stroke-width="0.7" stroke-opacity="0.5"/>
<path d="M1028.4,893.9 C1044.5,893.9 1044.5,927.8 1060.7,927.8" fill="none" stroke="#9AD860" stroke-width="0.7" stroke-opacity="0.5"/>
<path d="M1028.4,1059.7 C1044.5,1059.7 1044.5,970.5 1060.7,970.5" fill="none" stroke="#9AD860" stroke-width="0.7" stroke-opacity="0.5"/>
<path d="M1028.4,1018.9 C1044.5,1018.9 1044.5,907.6 1060.7,907.6" fill="none" stroke="#9AD860" stroke-width="0.7" stroke-opacity="0.5"/>
<path d="M1028.4,997.1 C1044.5,997.1 1044.5,982.4 1060.7,982.4" fill="none" stroke="#9AD860" stroke-width="0.7" stroke-opacity="0.5"/>
<path d="M1028.4,983.7 C1044.5,983.7 1044.5,963.3 1060.7,963.3" fill="none" stroke="#72D4F0" stroke-width="0.7" stroke-opacity="0.6"/>
<path d="M1028.4,889.6 C1044.5,889.6 1044.5,967.6 1060.7,967.6" fill="none" stroke="#72D4F0" stroke-width="0.7" stroke-opacity="0.6"/>
<path d="M1063.1,870.4 C1079.2,870.4 1079.2,870.4 1095.5,870.4 L1095.5,972.4 C1079.2,972.4 1079.2,993.0 1063.1,993.0 Z" fill="#e1e1e1" fill-opacity="1.0"/>
<path d="M1063.1,873.1 C1079.2,873.1 1079.2,872.7 1095.5,872.7 M1063.1,876.2 C1079.2,876.2 1079.2,875.2 1095.5,875.2 M1063.1,880.5 C1079.2,880.5 1079.2,878.8 1095.5,878.8 M1063.1,882.9 C1079.2,882.9 1079.2,880.8 1095.5,880.8 M1063.1,886.4 C1079.2,886.4 1079.2,883.7 1095.5,883.7 M1063.1,890.6 C1079.2,890.6 1079.2,887.2 1095.5,887.2 M1063.1,893.5 C1079.2,893.5 1079.2,889.7 1095.5,889.7 M1063.1,897.0 C1079.2,897.0 1079.2,892.5 1095.5,892.5 M1063.1,900.2 C1079.2,900.2 1079.2,895.2 1095.5,895.2 M1063.1,902.0 C1079.2,902.0 1079.2,896.7 1095.5,896.7 M1063.1,905.5 C1079.2,905.5 1079.2,899.6 1095.5,899.6 M1063.1,908.2 C1079.2,908.2 1079.2,901.9 1095.5,901.9 M1063.1,912.7 C1079.2,912.7 1079.2,905.6 1095.5,905.6 M1063.1,915.9 C1079.2,915.9 1079.2,908.3 1095.5,908.3 M1063.1,918.5 C1079.2,918.5 1079.2,910.5 1095.5,910.5 M1063.1,921.9 C1079.2,921.9 1079.2,913.2 1095.5,913.2 M1063.1,925.6 C1079.2,925.6 1079.2,916.3 1095.5,916.3 M1063.1,928.9 C1079.2,928.9 1079.2,919.1 1095.5,919.1 M1063.1,931.2 C1079.2,931.2 1079.2,921.0 1095.5,921.0 M1063.1,935.6 C1079.2,935.6 1079.2,924.7 1095.5,924.7 M1063.1,937.9 C1079.2,937.9 1079.2,926.6 1095.5,926.6 M1063.1,941.7 C1079.2,941.7 1079.2,929.7 1095.5,929.7 M1063.1,944.0 C1079.2,944.0 1079.2,931.7 1095.5,931.7 M1063.1,947.1 C1079.2,947.1 1079.2,934.2 1095.5,934.2 M1063.1,951.9 C1079.2,951.9 1079.2,938.2 1095.5,938.2 M1063.1,954.8 C1079.2,954.8 1079.2,940.6 1095.5,940.6 M1063.1,958.0 C1079.2,958.0 1079.2,943.3 1095.5,943.3 M1063.1,959.9 C1079.2,959.9 1079.2,944.9 1095.5,944.9 M1063.1,963.1 C1079.2,963.1 1079.2,947.5 1095.5,947.5 M1063.1,966.6 C1079.2,966.6 1079.2,950.4 1095.5,950.4 M1063.1,969.9 C1079.2,969.9 1079.2,953.2 1095.5,953.2 M1063.1,973.3 C1079.2,973.3 1079.2,956.0 1095.5,956.0 M1063.1,976.7 C1079.2,976.7 1079.2,958.8 1095.5,958.8 M1063.1,979.2 C1079.2,979.2 1079.2,961.0 1095.5,961.0 M1063.1,983.0 C1079.2,983.0 1079.2,964.1 1095.5,964.1 M1063.1,986.9 C1079.2,986.9 1079.2,967.3 1095.5,967.3 M1063.1,989.2 C1079.2,989.2 1079.2,969.2 1095.5,969.2 " fill="none" stroke="#fff" stroke-width="0.55" stroke-opacity="0.85"/>
<path d="M1063.1,973.4 C1079.2,973.4 1079.2,956.1 1095.5,956.1" fill="none" stroke="#EBAA35" stroke-width="0.8" stroke-opacity="0.8"/>
<path d="M1063.1,940.3 C1079.2,940.3 1079.2,928.6 1095.5,928.6" fill="none" stroke="#EBAA35" stroke-width="0.8" stroke-opacity="0.8"/>
<path d="M1063.1,958.3 C1079.2,958.3 1079.2,943.5 1095.5,943.5" fill="none" stroke="#EBAA35" stroke-width="0.8" stroke-opacity="0.8"/>
<path d="M1063.1,901.7 C1079.2,901.7 1079.2,896.4 1095.5,896.4" fill="none" stroke="#EBAA35" stroke-width="0.8" stroke-opacity="0.8"/>
<path d="M1063.1,1092.3 C1079.2,1092.3 1079.2,1023.9 1095.5,1023.9 L1095.5,1096.0 C1079.2,1096.0 1079.2,1176.5 1063.1,1176.5 Z" fill="#e1e1e1" fill-opacity="1.0"/>
<path d="M1063.1,1095.4 C1079.2,1095.4 1079.2,1026.6 1095.5,1026.6 M1063.1,1099.1 C1079.2,1099.1 1079.2,1029.8 1095.5,1029.8 M1063.1,1101.7 C1079.2,1101.7 1079.2,1032.0 1095.5,1032.0 M1063.1,1104.2 C1079.2,1104.2 1079.2,1034.2 1095.5,1034.2 M1063.1,1109.1 C1079.2,1109.1 1079.2,1038.3 1095.5,1038.3 M1063.1,1112.2 C1079.2,1112.2 1079.2,1041.0 1095.5,1041.0 M1063.1,1114.5 C1079.2,1114.5 1079.2,1043.0 1095.5,1043.0 M1063.1,1117.3 C1079.2,1117.3 1079.2,1045.3 1095.5,1045.3 M1063.1,1122.1 C1079.2,1122.1 1079.2,1049.5 1095.5,1049.5 M1063.1,1124.9 C1079.2,1124.9 1079.2,1051.8 1095.5,1051.8 M1063.1,1127.0 C1079.2,1127.0 1079.2,1053.7 1095.5,1053.7 M1063.1,1130.6 C1079.2,1130.6 1079.2,1056.8 1095.5,1056.8 M1063.1,1133.6 C1079.2,1133.6 1079.2,1059.3 1095.5,1059.3 M1063.1,1138.2 C1079.2,1138.2 1079.2,1063.2 1095.5,1063.2 M1063.1,1140.3 C1079.2,1140.3 1079.2,1065.0 1095.5,1065.0 M1063.1,1144.9 C1079.2,1144.9 1079.2,1069.0 1095.5,1069.0 M1063.1,1147.8 C1079.2,1147.8 1079.2,1071.5 1095.5,1071.5 M1063.1,1149.8 C1079.2,1149.8 1079.2,1073.1 1095.5,1073.1 M1063.1,1154.2 C1079.2,1154.2 1079.2,1076.9 1095.5,1076.9 M1063.1,1156.8 C1079.2,1156.8 1079.2,1079.2 1095.5,1079.2 M1063.1,1160.8 C1079.2,1160.8 1079.2,1082.5 1095.5,1082.5 M1063.1,1164.2 C1079.2,1164.2 1079.2,1085.5 1095.5,1085.5 M1063.1,1166.3 C1079.2,1166.3 1079.2,1087.3 1095.5,1087.3 M1063.1,1169.2 C1079.2,1169.2 1079.2,1089.8 1095.5,1089.8 M1063.1,1174.1 C1079.2,1174.1 1079.2,1094.0 1095.5,1094.0 " fill="none" stroke="#fff" stroke-width="0.55" stroke-opacity="0.85"/>
<path d="M1063.1,1128.0 C1079.2,1128.0 1079.2,1054.5 1095.5,1054.5" fill="none" stroke="#EBAA35" stroke-width="0.8" stroke-opacity="0.8"/>
<path d="M1063.1,1170.6 C1079.2,1170.6 1079.2,1091.0 1095.5,1091.0" fill="none" stroke="#EBAA35" stroke-width="0.8" stroke-opacity="0.8"/>
<path d="M1063.1,1150.5 C1079.2,1150.5 1079.2,1073.8 1095.5,1073.8" fill="none" stroke="#EBAA35" stroke-width="0.8" stroke-opacity="0.8"/>
<path d="M1063.1,877.9 C1079.2,877.9 1079.2,880.7 1095.5,880.7 L1095.5,877.9 C1079.2,877.9 1079.2,880.7 1063.1,880.7 Z" fill="#EBB03E" fill-opacity="1.0"/>
<path d="M1063.1,1015.5 C1079.2,1015.5 1079.2,1023.9 1095.5,1023.9 L1095.5,972.4 C1079.2,972.4 1079.2,1092.3 1063.1,1092.3 Z" fill="#EBB03E" fill-opacity="1.0"/>
<path d="M1063.1,1094.2 C1079.2,1094.2 1079.2,1054.3 1095.5,1054.3" fill="none" stroke="#9AD860" stroke-width="0.7" stroke-opacity="0.5"/>
<path d="M1063.1,1061.5 C1079.2,1061.5 1079.2,973.0 1095.5,973.0" fill="none" stroke="#9AD860" stroke-width="0.7" stroke-opacity="0.5"/>
<path d="M1063.1,891.4 C1079.2,891.4 1079.2,1025.9 1095.5,1025.9" fill="none" stroke="#9AD860" stroke-width="0.7" stroke-opacity="0.5"/>
<path d="M1063.1,1002.3 C1079.2,1002.3 1079.2,985.7 1095.5,985.7" fill="none" stroke="#9AD860" stroke-width="0.7" stroke-opacity="0.5"/>
<path d="M1063.1,1150.4 C1079.2,1150.4 1079.2,902.8 1095.5,902.8" fill="none" stroke="#9AD860" stroke-width="0.7" stroke-opacity="0.5"/>
<path d="M1063.1,1101.1 C1079.2,1101.1 1079.2,884.7 1095.5,884.7" fill="none" stroke="#72D4F0" stroke-width="0.7" stroke-opacity="0.6"/>
<path d="M1063.1,1083.6 C1079.2,1083.6 1079.2,1049.1 1095.5,1049.1" fill="none" stroke="#72D4F0" stroke-width="0.7" stroke-opacity="0.6"/>
<path d="M1128.0,870.4 C1144.2,870.4 1144.2,870.4 1160.3,870.4 L1160.3,913.5 C1144.2,913.5 1144.2,913.5 1128.0,913.5 Z" fill="#e1e1e1" fill-opacity="1.0"/>
<path d="M1128.0,873.3 C1144.2,873.3 1144.2,873.3 1160.3,873.3 M1128.0,877.1 C1144.2,877.1 1144.2,877.1 1160.3,877.1 M1128.0,881.3 C1144.2,881.3 1144.2,881.3 1160.3,881.3 M1128.0,883.9 C1144.2,883.9 1144.2,883.9 1160.3,883.9 M1128.0,887.1 C1144.2,887.1 1144.2,887.1 1160.3,887.1 M1128.0,889.8 C1144.2,889.8 1144.2,889.8 1160.3,889.8 M1128.0,892.7 C1144.2,892.7 1144.2,892.7 1160.3,892.7 M1128.0,896.6 C1144.2,896.6 1144.2,896.6 1160.3,896.6 M1128.0,900.1 C1144.2,900.1 1144.2,900.1 1160.3,900.1 M1128.0,902.9 C1144.2,902.9 1144.2,902.9 1160.3,902.9 M1128.0,906.5 C1144.2,906.5 1144.2,906.5 1160.3,906.5 M1128.0,909.4 C1144.2,909.4 1144.2,909.4 1160.3,909.4 " fill="none" stroke="#fff" stroke-width="0.55" stroke-opacity="0.85"/>
<path d="M1128.0,900.9 C1144.2,900.9 1144.2,900.9 1160.3,900.9" fill="none" stroke="#EBAA35" stroke-width="0.8" stroke-opacity="0.8"/>
<path d="M1128.0,917.2 C1144.2,917.2 1144.2,915.4 1160.3,915.4 L1160.3,940.6 C1144.2,940.6 1144.2,933.1 1128.0,933.1 Z" fill="#e1e1e1" fill-opacity="1.0"/>
<path d="M1128.0,919.7 C1144.2,919.7 1144.2,919.3 1160.3,919.3 M1128.0,921.4 C1144.2,921.4 1144.2,922.0 1160.3,922.0 M1128.0,923.7 C1144.2,923.7 1144.2,925.6 1160.3,925.6 M1128.0,926.3 C1144.2,926.3 1144.2,929.8 1160.3,929.8 M1128.0,928.5 C1144.2,928.5 1144.2,933.3 1160.3,933.3 M1128.0,931.5 C1144.2,931.5 1144.2,938.0 1160.3,938.0 " fill="none" stroke="#fff" stroke-width="0.55" stroke-opacity="0.85"/>
<path d="M1128.0,922.8 C1144.2,922.8 1144.2,924.2 1160.3,924.2" fill="none" stroke="#EBAA35" stroke-width="0.8" stroke-opacity="0.8"/>
<path d="M1128.0,937.8 C1144.2,937.8 1144.2,943.4 1160.3,943.4 L1160.3,985.5 C1144.2,985.5 1144.2,962.1 1128.0,962.1 Z" fill="#e1e1e1" fill-opacity="1.0"/>
<path d="M1128.0,939.5 C1144.2,939.5 1144.2,946.3 1160.3,946.3 M1128.0,942.0 C1144.2,942.0 1144.2,950.7 1160.3,950.7 M1128.0,943.0 C1144.2,943.0 1144.2,952.5 1160.3,952.5 M1128.0,945.4 C1144.2,945.4 1144.2,956.5 1160.3,956.5 M1128.0,947.0 C1144.2,947.0 1144.2,959.3 1160.3,959.3 M1128.0,949.4 C1144.2,949.4 1144.2,963.5 1160.3,963.5 M1128.0,951.0 C1144.2,951.0 1144.2,966.2 1160.3,966.2 M1128.0,953.1 C1144.2,953.1 1144.2,969.9 1160.3,969.9 M1128.0,954.3 C1144.2,954.3 1144.2,971.9 1160.3,971.9 M1128.0,956.7 C1144.2,956.7 1144.2,976.2 1160.3,976.2 M1128.0,958.5 C1144.2,958.5 1144.2,979.3 1160.3,979.3 M1128.0,960.2 C1144.2,960.2 1144.2,982.2 1160.3,982.2 " fill="none" stroke="#fff" stroke-width="0.55" stroke-opacity="0.85"/>
<path d="M1128.0,956.5 C1144.2,956.5 1144.2,975.7 1160.3,975.7" fill="none" stroke="#EBAA35" stroke-width="0.8" stroke-opacity="0.8"/>
<path d="M1128.0,974.3 C1144.2,974.3 1144.2,998.7 1160.3,998.7 L1160.3,1116.6 C1144.2,1116.6 1144.2,1063.2 1128.0,1063.2 Z" fill="#e1e1e1" fill-opacity="1.0"/>
<path d="M1128.0,977.3 C1144.2,977.3 1144.2,1002.6 1160.3,1002.6 M1128.0,978.7 C1144.2,978.7 1144.2,1004.4 1160.3,1004.4 M1128.0,981.4 C1144.2,981.4 1144.2,1008.1 1160.3,1008.1 M1128.0,984.0 C1144.2,984.0 1144.2,1011.5 1160.3,1011.5 M1128.0,986.2 C1144.2,986.2 1144.2,1014.5 1160.3,1014.5 M1128.0,988.5 C1144.2,988.5 1144.2,1017.4 1160.3,1017.4 M1128.0,991.3 C1144.2,991.3 1144.2,1021.2 1160.3,1021.2 M1128.0,993.6 C1144.2,993.6 1144.2,1024.3 1160.3,1024.3 M1128.0,996.8 C1144.2,996.8 1144.2,1028.5 1160.3,1028.5 M1128.0,998.9 C1144.2,998.9 1144.2,1031.3 1160.3,1031.3 M1128.0,1000.9 C1144.2,1000.9 1144.2,1033.9 1160.3,1033.9 M1128.0,1003.7 C1144.2,1003.7 1144.2,1037.6 1160.3,1037.6 M1128.0,1006.4 C1144.2,1006.4 1144.2,1041.2 1160.3,1041.2 M1128.0,1008.7 C1144.2,1008.7 1144.2,1044.2 1160.3,1044.2 M1128.0,1010.9 C1144.2,1010.9 1144.2,1047.1 1160.3,1047.1 M1128.0,1013.2 C1144.2,1013.2 1144.2,1050.2 1160.3,1050.2 M1128.0,1015.6 C1144.2,1015.6 1144.2,1053.4 1160.3,1053.4 M1128.0,1019.5 C1144.2,1019.5 1144.2,1058.6 1160.3,1058.6 M1128.0,1021.6 C1144.2,1021.6 1144.2,1061.4 1160.3,1061.4 M1128.0,1023.1 C1144.2,1023.1 1144.2,1063.4 1160.3,1063.4 M1128.0,1026.5 C1144.2,1026.5 1144.2,1067.9 1160.3,1067.9 M1128.0,1029.4 C1144.2,1029.4 1144.2,1071.7 1160.3,1071.7 M1128.0,1031.2 C1144.2,1031.2 1144.2,1074.1 1160.3,1074.1 M1128.0,1033.0 C1144.2,1033.0 1144.2,1076.5 1160.3,1076.5 M1128.0,1036.0 C1144.2,1036.0 1144.2,1080.5 1160.3,1080.5 M1128.0,1038.4 C1144.2,1038.4 1144.2,1083.7 1160.3,1083.7 M1128.0,1040.5 C1144.2,1040.5 1144.2,1086.5 1160.3,1086.5 M1128.0,1043.5 C1144.2,1043.5 1144.2,1090.5 1160.3,1090.5 M1128.0,1045.2 C1144.2,1045.2 1144.2,1092.7 1160.3,1092.7 M1128.0,1049.0 C1144.2,1049.0 1144.2,1097.8 1160.3,1097.8 M1128.0,1051.1 C1144.2,1051.1 1144.2,1100.5 1160.3,1100.5 M1128.0,1053.5 C1144.2,1053.5 1144.2,1103.7 1160.3,1103.7 M1128.0,1056.5 C1144.2,1056.5 1144.2,1107.6 1160.3,1107.6 M1128.0,1058.5 C1144.2,1058.5 1144.2,1110.3 1160.3,1110.3 M1128.0,1060.4 C1144.2,1060.4 1144.2,1112.8 1160.3,1112.8 " fill="none" stroke="#fff" stroke-width="0.55" stroke-opacity="0.85"/>
<path d="M1128.0,996.2 C1144.2,996.2 1144.2,1027.7 1160.3,1027.7" fill="none" stroke="#EBAA35" stroke-width="0.8" stroke-opacity="0.8"/>
<path d="M1128.0,986.6 C1144.2,986.6 1144.2,1015.0 1160.3,1015.0" fill="none" stroke="#EBAA35" stroke-width="0.8" stroke-opacity="0.8"/>
<path d="M1128.0,976.8 C1144.2,976.8 1144.2,1001.9 1160.3,1001.9" fill="none" stroke="#EBAA35" stroke-width="0.8" stroke-opacity="0.8"/>
<path d="M1128.0,1043.2 C1144.2,1043.2 1144.2,1090.0 1160.3,1090.0" fill="none" stroke="#EBAA35" stroke-width="0.8" stroke-opacity="0.8"/>
<path d="M1128.0,913.5 C1144.2,913.5 1144.2,912.5 1160.3,912.5 L1160.3,915.4 C1144.2,915.4 1144.2,917.2 1128.0,917.2 Z" fill="#EBB03E" fill-opacity="1.0"/>
<path d="M1128.0,925.6 C1144.2,925.6 1144.2,925.6 1160.3,925.6 L1160.3,928.5 C1144.2,928.5 1144.2,927.5 1128.0,927.5 Z" fill="#EBB03E" fill-opacity="1.0"/>
<path d="M1128.0,933.1 C1144.2,933.1 1144.2,940.6 1160.3,940.6 L1160.3,943.4 C1144.2,943.4 1144.2,937.8 1128.0,937.8 Z" fill="#EBB03E" fill-opacity="1.0"/>
<path d="M1128.0,951.9 C1144.2,951.9 1144.2,964.0 1160.3,964.0 L1160.3,966.8 C1144.2,966.8 1144.2,959.3 1128.0,959.3 Z" fill="#EBB03E" fill-opacity="1.0"/>
<path d="M1128.0,962.1 C1144.2,962.1 1144.2,985.5 1160.3,985.5 L1160.3,998.7 C1144.2,998.7 1144.2,974.3 1128.0,974.3 Z" fill="#EBB03E" fill-opacity="1.0"/>
<path d="M1128.0,1028.2 C1144.2,1028.2 1144.2,945.2 1160.3,945.2" fill="none" stroke="#9AD860" stroke-width="0.7" stroke-opacity="0.5"/>
<path d="M1128.0,909.1 C1144.2,909.1 1144.2,1025.8 1160.3,1025.8" fill="none" stroke="#9AD860" stroke-width="0.7" stroke-opacity="0.5"/>
<path d="M1128.0,1029.3 C1144.2,1029.3 1144.2,1093.8 1160.3,1093.8" fill="none" stroke="#9AD860" stroke-width="0.7" stroke-opacity="0.5"/>
<path d="M1128.0,906.0 C1144.2,906.0 1144.2,1060.3 1160.3,1060.3" fill="none" stroke="#9AD860" stroke-width="0.7" stroke-opacity="0.5"/>
<path d="M1128.0,1026.5 C1144.2,1026.5 1144.2,1050.3 1160.3,1050.3" fill="none" stroke="#9AD860" stroke-width="0.7" stroke-opacity="0.5"/>
<path d="M1128.0,934.8 C1144.2,934.8 1144.2,918.8 1160.3,918.8" fill="none" stroke="#72D4F0" stroke-width="0.7" stroke-opacity="0.6"/>
<path d="M1128.0,1025.6 C1144.2,1025.6 1144.2,950.8 1160.3,950.8" fill="none" stroke="#72D4F0" stroke-width="0.7" stroke-opacity="0.6"/>
<path d="M1162.7,964.0 C1178.9,964.0 1178.9,935.0 1195.1,935.0 L1195.1,1004.3 C1178.9,1004.3 1178.9,1000.5 1162.7,1000.5 Z" fill="#e1e1e1" fill-opacity="0.55"/>
<path d="M1162.7,965.6 C1178.9,965.6 1178.9,938.0 1195.1,938.0 M1162.7,967.6 C1178.9,967.6 1178.9,941.7 1195.1,941.7 M1162.7,969.1 C1178.9,969.1 1178.9,944.6 1195.1,944.6 M1162.7,971.3 C1178.9,971.3 1178.9,948.9 1195.1,948.9 M1162.7,972.4 C1178.9,972.4 1178.9,951.0 1195.1,951.0 M1162.7,974.0 C1178.9,974.0 1178.9,953.9 1195.1,953.9 M1162.7,976.3 C1178.9,976.3 1178.9,958.2 1195.1,958.2 M1162.7,978.1 C1178.9,978.1 1178.9,961.6 1195.1,961.6 M1162.7,980.0 C1178.9,980.0 1178.9,965.3 1195.1,965.3 M1162.7,981.6 C1178.9,981.6 1178.9,968.4 1195.1,968.4 M1162.7,983.6 C1178.9,983.6 1178.9,972.1 1195.1,972.1 M1162.7,985.3 C1178.9,985.3 1178.9,975.5 1195.1,975.5 M1162.7,986.6 C1178.9,986.6 1178.9,977.9 1195.1,977.9 M1162.7,988.4 C1178.9,988.4 1178.9,981.2 1195.1,981.2 M1162.7,989.7 C1178.9,989.7 1178.9,983.8 1195.1,983.8 M1162.7,991.6 C1178.9,991.6 1178.9,987.4 1195.1,987.4 M1162.7,993.7 C1178.9,993.7 1178.9,991.2 1195.1,991.2 M1162.7,994.9 C1178.9,994.9 1178.9,993.5 1195.1,993.5 M1162.7,997.2 C1178.9,997.2 1178.9,998.0 1195.1,998.0 M1162.7,998.4 C1178.9,998.4 1178.9,1000.3 1195.1,1000.3 " fill="none" stroke="#fff" stroke-width="0.55" stroke-opacity="0.85"/>
<path d="M1162.7,980.2 C1178.9,980.2 1178.9,965.7 1195.1,965.7" fill="none" stroke="#EBAA35" stroke-width="0.8" stroke-opacity="0.8"/>
<path d="M1162.7,999.4 C1178.9,999.4 1178.9,1002.2 1195.1,1002.2" fill="none" stroke="#EBAA35" stroke-width="0.8" stroke-opacity="0.8"/>
<path d="M1162.7,870.4 C1178.9,870.4 1178.9,870.4 1195.1,870.4 L1195.1,925.6 C1178.9,925.6 1178.9,940.6 1162.7,940.6 Z" fill="#e1e1e1" fill-opacity="1.0"/>
<path d="M1162.7,872.9 C1178.9,872.9 1178.9,872.4 1195.1,872.4 M1162.7,876.2 C1178.9,876.2 1178.9,875.0 1195.1,875.0 M1162.7,880.3 C1178.9,880.3 1178.9,878.2 1195.1,878.2 M1162.7,883.2 C1178.9,883.2 1178.9,880.5 1195.1,880.5 M1162.7,887.6 C1178.9,887.6 1178.9,883.9 1195.1,883.9 M1162.7,889.5 C1178.9,889.5 1178.9,885.4 1195.1,885.4 M1162.7,894.5 C1178.9,894.5 1178.9,889.4 1195.1,889.4 M1162.7,897.9 C1178.9,897.9 1178.9,892.0 1195.1,892.0 M1162.7,901.1 C1178.9,901.1 1178.9,894.5 1195.1,894.5 M1162.7,903.7 C1178.9,903.7 1178.9,896.6 1195.1,896.6 M1162.7,906.8 C1178.9,906.8 1178.9,899.0 1195.1,899.0 M1162.7,910.9 C1178.9,910.9 1178.9,902.2 1195.1,902.2 M1162.7,913.9 C1178.9,913.9 1178.9,904.6 1195.1,904.6 M1162.7,917.1 C1178.9,917.1 1178.9,907.1 1195.1,907.1 M1162.7,920.2 C1178.9,920.2 1178.9,909.6 1195.1,909.6 M1162.7,923.8 C1178.9,923.8 1178.9,912.4 1195.1,912.4 M1162.7,927.6 C1178.9,927.6 1178.9,915.4 1195.1,915.4 M1162.7,931.2 C1178.9,931.2 1178.9,918.3 1195.1,918.3 M1162.7,934.7 C1178.9,934.7 1178.9,921.0 1195.1,921.0 M1162.7,936.6 C1178.9,936.6 1178.9,922.5 1195.1,922.5 " fill="none" stroke="#fff" stroke-width="0.55" stroke-opacity="0.85"/>
<path d="M1162.7,891.2 C1178.9,891.2 1178.9,886.8 1195.1,886.8" fill="none" stroke="#EBAA35" stroke-width="0.8" stroke-opacity="0.8"/>
<path d="M1162.7,901.5 C1178.9,901.5 1178.9,894.9 1195.1,894.9" fill="none" stroke="#EBAA35" stroke-width="0.8" stroke-opacity="0.8"/>
<path d="M1162.7,1000.5 C1178.9,1000.5 1178.9,1004.3 1195.1,1004.3 L1195.1,1036.1 C1178.9,1036.1 1178.9,1116.6 1162.7,1116.6 Z" fill="#e1e1e1" fill-opacity="1.0"/>
<path d="M1162.7,1003.9 C1178.9,1003.9 1178.9,1005.2 1195.1,1005.2 M1162.7,1006.7 C1178.9,1006.7 1178.9,1006.0 1195.1,1006.0 M1162.7,1009.6 C1178.9,1009.6 1178.9,1006.8 1195.1,1006.8 M1162.7,1012.6 C1178.9,1012.6 1178.9,1007.6 1195.1,1007.6 M1162.7,1016.3 C1178.9,1016.3 1178.9,1008.6 1195.1,1008.6 M1162.7,1019.8 C1178.9,1019.8 1178.9,1009.6 1195.1,1009.6 M1162.7,1024.0 C1178.9,1024.0 1178.9,1010.7 1195.1,1010.7 M1162.7,1027.1 C1178.9,1027.1 1178.9,1011.6 1195.1,1011.6 M1162.7,1030.2 C1178.9,1030.2 1178.9,1012.4 1195.1,1012.4 M1162.7,1033.7 C1178.9,1033.7 1178.9,1013.4 1195.1,1013.4 M1162.7,1036.9 C1178.9,1036.9 1178.9,1014.2 1195.1,1014.2 M1162.7,1039.4 C1178.9,1039.4 1178.9,1014.9 1195.1,1014.9 M1162.7,1043.0 C1178.9,1043.0 1178.9,1015.9 1195.1,1015.9 M1162.7,1044.8 C1178.9,1044.8 1178.9,1016.4 1195.1,1016.4 M1162.7,1049.2 C1178.9,1049.2 1178.9,1017.6 1195.1,1017.6 M1162.7,1052.3 C1178.9,1052.3 1178.9,1018.5 1195.1,1018.5 M1162.7,1054.9 C1178.9,1054.9 1178.9,1019.2 1195.1,1019.2 M1162.7,1058.7 C1178.9,1058.7 1178.9,1020.2 1195.1,1020.2 M1162.7,1062.7 C1178.9,1062.7 1178.9,1021.3 1195.1,1021.3 M1162.7,1065.0 C1178.9,1065.0 1178.9,1021.9 1195.1,1021.9 M1162.7,1068.5 C1178.9,1068.5 1178.9,1022.9 1195.1,1022.9 M1162.7,1071.1 C1178.9,1071.1 1178.9,1023.6 1195.1,1023.6 M1162.7,1074.4 C1178.9,1074.4 1178.9,1024.5 1195.1,1024.5 M1162.7,1078.6 C1178.9,1078.6 1178.9,1025.7 1195.1,1025.7 M1162.7,1080.2 C1178.9,1080.2 1178.9,1026.1 1195.1,1026.1 M1162.7,1083.7 C1178.9,1083.7 1178.9,1027.1 1195.1,1027.1 M1162.7,1087.9 C1178.9,1087.9 1178.9,1028.2 1195.1,1028.2 M1162.7,1090.7 C1178.9,1090.7 1178.9,1029.0 1195.1,1029.0 M1162.7,1093.2 C1178.9,1093.2 1178.9,1029.7 1195.1,1029.7 M1162.7,1097.6 C1178.9,1097.6 1178.9,1030.9 1195.1,1030.9 M1162.7,1100.2 C1178.9,1100.2 1178.9,1031.6 1195.1,1031.6 M1162.7,1103.8 C1178.9,1103.8 1178.9,1032.6 1195.1,1032.6 M1162.7,1106.8 C1178.9,1106.8 1178.9,1033.4 1195.1,1033.4 M1162.7,1110.2 C1178.9,1110.2 1178.9,1034.3 1195.1,1034.3 M1162.7,1113.5 C1178.9,1113.5 1178.9,1035.2 1195.1,1035.2 " fill="none" stroke="#fff" stroke-width="0.55" stroke-opacity="0.85"/>
<path d="M1162.7,1046.5 C1178.9,1046.5 1178.9,1016.9 1195.1,1016.9" fill="none" stroke="#EBAA35" stroke-width="0.8" stroke-opacity="0.8"/>
<path d="M1162.7,1013.8 C1178.9,1013.8 1178.9,1007.9 1195.1,1007.9" fill="none" stroke="#EBAA35" stroke-width="0.8" stroke-opacity="0.8"/>
<path d="M1162.7,1021.5 C1178.9,1021.5 1178.9,1010.0 1195.1,1010.0" fill="none" stroke="#EBAA35" stroke-width="0.8" stroke-opacity="0.8"/>
<path d="M1162.7,1103.8 C1178.9,1103.8 1178.9,1032.6 1195.1,1032.6" fill="none" stroke="#EBAA35" stroke-width="0.8" stroke-opacity="0.8"/>
<path d="M1162.7,940.6 C1178.9,940.6 1178.9,925.6 1195.1,925.6 L1195.1,935.0 C1178.9,935.0 1178.9,964.0 1162.7,964.0 Z" fill="#EBB03E" fill-opacity="1.0"/>
<path d="M1162.7,981.8 C1178.9,981.8 1178.9,936.9 1195.1,936.9 L1195.1,950.0 C1178.9,950.0 1178.9,1000.5 1162.7,1000.5 Z" fill="#EBB03E" fill-opacity="1.0"/>
<path d="M1162.7,1004.5 C1178.9,1004.5 1178.9,892.7 1195.1,892.7" fill="none" stroke="#9AD860" stroke-width="0.7" stroke-opacity="0.5"/>
<path d="M1162.7,1078.6 C1178.9,1078.6 1178.9,914.6 1195.1,914.6" fill="none" stroke="#9AD860" stroke-width="0.7" stroke-opacity="0.5"/>
<path d="M1162.7,897.7 C1178.9,897.7 1178.9,957.6 1195.1,957.6" fill="none" stroke="#9AD860" stroke-width="0.7" stroke-opacity="0.5"/>
<path d="M1162.7,934.6 C1178.9,934.6 1178.9,951.2 1195.1,951.2" fill="none" stroke="#9AD860" stroke-width="0.7" stroke-opacity="0.5"/>
<path d="M1162.7,1005.9 C1178.9,1005.9 1178.9,910.4 1195.1,910.4" fill="none" stroke="#9AD860" stroke-width="0.7" stroke-opacity="0.5"/>
<path d="M1162.7,1010.3 C1178.9,1010.3 1178.9,892.8 1195.1,892.8" fill="none" stroke="#72D4F0" stroke-width="0.7" stroke-opacity="0.6"/>
<path d="M1162.7,996.3 C1178.9,996.3 1178.9,966.6 1195.1,966.6" fill="none" stroke="#72D4F0" stroke-width="0.7" stroke-opacity="0.6"/>
<path d="M1227.7,896.6 C1243.8,896.6 1243.8,888.2 1260.0,888.2 L1260.0,936.9 C1243.8,936.9 1243.8,923.8 1227.7,923.8 Z" fill="#e1e1e1" fill-opacity="1.0"/>
<path d="M1227.7,898.0 C1243.8,898.0 1243.8,890.6 1260.0,890.6 M1227.7,900.2 C1243.8,900.2 1243.8,894.5 1260.0,894.5 M1227.7,901.6 C1243.8,901.6 1243.8,897.1 1260.0,897.1 M1227.7,903.8 C1243.8,903.8 1243.8,901.1 1260.0,901.1 M1227.7,906.1 C1243.8,906.1 1243.8,905.1 1260.0,905.1 M1227.7,907.5 C1243.8,907.5 1243.8,907.8 1260.0,907.8 M1227.7,909.5 C1243.8,909.5 1243.8,911.3 1260.0,911.3 M1227.7,911.4 C1243.8,911.4 1243.8,914.7 1260.0,914.7 M1227.7,912.5 C1243.8,912.5 1243.8,916.7 1260.0,916.7 M1227.7,915.3 C1243.8,915.3 1243.8,921.6 1260.0,921.6 M1227.7,916.8 C1243.8,916.8 1243.8,924.3 1260.0,924.3 M1227.7,917.9 C1243.8,917.9 1243.8,926.4 1260.0,926.4 M1227.7,920.5 C1243.8,920.5 1243.8,931.0 1260.0,931.0 M1227.7,921.8 C1243.8,921.8 1243.8,933.4 1260.0,933.4 " fill="none" stroke="#fff" stroke-width="0.55" stroke-opacity="0.85"/>
<path d="M1227.7,901.3 C1243.8,901.3 1243.8,896.5 1260.0,896.5" fill="none" stroke="#EBAA35" stroke-width="0.8" stroke-opacity="0.8"/>
<path d="M1227.7,933.1 C1243.8,933.1 1243.8,948.1 1260.0,948.1 L1260.0,1011.8 C1243.8,1011.8 1243.8,993.0 1227.7,993.0 Z" fill="#e1e1e1" fill-opacity="1.0"/>
<path d="M1227.7,937.2 C1243.8,937.2 1243.8,952.4 1260.0,952.4 M1227.7,939.6 C1243.8,939.6 1243.8,954.9 1260.0,954.9 M1227.7,943.1 C1243.8,943.1 1243.8,958.7 1260.0,958.7 M1227.7,945.1 C1243.8,945.1 1243.8,960.8 1260.0,960.8 M1227.7,949.4 C1243.8,949.4 1243.8,965.4 1260.0,965.4 M1227.7,951.2 C1243.8,951.2 1243.8,967.3 1260.0,967.3 M1227.7,954.7 C1243.8,954.7 1243.8,971.0 1260.0,971.0 M1227.7,958.1 C1243.8,958.1 1243.8,974.7 1260.0,974.7 M1227.7,960.6 C1243.8,960.6 1243.8,977.3 1260.0,977.3 M1227.7,964.8 C1243.8,964.8 1243.8,981.8 1260.0,981.8 M1227.7,967.3 C1243.8,967.3 1243.8,984.4 1260.0,984.4 M1227.7,970.6 C1243.8,970.6 1243.8,987.9 1260.0,987.9 M1227.7,974.5 C1243.8,974.5 1243.8,992.1 1260.0,992.1 M1227.7,977.1 C1243.8,977.1 1243.8,994.9 1260.0,994.9 M1227.7,981.2 C1243.8,981.2 1243.8,999.1 1260.0,999.1 M1227.7,983.8 C1243.8,983.8 1243.8,1002.0 1260.0,1002.0 M1227.7,987.4 C1243.8,987.4 1243.8,1005.8 1260.0,1005.8 M1227.7,990.0 C1243.8,990.0 1243.8,1008.5 1260.0,1008.5 " fill="none" stroke="#fff" stroke-width="0.55" stroke-opacity="0.85"/>
<path d="M1227.7,988.1 C1243.8,988.1 1243.8,1006.5 1260.0,1006.5" fill="none" stroke="#EBAA35" stroke-width="0.8" stroke-opacity="0.8"/>
<path d="M1227.7,985.3 C1243.8,985.3 1243.8,1003.5 1260.0,1003.5" fill="none" stroke="#EBAA35" stroke-width="0.8" stroke-opacity="0.8"/>
<path d="M1227.7,870.4 C1243.8,870.4 1243.8,888.2 1260.0,888.2 L1260.0,870.4 C1243.8,870.4 1243.8,896.6 1227.7,896.6 Z" fill="#EBB03E" fill-opacity="1.0"/>
<path d="M1227.7,923.8 C1243.8,923.8 1243.8,936.9 1260.0,936.9 L1260.0,948.1 C1243.8,948.1 1243.8,933.1 1227.7,933.1 Z" fill="#EBB03E" fill-opacity="1.0"/>
<path d="M1227.7,994.0 C1243.8,994.0 1243.8,1011.8 1260.0,1011.8 L1260.0,1023.0 C1243.8,1023.0 1243.8,1008.0 1227.7,1008.0 Z" fill="#EBB03E" fill-opacity="1.0"/>
<path d="M1227.7,1017.4 C1243.8,1017.4 1243.8,1067.9 1260.0,1067.9 L1260.0,1103.5 C1243.8,1103.5 1243.8,1054.8 1227.7,1054.8 Z" fill="#EBB03E" fill-opacity="1.0"/>
<path d="M1227.7,1056.7 C1243.8,1056.7 1243.8,1112.8 1260.0,1112.8 L1260.0,1142.8 C1243.8,1142.8 1243.8,1103.5 1227.7,1103.5 Z" fill="#EBB03E" fill-opacity="1.0"/>
<path d="M1227.7,912.8 C1243.8,912.8 1243.8,1070.7 1260.0,1070.7" fill="none" stroke="#9AD860" stroke-width="0.7" stroke-opacity="0.5"/>
<path d="M1227.7,951.5 C1243.8,951.5 1243.8,1075.4 1260.0,1075.4" fill="none" stroke="#9AD860" stroke-width="0.7" stroke-opacity="0.5"/>
<path d="M1227.7,1027.3 C1243.8,1027.3 1243.8,1091.7 1260.0,1091.7" fill="none" stroke="#9AD860" stroke-width="0.7" stroke-opacity="0.5"/>
<path d="M1227.7,902.7 C1243.8,902.7 1243.8,973.1 1260.0,973.1" fill="none" stroke="#9AD860" stroke-width="0.7" stroke-opacity="0.5"/>
<path d="M1227.7,1039.9 C1243.8,1039.9 1243.8,1123.8 1260.0,1123.8" fill="none" stroke="#9AD860" stroke-width="0.7" stroke-opacity="0.5"/>
<path d="M1227.7,1036.5 C1243.8,1036.5 1243.8,886.7 1260.0,886.7" fill="none" stroke="#72D4F0" stroke-width="0.7" stroke-opacity="0.6"/>
<path d="M1227.7,1010.1 C1243.8,1010.1 1243.8,901.4 1260.0,901.4" fill="none" stroke="#72D4F0" stroke-width="0.7" stroke-opacity="0.6"/>
<path d="M1262.4,870.4 C1278.6,870.4 1278.6,870.4 1294.8,870.4 L1294.8,916.3 C1278.6,916.3 1278.6,940.6 1262.4,940.6 Z" fill="#e1e1e1" fill-opacity="1.0"/>
<path d="M1262.4,873.9 C1278.6,873.9 1278.6,872.7 1294.8,872.7 M1262.4,877.7 C1278.6,877.7 1278.6,875.2 1294.8,875.2 M1262.4,879.7 C1278.6,879.7 1278.6,876.5 1294.8,876.5 M1262.4,884.6 C1278.6,884.6 1278.6,879.7 1294.8,879.7 M1262.4,887.5 C1278.6,887.5 1278.6,881.6 1294.8,881.6 M1262.4,890.0 C1278.6,890.0 1278.6,883.2 1294.8,883.2 M1262.4,893.2 C1278.6,893.2 1278.6,885.3 1294.8,885.3 M1262.4,897.1 C1278.6,897.1 1278.6,887.8 1294.8,887.8 M1262.4,901.2 C1278.6,901.2 1278.6,890.5 1294.8,890.5 M1262.4,904.0 C1278.6,904.0 1278.6,892.4 1294.8,892.4 M1262.4,906.4 C1278.6,906.4 1278.6,893.9 1294.8,893.9 M1262.4,909.6 C1278.6,909.6 1278.6,896.0 1294.8,896.0 M1262.4,913.1 C1278.6,913.1 1278.6,898.3 1294.8,898.3 M1262.4,917.8 C1278.6,917.8 1278.6,901.4 1294.8,901.4 M1262.4,919.9 C1278.6,919.9 1278.6,902.8 1294.8,902.8 M1262.4,924.0 C1278.6,924.0 1278.6,905.4 1294.8,905.4 M1262.4,926.8 C1278.6,926.8 1278.6,907.3 1294.8,907.3 M1262.4,931.0 C1278.6,931.0 1278.6,910.0 1294.8,910.0 M1262.4,933.7 C1278.6,933.7 1278.6,911.8 1294.8,911.8 M1262.4,936.6 C1278.6,936.6 1278.6,913.6 1294.8,913.6 " fill="none" stroke="#fff" stroke-width="0.55" stroke-opacity="0.85"/>
<path d="M1262.4,931.9 C1278.6,931.9 1278.6,910.6 1294.8,910.6" fill="none" stroke="#EBAA35" stroke-width="0.8" stroke-opacity="0.8"/>
<path d="M1262.4,908.2 C1278.6,908.2 1278.6,895.1 1294.8,895.1" fill="none" stroke="#EBAA35" stroke-width="0.8" stroke-opacity="0.8"/>
<path d="M1262.4,948.1 C1278.6,948.1 1278.6,923.8 1294.8,923.8 L1294.8,996.8 C1278.6,996.8 1278.6,1075.4 1262.4,1075.4 Z" fill="#e1e1e1" fill-opacity="1.0"/>
<path d="M1262.4,951.7 C1278.6,951.7 1278.6,925.9 1294.8,925.9 M1262.4,955.2 C1278.6,955.2 1278.6,927.9 1294.8,927.9 M1262.4,958.8 C1278.6,958.8 1278.6,929.9 1294.8,929.9 M1262.4,960.2 C1278.6,960.2 1278.6,930.7 1294.8,930.7 M1262.4,964.1 C1278.6,964.1 1278.6,933.0 1294.8,933.0 M1262.4,967.0 C1278.6,967.0 1278.6,934.6 1294.8,934.6 M1262.4,971.0 C1278.6,971.0 1278.6,936.9 1294.8,936.9 M1262.4,975.0 C1278.6,975.0 1278.6,939.2 1294.8,939.2 M1262.4,978.1 C1278.6,978.1 1278.6,941.0 1294.8,941.0 M1262.4,979.8 C1278.6,979.8 1278.6,942.0 1294.8,942.0 M1262.4,983.4 C1278.6,983.4 1278.6,944.0 1294.8,944.0 M1262.4,987.9 C1278.6,987.9 1278.6,946.6 1294.8,946.6 M1262.4,990.9 C1278.6,990.9 1278.6,948.3 1294.8,948.3 M1262.4,993.6 C1278.6,993.6 1278.6,949.9 1294.8,949.9 M1262.4,997.0 C1278.6,997.0 1278.6,951.8 1294.8,951.8 M1262.4,999.7 C1278.6,999.7 1278.6,953.3 1294.8,953.3 M1262.4,1004.3 C1278.6,1004.3 1278.6,956.0 1294.8,956.0 M1262.4,1006.7 C1278.6,1006.7 1278.6,957.4 1294.8,957.4 M1262.4,1010.9 C1278.6,1010.9 1278.6,959.8 1294.8,959.8 M1262.4,1013.6 C1278.6,1013.6 1278.6,961.3 1294.8,961.3 M1262.4,1015.8 C1278.6,1015.8 1278.6,962.6 1294.8,962.6 M1262.4,1019.6 C1278.6,1019.6 1278.6,964.8 1294.8,964.8 M1262.4,1022.6 C1278.6,1022.6 1278.6,966.5 1294.8,966.5 M1262.4,1027.2 C1278.6,1027.2 1278.6,969.1 1294.8,969.1 M1262.4,1029.9 C1278.6,1029.9 1278.6,970.7 1294.8,970.7 M1262.4,1032.1 C1278.6,1032.1 1278.6,971.9 1294.8,971.9 M1262.4,1035.6 C1278.6,1035.6 1278.6,973.9 1294.8,973.9 M1262.4,1039.2 C1278.6,1039.2 1278.6,976.0 1294.8,976.0 M1262.4,1042.7 C1278.6,1042.7 1278.6,978.0 1294.8,978.0 M1262.4,1046.2 C1278.6,1046.2 1278.6,980.0 1294.8,980.0 M1262.4,1049.1 C1278.6,1049.1 1278.6,981.7 1294.8,981.7 M1262.4,1052.3 C1278.6,1052.3 1278.6,983.5 1294.8,983.5 M1262.4,1054.9 C1278.6,1054.9 1278.6,985.0 1294.8,985.0 M1262.4,1059.2 C1278.6,1059.2 1278.6,987.5 1294.8,987.5 M1262.4,1062.0 C1278.6,1062.0 1278.6,989.1 1294.8,989.1 M1262.4,1064.7 C1278.6,1064.7 1278.6,990.6 1294.8,990.6 M1262.4,1068.8 C1278.6,1068.8 1278.6,993.0 1294.8,993.0 M1262.4,1073.1 C1278.6,1073.1 1278.6,995.5 1294.8,995.5 " fill="none" stroke="#fff" stroke-width="0.55" stroke-opacity="0.85"/>
<path d="M1262.4,953.9 C1278.6,953.9 1278.6,927.1 1294.8,927.1" fill="none" stroke="#EBAA35" stroke-width="0.8" stroke-opacity="0.8"/>
<path d="M1262.4,966.7 C1278.6,966.7 1278.6,934.4 1294.8,934.4" fill="none" stroke="#EBAA35" stroke-width="0.8" stroke-opacity="0.8"/>
<path d="M1262.4,1033.5 C1278.6,1033.5 1278.6,972.8 1294.8,972.8" fill="none" stroke="#EBAA35" stroke-width="0.8" stroke-opacity="0.8"/>
<path d="M1262.4,982.8 C1278.6,982.8 1278.6,943.7 1294.8,943.7" fill="none" stroke="#EBAA35" stroke-width="0.8" stroke-opacity="0.8"/>
<path d="M1262.4,982.9 C1278.6,982.9 1278.6,943.7 1294.8,943.7" fill="none" stroke="#EBAA35" stroke-width="0.8" stroke-opacity="0.8"/>
<path d="M1262.4,1103.5 C1278.6,1103.5 1278.6,1026.7 1294.8,1026.7 L1294.8,1049.2 C1278.6,1049.2 1278.6,1142.8 1262.4,1142.8 Z" fill="#e1e1e1" fill-opacity="1.0"/>
<path d="M1262.4,1106.8 C1278.6,1106.8 1278.6,1028.6 1294.8,1028.6 M1262.4,1109.6 C1278.6,1109.6 1278.6,1030.2 1294.8,1030.2 M1262.4,1113.4 C1278.6,1113.4 1278.6,1032.4 1294.8,1032.4 M1262.4,1116.6 C1278.6,1116.6 1278.6,1034.3 1294.8,1034.3 M1262.4,1120.8 C1278.6,1120.8 1278.6,1036.6 1294.8,1036.6 M1262.4,1124.1 C1278.6,1124.1 1278.6,1038.5 1294.8,1038.5 M1262.4,1125.5 C1278.6,1125.5 1278.6,1039.3 1294.8,1039.3 M1262.4,1129.8 C1278.6,1129.8 1278.6,1041.8 1294.8,1041.8 M1262.4,1133.5 C1278.6,1133.5 1278.6,1043.9 1294.8,1043.9 M1262.4,1137.0 C1278.6,1137.0 1278.6,1045.9 1294.8,1045.9 M1262.4,1140.1 C1278.6,1140.1 1278.6,1047.6 1294.8,1047.6 " fill="none" stroke="#fff" stroke-width="0.55" stroke-opacity="0.85"/>
<path d="M1262.4,1128.4 C1278.6,1128.4 1278.6,1041.0 1294.8,1041.0" fill="none" stroke="#EBAA35" stroke-width="0.8" stroke-opacity="0.8"/>
<path d="M1262.4,940.6 C1278.6,940.6 1278.6,916.3 1294.8,916.3 L1294.8,923.8 C1278.6,923.8 1278.6,948.1 1262.4,948.1 Z" fill="#EBB03E" fill-opacity="1.0"/>
<path d="M1262.4,1075.4 C1278.6,1075.4 1278.6,996.8 1294.8,996.8 L1294.8,1026.7 C1278.6,1026.7 1278.6,1103.5 1262.4,1103.5 Z" fill="#EBB03E" fill-opacity="1.0"/>
<path d="M1262.4,1041.6 C1278.6,1041.6 1278.6,936.3 1294.8,936.3" fill="none" stroke="#9AD860" stroke-width="0.7" stroke-opacity="0.5"/>
<path d="M1262.4,949.1 C1278.6,949.1 1278.6,1008.9 1294.8,1008.9" fill="none" stroke="#9AD860" stroke-width="0.7" stroke-opacity="0.5"/>
<path d="M1262.4,1104.1 C1278.6,1104.1 1278.6,1033.0 1294.8,1033.0" fill="none" stroke="#9AD860" stroke-width="0.7" stroke-opacity="0.5"/>
<path d="M1262.4,1053.9 C1278.6,1053.9 1278.6,926.4 1294.8,926.4" fill="none" stroke="#9AD860" stroke-width="0.7" stroke-opacity="0.5"/>
<path d="M1262.4,1075.4 C1278.6,1075.4 1278.6,999.5 1294.8,999.5" fill="none" stroke="#9AD860" stroke-width="0.7" stroke-opacity="0.5"/>
<path d="M1262.4,1008.7 C1278.6,1008.7 1278.6,982.0 1294.8,982.0" fill="none" stroke="#72D4F0" stroke-width="0.7" stroke-opacity="0.6"/>
<path d="M1262.4,967.1 C1278.6,967.1 1278.6,967.8 1294.8,967.8" fill="none" stroke="#72D4F0" stroke-width="0.7" stroke-opacity="0.6"/>
<path d="M1227.7,554.5 C1243.8,554.5 1243.8,570.1 1260.0,570.1" fill="none" stroke="#5BC8EE" stroke-width="2.6" stroke-opacity="0.95"/>
<path d="M430.4,738.0 C446.6,738.0 446.6,800.9 462.8,800.9" fill="none" stroke="#8CD848" stroke-width="0.9" stroke-opacity="0.85"/>
<path d="M430.4,745.1 C446.6,745.1 446.6,801.7 462.8,801.7" fill="none" stroke="#8CD848" stroke-width="0.9" stroke-opacity="0.85"/>
<path d="M430.4,758.8 C446.6,758.8 446.6,794.6 462.8,794.6" fill="none" stroke="#8CD848" stroke-width="0.9" stroke-opacity="0.85"/>
<path d="M430.4,726.0 C446.6,726.0 446.6,804.7 462.8,804.7" fill="none" stroke="#8CD848" stroke-width="0.9" stroke-opacity="0.85"/>
<path d="M430.4,739.2 C446.6,739.2 446.6,796.8 462.8,796.8" fill="none" stroke="#8CD848" stroke-width="0.9" stroke-opacity="0.85"/>
<path d="M430.4,778.5 C446.6,778.5 446.6,799.9 462.8,799.9" fill="none" stroke="#8CD848" stroke-width="0.9" stroke-opacity="0.85"/>
<path d="M430.4,770.0 C446.6,770.0 446.6,800.0 462.8,800.0" fill="none" stroke="#8CD848" stroke-width="0.9" stroke-opacity="0.85"/>
<path d="M430.4,759.5 C446.6,759.5 446.6,795.8 462.8,795.8" fill="none" stroke="#8CD848" stroke-width="0.9" stroke-opacity="0.85"/>
<path d="M430.4,759.3 C446.6,759.3 446.6,805.1 462.8,805.1" fill="none" stroke="#8CD848" stroke-width="0.9" stroke-opacity="0.85"/>
<path d="M430.4,753.3 C446.6,753.3 446.6,803.4 462.8,803.4" fill="none" stroke="#8CD848" stroke-width="0.9" stroke-opacity="0.85"/>
<path d="M430.4,761.2 C446.6,761.2 446.6,794.6 462.8,794.6" fill="none" stroke="#8CD848" stroke-width="0.9" stroke-opacity="0.85"/>
<path d="M430.4,765.8 C446.6,765.8 446.6,801.5 462.8,801.5" fill="none" stroke="#8CD848" stroke-width="0.9" stroke-opacity="0.85"/>
<path d="M430.4,741.4 C446.6,741.4 446.6,794.2 462.8,794.2" fill="none" stroke="#8CD848" stroke-width="0.9" stroke-opacity="0.85"/>
<path d="M430.4,771.6 C446.6,771.6 446.6,799.9 462.8,799.9" fill="none" stroke="#8CD848" stroke-width="0.9" stroke-opacity="0.85"/>
<path d="M430.4,1090.0 C446.6,1090.0 446.6,1121.6 462.8,1121.6" fill="none" stroke="#8CD848" stroke-width="0.9" stroke-opacity="0.85"/>
<path d="M430.4,1089.8 C446.6,1089.8 446.6,1122.2 462.8,1122.2" fill="none" stroke="#8CD848" stroke-width="0.9" stroke-opacity="0.85"/>
<path d="M430.4,1073.8 C446.6,1073.8 446.6,1120.5 462.8,1120.5" fill="none" stroke="#8CD848" stroke-width="0.9" stroke-opacity="0.85"/>
<path d="M430.4,1076.3 C446.6,1076.3 446.6,1122.4 462.8,1122.4" fill="none" stroke="#8CD848" stroke-width="0.9" stroke-opacity="0.85"/>
<path d="M430.4,1098.0 C446.6,1098.0 446.6,1110.5 462.8,1110.5" fill="none" stroke="#8CD848" stroke-width="0.9" stroke-opacity="0.85"/>
<path d="M430.4,1060.8 C446.6,1060.8 446.6,1112.2 462.8,1112.2" fill="none" stroke="#8CD848" stroke-width="0.9" stroke-opacity="0.85"/>
<path d="M430.4,1102.4 C446.6,1102.4 446.6,1115.3 462.8,1115.3" fill="none" stroke="#8CD848" stroke-width="0.9" stroke-opacity="0.85"/>
<path d="M430.4,1085.4 C446.6,1085.4 446.6,1113.4 462.8,1113.4" fill="none" stroke="#8CD848" stroke-width="0.9" stroke-opacity="0.85"/>
<path d="M430.4,1079.4 C446.6,1079.4 446.6,1114.6 462.8,1114.6" fill="none" stroke="#8CD848" stroke-width="0.9" stroke-opacity="0.85"/>
<path d="M430.4,1071.6 C446.6,1071.6 446.6,1117.4 462.8,1117.4" fill="none" stroke="#8CD848" stroke-width="0.9" stroke-opacity="0.85"/>
<path d="M430.4,1083.3 C446.6,1083.3 446.6,1122.0 462.8,1122.0" fill="none" stroke="#8CD848" stroke-width="0.9" stroke-opacity="0.85"/>
<path d="M430.4,1088.2 C446.6,1088.2 446.6,1122.3 462.8,1122.3" fill="none" stroke="#8CD848" stroke-width="0.9" stroke-opacity="0.85"/>
<path d="M430.4,1096.9 C446.6,1096.9 446.6,1123.2 462.8,1123.2" fill="none" stroke="#8CD848" stroke-width="0.9" stroke-opacity="0.85"/>
<path d="M430.4,1087.6 C446.6,1087.6 446.6,1111.4 462.8,1111.4" fill="none" stroke="#8CD848" stroke-width="0.9" stroke-opacity="0.85"/>
<line x1="304.30" y1="554.10" x2="310.50" y2="554.10" stroke="#444" stroke-width="1.6"/>
<line x1="310.5" y1="554.10" x2="1325" y2="554.10" stroke="#a8a8a8" stroke-width="1.1" stroke-dasharray="4.2 3.2"/>
<text x="0" y="0" font-size="20.5" font-family='"Liberation Sans", Arial, sans-serif' text-anchor="middle" textLength="9.3" lengthAdjust="spacingAndGlyphs" transform="translate(285.6 554.10) rotate(90)">0</text>
<line x1="304.30" y1="592.73" x2="310.50" y2="592.73" stroke="#444" stroke-width="1.6"/>
<line x1="310.5" y1="592.73" x2="1325" y2="592.73" stroke="#a8a8a8" stroke-width="1.1" stroke-dasharray="4.2 3.2"/>
<text x="0" y="0" font-size="20.5" font-family='"Liberation Sans", Arial, sans-serif' text-anchor="middle" textLength="18.6" lengthAdjust="spacingAndGlyphs" transform="translate(285.6 592.73) rotate(90)">25</text>
<line x1="304.30" y1="631.36" x2="310.50" y2="631.36" stroke="#444" stroke-width="1.6"/>
<line x1="310.5" y1="631.36" x2="1325" y2="631.36" stroke="#a8a8a8" stroke-width="1.1" stroke-dasharray="4.2 3.2"/>
<text x="0" y="0" font-size="20.5" font-family='"Liberation Sans", Arial, sans-serif' text-anchor="middle" textLength="18.6" lengthAdjust="spacingAndGlyphs" transform="translate(285.6 631.36) rotate(90)">50</text>
<line x1="304.30" y1="669.99" x2="310.50" y2="669.99" stroke="#444" stroke-width="1.6"/>
<line x1="310.5" y1="669.99" x2="1325" y2="669.99" stroke="#a8a8a8" stroke-width="1.1" stroke-dasharray="4.2 3.2"/>
<text x="0" y="0" font-size="20.5" font-family='"Liberation Sans", Arial, sans-serif' text-anchor="middle" textLength="18.6" lengthAdjust="spacingAndGlyphs" transform="translate(285.6 669.99) rotate(90)">75</text>
<line x1="304.30" y1="708.62" x2="310.50" y2="708.62" stroke="#444" stroke-width="1.6"/>
<line x1="310.5" y1="708.62" x2="1325" y2="708.62" stroke="#a8a8a8" stroke-width="1.1" stroke-dasharray="4.2 3.2"/>
<text x="0" y="0" font-size="20.5" font-family='"Liberation Sans", Arial, sans-serif' text-anchor="middle" textLength="27.9" lengthAdjust="spacingAndGlyphs" transform="translate(285.6 708.62) rotate(90)">100</text>
<line x1="304.30" y1="747.25" x2="310.50" y2="747.25" stroke="#444" stroke-width="1.6"/>
<line x1="310.5" y1="747.25" x2="1325" y2="747.25" stroke="#a8a8a8" stroke-width="1.1" stroke-dasharray="4.2 3.2"/>
<text x="0" y="0" font-size="20.5" font-family='"Liberation Sans", Arial, sans-serif' text-anchor="middle" textLength="27.9" lengthAdjust="spacingAndGlyphs" transform="translate(285.6 747.25) rotate(90)">125</text>
<line x1="304.30" y1="785.88" x2="310.50" y2="785.88" stroke="#444" stroke-width="1.6"/>
<line x1="310.5" y1="785.88" x2="1325" y2="785.88" stroke="#a8a8a8" stroke-width="1.1" stroke-dasharray="4.2 3.2"/>
<text x="0" y="0" font-size="20.5" font-family='"Liberation Sans", Arial, sans-serif' text-anchor="middle" textLength="27.9" lengthAdjust="spacingAndGlyphs" transform="translate(285.6 785.88) rotate(90)">150</text>
<line x1="304.30" y1="824.51" x2="310.50" y2="824.51" stroke="#444" stroke-width="1.6"/>
<line x1="310.5" y1="824.51" x2="1325" y2="824.51" stroke="#a8a8a8" stroke-width="1.1" stroke-dasharray="4.2 3.2"/>
<text x="0" y="0" font-size="20.5" font-family='"Liberation Sans", Arial, sans-serif' text-anchor="middle" textLength="27.9" lengthAdjust="spacingAndGlyphs" transform="translate(285.6 824.51) rotate(90)">175</text>
<line x1="304.30" y1="870.30" x2="310.50" y2="870.30" stroke="#444" stroke-width="1.6"/>
<line x1="310.5" y1="870.30" x2="1325" y2="870.30" stroke="#a8a8a8" stroke-width="1.1" stroke-dasharray="4.2 3.2"/>
<text x="0" y="0" font-size="20.5" font-family='"Liberation Sans", Arial, sans-serif' text-anchor="middle" textLength="9.3" lengthAdjust="spacingAndGlyphs" transform="translate(285.6 870.30) rotate(90)">0</text>
<line x1="304.30" y1="908.96" x2="310.50" y2="908.96" stroke="#444" stroke-width="1.6"/>
<line x1="310.5" y1="908.96" x2="1325" y2="908.96" stroke="#a8a8a8" stroke-width="1.1" stroke-dasharray="4.2 3.2"/>
<text x="0" y="0" font-size="20.5" font-family='"Liberation Sans", Arial, sans-serif' text-anchor="middle" textLength="18.6" lengthAdjust="spacingAndGlyphs" transform="translate(285.6 908.96) rotate(90)">25</text>
<line x1="304.30" y1="947.62" x2="310.50" y2="947.62" stroke="#444" stroke-width="1.6"/>
<line x1="310.5" y1="947.62" x2="1325" y2="947.62" stroke="#a8a8a8" stroke-width="1.1" stroke-dasharray="4.2 3.2"/>
<text x="0" y="0" font-size="20.5" font-family='"Liberation Sans", Arial, sans-serif' text-anchor="middle" textLength="18.6" lengthAdjust="spacingAndGlyphs" transform="translate(285.6 947.62) rotate(90)">50</text>
<line x1="304.30" y1="986.27" x2="310.50" y2="986.27" stroke="#444" stroke-width="1.6"/>
<line x1="310.5" y1="986.27" x2="1325" y2="986.27" stroke="#a8a8a8" stroke-width="1.1" stroke-dasharray="4.2 3.2"/>
<text x="0" y="0" font-size="20.5" font-family='"Liberation Sans", Arial, sans-serif' text-anchor="middle" textLength="18.6" lengthAdjust="spacingAndGlyphs" transform="translate(285.6 986.27) rotate(90)">75</text>
<line x1="304.30" y1="1024.93" x2="310.50" y2="1024.93" stroke="#444" stroke-width="1.6"/>
<line x1="310.5" y1="1024.93" x2="1325" y2="1024.93" stroke="#a8a8a8" stroke-width="1.1" stroke-dasharray="4.2 3.2"/>
<text x="0" y="0" font-size="20.5" font-family='"Liberation Sans", Arial, sans-serif' text-anchor="middle" textLength="27.9" lengthAdjust="spacingAndGlyphs" transform="translate(285.6 1024.93) rotate(90)">100</text>
<line x1="304.30" y1="1063.59" x2="310.50" y2="1063.59" stroke="#444" stroke-width="1.6"/>
<line x1="310.5" y1="1063.59" x2="1325" y2="1063.59" stroke="#a8a8a8" stroke-width="1.1" stroke-dasharray="4.2 3.2"/>
<text x="0" y="0" font-size="20.5" font-family='"Liberation Sans", Arial, sans-serif' text-anchor="middle" textLength="27.9" lengthAdjust="spacingAndGlyphs" transform="translate(285.6 1063.59) rotate(90)">125</text>
<line x1="304.30" y1="1102.24" x2="310.50" y2="1102.24" stroke="#444" stroke-width="1.6"/>
<line x1="310.5" y1="1102.24" x2="1325" y2="1102.24" stroke="#a8a8a8" stroke-width="1.1" stroke-dasharray="4.2 3.2"/>
<text x="0" y="0" font-size="20.5" font-family='"Liberation Sans", Arial, sans-serif' text-anchor="middle" textLength="27.9" lengthAdjust="spacingAndGlyphs" transform="translate(285.6 1102.24) rotate(90)">150</text>
<line x1="304.30" y1="1140.90" x2="310.50" y2="1140.90" stroke="#444" stroke-width="1.6"/>
<line x1="310.5" y1="1140.90" x2="1325" y2="1140.90" stroke="#a8a8a8" stroke-width="1.1" stroke-dasharray="4.2 3.2"/>
<text x="0" y="0" font-size="20.5" font-family='"Liberation Sans", Arial, sans-serif' text-anchor="middle" textLength="27.9" lengthAdjust="spacingAndGlyphs" transform="translate(285.6 1140.90) rotate(90)">175</text>
<line x1="329.60" y1="554.10" x2="329.60" y2="781.80" stroke="#3DA535" stroke-width="2.8"/>
<line x1="364.30" y1="554.10" x2="364.30" y2="820.00" stroke="#F07426" stroke-width="2.8"/>
<line x1="399.10" y1="554.10" x2="399.10" y2="789.30" stroke="#3A7DBF" stroke-width="2.8"/>
<rect x="362.10" y="659.40" width="4.40" height="19.20" fill="#000"/>
<line x1="429.25" y1="554.10" x2="429.25" y2="780.40" stroke="#3DA535" stroke-width="2.8"/>
<line x1="463.95" y1="554.10" x2="463.95" y2="807.30" stroke="#F07426" stroke-width="2.8"/>
<line x1="498.75" y1="554.10" x2="498.75" y2="740.20" stroke="#3A7DBF" stroke-width="2.8"/>
<rect x="461.75" y="676.90" width="4.40" height="21.70" fill="#000"/>
<line x1="528.90" y1="554.10" x2="528.90" y2="753.80" stroke="#3DA535" stroke-width="2.8"/>
<line x1="563.60" y1="554.10" x2="563.60" y2="732.20" stroke="#F07426" stroke-width="2.8"/>
<line x1="598.40" y1="554.10" x2="598.40" y2="630.20" stroke="#3A7DBF" stroke-width="2.8"/>
<rect x="561.40" y="580.90" width="4.40" height="7.80" fill="#000"/>
<line x1="628.55" y1="554.10" x2="628.55" y2="748.60" stroke="#3DA535" stroke-width="2.8"/>
<line x1="663.25" y1="554.10" x2="663.25" y2="712.00" stroke="#F07426" stroke-width="2.8"/>
<line x1="698.05" y1="554.10" x2="698.05" y2="675.60" stroke="#3A7DBF" stroke-width="2.8"/>
<rect x="661.05" y="613.50" width="4.40" height="8.30" fill="#000"/>
<line x1="728.20" y1="554.10" x2="728.20" y2="765.00" stroke="#3DA535" stroke-width="2.8"/>
<line x1="762.90" y1="554.10" x2="762.90" y2="833.10" stroke="#F07426" stroke-width="2.8"/>
<line x1="797.70" y1="554.10" x2="797.70" y2="727.10" stroke="#3A7DBF" stroke-width="2.8"/>
<rect x="760.70" y="694.80" width="4.40" height="7.40" fill="#000"/>
<line x1="827.85" y1="554.10" x2="827.85" y2="784.70" stroke="#3DA535" stroke-width="2.8"/>
<line x1="862.55" y1="554.10" x2="862.55" y2="801.80" stroke="#F07426" stroke-width="2.8"/>
<line x1="897.35" y1="554.10" x2="897.35" y2="723.80" stroke="#3A7DBF" stroke-width="2.8"/>
<rect x="860.35" y="688.20" width="4.40" height="5.60" fill="#000"/>
<line x1="927.50" y1="554.10" x2="927.50" y2="759.40" stroke="#3DA535" stroke-width="2.8"/>
<line x1="962.20" y1="554.10" x2="962.20" y2="826.50" stroke="#F07426" stroke-width="2.8"/>
<line x1="997.00" y1="554.10" x2="997.00" y2="744.20" stroke="#3A7DBF" stroke-width="2.8"/>
<rect x="960.00" y="684.50" width="4.40" height="12.10" fill="#000"/>
<line x1="1027.15" y1="554.10" x2="1027.15" y2="763.30" stroke="#3DA535" stroke-width="2.8"/>
<line x1="1061.85" y1="554.10" x2="1061.85" y2="859.40" stroke="#F07426" stroke-width="2.8"/>
<line x1="1096.65" y1="554.10" x2="1096.65" y2="761.70" stroke="#3A7DBF" stroke-width="2.8"/>
<rect x="1059.65" y="719.10" width="4.40" height="16.80" fill="#000"/>
<line x1="1126.80" y1="554.10" x2="1126.80" y2="721.50" stroke="#3DA535" stroke-width="2.8"/>
<line x1="1161.50" y1="554.10" x2="1161.50" y2="799.50" stroke="#F07426" stroke-width="2.8"/>
<line x1="1196.30" y1="554.10" x2="1196.30" y2="698.50" stroke="#3A7DBF" stroke-width="2.8"/>
<rect x="1159.30" y="653.20" width="4.40" height="10.70" fill="#000"/>
<line x1="1226.45" y1="554.10" x2="1226.45" y2="765.00" stroke="#3DA535" stroke-width="2.8"/>
<line x1="1261.15" y1="554.10" x2="1261.15" y2="825.90" stroke="#F07426" stroke-width="2.8"/>
<line x1="1295.95" y1="554.10" x2="1295.95" y2="718.90" stroke="#3A7DBF" stroke-width="2.8"/>
<rect x="1258.95" y="721.90" width="4.40" height="6.60" fill="#000"/>
<line x1="329.60" y1="870.30" x2="329.60" y2="1104.00" stroke="#3DA535" stroke-width="2.8"/>
<line x1="364.30" y1="870.30" x2="364.30" y2="1136.20" stroke="#F07426" stroke-width="2.8"/>
<line x1="399.10" y1="870.30" x2="399.10" y2="1063.10" stroke="#3A7DBF" stroke-width="2.8"/>
<rect x="362.10" y="976.40" width="4.40" height="19.20" fill="#000"/>
<line x1="429.25" y1="870.30" x2="429.25" y2="1117.70" stroke="#3DA535" stroke-width="2.8"/>
<line x1="463.95" y1="870.30" x2="463.95" y2="1124.30" stroke="#F07426" stroke-width="2.8"/>
<line x1="498.75" y1="870.30" x2="498.75" y2="1065.00" stroke="#3A7DBF" stroke-width="2.8"/>
<rect x="461.75" y="993.90" width="4.40" height="20.90" fill="#000"/>
<line x1="528.90" y1="870.30" x2="528.90" y2="1083.50" stroke="#3DA535" stroke-width="2.8"/>
<line x1="563.60" y1="870.30" x2="563.60" y2="1048.50" stroke="#F07426" stroke-width="2.8"/>
<line x1="598.40" y1="870.30" x2="598.40" y2="963.70" stroke="#3A7DBF" stroke-width="2.8"/>
<rect x="561.40" y="897.10" width="4.40" height="8.30" fill="#000"/>
<line x1="628.55" y1="870.30" x2="628.55" y2="1087.00" stroke="#3DA535" stroke-width="2.8"/>
<line x1="663.25" y1="870.30" x2="663.25" y2="1028.60" stroke="#F07426" stroke-width="2.8"/>
<line x1="698.05" y1="870.30" x2="698.05" y2="1013.60" stroke="#3A7DBF" stroke-width="2.8"/>
<rect x="661.05" y="930.50" width="4.40" height="8.30" fill="#000"/>
<line x1="728.20" y1="870.30" x2="728.20" y2="1105.20" stroke="#3DA535" stroke-width="2.8"/>
<line x1="762.90" y1="870.30" x2="762.90" y2="1149.70" stroke="#F07426" stroke-width="2.8"/>
<line x1="797.70" y1="870.30" x2="797.70" y2="1070.70" stroke="#3A7DBF" stroke-width="2.8"/>
<rect x="760.70" y="1011.80" width="4.40" height="7.40" fill="#000"/>
<line x1="827.85" y1="870.30" x2="827.85" y2="1115.10" stroke="#3DA535" stroke-width="2.8"/>
<line x1="862.55" y1="870.30" x2="862.55" y2="1119.00" stroke="#F07426" stroke-width="2.8"/>
<line x1="897.35" y1="870.30" x2="897.35" y2="1051.90" stroke="#3A7DBF" stroke-width="2.8"/>
<rect x="860.35" y="1005.20" width="4.40" height="5.60" fill="#000"/>
<line x1="927.50" y1="870.30" x2="927.50" y2="1078.90" stroke="#3DA535" stroke-width="2.8"/>
<line x1="962.20" y1="870.30" x2="962.20" y2="1143.10" stroke="#F07426" stroke-width="2.8"/>
<line x1="997.00" y1="870.30" x2="997.00" y2="1076.60" stroke="#3A7DBF" stroke-width="2.8"/>
<rect x="960.00" y="1001.50" width="4.40" height="11.80" fill="#000"/>
<line x1="1027.15" y1="870.30" x2="1027.15" y2="1097.00" stroke="#3DA535" stroke-width="2.8"/>
<line x1="1061.85" y1="870.30" x2="1061.85" y2="1176.70" stroke="#F07426" stroke-width="2.8"/>
<line x1="1096.65" y1="870.30" x2="1096.65" y2="1096.00" stroke="#3A7DBF" stroke-width="2.8"/>
<rect x="1059.65" y="1036.10" width="4.40" height="16.80" fill="#000"/>
<line x1="1126.80" y1="870.30" x2="1126.80" y2="1062.40" stroke="#3DA535" stroke-width="2.8"/>
<line x1="1161.50" y1="870.30" x2="1161.50" y2="1116.10" stroke="#F07426" stroke-width="2.8"/>
<line x1="1196.30" y1="870.30" x2="1196.30" y2="1035.40" stroke="#3A7DBF" stroke-width="2.8"/>
<rect x="1159.30" y="970.20" width="4.40" height="10.70" fill="#000"/>
<line x1="1226.45" y1="870.30" x2="1226.45" y2="1103.60" stroke="#3DA535" stroke-width="2.8"/>
<line x1="1261.15" y1="870.30" x2="1261.15" y2="1142.40" stroke="#F07426" stroke-width="2.8"/>
<line x1="1295.95" y1="870.30" x2="1295.95" y2="1048.30" stroke="#3A7DBF" stroke-width="2.8"/>
<rect x="1258.95" y="1038.00" width="4.40" height="7.50" fill="#000"/>
</svg>
</body></html>
